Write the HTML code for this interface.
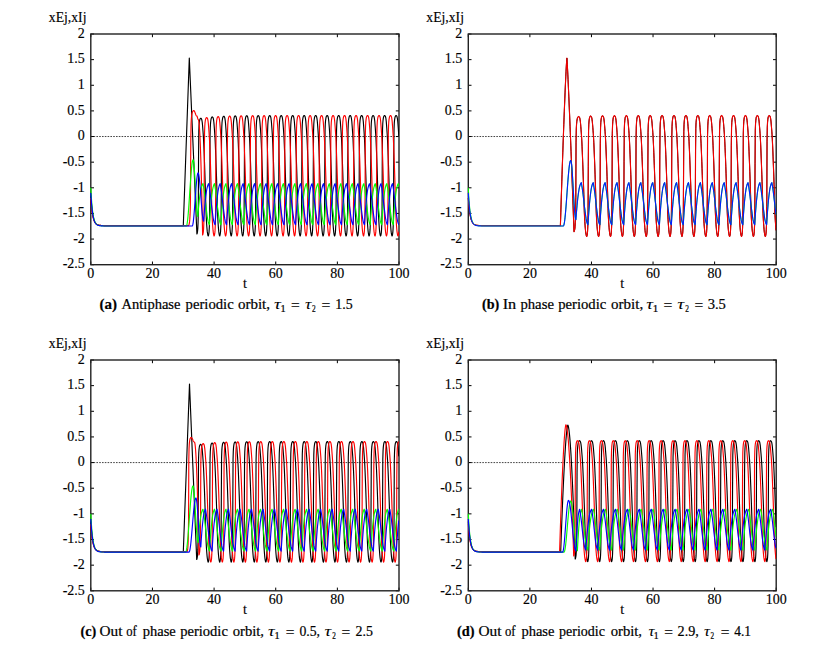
<!DOCTYPE html>
<html><head><meta charset="utf-8"><style>
html,body{margin:0;padding:0;background:#fff;width:819px;height:648px;overflow:hidden}
svg{display:block}
</style></head><body>
<svg width="819" height="648" viewBox="0 0 819 648" font-family='"Liberation Serif", serif' font-size="14" fill="#000">
<style>text{stroke:#000;stroke-width:0.15px} .cp text{stroke-width:0.22px}</style>
<line x1="90.8" y1="136.53" x2="399.0" y2="136.53" stroke="#444" stroke-width="1" stroke-dasharray="1.6,1.2"/>
<path d="M90.8,34.00h3.2M399.0,34.00h-3.2M90.8,59.63h3.2M399.0,59.63h-3.2M90.8,85.27h3.2M399.0,85.27h-3.2M90.8,110.90h3.2M399.0,110.90h-3.2M90.8,136.53h3.2M399.0,136.53h-3.2M90.8,162.17h3.2M399.0,162.17h-3.2M90.8,187.80h3.2M399.0,187.80h-3.2M90.8,213.43h3.2M399.0,213.43h-3.2M90.8,239.07h3.2M399.0,239.07h-3.2M90.8,264.70h3.2M399.0,264.70h-3.2M90.80,34.0v3.2M90.80,264.7v-3.2M152.44,34.0v3.2M152.44,264.7v-3.2M214.08,34.0v3.2M214.08,264.7v-3.2M275.72,34.0v3.2M275.72,264.7v-3.2M337.36,34.0v3.2M337.36,264.7v-3.2M399.00,34.0v3.2M399.00,264.7v-3.2" stroke="#000" stroke-width="1" fill="none"/>
<rect x="90.8" y="34.0" width="308.20" height="230.70" fill="none" stroke="#222" stroke-width="1.4"/>
<clipPath id="clipa"><rect x="89.8" y="33.5" width="309.2" height="231.7"/></clipPath>
<g clip-path="url(#clipa)" fill="none" stroke-width="1.15" stroke-linejoin="round">
<polyline stroke="#000000" points="90.80,195.49 91.05,199.20 91.30,202.45 91.55,205.30 91.80,207.80 92.05,210.00 92.30,211.92 92.55,213.60 92.80,215.08 93.05,216.38 93.30,217.51 93.55,218.51 93.80,219.38 94.05,220.14 94.30,220.81 94.55,221.40 94.80,221.92 95.05,222.37 95.30,222.77 95.55,223.11 95.80,223.42 96.05,223.68 96.30,223.92 96.55,224.12 96.80,224.30 97.05,224.46 97.30,224.60 97.55,224.72 97.80,224.83 98.05,224.92 98.30,225.00 98.55,225.07 98.80,225.14 99.05,225.19 99.30,225.24 99.55,225.28 99.80,225.32 100.05,225.35 100.30,225.38 100.55,225.41 100.80,225.43 101.05,225.45 101.30,225.46 101.55,225.48 101.80,225.49 102.05,225.50 102.30,225.51 102.55,225.52 102.80,225.53 103.05,225.54 103.30,225.54 103.55,225.55 103.80,225.55 104.05,225.56 104.30,225.56 104.55,225.56 104.80,225.56 105.05,225.57 105.30,225.57 105.55,225.57 105.80,225.57 106.05,225.57 106.30,225.57 106.55,225.58 106.80,225.58 107.05,225.58 107.30,225.58 107.55,225.58 107.80,225.58 108.05,225.58 108.30,225.58 108.55,225.58 108.80,225.58 109.05,225.58 109.30,225.58 109.55,225.58 109.80,225.58 110.05,225.58 110.30,225.58 110.55,225.58 110.80,225.58 111.05,225.58 111.30,225.58 111.55,225.58 111.80,225.58 112.05,225.58 112.30,225.58 112.55,225.58 112.80,225.58 113.05,225.58 113.30,225.58 113.55,225.58 113.80,225.58 114.05,225.58 114.30,225.58 114.55,225.58 114.80,225.58 115.05,225.58 115.30,225.58 115.55,225.58 115.80,225.58 116.05,225.58 116.30,225.58 116.55,225.58 116.80,225.58 117.05,225.58 117.30,225.58 117.55,225.58 117.80,225.58 118.05,225.58 118.30,225.58 118.55,225.58 118.80,225.58 119.05,225.58 119.30,225.58 119.55,225.58 119.80,225.58 120.05,225.58 120.30,225.58 120.55,225.58 120.80,225.58 121.05,225.58 121.30,225.58 121.55,225.58 121.80,225.58 122.05,225.58 122.30,225.58 122.55,225.58 122.80,225.58 123.05,225.58 123.30,225.58 123.55,225.58 123.80,225.58 124.05,225.58 124.30,225.58 124.55,225.58 124.80,225.58 125.05,225.58 125.30,225.58 125.55,225.58 125.80,225.58 126.05,225.58 126.30,225.58 126.55,225.58 126.80,225.58 127.05,225.58 127.30,225.58 127.55,225.58 127.80,225.58 128.05,225.58 128.30,225.58 128.55,225.58 128.80,225.58 129.05,225.58 129.30,225.58 129.55,225.58 129.80,225.58 130.05,225.58 130.30,225.58 130.55,225.58 130.80,225.58 131.05,225.58 131.30,225.58 131.55,225.58 131.80,225.58 132.05,225.58 132.30,225.58 132.55,225.58 132.80,225.58 133.05,225.58 133.30,225.58 133.55,225.58 133.80,225.58 134.05,225.58 134.30,225.58 134.55,225.58 134.80,225.58 135.05,225.58 135.30,225.58 135.55,225.58 135.80,225.58 136.05,225.58 136.30,225.58 136.55,225.58 136.80,225.58 137.05,225.58 137.30,225.58 137.55,225.58 137.80,225.58 138.05,225.58 138.30,225.58 138.55,225.58 138.80,225.58 139.05,225.58 139.30,225.58 139.55,225.58 139.80,225.58 140.05,225.58 140.30,225.58 140.55,225.58 140.80,225.58 141.05,225.58 141.30,225.58 141.55,225.58 141.80,225.58 142.05,225.58 142.30,225.58 142.55,225.58 142.80,225.58 143.05,225.58 143.30,225.58 143.55,225.58 143.80,225.58 144.05,225.58 144.30,225.58 144.55,225.58 144.80,225.58 145.05,225.58 145.30,225.58 145.55,225.58 145.80,225.58 146.05,225.58 146.30,225.58 146.55,225.58 146.80,225.58 147.05,225.58 147.30,225.58 147.55,225.58 147.80,225.58 148.05,225.58 148.30,225.58 148.55,225.58 148.80,225.58 149.05,225.58 149.30,225.58 149.55,225.58 149.80,225.58 150.05,225.58 150.30,225.58 150.55,225.58 150.80,225.58 151.05,225.58 151.30,225.58 151.55,225.58 151.80,225.58 152.05,225.58 152.30,225.58 152.55,225.58 152.80,225.58 153.05,225.58 153.30,225.58 153.55,225.58 153.80,225.58 154.05,225.58 154.30,225.58 154.55,225.58 154.80,225.58 155.05,225.58 155.30,225.58 155.55,225.58 155.80,225.58 156.05,225.58 156.30,225.58 156.55,225.58 156.80,225.58 157.05,225.58 157.30,225.58 157.55,225.58 157.80,225.58 158.05,225.58 158.30,225.58 158.55,225.58 158.80,225.58 159.05,225.58 159.30,225.58 159.55,225.58 159.80,225.58 160.05,225.58 160.30,225.58 160.55,225.58 160.80,225.58 161.05,225.58 161.30,225.58 161.55,225.58 161.80,225.58 162.05,225.58 162.30,225.58 162.55,225.58 162.80,225.58 163.05,225.58 163.30,225.58 163.55,225.58 163.80,225.58 164.05,225.58 164.30,225.58 164.55,225.58 164.80,225.58 165.05,225.58 165.30,225.58 165.55,225.58 165.80,225.58 166.05,225.58 166.30,225.58 166.55,225.58 166.80,225.58 167.05,225.58 167.30,225.58 167.55,225.58 167.80,225.58 168.05,225.58 168.30,225.58 168.55,225.58 168.80,225.58 169.05,225.58 169.30,225.58 169.55,225.58 169.80,225.58 170.05,225.58 170.30,225.58 170.55,225.58 170.80,225.58 171.05,225.58 171.30,225.58 171.55,225.58 171.80,225.58 172.05,225.58 172.30,225.58 172.55,225.58 172.80,225.58 173.05,225.58 173.30,225.58 173.55,225.58 173.80,225.58 174.05,225.58 174.30,225.58 174.55,225.58 174.80,225.58 175.05,225.58 175.30,225.58 175.55,225.58 175.80,225.58 176.05,225.58 176.30,225.58 176.55,225.58 176.80,225.58 177.05,225.58 177.30,225.58 177.55,225.58 177.80,225.58 178.05,225.58 178.30,225.58 178.55,225.58 178.80,225.58 179.05,225.58 179.30,225.58 179.55,225.58 179.80,225.58 180.05,225.58 180.30,225.58 180.55,225.58 180.80,225.58 181.05,225.58 181.30,225.58 181.55,225.58 181.80,225.58 182.05,225.58 182.30,225.58 182.55,225.58 182.80,225.58 183.05,225.58 183.30,225.58 183.30,225.58 183.55,218.60 183.80,211.63 184.05,204.65 184.30,197.67 184.55,190.69 184.80,183.71 185.05,176.73 185.30,169.75 185.55,162.78 185.80,155.80 186.05,148.82 186.30,141.84 186.55,134.86 186.80,127.88 187.05,120.90 187.30,113.92 187.55,106.95 187.80,99.97 188.05,92.99 188.30,86.01 188.55,79.03 188.80,72.05 189.05,65.07 189.30,58.10 189.30,58.10 189.55,63.88 189.80,69.66 190.05,75.45 190.30,81.23 190.55,87.02 190.80,92.80 191.05,98.59 191.30,104.37 191.55,110.15 191.80,115.94 192.05,121.72 192.30,127.51 192.55,133.29 192.80,139.08 193.05,144.86 193.30,150.65 193.55,156.43 193.80,162.21 194.05,168.00 194.30,173.78 194.55,179.57 194.80,185.35 195.05,191.14 195.30,196.92 195.55,202.70 195.80,208.49 196.05,214.27 196.30,220.06 196.55,225.84 196.80,231.63 196.90,233.94 197.05,233.76 197.30,232.81 197.55,231.28 197.80,228.47 198.05,222.93 198.30,210.78 198.55,156.23 198.80,131.07 199.05,125.30 199.30,122.58 199.55,120.83 199.80,119.64 200.05,118.99 200.30,118.60 200.55,118.33 200.80,118.23 200.80,118.23 201.05,118.34 201.30,118.65 201.55,119.08 201.80,119.80 202.05,121.15 202.30,122.91 202.55,125.52 202.80,128.82 203.05,132.04 203.30,135.52 203.55,139.65 203.80,144.85 204.05,150.88 204.30,157.30 204.55,164.08 204.80,171.36 205.05,178.97 205.30,186.70 205.55,195.15 205.80,204.15 206.05,212.27 206.30,218.18 206.55,222.60 206.80,226.18 207.05,229.34 207.30,231.89 207.55,233.51 207.80,234.85 208.05,235.76 208.21,235.99 208.30,235.93 208.55,235.20 208.80,233.85 209.05,231.82 209.30,227.50 209.55,219.90 209.80,193.85 210.05,135.81 210.30,127.28 210.55,122.99 210.80,120.78 211.05,119.21 211.30,118.17 211.55,117.62 211.80,117.25 212.05,117.00 212.29,116.91 212.30,116.91 212.55,117.03 212.80,117.34 213.05,117.78 213.30,118.54 213.55,119.93 213.80,121.72 214.05,124.41 214.30,127.74 214.55,131.01 214.80,134.55 215.05,138.76 215.30,144.05 215.55,150.18 215.80,156.68 216.05,163.55 216.30,170.94 216.55,178.64 216.80,186.46 217.05,195.05 217.30,204.15 217.55,212.29 217.80,218.18 218.05,222.61 218.30,226.20 218.55,229.38 218.80,231.92 219.05,233.54 219.30,234.89 219.55,235.78 219.70,235.99 219.80,235.92 220.05,235.16 220.30,233.77 220.55,231.67 220.80,227.22 221.05,219.33 221.30,190.66 221.55,134.78 221.80,126.42 222.05,122.23 222.30,120.05 222.55,118.50 222.80,117.46 223.05,116.93 223.30,116.56 223.55,116.31 223.78,116.23 223.80,116.23 224.05,116.36 224.30,116.68 224.55,117.13 224.80,117.92 225.05,119.33 225.30,121.14 225.55,123.90 225.80,127.26 226.05,130.54 226.30,134.12 226.55,138.39 226.80,143.76 227.05,149.95 227.30,156.49 227.55,163.43 227.80,170.87 228.05,178.62 228.30,186.50 228.55,195.19 228.80,204.32 229.05,212.44 229.30,218.28 229.55,222.69 229.80,226.28 230.05,229.46 230.30,231.98 230.55,233.59 230.80,234.93 231.05,235.80 231.19,235.99 231.30,235.90 231.55,235.11 231.80,233.70 232.05,231.53 232.30,226.96 232.55,218.78 232.80,187.45 233.05,134.05 233.30,125.87 233.55,121.79 233.80,119.64 234.05,118.10 234.30,117.09 234.55,116.56 234.80,116.20 235.05,115.96 235.27,115.88 235.30,115.88 235.55,116.03 235.80,116.35 236.05,116.80 236.30,117.62 236.55,119.06 236.80,120.89 237.05,123.71 237.30,127.07 237.55,130.37 237.80,133.98 238.05,138.30 238.30,143.73 238.55,149.96 238.80,156.53 239.05,163.51 239.30,170.99 239.55,178.77 239.80,186.67 240.05,195.44 240.30,204.59 240.55,212.65 240.80,218.43 241.05,222.81 241.30,226.38 241.55,229.56 241.80,232.04 242.05,233.64 242.30,234.97 242.55,235.82 242.68,235.99 242.80,235.88 243.05,235.06 243.30,233.63 243.55,231.39 243.80,226.71 244.05,218.23 244.30,184.24 244.55,133.46 244.80,125.48 245.05,121.51 245.30,119.40 245.55,117.88 245.80,116.88 246.05,116.37 246.30,116.01 246.55,115.77 246.76,115.70 246.80,115.71 247.05,115.86 247.30,116.19 247.55,116.64 247.80,117.49 248.05,118.95 248.30,120.81 248.55,123.67 248.80,127.04 249.05,130.35 249.30,133.99 249.55,138.35 249.80,143.83 250.05,150.09 250.30,156.68 250.55,163.69 250.80,171.20 251.05,179.00 251.30,186.93 251.55,195.74 251.80,204.89 252.05,212.90 252.30,218.60 252.55,222.95 252.80,226.50 253.05,229.67 253.30,232.12 253.55,233.70 253.80,235.01 254.05,235.84 254.17,235.99 254.30,235.87 254.55,235.01 254.80,233.56 255.05,231.25 255.30,226.46 255.55,217.67 255.80,181.03 256.05,132.96 256.30,125.17 256.55,121.32 256.80,119.24 257.05,117.74 257.30,116.76 257.55,116.26 257.80,115.91 258.05,115.67 258.25,115.61 258.30,115.62 258.55,115.77 258.80,116.11 259.05,116.57 259.30,117.45 259.55,118.93 259.80,120.81 260.05,123.72 260.30,127.09 260.55,130.40 260.80,134.07 261.05,138.48 261.30,144.00 261.55,150.28 261.80,156.89 262.05,163.93 262.30,171.46 262.55,179.27 262.80,187.22 263.05,196.08 263.30,205.22 263.55,213.16 263.80,218.78 264.05,223.09 264.30,226.63 264.55,229.78 264.80,232.19 265.05,233.75 265.30,235.06 265.55,235.86 265.66,235.99 265.80,235.85 266.05,234.96 266.30,233.50 266.55,231.11 266.80,226.21 267.05,217.09 267.30,177.87 267.55,132.50 267.80,124.91 268.05,121.17 268.30,119.12 268.55,117.64 268.80,116.69 269.05,116.20 269.30,115.85 269.55,115.62 269.74,115.56 269.80,115.57 270.05,115.74 270.30,116.08 270.55,116.55 270.80,117.45 271.05,118.95 271.30,120.86 271.55,123.81 271.80,127.18 272.05,130.50 272.30,134.19 272.55,138.64 272.80,144.20 273.05,150.51 273.30,157.13 273.55,164.19 273.80,171.74 274.05,179.57 274.30,187.53 274.55,196.44 274.80,205.56 275.05,213.42 275.30,218.96 275.55,223.24 275.80,226.76 276.05,229.89 276.30,232.26 276.55,233.81 276.80,235.10 277.05,235.88 277.15,235.99 277.30,235.83 277.55,234.91 277.80,233.43 278.05,230.96 278.30,225.96 278.55,216.48 278.80,174.81 279.05,132.08 279.30,124.68 279.55,121.04 279.80,119.03 280.05,117.57 280.30,116.63 280.55,116.16 280.80,115.81 281.05,115.59 281.23,115.54 281.30,115.55 281.55,115.72 281.80,116.08 282.05,116.54 282.30,117.48 282.55,119.00 282.80,120.93 283.05,123.92 283.30,127.29 283.55,130.62 283.80,134.32 284.05,138.82 284.30,144.43 284.55,150.76 284.80,157.38 285.05,164.47 285.30,172.04 285.55,179.87 285.80,187.85 286.05,196.80 286.30,205.90 286.55,213.68 286.80,219.15 287.05,223.39 287.30,226.89 287.55,230.00 287.80,232.33 288.05,233.87 288.30,235.14 288.55,235.90 288.64,235.99 288.80,235.80 289.05,234.86 289.30,233.36 289.55,230.81 289.80,225.70 290.05,215.86 290.30,171.87 290.55,131.67 290.80,124.47 291.05,120.93 291.30,118.95 291.55,117.51 291.80,116.60 292.05,116.13 292.30,115.79 292.55,115.57 292.72,115.53 292.80,115.54 293.05,115.72 293.30,116.08 293.55,116.56 293.80,117.52 294.05,119.06 294.30,121.01 294.55,124.05 294.80,127.40 295.05,130.75 295.30,134.48 295.55,139.02 295.80,144.66 296.05,151.01 296.30,157.65 296.55,164.76 296.80,172.34 297.05,180.18 297.30,188.18 297.55,197.17 297.80,206.25 298.05,213.94 298.30,219.34 298.55,223.54 298.80,227.02 299.05,230.11 299.30,232.39 299.55,233.93 299.80,235.19 300.05,235.91 300.13,235.99 300.30,235.78 300.55,234.81 300.80,233.29 301.05,230.66 301.30,225.44 301.55,215.20 301.80,169.12 302.05,131.28 302.30,124.26 302.55,120.83 302.80,118.87 303.05,117.46 303.30,116.56 303.55,116.11 303.80,115.77 304.05,115.56 304.21,115.52 304.30,115.54 304.55,115.73 304.80,116.09 305.05,116.57 305.30,117.56 305.55,119.12 305.80,121.11 306.05,124.18 306.30,127.53 306.55,130.88 306.80,134.63 307.05,139.22 307.30,144.90 307.55,151.27 307.80,157.91 308.05,165.05 308.30,172.65 308.55,180.50 308.80,188.52 309.05,197.54 309.30,206.59 309.55,214.20 309.80,219.52 310.05,223.69 310.30,227.15 310.55,230.23 310.80,232.46 311.05,233.98 311.30,235.23 311.55,235.93 311.62,235.99 311.80,235.75 312.05,234.76 312.30,233.22 312.55,230.50 312.80,225.18 313.05,214.52 313.30,166.60 313.55,130.90 313.80,124.07 314.05,120.74 314.30,118.80 314.55,117.41 314.80,116.54 315.05,116.09 315.30,115.75 315.55,115.55 315.70,115.52 315.80,115.54 316.05,115.74 316.30,116.10 316.55,116.60 316.80,117.61 317.05,119.19 317.30,121.21 317.55,124.31 317.80,127.66 318.05,131.02 318.30,134.79 318.55,139.42 318.80,145.14 319.05,151.53 319.30,158.19 319.55,165.35 319.80,172.95 320.05,180.81 320.30,188.86 320.55,197.91 320.80,206.93 321.05,214.45 321.30,219.71 321.55,223.84 321.80,227.28 322.05,230.33 322.30,232.52 322.55,234.04 322.80,235.27 323.05,235.94 323.11,235.99 323.30,235.73 323.55,234.71 323.80,233.15 324.05,230.34 324.30,224.91 324.55,213.81 324.80,164.27 325.05,130.53 325.30,123.88 325.55,120.64 325.80,118.74 326.05,117.36 326.30,116.51 326.55,116.07 326.80,115.74 327.05,115.55 327.19,115.52 327.30,115.54 327.55,115.75 327.80,116.12 328.05,116.62 328.30,117.67 328.55,119.26 328.80,121.31 329.05,124.45 329.30,127.79 329.55,131.15 329.80,134.96 330.05,139.63 330.30,145.38 330.55,151.79 330.80,158.46 331.05,165.64 331.30,173.26 331.55,181.13 331.80,189.20 332.05,198.28 332.30,207.27 332.55,214.70 332.80,219.89 333.05,223.99 333.30,227.41 333.55,230.44 333.80,232.59 334.05,234.10 334.30,235.31 334.55,235.95 334.60,235.99 334.80,235.70 335.05,234.65 335.30,233.08 335.55,230.17 335.80,224.64 336.05,213.07 336.30,161.85 336.55,130.17 336.80,123.70 337.05,120.55 337.30,118.67 337.55,117.32 337.80,116.49 338.05,116.06 338.30,115.73 338.55,115.54 338.68,115.51 338.80,115.54 339.05,115.76 339.30,116.14 339.55,116.65 339.80,117.72 340.05,119.33 340.30,121.41 340.55,124.58 340.80,127.92 341.05,131.30 341.30,135.12 341.55,139.84 341.80,145.63 342.05,152.05 342.30,158.74 342.55,165.94 342.80,173.58 343.05,181.45 343.30,189.55 343.55,198.65 343.80,207.61 344.05,214.94 344.30,220.07 344.55,224.13 344.80,227.54 345.05,230.55 345.30,232.65 345.55,234.15 345.80,235.34 346.05,235.96 346.09,235.99 346.30,235.67 346.55,234.60 346.80,233.01 347.05,230.00 347.30,224.36 347.55,212.29 347.80,159.35 348.05,129.82 348.30,123.53 348.55,120.46 348.80,118.61 349.05,117.27 349.30,116.46 349.55,116.04 349.80,115.72 350.05,115.54 350.17,115.51 350.30,115.55 350.55,115.77 350.80,116.15 351.05,116.68 351.30,117.78 351.55,119.40 351.80,121.52 352.05,124.72 352.30,128.05 352.55,131.44 352.80,135.29 353.05,140.06 353.30,145.88 353.55,152.31 353.80,159.01 354.05,166.24 354.30,173.89 354.55,181.76 354.80,189.90 355.05,199.02 355.30,207.94 355.55,215.18 355.80,220.25 356.05,224.28 356.30,227.67 356.55,230.65 356.80,232.71 357.05,234.21 357.30,235.38 357.55,235.97 357.58,235.99 357.80,235.64 358.05,234.54 358.30,232.94 358.55,229.83 358.80,224.08 359.05,211.49 359.30,156.81 359.55,129.48 359.80,123.35 360.05,120.38 360.30,118.54 360.55,117.23 360.80,116.44 361.05,116.03 361.30,115.71 361.55,115.53 361.66,115.51 361.80,115.55 362.05,115.78 362.30,116.17 362.55,116.71 362.80,117.83 363.05,119.47 363.30,121.63 363.55,124.86 363.80,128.18 364.05,131.58 364.30,135.46 364.55,140.27 364.80,146.13 365.05,152.58 365.30,159.29 365.55,166.54 365.80,174.20 366.05,182.08 366.30,190.25 366.55,199.39 366.80,208.27 367.05,215.42 367.30,220.43 367.55,224.43 367.80,227.80 368.05,230.76 368.30,232.77 368.55,234.26 368.80,235.42 369.05,235.98 369.07,235.99 369.30,235.61 369.55,234.49 369.80,232.87 370.05,229.65 370.30,223.79 370.55,210.65 370.80,154.25 371.05,129.15 371.30,123.19 371.55,120.29 371.80,118.48 372.05,117.19 372.30,116.42 372.55,116.01 372.80,115.70 373.05,115.53 373.15,115.51 373.30,115.56 373.55,115.80 373.80,116.19 374.05,116.74 374.30,117.89 374.55,119.55 374.80,121.75 375.05,124.99 375.30,128.31 375.55,131.72 375.80,135.63 376.05,140.49 376.30,146.38 376.55,152.84 376.80,159.57 377.05,166.84 377.30,174.51 377.55,182.40 377.80,190.60 378.05,199.76 378.30,208.60 378.55,215.65 378.80,220.61 379.05,224.57 379.30,227.93 379.55,230.86 379.80,232.84 380.05,234.32 380.30,235.45 380.55,235.99 380.56,235.99 380.80,235.58 381.05,234.43 381.30,232.79 381.55,229.46 381.80,223.49 382.05,209.78 382.30,151.71 382.55,128.82 382.80,123.03 383.05,120.21 383.30,118.42 383.55,117.15 383.80,116.40 384.05,116.00 384.30,115.69 384.55,115.53 384.64,115.51 384.80,115.56 385.05,115.81 385.30,116.21 385.55,116.77 385.80,117.95 386.05,119.62 386.30,121.86 386.55,125.13 386.80,128.44 387.05,131.87 387.30,135.80 387.55,140.71 387.80,146.63 388.05,153.11 388.30,159.85 388.55,167.14 388.80,174.82 389.05,182.71 389.30,190.95 389.55,200.13 389.80,208.93 390.05,215.87 390.30,220.78 390.55,224.71 390.80,228.06 391.05,230.96 391.30,232.90 391.55,234.37 391.80,235.49 392.05,235.99 392.05,235.99 392.30,235.55 392.55,234.37 392.80,232.71 393.05,229.28 393.30,223.19 393.55,208.87 393.80,149.22 394.05,128.51 394.30,122.87 394.55,120.13 394.80,118.36 395.05,117.11 395.30,116.38 395.55,115.98 395.80,115.68 396.05,115.52 396.13,115.51 396.30,115.57 396.55,115.82 396.80,116.23 397.05,116.81 397.30,118.01 397.55,119.69 397.80,121.98 398.05,125.27 398.30,128.57 398.55,132.01 398.80,135.98"/>
<polyline stroke="#ff0000" points="90.80,198.05 91.05,201.45 91.30,204.42 91.55,207.03 91.80,209.32 92.05,211.32 92.30,213.08 92.55,214.62 92.80,215.97 93.05,217.16 93.30,218.20 93.55,219.11 93.80,219.91 94.05,220.61 94.30,221.22 94.55,221.76 94.80,222.23 95.05,222.64 95.30,223.01 95.55,223.32 95.80,223.60 96.05,223.85 96.30,224.06 96.55,224.25 96.80,224.41 97.05,224.56 97.30,224.68 97.55,224.79 97.80,224.89 98.05,224.98 98.30,225.05 98.55,225.12 98.80,225.18 99.05,225.23 99.30,225.27 99.55,225.31 99.80,225.34 100.05,225.37 100.30,225.40 100.55,225.42 100.80,225.44 101.05,225.46 101.30,225.47 101.55,225.49 101.80,225.50 102.05,225.51 102.30,225.52 102.55,225.53 102.80,225.53 103.05,225.54 103.30,225.55 103.55,225.55 103.80,225.55 104.05,225.56 104.30,225.56 104.55,225.56 104.80,225.57 105.05,225.57 105.30,225.57 105.55,225.57 105.80,225.57 106.05,225.57 106.30,225.58 106.55,225.58 106.80,225.58 107.05,225.58 107.30,225.58 107.55,225.58 107.80,225.58 108.05,225.58 108.30,225.58 108.55,225.58 108.80,225.58 109.05,225.58 109.30,225.58 109.55,225.58 109.80,225.58 110.05,225.58 110.30,225.58 110.55,225.58 110.80,225.58 111.05,225.58 111.30,225.58 111.55,225.58 111.80,225.58 112.05,225.58 112.30,225.58 112.55,225.58 112.80,225.58 113.05,225.58 113.30,225.58 113.55,225.58 113.80,225.58 114.05,225.58 114.30,225.58 114.55,225.58 114.80,225.58 115.05,225.58 115.30,225.58 115.55,225.58 115.80,225.58 116.05,225.58 116.30,225.58 116.55,225.58 116.80,225.58 117.05,225.58 117.30,225.58 117.55,225.58 117.80,225.58 118.05,225.58 118.30,225.58 118.55,225.58 118.80,225.58 119.05,225.58 119.30,225.58 119.55,225.58 119.80,225.58 120.05,225.58 120.30,225.58 120.55,225.58 120.80,225.58 121.05,225.58 121.30,225.58 121.55,225.58 121.80,225.58 122.05,225.58 122.30,225.58 122.55,225.58 122.80,225.58 123.05,225.58 123.30,225.58 123.55,225.58 123.80,225.58 124.05,225.58 124.30,225.58 124.55,225.58 124.80,225.58 125.05,225.58 125.30,225.58 125.55,225.58 125.80,225.58 126.05,225.58 126.30,225.58 126.55,225.58 126.80,225.58 127.05,225.58 127.30,225.58 127.55,225.58 127.80,225.58 128.05,225.58 128.30,225.58 128.55,225.58 128.80,225.58 129.05,225.58 129.30,225.58 129.55,225.58 129.80,225.58 130.05,225.58 130.30,225.58 130.55,225.58 130.80,225.58 131.05,225.58 131.30,225.58 131.55,225.58 131.80,225.58 132.05,225.58 132.30,225.58 132.55,225.58 132.80,225.58 133.05,225.58 133.30,225.58 133.55,225.58 133.80,225.58 134.05,225.58 134.30,225.58 134.55,225.58 134.80,225.58 135.05,225.58 135.30,225.58 135.55,225.58 135.80,225.58 136.05,225.58 136.30,225.58 136.55,225.58 136.80,225.58 137.05,225.58 137.30,225.58 137.55,225.58 137.80,225.58 138.05,225.58 138.30,225.58 138.55,225.58 138.80,225.58 139.05,225.58 139.30,225.58 139.55,225.58 139.80,225.58 140.05,225.58 140.30,225.58 140.55,225.58 140.80,225.58 141.05,225.58 141.30,225.58 141.55,225.58 141.80,225.58 142.05,225.58 142.30,225.58 142.55,225.58 142.80,225.58 143.05,225.58 143.30,225.58 143.55,225.58 143.80,225.58 144.05,225.58 144.30,225.58 144.55,225.58 144.80,225.58 145.05,225.58 145.30,225.58 145.55,225.58 145.80,225.58 146.05,225.58 146.30,225.58 146.55,225.58 146.80,225.58 147.05,225.58 147.30,225.58 147.55,225.58 147.80,225.58 148.05,225.58 148.30,225.58 148.55,225.58 148.80,225.58 149.05,225.58 149.30,225.58 149.55,225.58 149.80,225.58 150.05,225.58 150.30,225.58 150.55,225.58 150.80,225.58 151.05,225.58 151.30,225.58 151.55,225.58 151.80,225.58 152.05,225.58 152.30,225.58 152.55,225.58 152.80,225.58 153.05,225.58 153.30,225.58 153.55,225.58 153.80,225.58 154.05,225.58 154.30,225.58 154.55,225.58 154.80,225.58 155.05,225.58 155.30,225.58 155.55,225.58 155.80,225.58 156.05,225.58 156.30,225.58 156.55,225.58 156.80,225.58 157.05,225.58 157.30,225.58 157.55,225.58 157.80,225.58 158.05,225.58 158.30,225.58 158.55,225.58 158.80,225.58 159.05,225.58 159.30,225.58 159.55,225.58 159.80,225.58 160.05,225.58 160.30,225.58 160.55,225.58 160.80,225.58 161.05,225.58 161.30,225.58 161.55,225.58 161.80,225.58 162.05,225.58 162.30,225.58 162.55,225.58 162.80,225.58 163.05,225.58 163.30,225.58 163.55,225.58 163.80,225.58 164.05,225.58 164.30,225.58 164.55,225.58 164.80,225.58 165.05,225.58 165.30,225.58 165.55,225.58 165.80,225.58 166.05,225.58 166.30,225.58 166.55,225.58 166.80,225.58 167.05,225.58 167.30,225.58 167.55,225.58 167.80,225.58 168.05,225.58 168.30,225.58 168.55,225.58 168.80,225.58 169.05,225.58 169.30,225.58 169.55,225.58 169.80,225.58 170.05,225.58 170.30,225.58 170.55,225.58 170.80,225.58 171.05,225.58 171.30,225.58 171.55,225.58 171.80,225.58 172.05,225.58 172.30,225.58 172.55,225.58 172.80,225.58 173.05,225.58 173.30,225.58 173.55,225.58 173.80,225.58 174.05,225.58 174.30,225.58 174.55,225.58 174.80,225.58 175.05,225.58 175.30,225.58 175.55,225.58 175.80,225.58 176.05,225.58 176.30,225.58 176.55,225.58 176.80,225.58 177.05,225.58 177.30,225.58 177.55,225.58 177.80,225.58 178.05,225.58 178.30,225.58 178.55,225.58 178.80,225.58 179.05,225.58 179.30,225.58 179.55,225.58 179.80,225.58 180.05,225.58 180.30,225.58 180.55,225.58 180.80,225.58 181.05,225.58 181.30,225.58 181.55,225.58 181.80,225.58 182.05,225.58 182.30,225.58 182.55,225.58 182.80,225.58 183.05,225.58 183.30,225.58 183.55,225.58 183.80,225.58 184.05,225.58 184.30,225.58 184.55,225.58 184.80,225.58 185.05,225.58 185.30,225.58 185.55,225.58 185.80,225.58 186.05,225.58 186.30,225.58 186.55,225.58 186.80,225.58 187.05,225.58 187.30,225.58 187.55,225.58 187.80,225.58 188.05,225.58 188.30,225.58 188.50,225.58 188.55,225.57 188.80,225.22 189.05,224.44 189.30,223.35 189.55,221.90 189.80,219.15 190.05,214.90 190.30,207.74 190.55,187.88 190.80,138.04 191.05,124.13 191.30,119.20 191.55,116.37 191.80,114.69 192.05,113.40 192.30,112.42 192.55,111.72 192.80,111.32 193.05,111.03 193.30,110.80 193.55,110.65 193.80,110.59 193.80,110.59 194.05,110.68 194.30,110.96 194.55,111.39 194.80,111.95 195.05,112.61 195.30,113.31 195.55,114.01 195.80,114.67 196.05,115.23 196.30,115.66 196.55,115.93 196.80,116.03 196.80,116.03 197.05,116.27 197.30,116.92 197.55,117.82 197.80,118.72 198.05,119.37 198.30,119.62 198.30,119.62 198.55,120.01 198.80,121.17 199.05,123.12 199.30,125.85 199.55,129.36 199.80,133.65 200.05,138.72 200.30,144.57 200.55,151.20 200.80,158.61 201.05,166.79 201.30,175.76 201.55,185.51 201.80,196.04 202.05,207.34 202.30,219.43 202.55,232.30 202.60,234.97 202.80,234.68 203.05,233.67 203.30,232.15 203.55,229.36 203.80,224.04 204.05,213.09 204.30,164.54 204.55,132.16 204.80,125.72 205.05,122.57 205.30,120.72 205.55,119.38 205.80,118.55 206.05,118.12 206.30,117.79 206.55,117.60 206.70,117.56 206.80,117.58 207.05,117.78 207.30,118.14 207.55,118.63 207.80,119.63 208.05,121.17 208.30,123.16 208.55,126.21 208.80,129.50 209.05,132.80 209.30,136.51 209.55,141.07 209.80,146.68 210.05,152.96 210.30,159.51 210.55,166.55 210.80,174.03 211.05,181.75 211.30,189.66 211.55,198.55 211.80,207.42 212.05,214.82 212.30,219.98 212.55,224.05 212.80,227.43 213.05,230.43 213.30,232.58 213.55,234.07 213.80,235.28 214.05,235.94 214.11,235.99 214.30,235.73 214.55,234.72 214.80,233.18 215.05,230.39 215.30,225.01 215.55,214.00 215.80,164.89 216.05,131.45 216.30,124.86 216.55,121.65 216.80,119.76 217.05,118.40 217.30,117.55 217.55,117.12 217.80,116.79 218.05,116.60 218.19,116.57 218.30,116.59 218.55,116.80 218.80,117.17 219.05,117.66 219.30,118.70 219.55,120.28 219.80,122.31 220.05,125.42 220.30,128.73 220.55,132.07 220.80,135.84 221.05,140.47 221.30,146.17 221.55,152.52 221.80,159.14 222.05,166.26 222.30,173.81 222.55,181.61 222.80,189.61 223.05,198.61 223.30,207.52 223.55,214.89 223.80,220.03 224.05,224.09 224.30,227.49 224.55,230.49 224.80,232.62 225.05,234.11 225.30,235.31 225.55,235.95 225.60,235.99 225.80,235.70 226.05,234.66 226.30,233.10 226.55,230.20 226.80,224.69 227.05,213.17 227.30,162.18 227.55,130.65 227.80,124.20 228.05,121.07 228.30,119.20 228.55,117.85 228.80,117.02 229.05,116.59 229.30,116.27 229.55,116.08 229.68,116.05 229.80,116.08 230.05,116.30 230.30,116.67 230.55,117.18 230.80,118.25 231.05,119.85 231.30,121.93 231.55,125.08 231.80,128.40 232.05,131.76 232.30,135.58 232.55,140.27 232.80,146.03 233.05,152.43 233.30,159.08 233.55,166.25 233.80,173.85 234.05,181.69 234.30,189.76 234.55,198.82 234.80,207.73 235.05,215.04 235.30,220.14 235.55,224.19 235.80,227.58 236.05,230.57 236.30,232.66 236.55,234.16 236.80,235.35 237.05,235.96 237.09,235.99 237.30,235.67 237.55,234.60 237.80,233.02 238.05,230.02 238.30,224.39 238.55,212.35 238.80,159.53 239.05,130.07 239.30,123.78 239.55,120.73 239.80,118.88 240.05,117.54 240.30,116.74 240.55,116.32 240.80,116.00 241.05,115.81 241.17,115.79 241.30,115.82 241.55,116.05 241.80,116.43 242.05,116.95 242.30,118.05 242.55,119.67 242.80,121.79 243.05,124.98 243.30,128.30 243.55,131.68 243.80,135.52 244.05,140.28 244.30,146.08 244.55,152.51 244.80,159.19 245.05,166.40 245.30,174.03 245.55,181.89 245.80,190.00 246.05,199.10 246.30,208.01 246.55,215.23 246.80,220.29 247.05,224.31 247.30,227.69 247.55,230.67 247.80,232.72 248.05,234.21 248.30,235.38 248.55,235.97 248.58,235.99 248.80,235.64 249.05,234.55 249.30,232.95 249.55,229.83 249.80,224.09 250.05,211.52 250.30,156.90 250.55,129.61 250.80,123.49 251.05,120.51 251.30,118.68 251.55,117.37 251.80,116.58 252.05,116.17 252.30,115.85 252.55,115.68 252.66,115.66 252.80,115.69 253.05,115.92 253.30,116.31 253.55,116.85 253.80,117.97 254.05,119.61 254.30,121.77 254.55,124.99 254.80,128.31 255.05,131.70 255.30,135.58 255.55,140.38 255.80,146.23 256.05,152.68 256.30,159.38 256.55,166.62 256.80,174.27 257.05,182.14 257.30,190.30 257.55,199.43 257.80,208.31 258.05,215.44 258.30,220.45 258.55,224.44 258.80,227.81 259.05,230.76 259.30,232.78 259.55,234.27 259.80,235.42 260.05,235.98 260.07,235.99 260.30,235.61 260.55,234.49 260.80,232.87 261.05,229.65 261.30,223.80 261.55,210.67 261.80,154.30 262.05,129.21 262.30,123.26 262.55,120.36 262.80,118.55 263.05,117.26 263.30,116.49 263.55,116.08 263.80,115.77 264.05,115.60 264.15,115.59 264.30,115.63 264.55,115.87 264.80,116.26 265.05,116.81 265.30,117.96 265.55,119.62 265.80,121.82 266.05,125.06 266.30,128.38 266.55,131.79 266.80,135.69 267.05,140.55 267.30,146.43 267.55,152.89 267.80,159.62 268.05,166.88 268.30,174.55 268.55,182.43 268.80,190.63 269.05,199.78 269.30,208.62 269.55,215.66 269.80,220.62 270.05,224.58 270.30,227.94 270.55,230.86 270.80,232.84 271.05,234.32 271.30,235.45 271.55,235.99 271.56,235.99 271.80,235.58 272.05,234.43 272.30,232.79 272.55,229.47 272.80,223.50 273.05,209.79 273.30,151.73 273.55,128.86 273.80,123.06 274.05,120.25 274.30,118.45 274.55,117.18 274.80,116.44 275.05,116.03 275.30,115.73 275.55,115.56 275.64,115.55 275.80,115.60 276.05,115.85 276.30,116.25 276.55,116.81 276.80,117.98 277.05,119.66 277.30,121.90 277.55,125.17 277.80,128.48 278.05,131.90 278.30,135.84 278.55,140.74 278.80,146.65 279.05,153.13 279.30,159.88 279.55,167.16 279.80,174.84 280.05,182.73 280.30,190.97 280.55,200.14 280.80,208.94 281.05,215.88 281.30,220.79 281.55,224.71 281.80,228.06 282.05,230.96 282.30,232.90 282.55,234.37 282.80,235.49 283.05,235.99 283.05,235.99 283.30,235.55 283.55,234.37 283.80,232.71 284.05,229.28 284.30,223.19 284.55,208.88 284.80,149.23 285.05,128.52 285.30,122.89 285.55,120.15 285.80,118.38 286.05,117.13 286.30,116.40 286.55,116.00 286.80,115.70 287.05,115.54 287.13,115.53 287.30,115.59 287.55,115.84 287.80,116.25 288.05,116.83 288.30,118.02 288.55,119.71 288.80,122.00 289.05,125.28 289.30,128.59 289.55,132.03 289.80,135.99 290.05,140.94 290.30,146.89 290.55,153.38 290.80,160.15 291.05,167.45 291.30,175.15 291.55,183.04 291.80,191.32 292.05,200.50 292.30,209.26 292.55,216.09 292.80,220.96 293.05,224.85 293.30,228.19 293.55,231.06 293.80,232.96 294.05,234.43 294.30,235.52 294.54,235.99 294.55,235.99 294.80,235.51 295.05,234.32 295.30,232.62 295.55,229.09 295.80,222.86 296.05,207.94 296.30,146.82 296.55,128.21 296.80,122.73 297.05,120.06 297.30,118.31 297.55,117.08 297.80,116.37 298.05,115.98 298.30,115.68 298.55,115.53 298.62,115.52 298.80,115.59 299.05,115.85 299.30,116.25 299.55,116.85 299.80,118.08 300.05,119.78 300.30,122.11 300.55,125.41 300.80,128.72 301.05,132.17 301.30,136.16 301.55,141.16 301.80,147.14 302.05,153.64 302.30,160.42 302.55,167.75 302.80,175.45 303.05,183.35 303.30,191.67 303.55,200.87 303.80,209.57 304.05,216.31 304.30,221.13 304.55,224.99 304.80,228.32 305.05,231.16 305.30,233.02 305.55,234.48 305.80,235.55 306.03,235.99 306.05,235.99 306.30,235.48 306.55,234.26 306.80,232.53 307.05,228.89 307.30,222.53 307.55,206.96 307.80,144.53 308.05,127.90 308.30,122.58 308.55,119.97 308.80,118.24 309.05,117.03 309.30,116.35 309.55,115.96 309.80,115.67 310.05,115.53 310.11,115.52 310.30,115.59 310.55,115.85 310.80,116.27 311.05,116.89 311.30,118.13 311.55,119.85 311.80,122.22 312.05,125.54 312.30,128.84 312.55,132.31 312.80,136.33 313.05,141.38 313.30,147.39 313.55,153.90 313.80,160.70 314.05,168.05 314.30,175.77 314.55,183.67 314.80,192.03 315.05,201.24 315.30,209.89 315.55,216.52 315.80,221.30 316.05,225.13 316.30,228.44 316.55,231.25 316.80,233.09 317.05,234.53 317.30,235.59 317.52,235.99 317.55,235.98 317.80,235.44 318.05,234.20 318.30,232.43 318.55,228.69 318.80,222.18 319.05,205.94 319.30,142.39 319.55,127.61 319.80,122.44 320.05,119.89 320.30,118.18 320.55,116.99 320.80,116.33 321.05,115.94 321.30,115.65 321.55,115.52 321.60,115.52 321.80,115.59 322.05,115.87 322.30,116.29 322.55,116.92 322.80,118.19 323.05,119.92 323.30,122.34 323.55,125.68 323.80,128.97 324.05,132.45 324.30,136.51 324.55,141.60 324.80,147.64 325.05,154.17 325.30,160.98 325.55,168.35 325.80,176.08 326.05,183.98 326.30,192.39 326.55,201.60 326.80,210.20 327.05,216.74 327.30,221.47 327.55,225.27 327.80,228.57 328.05,231.35 328.30,233.15 328.55,234.58 328.80,235.62 329.01,235.99 329.05,235.98 329.30,235.40 329.55,234.14 329.80,232.33 330.05,228.49 330.30,221.81 330.55,204.71 330.80,140.45 331.05,127.32 331.30,122.30 331.55,119.81 331.80,118.12 332.05,116.96 332.30,116.31 332.55,115.93 332.80,115.64 333.05,115.52 333.09,115.52 333.30,115.60 333.55,115.88 333.80,116.30 334.05,116.96 334.30,118.25 334.55,119.99 334.80,122.46 335.05,125.81 335.30,129.11 335.55,132.60 335.80,136.69 336.05,141.82 336.30,147.89 336.55,154.43 336.80,161.27 337.05,168.65 337.30,176.39 337.55,184.30 337.80,192.75 338.05,201.97 338.30,210.51 338.55,216.95 338.80,221.64 339.05,225.41 339.30,228.69 339.55,231.44 339.80,233.21 340.05,234.63 340.30,235.65 340.50,235.99 340.55,235.97 340.80,235.36 341.05,234.07 341.30,232.23 341.55,228.28 341.80,221.43 342.05,203.07 342.30,138.72 342.55,127.05 342.80,122.16 343.05,119.73 343.30,118.06 343.55,116.92 343.80,116.30 344.05,115.91 344.30,115.64 344.55,115.52 344.58,115.51 344.80,115.61 345.05,115.89 345.30,116.32 345.55,117.00 345.80,118.31 346.05,120.07 346.30,122.59 346.55,125.95 346.80,129.24 347.05,132.75 347.30,136.87 347.55,142.05 347.80,148.15 348.05,154.70 348.30,161.55 348.55,168.95 348.80,176.71 349.05,184.61 349.30,193.11 349.55,202.33 349.80,210.82 350.05,217.16 350.30,221.80 350.55,225.55 350.80,228.82 351.05,231.53 351.30,233.27 351.55,234.68 351.80,235.67 351.99,235.99 352.05,235.96 352.30,235.32 352.55,234.01 352.80,232.12 353.05,228.06 353.30,221.03 353.55,201.06 353.80,137.24 354.05,126.78 354.30,122.03 354.55,119.66 354.80,118.01 355.05,116.89 355.30,116.28 355.55,115.90 355.80,115.63 356.05,115.52 356.07,115.51 356.30,115.61 356.55,115.91 356.80,116.34 357.05,117.04 357.30,118.38 357.55,120.15 357.80,122.72 358.05,126.08 358.30,129.37 358.55,132.90 358.80,137.05 359.05,142.28 359.30,148.40 359.55,154.96 359.80,161.84 360.05,169.26 360.30,177.02 360.55,184.93 360.80,193.48 361.05,202.70 361.30,211.12 361.55,217.36 361.80,221.97 362.05,225.68 362.30,228.94 362.55,231.62 362.80,233.33 363.05,234.73 363.30,235.70 363.48,235.99 363.55,235.95 363.80,235.28 364.05,233.95 364.30,232.01 364.55,227.85 364.80,220.61 365.05,198.74 365.30,136.05 365.55,126.51 365.80,121.91 366.05,119.58 366.30,117.95 366.55,116.85 366.80,116.26 367.05,115.89 367.30,115.62 367.55,115.51 367.56,115.51 367.80,115.62 368.05,115.92 368.30,116.36 368.55,117.08 368.80,118.44 369.05,120.22 369.30,122.84 369.55,126.21 369.80,129.51 370.05,133.05 370.30,137.24 370.55,142.51 370.80,148.66 371.05,155.22 371.30,162.13 371.55,169.56 371.80,177.34 372.05,185.25 372.30,193.84 372.55,203.06 372.80,211.42 373.05,217.57 373.30,222.13 373.55,225.82 373.80,229.06 374.05,231.71 374.30,233.39 374.55,234.78 374.80,235.73 374.97,235.99 375.05,235.94 375.30,235.24 375.55,233.89 375.80,231.89 376.05,227.63 376.30,220.17 376.55,196.16 376.80,135.17 377.05,126.26 377.30,121.79 377.55,119.51 377.80,117.90 378.05,116.82 378.30,116.25 378.55,115.87 378.80,115.61 379.05,115.51 379.05,115.51 379.30,115.63 379.55,115.94 379.80,116.38 380.05,117.12 380.30,118.50 380.55,120.30 380.80,122.97 381.05,126.34 381.30,129.64 381.55,133.21 381.80,137.43 382.05,142.74 382.30,148.92 382.55,155.49 382.80,162.42 383.05,169.87 383.30,177.65 383.55,185.56 383.80,194.21 384.05,203.42 384.30,211.72 384.55,217.77 384.80,222.29 385.05,225.95 385.30,229.18 385.55,231.79 385.80,233.45 386.05,234.83 386.30,235.75 386.46,235.99 386.55,235.93 386.80,235.19 387.05,233.82 387.30,231.77 387.55,227.40 387.80,219.71 388.05,193.36 388.30,134.63 388.55,126.01 388.80,121.67 389.05,119.43 389.30,117.85 389.55,116.79 389.80,116.23 390.05,115.86 390.30,115.60 390.54,115.51 390.55,115.51 390.80,115.64 391.05,115.95 391.30,116.40 391.55,117.17 391.80,118.57 392.05,120.38 392.30,123.10 392.55,126.48 392.80,129.78 393.05,133.36 393.30,137.62 393.55,142.98 393.80,149.18 394.05,155.75 394.30,162.71 394.55,170.18 394.80,177.97 395.05,185.88 395.30,194.57 395.55,203.78 395.80,212.01 396.05,217.97 396.30,222.45 396.55,226.09 396.80,229.30 397.05,231.87 397.30,233.51 397.55,234.88 397.80,235.78 397.95,235.99 398.05,235.92 398.30,235.15 398.55,233.76 398.80,231.65"/>
<polyline stroke="#00ff00" points="90.80,187.80 91.05,192.51 91.30,196.64 91.55,200.26 91.80,203.43 92.05,206.21 92.30,208.65 92.55,210.79 92.80,212.66 93.05,214.31 93.30,215.75 93.55,217.01 93.80,218.12 94.05,219.09 94.30,219.94 94.55,220.69 94.80,221.34 95.05,221.91 95.30,222.42 95.55,222.86 95.80,223.25 96.05,223.58 96.30,223.88 96.55,224.14 96.80,224.37 97.05,224.57 97.30,224.75 97.55,224.90 97.80,225.03 98.05,225.15 98.30,225.26 98.55,225.35 98.80,225.43 99.05,225.50 99.30,225.56 99.55,225.61 99.80,225.66 100.05,225.70 100.30,225.74 100.55,225.77 100.80,225.80 101.05,225.82 101.30,225.84 101.55,225.86 101.80,225.88 102.05,225.89 102.30,225.90 102.55,225.91 102.80,225.92 103.05,225.93 103.30,225.94 103.55,225.95 103.80,225.95 104.05,225.96 104.30,225.96 104.55,225.97 104.80,225.97 105.05,225.97 105.30,225.98 105.55,225.98 105.80,225.98 106.05,225.98 106.30,225.98 106.55,225.98 106.80,225.99 107.05,225.99 107.30,225.99 107.55,225.99 107.80,225.99 108.05,225.99 108.30,225.99 108.55,225.99 108.80,225.99 109.05,225.99 109.30,225.99 109.55,225.99 109.80,225.99 110.05,225.99 110.30,225.99 110.55,225.99 110.80,225.99 111.05,225.99 111.30,225.99 111.55,225.99 111.80,225.99 112.05,225.99 112.30,225.99 112.55,225.99 112.80,225.99 113.05,225.99 113.30,225.99 113.55,225.99 113.80,225.99 114.05,225.99 114.30,225.99 114.55,225.99 114.80,225.99 115.05,225.99 115.30,225.99 115.55,225.99 115.80,225.99 116.05,225.99 116.30,225.99 116.55,225.99 116.80,225.99 117.05,225.99 117.30,225.99 117.55,225.99 117.80,225.99 118.05,225.99 118.30,225.99 118.55,225.99 118.80,225.99 119.05,225.99 119.30,225.99 119.55,225.99 119.80,225.99 120.05,225.99 120.30,225.99 120.55,225.99 120.80,225.99 121.05,225.99 121.30,225.99 121.55,225.99 121.80,225.99 122.05,225.99 122.30,225.99 122.55,225.99 122.80,225.99 123.05,225.99 123.30,225.99 123.55,225.99 123.80,225.99 124.05,225.99 124.30,225.99 124.55,225.99 124.80,225.99 125.05,225.99 125.30,225.99 125.55,225.99 125.80,225.99 126.05,225.99 126.30,225.99 126.55,225.99 126.80,225.99 127.05,225.99 127.30,225.99 127.55,225.99 127.80,225.99 128.05,225.99 128.30,225.99 128.55,225.99 128.80,225.99 129.05,225.99 129.30,225.99 129.55,225.99 129.80,225.99 130.05,225.99 130.30,225.99 130.55,225.99 130.80,225.99 131.05,225.99 131.30,225.99 131.55,225.99 131.80,225.99 132.05,225.99 132.30,225.99 132.55,225.99 132.80,225.99 133.05,225.99 133.30,225.99 133.55,225.99 133.80,225.99 134.05,225.99 134.30,225.99 134.55,225.99 134.80,225.99 135.05,225.99 135.30,225.99 135.55,225.99 135.80,225.99 136.05,225.99 136.30,225.99 136.55,225.99 136.80,225.99 137.05,225.99 137.30,225.99 137.55,225.99 137.80,225.99 138.05,225.99 138.30,225.99 138.55,225.99 138.80,225.99 139.05,225.99 139.30,225.99 139.55,225.99 139.80,225.99 140.05,225.99 140.30,225.99 140.55,225.99 140.80,225.99 141.05,225.99 141.30,225.99 141.55,225.99 141.80,225.99 142.05,225.99 142.30,225.99 142.55,225.99 142.80,225.99 143.05,225.99 143.30,225.99 143.55,225.99 143.80,225.99 144.05,225.99 144.30,225.99 144.55,225.99 144.80,225.99 145.05,225.99 145.30,225.99 145.55,225.99 145.80,225.99 146.05,225.99 146.30,225.99 146.55,225.99 146.80,225.99 147.05,225.99 147.30,225.99 147.55,225.99 147.80,225.99 148.05,225.99 148.30,225.99 148.55,225.99 148.80,225.99 149.05,225.99 149.30,225.99 149.55,225.99 149.80,225.99 150.05,225.99 150.30,225.99 150.55,225.99 150.80,225.99 151.05,225.99 151.30,225.99 151.55,225.99 151.80,225.99 152.05,225.99 152.30,225.99 152.55,225.99 152.80,225.99 153.05,225.99 153.30,225.99 153.55,225.99 153.80,225.99 154.05,225.99 154.30,225.99 154.55,225.99 154.80,225.99 155.05,225.99 155.30,225.99 155.55,225.99 155.80,225.99 156.05,225.99 156.30,225.99 156.55,225.99 156.80,225.99 157.05,225.99 157.30,225.99 157.55,225.99 157.80,225.99 158.05,225.99 158.30,225.99 158.55,225.99 158.80,225.99 159.05,225.99 159.30,225.99 159.55,225.99 159.80,225.99 160.05,225.99 160.30,225.99 160.55,225.99 160.80,225.99 161.05,225.99 161.30,225.99 161.55,225.99 161.80,225.99 162.05,225.99 162.30,225.99 162.55,225.99 162.80,225.99 163.05,225.99 163.30,225.99 163.55,225.99 163.80,225.99 164.05,225.99 164.30,225.99 164.55,225.99 164.80,225.99 165.05,225.99 165.30,225.99 165.55,225.99 165.80,225.99 166.05,225.99 166.30,225.99 166.55,225.99 166.80,225.99 167.05,225.99 167.30,225.99 167.55,225.99 167.80,225.99 168.05,225.99 168.30,225.99 168.55,225.99 168.80,225.99 169.05,225.99 169.30,225.99 169.55,225.99 169.80,225.99 170.05,225.99 170.30,225.99 170.55,225.99 170.80,225.99 171.05,225.99 171.30,225.99 171.55,225.99 171.80,225.99 172.05,225.99 172.30,225.99 172.55,225.99 172.80,225.99 173.05,225.99 173.30,225.99 173.55,225.99 173.80,225.99 174.05,225.99 174.30,225.99 174.55,225.99 174.80,225.99 175.05,225.99 175.30,225.99 175.55,225.99 175.80,225.99 176.05,225.99 176.30,225.99 176.55,225.99 176.80,225.99 177.05,225.99 177.30,225.99 177.55,225.99 177.80,225.99 178.05,225.99 178.30,225.99 178.55,225.99 178.80,225.99 179.05,225.99 179.30,225.99 179.55,225.99 179.80,225.99 180.05,225.99 180.30,225.99 180.55,225.99 180.80,225.99 181.05,225.99 181.30,225.99 181.55,225.99 181.80,225.99 182.05,225.99 182.30,225.99 182.55,225.99 182.80,225.99 183.05,225.99 183.30,225.99 183.55,225.99 183.80,225.99 184.05,225.99 184.30,225.99 184.55,225.99 184.80,225.99 185.05,225.99 185.30,225.99 185.55,225.99 185.80,225.99 186.05,225.99 186.30,225.99 186.30,225.99 186.55,225.77 186.80,225.12 187.05,224.03 187.30,222.53 187.55,220.63 187.80,218.37 188.05,215.76 188.30,212.85 188.55,209.68 188.80,206.28 189.05,202.71 189.30,199.00 189.55,195.22 189.80,191.40 190.05,187.60 190.30,183.88 190.55,180.27 190.80,176.84 191.05,173.61 191.30,170.65 191.55,167.98 191.80,165.65 192.05,163.67 192.30,162.09 192.55,160.92 192.80,160.18 193.05,159.87 193.10,159.86 193.30,160.11 193.55,161.13 193.80,162.90 194.05,165.38 194.30,168.49 194.55,172.15 194.80,176.26 195.05,180.70 195.30,185.35 195.55,190.08 195.80,194.75 196.05,199.24 196.30,203.43 196.55,207.18 196.80,210.41 197.05,213.02 197.30,214.94 197.55,216.11 197.80,216.51 197.80,216.51 198.05,213.37 198.30,210.39 198.55,207.64 198.80,205.06 199.05,202.57 199.30,200.20 199.55,198.02 199.80,196.08 200.05,194.35 200.30,192.70 200.55,191.14 200.80,189.72 201.05,188.48 201.30,187.45 201.55,186.65 201.80,185.92 202.05,185.24 202.30,184.65 202.55,184.18 202.80,183.84 203.00,183.70 203.05,183.98 203.30,185.43 203.55,186.96 203.80,188.57 204.05,190.27 204.30,192.05 204.55,193.98 204.80,196.09 205.05,198.30 205.30,200.57 205.55,202.84 205.80,205.04 206.05,207.13 206.30,209.07 206.55,211.04 206.80,213.04 207.05,214.99 207.30,216.84 207.55,218.53 207.80,219.99 208.05,221.16 208.30,222.07 208.55,222.90 208.80,223.62 209.05,224.20 209.30,224.61 209.40,224.71 209.55,222.29 209.80,218.40 210.05,214.77 210.30,211.43 210.55,208.21 210.80,205.13 211.05,202.28 211.30,199.71 211.55,197.47 211.80,195.34 212.05,193.32 212.30,191.48 212.55,189.85 212.80,188.51 213.05,187.46 213.30,186.53 213.55,185.66 213.80,184.90 214.05,184.29 214.30,183.87 214.49,183.70 214.55,184.03 214.80,185.49 215.05,187.02 215.30,188.64 215.55,190.34 215.80,192.12 216.05,194.06 216.30,196.17 216.55,198.39 216.80,200.66 217.05,202.93 217.30,205.13 217.55,207.21 217.80,209.15 218.05,211.12 218.30,213.12 218.55,215.07 218.80,216.92 219.05,218.60 219.30,220.05 219.55,221.20 219.80,222.10 220.05,222.93 220.30,223.65 220.55,224.22 220.80,224.62 220.89,224.71 221.05,222.13 221.30,218.25 221.55,214.63 221.80,211.30 222.05,208.08 222.30,205.01 222.55,202.17 222.80,199.62 223.05,197.38 223.30,195.25 223.55,193.24 223.80,191.41 224.05,189.80 224.30,188.46 224.55,187.43 224.80,186.49 225.05,185.63 225.30,184.87 225.55,184.27 225.80,183.86 225.98,183.70 226.05,184.09 226.30,185.54 226.55,187.08 226.80,188.70 227.05,190.41 227.30,192.19 227.55,194.15 227.80,196.26 228.05,198.48 228.30,200.75 228.55,203.01 228.80,205.21 229.05,207.29 229.30,209.23 229.55,211.20 229.80,213.20 230.05,215.15 230.30,216.99 230.55,218.66 230.80,220.10 231.05,221.24 231.30,222.14 231.55,222.96 231.80,223.67 232.05,224.24 232.30,224.63 232.38,224.71 232.55,221.97 232.80,218.10 233.05,214.49 233.30,211.17 233.55,207.95 233.80,204.90 234.05,202.06 234.30,199.52 234.55,197.29 234.80,195.17 235.05,193.17 235.30,191.34 235.55,189.74 235.80,188.41 236.05,187.39 236.30,186.45 236.55,185.59 236.80,184.85 237.05,184.25 237.30,183.85 237.47,183.70 237.55,184.15 237.80,185.60 238.05,187.15 238.30,188.77 238.55,190.48 238.80,192.27 239.05,194.23 239.30,196.35 239.55,198.57 239.80,200.84 240.05,203.10 240.30,205.30 240.55,207.37 240.80,209.31 241.05,211.28 241.30,213.28 241.55,215.22 241.80,217.06 242.05,218.72 242.30,220.15 242.55,221.28 242.80,222.17 243.05,222.99 243.30,223.70 243.55,224.26 243.80,224.64 243.87,224.71 244.05,221.81 244.30,217.95 244.55,214.35 244.80,211.04 245.05,207.83 245.30,204.78 245.55,201.96 245.80,199.43 246.05,197.21 246.30,195.09 246.55,193.09 246.80,191.27 247.05,189.68 247.30,188.37 247.55,187.35 247.80,186.42 248.05,185.56 248.30,184.82 248.55,184.23 248.80,183.83 248.96,183.70 249.05,184.20 249.30,185.66 249.55,187.21 249.80,188.84 250.05,190.55 250.30,192.34 250.55,194.31 250.80,196.43 251.05,198.66 251.30,200.93 251.55,203.19 251.80,205.39 252.05,207.45 252.30,209.39 252.55,211.36 252.80,213.36 253.05,215.30 253.30,217.13 253.55,218.78 253.80,220.20 254.05,221.32 254.30,222.21 254.55,223.02 254.80,223.72 255.05,224.28 255.30,224.65 255.36,224.71 255.55,221.65 255.80,217.80 256.05,214.22 256.30,210.91 256.55,207.70 256.80,204.66 257.05,201.85 257.30,199.33 257.55,197.12 257.80,195.00 258.05,193.01 258.30,191.20 258.55,189.62 258.80,188.32 259.05,187.31 259.30,186.38 259.55,185.53 259.80,184.79 260.05,184.21 260.30,183.82 260.45,183.70 260.55,184.26 260.80,185.72 261.05,187.27 261.30,188.90 261.55,190.62 261.80,192.42 262.05,194.39 262.30,196.52 262.55,198.75 262.80,201.02 263.05,203.28 263.30,205.47 263.55,207.53 263.80,209.46 264.05,211.44 264.30,213.43 264.55,215.37 264.80,217.20 265.05,218.84 265.30,220.25 265.55,221.36 265.80,222.24 266.05,223.05 266.30,223.75 266.55,224.30 266.80,224.66 266.85,224.71 267.05,221.49 267.30,217.65 267.55,214.08 267.80,210.78 268.05,207.58 268.30,204.54 268.55,201.74 268.80,199.24 269.05,197.03 269.30,194.92 269.55,192.94 269.80,191.13 270.05,189.56 270.30,188.27 270.55,187.27 270.80,186.35 271.05,185.50 271.30,184.77 271.55,184.19 271.80,183.81 271.94,183.70 272.05,184.32 272.30,185.79 272.55,187.34 272.80,188.97 273.05,190.69 273.30,192.49 273.55,194.47 273.80,196.61 274.05,198.84 274.30,201.12 274.55,203.37 274.80,205.56 275.05,207.61 275.30,209.54 275.55,211.52 275.80,213.51 276.05,215.45 276.30,217.27 276.55,218.91 276.80,220.30 277.05,221.39 277.30,222.28 277.55,223.08 277.80,223.78 278.05,224.32 278.30,224.67 278.34,224.71 278.55,221.33 278.80,217.50 279.05,213.94 279.30,210.64 279.55,207.45 279.80,204.43 280.05,201.64 280.30,199.15 280.55,196.95 280.80,194.84 281.05,192.86 281.30,191.07 281.55,189.50 281.80,188.23 282.05,187.23 282.30,186.31 282.55,185.47 282.80,184.74 283.05,184.17 283.30,183.80 283.43,183.70 283.55,184.37 283.80,185.85 284.05,187.40 284.30,189.04 284.55,190.76 284.80,192.57 285.05,194.56 285.30,196.70 285.55,198.93 285.80,201.21 286.05,203.46 286.30,205.64 286.55,207.69 286.80,209.62 287.05,211.60 287.30,213.59 287.55,215.52 287.80,217.34 288.05,218.97 288.30,220.35 288.55,221.43 288.80,222.31 289.05,223.11 289.30,223.80 289.55,224.34 289.80,224.68 289.83,224.71 290.05,221.18 290.30,217.35 290.55,213.81 290.80,210.51 291.05,207.33 291.30,204.31 291.55,201.53 291.80,199.06 292.05,196.86 292.30,194.76 292.55,192.79 292.80,191.00 293.05,189.45 293.30,188.19 293.55,187.20 293.80,186.27 294.05,185.43 294.30,184.72 294.55,184.15 294.80,183.79 294.92,183.70 295.05,184.43 295.30,185.91 295.55,187.46 295.80,189.10 296.05,190.83 296.30,192.64 296.55,194.64 296.80,196.78 297.05,199.02 297.30,201.30 297.55,203.55 297.80,205.73 298.05,207.77 298.30,209.70 298.55,211.68 298.80,213.67 299.05,215.60 299.30,217.41 299.55,219.03 299.80,220.40 300.05,221.47 300.30,222.34 300.55,223.14 300.80,223.82 301.05,224.35 301.30,224.69 301.32,224.71 301.55,221.02 301.80,217.20 302.05,213.67 302.30,210.38 302.55,207.20 302.80,204.19 303.05,201.42 303.30,198.96 303.55,196.78 303.80,194.68 304.05,192.71 304.30,190.93 304.55,189.39 304.80,188.14 305.05,187.16 305.30,186.24 305.55,185.40 305.80,184.69 306.05,184.14 306.30,183.78 306.41,183.70 306.55,184.49 306.80,185.97 307.05,187.53 307.30,189.17 307.55,190.90 307.80,192.72 308.05,194.72 308.30,196.87 308.55,199.11 308.80,201.39 309.05,203.64 309.30,205.81 309.55,207.85 309.80,209.78 310.05,211.76 310.30,213.75 310.55,215.67 310.80,217.47 311.05,219.09 311.30,220.45 311.55,221.50 311.80,222.38 312.05,223.17 312.30,223.85 312.55,224.37 312.80,224.70 312.81,224.71 313.05,220.86 313.30,217.06 313.55,213.54 313.80,210.26 314.05,207.08 314.30,204.08 314.55,201.32 314.80,198.87 315.05,196.69 315.30,194.59 315.55,192.64 315.80,190.87 316.05,189.34 316.30,188.10 316.55,187.12 316.80,186.20 317.05,185.37 317.30,184.66 317.55,184.12 317.80,183.77 317.90,183.70 318.05,184.55 318.30,186.03 318.55,187.59 318.80,189.24 319.05,190.97 319.30,192.80 319.55,194.81 319.80,196.96 320.05,199.20 320.30,201.48 320.55,203.73 320.80,205.90 321.05,207.92 321.30,209.86 321.55,211.84 321.80,213.83 322.05,215.75 322.30,217.54 322.55,219.15 322.80,220.50 323.05,221.54 323.30,222.41 323.55,223.20 323.80,223.87 324.05,224.39 324.30,224.71 324.30,224.71 324.55,220.71 324.80,216.91 325.05,213.41 325.30,210.13 325.55,206.95 325.80,203.96 326.05,201.22 326.30,198.78 326.55,196.60 326.80,194.51 327.05,192.56 327.30,190.80 327.55,189.28 327.80,188.06 328.05,187.08 328.30,186.17 328.55,185.34 328.80,184.64 329.05,184.10 329.30,183.76 329.39,183.70 329.55,184.60 329.80,186.09 330.05,187.66 330.30,189.31 330.55,191.04 330.80,192.87 331.05,194.89 331.30,197.05 331.55,199.30 331.80,201.57 332.05,203.82 332.30,205.98 332.55,208.00 332.80,209.93 333.05,211.92 333.30,213.91 333.55,215.82 333.80,217.61 334.05,219.21 334.30,220.55 334.55,221.58 334.80,222.44 335.05,223.23 335.30,223.90 335.55,224.41 335.79,224.71 335.80,224.55 336.05,220.55 336.30,216.76 336.55,213.27 336.80,210.00 337.05,206.83 337.30,203.85 337.55,201.11 337.80,198.69 338.05,196.52 338.30,194.43 338.55,192.49 338.80,190.73 339.05,189.22 339.30,188.01 339.55,187.04 339.80,186.13 340.05,185.31 340.30,184.61 340.55,184.08 340.80,183.75 340.88,183.70 341.05,184.66 341.30,186.15 341.55,187.72 341.80,189.37 342.05,191.11 342.30,192.95 342.55,194.97 342.80,197.14 343.05,199.39 343.30,201.66 343.55,203.91 343.80,206.06 344.05,208.08 344.30,210.01 344.55,212.00 344.80,213.99 345.05,215.90 345.30,217.68 345.55,219.27 345.80,220.59 346.05,221.61 346.30,222.48 346.55,223.26 346.80,223.92 347.05,224.42 347.28,224.71 347.30,224.38 347.55,220.39 347.80,216.62 348.05,213.14 348.30,209.87 348.55,206.71 348.80,203.73 349.05,201.01 349.30,198.60 349.55,196.43 349.80,194.35 350.05,192.41 350.30,190.67 350.55,189.17 350.80,187.97 351.05,187.01 351.30,186.10 351.55,185.28 351.80,184.59 352.05,184.07 352.30,183.75 352.37,183.70 352.55,184.72 352.80,186.21 353.05,187.79 353.30,189.44 353.55,191.18 353.80,193.03 354.05,195.06 354.30,197.23 354.55,199.48 354.80,201.75 355.05,203.99 355.30,206.15 355.55,208.15 355.80,210.09 356.05,212.08 356.30,214.06 356.55,215.97 356.80,217.75 357.05,219.32 357.30,220.64 357.55,221.65 357.80,222.51 358.05,223.29 358.30,223.94 358.55,224.44 358.77,224.71 358.80,224.22 359.05,220.24 359.30,216.47 359.55,213.01 359.80,209.74 360.05,206.58 360.30,203.62 360.55,200.91 360.80,198.52 361.05,196.35 361.30,194.27 361.55,192.34 361.80,190.60 362.05,189.12 362.30,187.93 362.55,186.97 362.80,186.06 363.05,185.25 363.30,184.56 363.55,184.05 363.80,183.74 363.86,183.70 364.05,184.78 364.30,186.27 364.55,187.85 364.80,189.51 365.05,191.25 365.30,193.11 365.55,195.14 365.80,197.32 366.05,199.57 366.30,201.84 366.55,204.08 366.80,206.23 367.05,208.23 367.30,210.17 367.55,212.16 367.80,214.14 368.05,216.05 368.30,217.81 368.55,219.38 368.80,220.69 369.05,221.68 369.30,222.54 369.55,223.32 369.80,223.97 370.05,224.45 370.26,224.71 370.30,224.06 370.55,220.08 370.80,216.33 371.05,212.88 371.30,209.61 371.55,206.46 371.80,203.50 372.05,200.80 372.30,198.43 372.55,196.26 372.80,194.19 373.05,192.26 373.30,190.54 373.55,189.06 373.80,187.89 374.05,186.93 374.30,186.03 374.55,185.22 374.80,184.54 375.05,184.03 375.30,183.73 375.35,183.70 375.55,184.84 375.80,186.33 376.05,187.91 376.30,189.58 376.55,191.33 376.80,193.18 377.05,195.23 377.30,197.40 377.55,199.66 377.80,201.93 378.05,204.17 378.30,206.31 378.55,208.31 378.80,210.25 379.05,212.24 379.30,214.22 379.55,216.12 379.80,217.88 380.05,219.44 380.30,220.73 380.55,221.72 380.80,222.58 381.05,223.35 381.30,223.99 381.55,224.47 381.75,224.71 381.80,223.90 382.05,219.93 382.30,216.18 382.55,212.74 382.80,209.48 383.05,206.34 383.30,203.39 383.55,200.70 383.80,198.34 384.05,196.18 384.30,194.11 384.55,192.19 384.80,190.47 385.05,189.01 385.30,187.85 385.55,186.89 385.80,185.99 386.05,185.19 386.30,184.52 386.55,184.02 386.80,183.72 386.84,183.70 387.05,184.89 387.30,186.40 387.55,187.98 387.80,189.65 388.05,191.40 388.30,193.26 388.55,195.31 388.80,197.49 389.05,199.75 389.30,202.02 389.55,204.26 389.80,206.40 390.05,208.38 390.30,210.33 390.55,212.32 390.80,214.30 391.05,216.19 391.30,217.95 391.55,219.50 391.80,220.78 392.05,221.75 392.30,222.61 392.55,223.37 392.80,224.01 393.05,224.49 393.24,224.71 393.30,223.73 393.55,219.77 393.80,216.04 394.05,212.61 394.30,209.35 394.55,206.22 394.80,203.28 395.05,200.60 395.30,198.25 395.55,196.09 395.80,194.03 396.05,192.12 396.30,190.41 396.55,188.96 396.80,187.81 397.05,186.86 397.30,185.96 397.55,185.16 397.80,184.49 398.05,184.00 398.30,183.72 398.33,183.70 398.55,184.95 398.80,186.46"/>
<polyline stroke="#0000ff" points="90.80,192.93 91.05,197.00 91.30,200.58 91.55,203.71 91.80,206.46 92.05,208.87 92.30,210.98 92.55,212.83 92.80,214.45 93.05,215.88 93.30,217.12 93.55,218.22 93.80,219.18 94.05,220.02 94.30,220.75 94.55,221.40 94.80,221.97 95.05,222.46 95.30,222.90 95.55,223.28 95.80,223.61 96.05,223.91 96.30,224.16 96.55,224.39 96.80,224.59 97.05,224.76 97.30,224.91 97.55,225.05 97.80,225.16 98.05,225.27 98.30,225.36 98.55,225.43 98.80,225.50 99.05,225.56 99.30,225.62 99.55,225.66 99.80,225.70 100.05,225.74 100.30,225.77 100.55,225.80 100.80,225.82 101.05,225.84 101.30,225.86 101.55,225.88 101.80,225.89 102.05,225.90 102.30,225.92 102.55,225.93 102.80,225.93 103.05,225.94 103.30,225.95 103.55,225.95 103.80,225.96 104.05,225.96 104.30,225.97 104.55,225.97 104.80,225.97 105.05,225.98 105.30,225.98 105.55,225.98 105.80,225.98 106.05,225.98 106.30,225.98 106.55,225.99 106.80,225.99 107.05,225.99 107.30,225.99 107.55,225.99 107.80,225.99 108.05,225.99 108.30,225.99 108.55,225.99 108.80,225.99 109.05,225.99 109.30,225.99 109.55,225.99 109.80,225.99 110.05,225.99 110.30,225.99 110.55,225.99 110.80,225.99 111.05,225.99 111.30,225.99 111.55,225.99 111.80,225.99 112.05,225.99 112.30,225.99 112.55,225.99 112.80,225.99 113.05,225.99 113.30,225.99 113.55,225.99 113.80,225.99 114.05,225.99 114.30,225.99 114.55,225.99 114.80,225.99 115.05,225.99 115.30,225.99 115.55,225.99 115.80,225.99 116.05,225.99 116.30,225.99 116.55,225.99 116.80,225.99 117.05,225.99 117.30,225.99 117.55,225.99 117.80,225.99 118.05,225.99 118.30,225.99 118.55,225.99 118.80,225.99 119.05,225.99 119.30,225.99 119.55,225.99 119.80,225.99 120.05,225.99 120.30,225.99 120.55,225.99 120.80,225.99 121.05,225.99 121.30,225.99 121.55,225.99 121.80,225.99 122.05,225.99 122.30,225.99 122.55,225.99 122.80,225.99 123.05,225.99 123.30,225.99 123.55,225.99 123.80,225.99 124.05,225.99 124.30,225.99 124.55,225.99 124.80,225.99 125.05,225.99 125.30,225.99 125.55,225.99 125.80,225.99 126.05,225.99 126.30,225.99 126.55,225.99 126.80,225.99 127.05,225.99 127.30,225.99 127.55,225.99 127.80,225.99 128.05,225.99 128.30,225.99 128.55,225.99 128.80,225.99 129.05,225.99 129.30,225.99 129.55,225.99 129.80,225.99 130.05,225.99 130.30,225.99 130.55,225.99 130.80,225.99 131.05,225.99 131.30,225.99 131.55,225.99 131.80,225.99 132.05,225.99 132.30,225.99 132.55,225.99 132.80,225.99 133.05,225.99 133.30,225.99 133.55,225.99 133.80,225.99 134.05,225.99 134.30,225.99 134.55,225.99 134.80,225.99 135.05,225.99 135.30,225.99 135.55,225.99 135.80,225.99 136.05,225.99 136.30,225.99 136.55,225.99 136.80,225.99 137.05,225.99 137.30,225.99 137.55,225.99 137.80,225.99 138.05,225.99 138.30,225.99 138.55,225.99 138.80,225.99 139.05,225.99 139.30,225.99 139.55,225.99 139.80,225.99 140.05,225.99 140.30,225.99 140.55,225.99 140.80,225.99 141.05,225.99 141.30,225.99 141.55,225.99 141.80,225.99 142.05,225.99 142.30,225.99 142.55,225.99 142.80,225.99 143.05,225.99 143.30,225.99 143.55,225.99 143.80,225.99 144.05,225.99 144.30,225.99 144.55,225.99 144.80,225.99 145.05,225.99 145.30,225.99 145.55,225.99 145.80,225.99 146.05,225.99 146.30,225.99 146.55,225.99 146.80,225.99 147.05,225.99 147.30,225.99 147.55,225.99 147.80,225.99 148.05,225.99 148.30,225.99 148.55,225.99 148.80,225.99 149.05,225.99 149.30,225.99 149.55,225.99 149.80,225.99 150.05,225.99 150.30,225.99 150.55,225.99 150.80,225.99 151.05,225.99 151.30,225.99 151.55,225.99 151.80,225.99 152.05,225.99 152.30,225.99 152.55,225.99 152.80,225.99 153.05,225.99 153.30,225.99 153.55,225.99 153.80,225.99 154.05,225.99 154.30,225.99 154.55,225.99 154.80,225.99 155.05,225.99 155.30,225.99 155.55,225.99 155.80,225.99 156.05,225.99 156.30,225.99 156.55,225.99 156.80,225.99 157.05,225.99 157.30,225.99 157.55,225.99 157.80,225.99 158.05,225.99 158.30,225.99 158.55,225.99 158.80,225.99 159.05,225.99 159.30,225.99 159.55,225.99 159.80,225.99 160.05,225.99 160.30,225.99 160.55,225.99 160.80,225.99 161.05,225.99 161.30,225.99 161.55,225.99 161.80,225.99 162.05,225.99 162.30,225.99 162.55,225.99 162.80,225.99 163.05,225.99 163.30,225.99 163.55,225.99 163.80,225.99 164.05,225.99 164.30,225.99 164.55,225.99 164.80,225.99 165.05,225.99 165.30,225.99 165.55,225.99 165.80,225.99 166.05,225.99 166.30,225.99 166.55,225.99 166.80,225.99 167.05,225.99 167.30,225.99 167.55,225.99 167.80,225.99 168.05,225.99 168.30,225.99 168.55,225.99 168.80,225.99 169.05,225.99 169.30,225.99 169.55,225.99 169.80,225.99 170.05,225.99 170.30,225.99 170.55,225.99 170.80,225.99 171.05,225.99 171.30,225.99 171.55,225.99 171.80,225.99 172.05,225.99 172.30,225.99 172.55,225.99 172.80,225.99 173.05,225.99 173.30,225.99 173.55,225.99 173.80,225.99 174.05,225.99 174.30,225.99 174.55,225.99 174.80,225.99 175.05,225.99 175.30,225.99 175.55,225.99 175.80,225.99 176.05,225.99 176.30,225.99 176.55,225.99 176.80,225.99 177.05,225.99 177.30,225.99 177.55,225.99 177.80,225.99 178.05,225.99 178.30,225.99 178.55,225.99 178.80,225.99 179.05,225.99 179.30,225.99 179.55,225.99 179.80,225.99 180.05,225.99 180.30,225.99 180.55,225.99 180.80,225.99 181.05,225.99 181.30,225.99 181.55,225.99 181.80,225.99 182.05,225.99 182.30,225.99 182.55,225.99 182.80,225.99 183.05,225.99 183.30,225.99 183.55,225.99 183.80,225.99 184.05,225.99 184.30,225.99 184.55,225.99 184.80,225.99 185.05,225.99 185.30,225.99 185.55,225.99 185.80,225.99 186.05,225.99 186.30,225.99 186.55,225.99 186.80,225.99 187.05,225.99 187.30,225.99 187.55,225.99 187.80,225.99 188.05,225.99 188.30,225.99 188.55,225.99 188.80,225.99 189.05,225.99 189.30,225.99 189.55,225.99 189.80,225.99 190.05,225.99 190.30,225.99 190.55,225.99 190.80,225.99 191.05,225.99 191.30,225.99 191.55,225.99 191.80,225.99 192.05,225.99 192.20,225.99 192.30,225.96 192.55,225.53 192.80,224.65 193.05,223.32 193.30,221.57 193.55,219.43 193.80,216.93 194.05,214.13 194.30,211.07 194.55,207.80 194.80,204.38 195.05,200.88 195.30,197.35 195.55,193.86 195.80,190.46 196.05,187.23 196.30,184.21 196.55,181.47 196.80,179.04 197.05,176.97 197.30,175.30 197.55,174.06 197.80,173.27 198.05,172.94 198.10,172.93 198.30,173.08 198.55,173.70 198.80,174.77 199.05,176.27 199.30,178.19 199.55,180.47 199.80,183.08 200.05,185.97 200.30,189.07 200.55,192.33 200.80,195.68 201.05,199.05 201.30,202.39 201.55,205.62 201.80,208.68 202.05,211.52 202.30,214.07 202.55,216.28 202.80,218.12 203.05,219.54 203.30,220.52 203.55,221.04 203.70,221.12 203.80,219.62 204.05,215.97 204.30,212.55 204.55,209.42 204.80,206.41 205.05,203.54 205.30,200.87 205.55,198.46 205.80,196.36 206.05,194.38 206.30,192.50 206.55,190.79 206.80,189.28 207.05,188.04 207.30,187.08 207.55,186.21 207.80,185.42 208.05,184.73 208.30,184.18 208.55,183.82 208.70,183.70 208.80,184.26 209.05,185.72 209.30,187.27 209.55,188.90 209.80,190.62 210.05,192.42 210.30,194.39 210.55,196.52 210.80,198.75 211.05,201.02 211.30,203.28 211.55,205.47 211.80,207.53 212.05,209.46 212.30,211.44 212.55,213.43 212.80,215.37 213.05,217.20 213.30,218.84 213.55,220.25 213.80,221.36 214.05,222.24 214.30,223.05 214.55,223.75 214.80,224.30 215.05,224.66 215.10,224.71 215.30,221.49 215.55,217.65 215.80,214.08 216.05,210.78 216.30,207.58 216.55,204.54 216.80,201.74 217.05,199.24 217.30,197.03 217.55,194.92 217.80,192.94 218.05,191.13 218.30,189.56 218.55,188.27 218.80,187.27 219.05,186.35 219.30,185.50 219.55,184.77 219.80,184.19 220.05,183.81 220.19,183.70 220.30,184.32 220.55,185.79 220.80,187.34 221.05,188.97 221.30,190.69 221.55,192.49 221.80,194.47 222.05,196.61 222.30,198.84 222.55,201.12 222.80,203.37 223.05,205.56 223.30,207.61 223.55,209.54 223.80,211.52 224.05,213.51 224.30,215.45 224.55,217.27 224.80,218.91 225.05,220.30 225.30,221.39 225.55,222.28 225.80,223.08 226.05,223.78 226.30,224.32 226.55,224.67 226.59,224.71 226.80,221.33 227.05,217.50 227.30,213.94 227.55,210.64 227.80,207.45 228.05,204.43 228.30,201.64 228.55,199.15 228.80,196.95 229.05,194.84 229.30,192.86 229.55,191.07 229.80,189.50 230.05,188.23 230.30,187.23 230.55,186.31 230.80,185.47 231.05,184.74 231.30,184.17 231.55,183.80 231.68,183.70 231.80,184.37 232.05,185.85 232.30,187.40 232.55,189.04 232.80,190.76 233.05,192.57 233.30,194.56 233.55,196.70 233.80,198.93 234.05,201.21 234.30,203.46 234.55,205.64 234.80,207.69 235.05,209.62 235.30,211.60 235.55,213.59 235.80,215.52 236.05,217.34 236.30,218.97 236.55,220.35 236.80,221.43 237.05,222.31 237.30,223.11 237.55,223.80 237.80,224.34 238.05,224.68 238.08,224.71 238.30,221.18 238.55,217.35 238.80,213.81 239.05,210.51 239.30,207.33 239.55,204.31 239.80,201.53 240.05,199.06 240.30,196.86 240.55,194.76 240.80,192.79 241.05,191.00 241.30,189.45 241.55,188.19 241.80,187.20 242.05,186.27 242.30,185.43 242.55,184.72 242.80,184.15 243.05,183.79 243.17,183.70 243.30,184.43 243.55,185.91 243.80,187.46 244.05,189.10 244.30,190.83 244.55,192.64 244.80,194.64 245.05,196.78 245.30,199.02 245.55,201.30 245.80,203.55 246.05,205.73 246.30,207.77 246.55,209.70 246.80,211.68 247.05,213.67 247.30,215.60 247.55,217.41 247.80,219.03 248.05,220.40 248.30,221.47 248.55,222.34 248.80,223.14 249.05,223.82 249.30,224.35 249.55,224.69 249.57,224.71 249.80,221.02 250.05,217.20 250.30,213.67 250.55,210.38 250.80,207.20 251.05,204.19 251.30,201.42 251.55,198.96 251.80,196.78 252.05,194.68 252.30,192.71 252.55,190.93 252.80,189.39 253.05,188.14 253.30,187.16 253.55,186.24 253.80,185.40 254.05,184.69 254.30,184.14 254.55,183.78 254.66,183.70 254.80,184.49 255.05,185.97 255.30,187.53 255.55,189.17 255.80,190.90 256.05,192.72 256.30,194.72 256.55,196.87 256.80,199.11 257.05,201.39 257.30,203.64 257.55,205.81 257.80,207.85 258.05,209.78 258.30,211.76 258.55,213.75 258.80,215.67 259.05,217.47 259.30,219.09 259.55,220.45 259.80,221.50 260.05,222.38 260.30,223.17 260.55,223.85 260.80,224.37 261.05,224.70 261.06,224.71 261.30,220.86 261.55,217.06 261.80,213.54 262.05,210.26 262.30,207.08 262.55,204.08 262.80,201.32 263.05,198.87 263.30,196.69 263.55,194.59 263.80,192.64 264.05,190.87 264.30,189.34 264.55,188.10 264.80,187.12 265.05,186.20 265.30,185.37 265.55,184.66 265.80,184.12 266.05,183.77 266.15,183.70 266.30,184.55 266.55,186.03 266.80,187.59 267.05,189.24 267.30,190.97 267.55,192.80 267.80,194.81 268.05,196.96 268.30,199.20 268.55,201.48 268.80,203.73 269.05,205.90 269.30,207.92 269.55,209.86 269.80,211.84 270.05,213.83 270.30,215.75 270.55,217.54 270.80,219.15 271.05,220.50 271.30,221.54 271.55,222.41 271.80,223.20 272.05,223.87 272.30,224.39 272.55,224.71 272.55,224.71 272.80,220.71 273.05,216.91 273.30,213.41 273.55,210.13 273.80,206.95 274.05,203.96 274.30,201.22 274.55,198.78 274.80,196.60 275.05,194.51 275.30,192.56 275.55,190.80 275.80,189.28 276.05,188.06 276.30,187.08 276.55,186.17 276.80,185.34 277.05,184.64 277.30,184.10 277.55,183.76 277.64,183.70 277.80,184.60 278.05,186.09 278.30,187.66 278.55,189.31 278.80,191.04 279.05,192.87 279.30,194.89 279.55,197.05 279.80,199.30 280.05,201.57 280.30,203.82 280.55,205.98 280.80,208.00 281.05,209.93 281.30,211.92 281.55,213.91 281.80,215.82 282.05,217.61 282.30,219.21 282.55,220.55 282.80,221.58 283.05,222.44 283.30,223.23 283.55,223.90 283.80,224.41 284.04,224.71 284.05,224.55 284.30,220.55 284.55,216.76 284.80,213.27 285.05,210.00 285.30,206.83 285.55,203.85 285.80,201.11 286.05,198.69 286.30,196.52 286.55,194.43 286.80,192.49 287.05,190.73 287.30,189.22 287.55,188.01 287.80,187.04 288.05,186.13 288.30,185.31 288.55,184.61 288.80,184.08 289.05,183.75 289.13,183.70 289.30,184.66 289.55,186.15 289.80,187.72 290.05,189.37 290.30,191.11 290.55,192.95 290.80,194.97 291.05,197.14 291.30,199.39 291.55,201.66 291.80,203.91 292.05,206.06 292.30,208.08 292.55,210.01 292.80,212.00 293.05,213.99 293.30,215.90 293.55,217.68 293.80,219.27 294.05,220.59 294.30,221.61 294.55,222.48 294.80,223.26 295.05,223.92 295.30,224.42 295.53,224.71 295.55,224.38 295.80,220.39 296.05,216.62 296.30,213.14 296.55,209.87 296.80,206.71 297.05,203.73 297.30,201.01 297.55,198.60 297.80,196.43 298.05,194.35 298.30,192.41 298.55,190.67 298.80,189.17 299.05,187.97 299.30,187.01 299.55,186.10 299.80,185.28 300.05,184.59 300.30,184.07 300.55,183.75 300.62,183.70 300.80,184.72 301.05,186.21 301.30,187.79 301.55,189.44 301.80,191.18 302.05,193.03 302.30,195.06 302.55,197.23 302.80,199.48 303.05,201.75 303.30,203.99 303.55,206.15 303.80,208.15 304.05,210.09 304.30,212.08 304.55,214.06 304.80,215.97 305.05,217.75 305.30,219.32 305.55,220.64 305.80,221.65 306.05,222.51 306.30,223.29 306.55,223.94 306.80,224.44 307.02,224.71 307.05,224.22 307.30,220.24 307.55,216.47 307.80,213.01 308.05,209.74 308.30,206.58 308.55,203.62 308.80,200.91 309.05,198.52 309.30,196.35 309.55,194.27 309.80,192.34 310.05,190.60 310.30,189.12 310.55,187.93 310.80,186.97 311.05,186.06 311.30,185.25 311.55,184.56 311.80,184.05 312.05,183.74 312.11,183.70 312.30,184.78 312.55,186.27 312.80,187.85 313.05,189.51 313.30,191.25 313.55,193.11 313.80,195.14 314.05,197.32 314.30,199.57 314.55,201.84 314.80,204.08 315.05,206.23 315.30,208.23 315.55,210.17 315.80,212.16 316.05,214.14 316.30,216.05 316.55,217.81 316.80,219.38 317.05,220.69 317.30,221.68 317.55,222.54 317.80,223.32 318.05,223.97 318.30,224.45 318.51,224.71 318.55,224.06 318.80,220.08 319.05,216.33 319.30,212.88 319.55,209.61 319.80,206.46 320.05,203.50 320.30,200.80 320.55,198.43 320.80,196.26 321.05,194.19 321.30,192.26 321.55,190.54 321.80,189.06 322.05,187.89 322.30,186.93 322.55,186.03 322.80,185.22 323.05,184.54 323.30,184.03 323.55,183.73 323.60,183.70 323.80,184.84 324.05,186.33 324.30,187.91 324.55,189.58 324.80,191.33 325.05,193.18 325.30,195.23 325.55,197.40 325.80,199.66 326.05,201.93 326.30,204.17 326.55,206.31 326.80,208.31 327.05,210.25 327.30,212.24 327.55,214.22 327.80,216.12 328.05,217.88 328.30,219.44 328.55,220.73 328.80,221.72 329.05,222.58 329.30,223.35 329.55,223.99 329.80,224.47 330.00,224.71 330.05,223.90 330.30,219.93 330.55,216.18 330.80,212.74 331.05,209.48 331.30,206.34 331.55,203.39 331.80,200.70 332.05,198.34 332.30,196.18 332.55,194.11 332.80,192.19 333.05,190.47 333.30,189.01 333.55,187.85 333.80,186.89 334.05,185.99 334.30,185.19 334.55,184.52 334.80,184.02 335.05,183.72 335.09,183.70 335.30,184.89 335.55,186.40 335.80,187.98 336.05,189.65 336.30,191.40 336.55,193.26 336.80,195.31 337.05,197.49 337.30,199.75 337.55,202.02 337.80,204.26 338.05,206.40 338.30,208.38 338.55,210.33 338.80,212.32 339.05,214.30 339.30,216.19 339.55,217.95 339.80,219.50 340.05,220.78 340.30,221.75 340.55,222.61 340.80,223.37 341.05,224.01 341.30,224.49 341.49,224.71 341.55,223.73 341.80,219.77 342.05,216.04 342.30,212.61 342.55,209.35 342.80,206.22 343.05,203.28 343.30,200.60 343.55,198.25 343.80,196.09 344.05,194.03 344.30,192.12 344.55,190.41 344.80,188.96 345.05,187.81 345.30,186.86 345.55,185.96 345.80,185.16 346.05,184.49 346.30,184.00 346.55,183.72 346.58,183.70 346.80,184.95 347.05,186.46 347.30,188.04 347.55,189.72 347.80,191.47 348.05,193.34 348.30,195.40 348.55,197.58 348.80,199.84 349.05,202.11 349.30,204.35 349.55,206.48 349.80,208.46 350.05,210.41 350.30,212.40 350.55,214.38 350.80,216.27 351.05,218.01 351.30,219.55 351.55,220.82 351.80,221.79 352.05,222.64 352.30,223.40 352.55,224.04 352.80,224.50 352.98,224.71 353.05,223.57 353.30,219.62 353.55,215.90 353.80,212.48 354.05,209.22 354.30,206.10 354.55,203.17 354.80,200.50 355.05,198.16 355.30,196.01 355.55,193.95 355.80,192.05 356.05,190.35 356.30,188.90 356.55,187.77 356.80,186.82 357.05,185.93 357.30,185.13 357.55,184.47 357.80,183.98 358.05,183.71 358.07,183.70 358.30,185.01 358.55,186.52 358.80,188.11 359.05,189.78 359.30,191.54 359.55,193.42 359.80,195.48 360.05,197.67 360.30,199.93 360.55,202.20 360.80,204.43 361.05,206.56 361.30,208.54 361.55,210.49 361.80,212.48 362.05,214.45 362.30,216.34 362.55,218.08 362.80,219.61 363.05,220.87 363.30,221.82 363.55,222.67 363.80,223.43 364.05,224.06 364.30,224.52 364.47,224.71 364.55,223.41 364.80,219.46 365.05,215.75 365.30,212.35 365.55,209.10 365.80,205.97 366.05,203.05 366.30,200.40 366.55,198.08 366.80,195.92 367.05,193.87 367.30,191.97 367.55,190.28 367.80,188.85 368.05,187.73 368.30,186.78 368.55,185.89 368.80,185.10 369.05,184.45 369.30,183.97 369.55,183.70 369.56,183.70 369.80,185.07 370.05,186.58 370.30,188.18 370.55,189.85 370.80,191.61 371.05,193.50 371.30,195.57 371.55,197.76 371.80,200.02 372.05,202.29 372.30,204.52 372.55,206.64 372.80,208.61 373.05,210.57 373.30,212.56 373.55,214.53 373.80,216.41 374.05,218.15 374.30,219.67 374.55,220.91 374.80,221.86 375.05,222.71 375.30,223.46 375.55,224.08 375.80,224.53 375.96,224.71 376.05,223.25 376.30,219.31 376.55,215.61 376.80,212.22 377.05,208.97 377.30,205.85 377.55,202.94 377.80,200.30 378.05,197.99 378.30,195.84 378.55,193.79 378.80,191.90 379.05,190.22 379.30,188.80 379.55,187.70 379.80,186.75 380.05,185.86 380.30,185.07 380.55,184.42 380.80,183.95 381.05,183.70 381.05,183.70 381.30,185.13 381.55,186.64 381.80,188.24 382.05,189.92 382.30,191.68 382.55,193.58 382.80,195.65 383.05,197.85 383.30,200.11 383.55,202.38 383.80,204.61 384.05,206.73 384.30,208.69 384.55,210.65 384.80,212.64 385.05,214.61 385.30,216.49 385.55,218.21 385.80,219.72 386.05,220.96 386.30,221.90 386.55,222.74 386.80,223.49 387.05,224.10 387.30,224.54 387.45,224.71 387.55,223.09 387.80,219.16 388.05,215.47 388.30,212.09 388.55,208.84 388.80,205.73 389.05,202.83 389.30,200.20 389.55,197.90 389.80,195.75 390.05,193.71 390.30,191.83 390.55,190.16 390.80,188.75 391.05,187.66 391.30,186.71 391.55,185.83 391.80,185.04 392.05,184.40 392.30,183.94 392.54,183.70 392.55,183.75 392.80,185.19 393.05,186.71 393.30,188.31 393.55,189.99 393.80,191.76 394.05,193.66 394.30,195.74 394.55,197.94 394.80,200.20 395.05,202.48 395.30,204.70 395.55,206.81 395.80,208.77 396.05,210.73 396.30,212.72 396.55,214.68 396.80,216.56 397.05,218.28 397.30,219.78 397.55,221.00 397.80,221.93 398.05,222.77 398.30,223.51 398.55,224.12 398.80,224.56 398.94,224.71"/>
</g>
<text x="84.80" y="38" text-anchor="end">2</text>
<text x="84.80" y="63" text-anchor="end">1.5</text>
<text x="84.80" y="89" text-anchor="end">1</text>
<text x="84.80" y="115" text-anchor="end">0.5</text>
<text x="84.80" y="140" text-anchor="end">0</text>
<text x="84.80" y="166" text-anchor="end">-0.5</text>
<text x="84.80" y="192" text-anchor="end">-1</text>
<text x="84.80" y="217" text-anchor="end">-1.5</text>
<text x="84.80" y="243" text-anchor="end">-2</text>
<text x="84.80" y="268" text-anchor="end">-2.5</text>
<text x="90.80" y="278.00" text-anchor="middle">0</text>
<text x="152.44" y="278.00" text-anchor="middle">20</text>
<text x="214.08" y="278.00" text-anchor="middle">40</text>
<text x="275.72" y="278.00" text-anchor="middle">60</text>
<text x="337.36" y="278.00" text-anchor="middle">80</text>
<text x="399.00" y="278.00" text-anchor="middle">100</text>
<text x="244.90" y="288.00" text-anchor="middle">t</text>
<text x="48.80" y="22.00" font-size="13.7">xEj,xIj</text>
<line x1="468.3" y1="136.53" x2="776.2" y2="136.53" stroke="#444" stroke-width="1" stroke-dasharray="1.6,1.2"/>
<path d="M468.3,34.00h3.2M776.2,34.00h-3.2M468.3,59.63h3.2M776.2,59.63h-3.2M468.3,85.27h3.2M776.2,85.27h-3.2M468.3,110.90h3.2M776.2,110.90h-3.2M468.3,136.53h3.2M776.2,136.53h-3.2M468.3,162.17h3.2M776.2,162.17h-3.2M468.3,187.80h3.2M776.2,187.80h-3.2M468.3,213.43h3.2M776.2,213.43h-3.2M468.3,239.07h3.2M776.2,239.07h-3.2M468.3,264.70h3.2M776.2,264.70h-3.2M468.30,34.0v3.2M468.30,264.7v-3.2M529.88,34.0v3.2M529.88,264.7v-3.2M591.46,34.0v3.2M591.46,264.7v-3.2M653.04,34.0v3.2M653.04,264.7v-3.2M714.62,34.0v3.2M714.62,264.7v-3.2M776.20,34.0v3.2M776.20,264.7v-3.2" stroke="#000" stroke-width="1" fill="none"/>
<rect x="468.3" y="34.0" width="307.90" height="230.70" fill="none" stroke="#222" stroke-width="1.4"/>
<clipPath id="clipb"><rect x="467.3" y="33.5" width="308.90000000000003" height="231.7"/></clipPath>
<g clip-path="url(#clipb)" fill="none" stroke-width="1.15" stroke-linejoin="round">
<polyline stroke="#000000" stroke-width="1.0" points="468.30,198.05 468.55,201.45 468.80,204.42 469.05,207.03 469.30,209.32 469.55,211.32 469.80,213.08 470.05,214.62 470.30,215.97 470.55,217.16 470.80,218.20 471.05,219.11 471.30,219.91 471.55,220.61 471.80,221.22 472.05,221.76 472.30,222.23 472.55,222.64 472.80,223.01 473.05,223.32 473.30,223.60 473.55,223.85 473.80,224.06 474.05,224.25 474.30,224.41 474.55,224.56 474.80,224.68 475.05,224.79 475.30,224.89 475.55,224.98 475.80,225.05 476.05,225.12 476.30,225.18 476.55,225.23 476.80,225.27 477.05,225.31 477.30,225.34 477.55,225.37 477.80,225.40 478.05,225.42 478.30,225.44 478.55,225.46 478.80,225.47 479.05,225.49 479.30,225.50 479.55,225.51 479.80,225.52 480.05,225.53 480.30,225.53 480.55,225.54 480.80,225.55 481.05,225.55 481.30,225.55 481.55,225.56 481.80,225.56 482.05,225.56 482.30,225.57 482.55,225.57 482.80,225.57 483.05,225.57 483.30,225.57 483.55,225.57 483.80,225.58 484.05,225.58 484.30,225.58 484.55,225.58 484.80,225.58 485.05,225.58 485.30,225.58 485.55,225.58 485.80,225.58 486.05,225.58 486.30,225.58 486.55,225.58 486.80,225.58 487.05,225.58 487.30,225.58 487.55,225.58 487.80,225.58 488.05,225.58 488.30,225.58 488.55,225.58 488.80,225.58 489.05,225.58 489.30,225.58 489.55,225.58 489.80,225.58 490.05,225.58 490.30,225.58 490.55,225.58 490.80,225.58 491.05,225.58 491.30,225.58 491.55,225.58 491.80,225.58 492.05,225.58 492.30,225.58 492.55,225.58 492.80,225.58 493.05,225.58 493.30,225.58 493.55,225.58 493.80,225.58 494.05,225.58 494.30,225.58 494.55,225.58 494.80,225.58 495.05,225.58 495.30,225.58 495.55,225.58 495.80,225.58 496.05,225.58 496.30,225.58 496.55,225.58 496.80,225.58 497.05,225.58 497.30,225.58 497.55,225.58 497.80,225.58 498.05,225.58 498.30,225.58 498.55,225.58 498.80,225.58 499.05,225.58 499.30,225.58 499.55,225.58 499.80,225.58 500.05,225.58 500.30,225.58 500.55,225.58 500.80,225.58 501.05,225.58 501.30,225.58 501.55,225.58 501.80,225.58 502.05,225.58 502.30,225.58 502.55,225.58 502.80,225.58 503.05,225.58 503.30,225.58 503.55,225.58 503.80,225.58 504.05,225.58 504.30,225.58 504.55,225.58 504.80,225.58 505.05,225.58 505.30,225.58 505.55,225.58 505.80,225.58 506.05,225.58 506.30,225.58 506.55,225.58 506.80,225.58 507.05,225.58 507.30,225.58 507.55,225.58 507.80,225.58 508.05,225.58 508.30,225.58 508.55,225.58 508.80,225.58 509.05,225.58 509.30,225.58 509.55,225.58 509.80,225.58 510.05,225.58 510.30,225.58 510.55,225.58 510.80,225.58 511.05,225.58 511.30,225.58 511.55,225.58 511.80,225.58 512.05,225.58 512.30,225.58 512.55,225.58 512.80,225.58 513.05,225.58 513.30,225.58 513.55,225.58 513.80,225.58 514.05,225.58 514.30,225.58 514.55,225.58 514.80,225.58 515.05,225.58 515.30,225.58 515.55,225.58 515.80,225.58 516.05,225.58 516.30,225.58 516.55,225.58 516.80,225.58 517.05,225.58 517.30,225.58 517.55,225.58 517.80,225.58 518.05,225.58 518.30,225.58 518.55,225.58 518.80,225.58 519.05,225.58 519.30,225.58 519.55,225.58 519.80,225.58 520.05,225.58 520.30,225.58 520.55,225.58 520.80,225.58 521.05,225.58 521.30,225.58 521.55,225.58 521.80,225.58 522.05,225.58 522.30,225.58 522.55,225.58 522.80,225.58 523.05,225.58 523.30,225.58 523.55,225.58 523.80,225.58 524.05,225.58 524.30,225.58 524.55,225.58 524.80,225.58 525.05,225.58 525.30,225.58 525.55,225.58 525.80,225.58 526.05,225.58 526.30,225.58 526.55,225.58 526.80,225.58 527.05,225.58 527.30,225.58 527.55,225.58 527.80,225.58 528.05,225.58 528.30,225.58 528.55,225.58 528.80,225.58 529.05,225.58 529.30,225.58 529.55,225.58 529.80,225.58 530.05,225.58 530.30,225.58 530.55,225.58 530.80,225.58 531.05,225.58 531.30,225.58 531.55,225.58 531.80,225.58 532.05,225.58 532.30,225.58 532.55,225.58 532.80,225.58 533.05,225.58 533.30,225.58 533.55,225.58 533.80,225.58 534.05,225.58 534.30,225.58 534.55,225.58 534.80,225.58 535.05,225.58 535.30,225.58 535.55,225.58 535.80,225.58 536.05,225.58 536.30,225.58 536.55,225.58 536.80,225.58 537.05,225.58 537.30,225.58 537.55,225.58 537.80,225.58 538.05,225.58 538.30,225.58 538.55,225.58 538.80,225.58 539.05,225.58 539.30,225.58 539.55,225.58 539.80,225.58 540.05,225.58 540.30,225.58 540.55,225.58 540.80,225.58 541.05,225.58 541.30,225.58 541.55,225.58 541.80,225.58 542.05,225.58 542.30,225.58 542.55,225.58 542.80,225.58 543.05,225.58 543.30,225.58 543.55,225.58 543.80,225.58 544.05,225.58 544.30,225.58 544.55,225.58 544.80,225.58 545.05,225.58 545.30,225.58 545.55,225.58 545.80,225.58 546.05,225.58 546.30,225.58 546.55,225.58 546.80,225.58 547.05,225.58 547.30,225.58 547.55,225.58 547.80,225.58 548.05,225.58 548.30,225.58 548.55,225.58 548.80,225.58 549.05,225.58 549.30,225.58 549.55,225.58 549.80,225.58 550.05,225.58 550.30,225.58 550.55,225.58 550.80,225.58 551.05,225.58 551.30,225.58 551.55,225.58 551.80,225.58 552.05,225.58 552.30,225.58 552.55,225.58 552.80,225.58 553.05,225.58 553.30,225.58 553.55,225.58 553.80,225.58 554.05,225.58 554.30,225.58 554.55,225.58 554.80,225.58 555.05,225.58 555.30,225.58 555.55,225.58 555.80,225.58 556.05,225.58 556.30,225.58 556.55,225.58 556.80,225.58 557.05,225.58 557.30,225.58 557.55,225.58 557.80,225.58 558.05,225.58 558.30,225.58 558.55,225.58 558.80,225.58 559.05,225.58 559.30,225.58 559.55,225.58 559.80,225.58 560.05,225.58 560.30,225.58 560.40,225.58 560.55,220.77 560.80,212.80 561.05,204.92 561.30,197.12 561.55,189.40 561.80,181.78 562.05,174.25 562.30,166.81 562.55,159.48 562.80,152.25 563.05,145.13 563.30,138.12 563.55,131.23 563.80,124.48 564.05,117.85 564.30,111.37 564.55,105.05 564.80,98.89 565.05,92.91 565.30,87.14 565.55,81.58 565.80,76.27 566.05,71.27 566.30,66.62 566.55,62.44 566.80,59.00 566.90,58.10 567.05,60.15 567.30,64.45 567.55,69.19 567.80,74.23 568.05,79.49 568.30,84.92 568.55,90.50 568.80,96.20 569.05,102.02 569.30,107.95 569.55,113.97 569.80,120.07 570.05,126.25 570.30,132.51 570.55,138.83 570.80,145.23 571.05,151.68 571.30,158.19 571.55,164.76 571.80,171.38 572.05,178.05 572.30,184.77 572.55,191.54 572.80,198.35 573.05,205.21 573.30,212.11 573.55,219.05 573.80,226.02 574.00,231.63 574.05,231.62 574.30,231.17 574.55,230.21 574.80,228.89 575.05,226.65 575.30,222.54 575.55,215.80 575.80,197.58 576.05,142.18 576.30,129.04 576.55,124.12 576.80,121.51 577.05,119.89 577.30,118.64 577.55,117.78 577.80,117.29 578.05,116.96 578.30,116.71 578.55,116.57 578.70,116.54 578.80,116.56 579.05,116.73 579.30,117.05 579.55,117.48 579.80,118.24 580.05,119.54 580.30,121.20 580.55,123.56 580.80,126.66 581.05,129.71 581.30,132.89 581.55,136.52 581.80,140.96 582.05,146.31 582.30,152.23 582.55,158.36 582.80,164.92 583.05,171.89 583.30,179.11 583.55,186.43 583.80,194.41 584.05,202.94 584.30,210.85 584.55,216.97 584.80,221.45 585.05,225.09 585.30,228.22 585.55,231.00 585.80,233.01 586.05,234.43 586.30,235.61 586.55,236.36 586.68,236.50 586.80,236.39 587.05,235.50 587.30,233.98 587.55,231.41 587.80,226.12 588.05,215.50 588.30,166.50 588.55,130.98 588.80,124.20 589.05,120.98 589.30,119.06 589.55,117.71 589.80,116.93 590.05,116.51 590.30,116.20 590.55,116.05 590.61,116.04 590.80,116.10 591.05,116.33 591.30,116.70 591.55,117.18 591.80,118.17 592.05,119.62 592.30,121.42 592.55,124.18 592.80,127.31 593.05,130.38 593.30,133.70 593.55,137.59 593.80,142.41 594.05,148.03 594.30,154.08 594.55,160.35 594.80,167.10 595.05,174.21 595.30,181.51 595.55,188.97 595.80,197.32 596.05,205.80 596.30,213.23 596.55,218.62 596.80,222.79 597.05,226.21 597.30,229.25 597.55,231.82 597.80,233.52 598.05,234.88 598.30,235.94 598.55,236.48 598.59,236.50 598.80,236.16 599.05,235.01 599.30,233.31 599.55,229.82 599.80,223.44 600.05,207.75 600.30,143.54 600.55,127.74 600.80,122.51 601.05,119.98 601.30,118.26 601.55,117.11 601.80,116.51 602.05,116.13 602.30,115.87 602.52,115.78 602.55,115.79 602.80,115.91 603.05,116.20 603.30,116.60 603.55,117.22 603.80,118.39 604.05,119.98 604.30,122.07 604.55,125.08 604.80,128.18 605.05,131.31 605.30,134.80 605.55,139.00 605.80,144.16 606.05,149.99 606.30,156.12 606.55,162.57 606.80,169.48 607.05,176.70 607.30,184.05 607.55,191.79 607.80,200.34 608.05,208.59 608.30,215.37 608.55,220.19 608.80,224.06 609.05,227.31 609.30,230.24 609.55,232.53 609.80,234.03 610.05,235.31 610.30,236.20 610.50,236.50 610.55,236.48 610.80,235.82 611.05,234.44 611.30,232.37 611.55,227.86 611.80,219.66 612.05,187.67 612.30,133.52 612.55,125.28 612.80,121.29 613.05,119.17 613.30,117.65 613.55,116.71 613.80,116.23 614.05,115.88 614.30,115.68 614.43,115.65 614.55,115.68 614.80,115.87 615.05,116.20 615.30,116.64 615.55,117.45 615.80,118.80 616.05,120.49 616.30,122.96 616.55,126.10 616.80,129.17 617.05,132.40 617.30,136.10 617.55,140.65 617.80,146.11 618.05,152.09 618.30,158.30 618.55,164.94 618.80,171.98 619.05,179.27 619.30,186.65 619.55,194.78 619.80,203.37 620.05,211.24 620.30,217.22 620.55,221.66 620.80,225.28 621.05,228.40 621.30,231.16 621.55,233.10 621.80,234.52 622.05,235.68 622.30,236.39 622.41,236.50 622.55,236.34 622.80,235.39 623.05,233.82 623.30,231.07 623.55,225.53 623.80,213.95 624.05,161.25 624.30,129.85 624.55,123.42 624.80,120.37 625.05,118.49 625.30,117.18 625.55,116.44 625.80,116.03 626.05,115.72 626.30,115.59 626.34,115.59 626.55,115.66 626.80,115.90 627.05,116.28 627.30,116.79 627.55,117.82 627.80,119.31 628.05,121.17 628.30,124.01 628.55,127.15 628.80,130.24 629.05,133.60 629.30,137.56 629.55,142.48 629.80,148.17 630.05,154.26 630.30,160.59 630.55,167.40 630.80,174.55 631.05,181.90 631.30,189.42 631.55,197.86 631.80,206.33 632.05,213.65 632.30,218.92 632.55,223.04 632.80,226.42 633.05,229.45 633.30,231.97 633.55,233.63 633.80,234.98 634.05,236.00 634.30,236.49 634.32,236.50 634.55,236.09 634.80,234.88 635.05,233.13 635.30,229.41 635.55,222.71 635.80,205.47 636.05,139.37 636.30,126.96 636.55,122.02 636.80,119.59 637.05,117.92 637.30,116.81 637.55,116.25 637.80,115.87 638.05,115.62 638.25,115.55 638.30,115.55 638.55,115.69 638.80,115.99 639.05,116.40 639.30,117.06 639.55,118.28 639.80,119.89 640.05,122.06 640.30,125.12 640.55,128.21 640.80,131.37 641.05,134.91 641.30,139.19 641.55,144.43 641.80,150.31 642.05,156.46 642.30,162.97 642.55,169.92 642.80,177.17 643.05,184.54 643.30,192.37 643.55,200.96 643.80,209.15 644.05,215.77 644.30,220.50 644.55,224.32 644.80,227.54 645.05,230.44 645.30,232.66 645.55,234.14 645.80,235.39 646.05,236.25 646.23,236.50 646.30,236.46 646.55,235.73 646.80,234.31 647.05,232.11 647.30,227.37 647.55,218.57 647.80,181.04 648.05,132.54 648.30,124.72 648.55,120.97 648.80,118.91 649.05,117.44 649.30,116.54 649.55,116.08 649.80,115.74 650.05,115.55 650.16,115.53 650.30,115.57 650.55,115.77 650.80,116.11 651.05,116.56 651.30,117.43 651.55,118.81 651.80,120.52 652.05,123.09 652.30,126.24 652.55,129.31 652.80,132.57 653.05,136.33 653.30,140.97 653.55,146.48 653.80,152.50 654.05,158.73 654.30,165.42 654.55,172.50 654.80,179.81 655.05,187.21 655.30,195.42 655.55,204.01 655.80,211.78 656.05,217.60 656.30,221.96 656.55,225.53 656.80,228.63 657.05,231.34 657.30,233.22 657.55,234.62 657.80,235.76 658.05,236.42 658.14,236.50 658.30,236.30 658.55,235.28 658.80,233.68 659.05,230.73 659.30,224.96 659.55,212.33 659.80,155.92 660.05,129.10 660.30,123.02 660.55,120.14 660.80,118.31 661.05,117.04 661.30,116.34 661.55,115.94 661.80,115.65 662.05,115.52 662.07,115.52 662.30,115.61 662.55,115.87 662.80,116.25 663.05,116.79 663.30,117.86 663.55,119.39 663.80,121.31 664.05,124.20 664.30,127.34 664.55,130.44 664.80,133.84 665.05,137.87 665.30,142.86 665.55,148.60 665.80,154.71 666.05,161.08 666.30,167.92 666.55,175.10 666.80,182.46 667.05,190.05 667.30,198.53 667.55,206.96 667.80,214.14 668.05,219.28 668.30,223.32 668.55,226.67 668.80,229.67 669.05,232.14 669.30,233.74 669.55,235.07 669.80,236.06 670.05,236.50 670.05,236.50 670.30,236.02 670.55,234.76 670.80,232.93 671.05,228.98 671.30,221.93 671.55,201.84 671.80,136.40 672.05,126.38 672.30,121.74 672.55,119.41 672.80,117.78 673.05,116.72 673.30,116.18 673.55,115.81 673.80,115.57 673.98,115.52 674.05,115.53 674.30,115.68 674.55,115.99 674.80,116.41 675.05,117.11 675.30,118.37 675.55,120.00 675.80,122.25 676.05,125.35 676.30,128.43 676.55,131.61 676.80,135.20 677.05,139.55 677.30,144.86 677.55,150.78 677.80,156.94 678.05,163.49 678.30,170.48 678.55,177.74 678.80,185.12 679.05,193.03 679.30,201.63 679.55,209.75 679.80,216.19 680.05,220.83 680.30,224.59 680.55,227.78 680.80,230.65 681.05,232.80 681.30,234.25 681.55,235.48 681.80,236.30 681.96,236.50 682.05,236.44 682.30,235.64 682.55,234.17 682.80,231.84 683.05,226.86 683.30,217.39 683.55,174.60 683.80,131.69 684.05,124.29 684.30,120.76 684.55,118.75 684.80,117.33 685.05,116.47 685.30,116.03 685.55,115.71 685.80,115.53 685.89,115.52 686.05,115.56 686.30,115.77 686.55,116.13 686.80,116.59 687.05,117.50 687.30,118.92 687.55,120.67 687.80,123.32 688.05,126.47 688.30,129.54 688.55,132.83 688.80,136.65 689.05,141.37 689.30,146.94 689.55,152.98 689.80,159.24 690.05,165.96 690.30,173.07 690.55,180.39 690.80,187.82 691.05,196.11 691.30,204.67 691.55,212.32 691.80,217.98 692.05,222.27 692.30,225.78 692.55,228.86 692.80,231.53 693.05,233.34 693.30,234.72 693.55,235.83 693.80,236.45 693.87,236.50 694.05,236.25 694.30,235.17 694.55,233.53 694.80,230.37 695.05,224.37 695.30,210.58 695.55,150.63 695.80,128.43 696.05,122.70 696.30,119.96 696.55,118.18 696.80,116.95 697.05,116.30 697.30,115.90 697.55,115.62 697.80,115.52 697.80,115.52 698.05,115.62 698.30,115.89 698.55,116.28 698.80,116.85 699.05,117.96 699.30,119.51 699.55,121.50 699.80,124.45 700.05,127.57 700.30,130.69 700.55,134.13 700.80,138.22 701.05,143.29 701.30,149.08 701.55,155.20 701.80,161.61 702.05,168.48 702.30,175.68 702.55,183.05 702.80,190.70 703.05,199.22 703.30,207.59 703.55,214.62 703.80,219.63 704.05,223.61 704.30,226.91 704.55,229.89 704.80,232.29 705.05,233.85 705.30,235.17 705.55,236.12 705.78,236.50 705.80,236.50 706.05,235.94 706.30,234.63 706.55,232.72 706.80,228.54 707.05,221.08 707.30,196.81 707.55,134.79 707.80,125.87 708.05,121.50 708.30,119.25 708.55,117.67 708.80,116.65 709.05,116.14 709.30,115.78 709.55,115.56 709.71,115.51 709.80,115.53 710.05,115.70 710.30,116.02 710.55,116.44 710.80,117.19 711.05,118.48 711.30,120.14 711.55,122.48 711.80,125.60 712.05,128.67 712.30,131.87 712.55,135.51 712.80,139.94 713.05,145.31 713.30,151.26 713.55,157.44 713.80,164.03 714.05,171.05 714.30,178.32 714.55,185.71 714.80,193.71 715.05,202.32 715.30,210.34 715.55,216.60 715.80,221.16 716.05,224.86 716.30,228.02 716.55,230.85 716.80,232.92 717.05,234.35 717.30,235.56 717.55,236.34 717.69,236.50 717.80,236.40 718.05,235.54 718.30,234.03 718.55,231.54 718.80,226.34 719.05,216.10 719.30,168.75 719.55,130.90 719.80,123.89 720.05,120.57 720.30,118.62 720.55,117.24 720.80,116.43 721.05,116.00 721.30,115.68 721.55,115.52 721.62,115.51 721.80,115.57 722.05,115.80 722.30,116.16 722.55,116.64 722.80,117.60 723.05,119.05 723.30,120.83 723.55,123.57 723.80,126.72 724.05,129.79 724.30,133.11 724.55,136.98 724.80,141.79 725.05,147.41 725.30,153.47 725.55,159.76 725.80,166.52 726.05,173.64 726.30,180.98 726.55,188.44 726.80,196.80 727.05,205.33 727.30,212.86 727.55,218.36 727.80,222.58 728.05,226.04 728.30,229.10 728.55,231.71 728.80,233.45 729.05,234.83 729.30,235.90 729.55,236.47 729.60,236.50 729.80,236.19 730.05,235.06 730.30,233.38 730.55,230.00 730.80,223.75 731.05,208.69 731.30,145.63 731.55,127.80 731.80,122.40 732.05,119.80 732.30,118.06 732.55,116.88 732.80,116.26 733.05,115.87 733.30,115.60 733.53,115.51 733.55,115.51 733.80,115.63 734.05,115.91 734.30,116.31 734.55,116.91 734.80,118.07 735.05,119.65 735.30,121.70 735.55,124.70 735.80,127.82 736.05,130.94 736.30,134.43 736.55,138.59 736.80,143.73 737.05,149.56 737.30,155.70 737.55,162.14 737.80,169.05 738.05,176.27 738.30,183.64 738.55,191.36 738.80,199.91 739.05,208.22 739.30,215.09 739.55,219.98 739.80,223.90 740.05,227.16 740.30,230.11 740.55,232.45 740.80,233.97 741.05,235.26 741.30,236.18 741.51,236.50 741.55,236.49 741.80,235.86 742.05,234.51 742.30,232.49 742.55,228.09 742.80,220.15 743.05,190.83 743.30,133.85 743.55,125.38 743.80,121.27 744.05,119.11 744.30,117.57 744.55,116.60 744.80,116.11 745.05,115.76 745.30,115.55 745.44,115.51 745.55,115.53 745.80,115.72 746.05,116.05 746.30,116.48 746.55,117.27 746.80,118.60 747.05,120.28 747.30,122.71 747.55,125.85 747.80,128.92 748.05,132.14 748.30,135.82 748.55,140.34 748.80,145.77 749.05,151.75 749.30,157.95 749.55,164.58 749.80,171.62 750.05,178.91 750.30,186.30 750.55,194.39 750.80,202.99 751.05,210.92 751.30,217.00 751.55,221.48 751.80,225.13 752.05,228.27 752.30,231.05 752.55,233.04 752.80,234.46 753.05,235.64 753.30,236.37 753.42,236.50 753.55,236.37 753.80,235.44 754.05,233.89 754.30,231.23 754.55,225.80 754.80,214.69 755.05,163.76 755.30,130.15 755.55,123.53 755.80,120.39 756.05,118.49 756.30,117.15 756.55,116.39 756.80,115.97 757.05,115.66 757.30,115.52 757.35,115.51 757.55,115.58 757.80,115.82 758.05,116.19 758.30,116.69 758.55,117.70 758.80,119.18 759.05,121.01 759.30,123.82 759.55,126.96 759.80,130.05 760.05,133.40 760.30,137.33 760.55,142.21 760.80,147.88 761.05,153.97 761.30,160.28 761.55,167.08 761.80,174.23 762.05,181.57 762.30,189.08 762.55,197.49 762.80,205.99 763.05,213.38 763.30,218.73 763.55,222.88 763.80,226.29 764.05,229.33 764.30,231.88 764.55,233.57 764.80,234.93 765.05,235.97 765.30,236.49 765.33,236.50 765.55,236.12 765.80,234.94 766.05,233.22 766.30,229.61 766.55,223.07 766.80,206.64 767.05,141.23 767.30,127.21 767.55,122.12 767.80,119.64 768.05,117.94 768.30,116.81 768.55,116.23 768.80,115.84 769.05,115.59 769.26,115.51 769.30,115.52 769.55,115.65 769.80,115.94 770.05,116.35 770.30,116.99 770.55,118.19 770.80,119.79 771.05,121.92 771.30,124.96 771.55,128.06 771.80,131.21 772.05,134.73 772.30,138.97 772.55,144.18 772.80,150.04 773.05,156.19 773.30,162.68 773.55,169.62 773.80,176.85 774.05,184.23 774.30,192.02 774.55,200.60 774.80,208.84 775.05,215.55 775.30,220.33 775.55,224.18 775.80,227.41 776.05,230.33"/>
<polyline stroke="#f00000" stroke-width="1.15" points="468.30,198.05 468.55,201.45 468.80,204.42 469.05,207.03 469.30,209.32 469.55,211.32 469.80,213.08 470.05,214.62 470.30,215.97 470.55,217.16 470.80,218.20 471.05,219.11 471.30,219.91 471.55,220.61 471.80,221.22 472.05,221.76 472.30,222.23 472.55,222.64 472.80,223.01 473.05,223.32 473.30,223.60 473.55,223.85 473.80,224.06 474.05,224.25 474.30,224.41 474.55,224.56 474.80,224.68 475.05,224.79 475.30,224.89 475.55,224.98 475.80,225.05 476.05,225.12 476.30,225.18 476.55,225.23 476.80,225.27 477.05,225.31 477.30,225.34 477.55,225.37 477.80,225.40 478.05,225.42 478.30,225.44 478.55,225.46 478.80,225.47 479.05,225.49 479.30,225.50 479.55,225.51 479.80,225.52 480.05,225.53 480.30,225.53 480.55,225.54 480.80,225.55 481.05,225.55 481.30,225.55 481.55,225.56 481.80,225.56 482.05,225.56 482.30,225.57 482.55,225.57 482.80,225.57 483.05,225.57 483.30,225.57 483.55,225.57 483.80,225.58 484.05,225.58 484.30,225.58 484.55,225.58 484.80,225.58 485.05,225.58 485.30,225.58 485.55,225.58 485.80,225.58 486.05,225.58 486.30,225.58 486.55,225.58 486.80,225.58 487.05,225.58 487.30,225.58 487.55,225.58 487.80,225.58 488.05,225.58 488.30,225.58 488.55,225.58 488.80,225.58 489.05,225.58 489.30,225.58 489.55,225.58 489.80,225.58 490.05,225.58 490.30,225.58 490.55,225.58 490.80,225.58 491.05,225.58 491.30,225.58 491.55,225.58 491.80,225.58 492.05,225.58 492.30,225.58 492.55,225.58 492.80,225.58 493.05,225.58 493.30,225.58 493.55,225.58 493.80,225.58 494.05,225.58 494.30,225.58 494.55,225.58 494.80,225.58 495.05,225.58 495.30,225.58 495.55,225.58 495.80,225.58 496.05,225.58 496.30,225.58 496.55,225.58 496.80,225.58 497.05,225.58 497.30,225.58 497.55,225.58 497.80,225.58 498.05,225.58 498.30,225.58 498.55,225.58 498.80,225.58 499.05,225.58 499.30,225.58 499.55,225.58 499.80,225.58 500.05,225.58 500.30,225.58 500.55,225.58 500.80,225.58 501.05,225.58 501.30,225.58 501.55,225.58 501.80,225.58 502.05,225.58 502.30,225.58 502.55,225.58 502.80,225.58 503.05,225.58 503.30,225.58 503.55,225.58 503.80,225.58 504.05,225.58 504.30,225.58 504.55,225.58 504.80,225.58 505.05,225.58 505.30,225.58 505.55,225.58 505.80,225.58 506.05,225.58 506.30,225.58 506.55,225.58 506.80,225.58 507.05,225.58 507.30,225.58 507.55,225.58 507.80,225.58 508.05,225.58 508.30,225.58 508.55,225.58 508.80,225.58 509.05,225.58 509.30,225.58 509.55,225.58 509.80,225.58 510.05,225.58 510.30,225.58 510.55,225.58 510.80,225.58 511.05,225.58 511.30,225.58 511.55,225.58 511.80,225.58 512.05,225.58 512.30,225.58 512.55,225.58 512.80,225.58 513.05,225.58 513.30,225.58 513.55,225.58 513.80,225.58 514.05,225.58 514.30,225.58 514.55,225.58 514.80,225.58 515.05,225.58 515.30,225.58 515.55,225.58 515.80,225.58 516.05,225.58 516.30,225.58 516.55,225.58 516.80,225.58 517.05,225.58 517.30,225.58 517.55,225.58 517.80,225.58 518.05,225.58 518.30,225.58 518.55,225.58 518.80,225.58 519.05,225.58 519.30,225.58 519.55,225.58 519.80,225.58 520.05,225.58 520.30,225.58 520.55,225.58 520.80,225.58 521.05,225.58 521.30,225.58 521.55,225.58 521.80,225.58 522.05,225.58 522.30,225.58 522.55,225.58 522.80,225.58 523.05,225.58 523.30,225.58 523.55,225.58 523.80,225.58 524.05,225.58 524.30,225.58 524.55,225.58 524.80,225.58 525.05,225.58 525.30,225.58 525.55,225.58 525.80,225.58 526.05,225.58 526.30,225.58 526.55,225.58 526.80,225.58 527.05,225.58 527.30,225.58 527.55,225.58 527.80,225.58 528.05,225.58 528.30,225.58 528.55,225.58 528.80,225.58 529.05,225.58 529.30,225.58 529.55,225.58 529.80,225.58 530.05,225.58 530.30,225.58 530.55,225.58 530.80,225.58 531.05,225.58 531.30,225.58 531.55,225.58 531.80,225.58 532.05,225.58 532.30,225.58 532.55,225.58 532.80,225.58 533.05,225.58 533.30,225.58 533.55,225.58 533.80,225.58 534.05,225.58 534.30,225.58 534.55,225.58 534.80,225.58 535.05,225.58 535.30,225.58 535.55,225.58 535.80,225.58 536.05,225.58 536.30,225.58 536.55,225.58 536.80,225.58 537.05,225.58 537.30,225.58 537.55,225.58 537.80,225.58 538.05,225.58 538.30,225.58 538.55,225.58 538.80,225.58 539.05,225.58 539.30,225.58 539.55,225.58 539.80,225.58 540.05,225.58 540.30,225.58 540.55,225.58 540.80,225.58 541.05,225.58 541.30,225.58 541.55,225.58 541.80,225.58 542.05,225.58 542.30,225.58 542.55,225.58 542.80,225.58 543.05,225.58 543.30,225.58 543.55,225.58 543.80,225.58 544.05,225.58 544.30,225.58 544.55,225.58 544.80,225.58 545.05,225.58 545.30,225.58 545.55,225.58 545.80,225.58 546.05,225.58 546.30,225.58 546.55,225.58 546.80,225.58 547.05,225.58 547.30,225.58 547.55,225.58 547.80,225.58 548.05,225.58 548.30,225.58 548.55,225.58 548.80,225.58 549.05,225.58 549.30,225.58 549.55,225.58 549.80,225.58 550.05,225.58 550.30,225.58 550.55,225.58 550.80,225.58 551.05,225.58 551.30,225.58 551.55,225.58 551.80,225.58 552.05,225.58 552.30,225.58 552.55,225.58 552.80,225.58 553.05,225.58 553.30,225.58 553.55,225.58 553.80,225.58 554.05,225.58 554.30,225.58 554.55,225.58 554.80,225.58 555.05,225.58 555.30,225.58 555.55,225.58 555.80,225.58 556.05,225.58 556.30,225.58 556.55,225.58 556.80,225.58 557.05,225.58 557.30,225.58 557.55,225.58 557.80,225.58 558.05,225.58 558.30,225.58 558.55,225.58 558.80,225.58 559.05,225.58 559.30,225.58 559.55,225.58 559.80,225.58 560.05,225.58 560.30,225.58 560.40,225.58 560.55,220.77 560.80,212.80 561.05,204.92 561.30,197.12 561.55,189.40 561.80,181.78 562.05,174.25 562.30,166.81 562.55,159.48 562.80,152.25 563.05,145.13 563.30,138.12 563.55,131.23 563.80,124.48 564.05,117.85 564.30,111.37 564.55,105.05 564.80,98.89 565.05,92.91 565.30,87.14 565.55,81.58 565.80,76.27 566.05,71.27 566.30,66.62 566.55,62.44 566.80,59.00 566.90,58.10 567.05,60.15 567.30,64.45 567.55,69.19 567.80,74.23 568.05,79.49 568.30,84.92 568.55,90.50 568.80,96.20 569.05,102.02 569.30,107.95 569.55,113.97 569.80,120.07 570.05,126.25 570.30,132.51 570.55,138.83 570.80,145.23 571.05,151.68 571.30,158.19 571.55,164.76 571.80,171.38 572.05,178.05 572.30,184.77 572.55,191.54 572.80,198.35 573.05,205.21 573.30,212.11 573.55,219.05 573.80,226.02 574.00,231.63 574.05,231.62 574.30,231.17 574.55,230.21 574.80,228.89 575.05,226.65 575.30,222.54 575.55,215.80 575.80,197.58 576.05,142.18 576.30,129.04 576.55,124.12 576.80,121.51 577.05,119.89 577.30,118.64 577.55,117.78 577.80,117.29 578.05,116.96 578.30,116.71 578.55,116.57 578.70,116.54 578.80,116.56 579.05,116.73 579.30,117.05 579.55,117.48 579.80,118.24 580.05,119.54 580.30,121.20 580.55,123.56 580.80,126.66 581.05,129.71 581.30,132.89 581.55,136.52 581.80,140.96 582.05,146.31 582.30,152.23 582.55,158.36 582.80,164.92 583.05,171.89 583.30,179.11 583.55,186.43 583.80,194.41 584.05,202.94 584.30,210.85 584.55,216.97 584.80,221.45 585.05,225.09 585.30,228.22 585.55,231.00 585.80,233.01 586.05,234.43 586.30,235.61 586.55,236.36 586.68,236.50 586.80,236.39 587.05,235.50 587.30,233.98 587.55,231.41 587.80,226.12 588.05,215.50 588.30,166.50 588.55,130.98 588.80,124.20 589.05,120.98 589.30,119.06 589.55,117.71 589.80,116.93 590.05,116.51 590.30,116.20 590.55,116.05 590.61,116.04 590.80,116.10 591.05,116.33 591.30,116.70 591.55,117.18 591.80,118.17 592.05,119.62 592.30,121.42 592.55,124.18 592.80,127.31 593.05,130.38 593.30,133.70 593.55,137.59 593.80,142.41 594.05,148.03 594.30,154.08 594.55,160.35 594.80,167.10 595.05,174.21 595.30,181.51 595.55,188.97 595.80,197.32 596.05,205.80 596.30,213.23 596.55,218.62 596.80,222.79 597.05,226.21 597.30,229.25 597.55,231.82 597.80,233.52 598.05,234.88 598.30,235.94 598.55,236.48 598.59,236.50 598.80,236.16 599.05,235.01 599.30,233.31 599.55,229.82 599.80,223.44 600.05,207.75 600.30,143.54 600.55,127.74 600.80,122.51 601.05,119.98 601.30,118.26 601.55,117.11 601.80,116.51 602.05,116.13 602.30,115.87 602.52,115.78 602.55,115.79 602.80,115.91 603.05,116.20 603.30,116.60 603.55,117.22 603.80,118.39 604.05,119.98 604.30,122.07 604.55,125.08 604.80,128.18 605.05,131.31 605.30,134.80 605.55,139.00 605.80,144.16 606.05,149.99 606.30,156.12 606.55,162.57 606.80,169.48 607.05,176.70 607.30,184.05 607.55,191.79 607.80,200.34 608.05,208.59 608.30,215.37 608.55,220.19 608.80,224.06 609.05,227.31 609.30,230.24 609.55,232.53 609.80,234.03 610.05,235.31 610.30,236.20 610.50,236.50 610.55,236.48 610.80,235.82 611.05,234.44 611.30,232.37 611.55,227.86 611.80,219.66 612.05,187.67 612.30,133.52 612.55,125.28 612.80,121.29 613.05,119.17 613.30,117.65 613.55,116.71 613.80,116.23 614.05,115.88 614.30,115.68 614.43,115.65 614.55,115.68 614.80,115.87 615.05,116.20 615.30,116.64 615.55,117.45 615.80,118.80 616.05,120.49 616.30,122.96 616.55,126.10 616.80,129.17 617.05,132.40 617.30,136.10 617.55,140.65 617.80,146.11 618.05,152.09 618.30,158.30 618.55,164.94 618.80,171.98 619.05,179.27 619.30,186.65 619.55,194.78 619.80,203.37 620.05,211.24 620.30,217.22 620.55,221.66 620.80,225.28 621.05,228.40 621.30,231.16 621.55,233.10 621.80,234.52 622.05,235.68 622.30,236.39 622.41,236.50 622.55,236.34 622.80,235.39 623.05,233.82 623.30,231.07 623.55,225.53 623.80,213.95 624.05,161.25 624.30,129.85 624.55,123.42 624.80,120.37 625.05,118.49 625.30,117.18 625.55,116.44 625.80,116.03 626.05,115.72 626.30,115.59 626.34,115.59 626.55,115.66 626.80,115.90 627.05,116.28 627.30,116.79 627.55,117.82 627.80,119.31 628.05,121.17 628.30,124.01 628.55,127.15 628.80,130.24 629.05,133.60 629.30,137.56 629.55,142.48 629.80,148.17 630.05,154.26 630.30,160.59 630.55,167.40 630.80,174.55 631.05,181.90 631.30,189.42 631.55,197.86 631.80,206.33 632.05,213.65 632.30,218.92 632.55,223.04 632.80,226.42 633.05,229.45 633.30,231.97 633.55,233.63 633.80,234.98 634.05,236.00 634.30,236.49 634.32,236.50 634.55,236.09 634.80,234.88 635.05,233.13 635.30,229.41 635.55,222.71 635.80,205.47 636.05,139.37 636.30,126.96 636.55,122.02 636.80,119.59 637.05,117.92 637.30,116.81 637.55,116.25 637.80,115.87 638.05,115.62 638.25,115.55 638.30,115.55 638.55,115.69 638.80,115.99 639.05,116.40 639.30,117.06 639.55,118.28 639.80,119.89 640.05,122.06 640.30,125.12 640.55,128.21 640.80,131.37 641.05,134.91 641.30,139.19 641.55,144.43 641.80,150.31 642.05,156.46 642.30,162.97 642.55,169.92 642.80,177.17 643.05,184.54 643.30,192.37 643.55,200.96 643.80,209.15 644.05,215.77 644.30,220.50 644.55,224.32 644.80,227.54 645.05,230.44 645.30,232.66 645.55,234.14 645.80,235.39 646.05,236.25 646.23,236.50 646.30,236.46 646.55,235.73 646.80,234.31 647.05,232.11 647.30,227.37 647.55,218.57 647.80,181.04 648.05,132.54 648.30,124.72 648.55,120.97 648.80,118.91 649.05,117.44 649.30,116.54 649.55,116.08 649.80,115.74 650.05,115.55 650.16,115.53 650.30,115.57 650.55,115.77 650.80,116.11 651.05,116.56 651.30,117.43 651.55,118.81 651.80,120.52 652.05,123.09 652.30,126.24 652.55,129.31 652.80,132.57 653.05,136.33 653.30,140.97 653.55,146.48 653.80,152.50 654.05,158.73 654.30,165.42 654.55,172.50 654.80,179.81 655.05,187.21 655.30,195.42 655.55,204.01 655.80,211.78 656.05,217.60 656.30,221.96 656.55,225.53 656.80,228.63 657.05,231.34 657.30,233.22 657.55,234.62 657.80,235.76 658.05,236.42 658.14,236.50 658.30,236.30 658.55,235.28 658.80,233.68 659.05,230.73 659.30,224.96 659.55,212.33 659.80,155.92 660.05,129.10 660.30,123.02 660.55,120.14 660.80,118.31 661.05,117.04 661.30,116.34 661.55,115.94 661.80,115.65 662.05,115.52 662.07,115.52 662.30,115.61 662.55,115.87 662.80,116.25 663.05,116.79 663.30,117.86 663.55,119.39 663.80,121.31 664.05,124.20 664.30,127.34 664.55,130.44 664.80,133.84 665.05,137.87 665.30,142.86 665.55,148.60 665.80,154.71 666.05,161.08 666.30,167.92 666.55,175.10 666.80,182.46 667.05,190.05 667.30,198.53 667.55,206.96 667.80,214.14 668.05,219.28 668.30,223.32 668.55,226.67 668.80,229.67 669.05,232.14 669.30,233.74 669.55,235.07 669.80,236.06 670.05,236.50 670.05,236.50 670.30,236.02 670.55,234.76 670.80,232.93 671.05,228.98 671.30,221.93 671.55,201.84 671.80,136.40 672.05,126.38 672.30,121.74 672.55,119.41 672.80,117.78 673.05,116.72 673.30,116.18 673.55,115.81 673.80,115.57 673.98,115.52 674.05,115.53 674.30,115.68 674.55,115.99 674.80,116.41 675.05,117.11 675.30,118.37 675.55,120.00 675.80,122.25 676.05,125.35 676.30,128.43 676.55,131.61 676.80,135.20 677.05,139.55 677.30,144.86 677.55,150.78 677.80,156.94 678.05,163.49 678.30,170.48 678.55,177.74 678.80,185.12 679.05,193.03 679.30,201.63 679.55,209.75 679.80,216.19 680.05,220.83 680.30,224.59 680.55,227.78 680.80,230.65 681.05,232.80 681.30,234.25 681.55,235.48 681.80,236.30 681.96,236.50 682.05,236.44 682.30,235.64 682.55,234.17 682.80,231.84 683.05,226.86 683.30,217.39 683.55,174.60 683.80,131.69 684.05,124.29 684.30,120.76 684.55,118.75 684.80,117.33 685.05,116.47 685.30,116.03 685.55,115.71 685.80,115.53 685.89,115.52 686.05,115.56 686.30,115.77 686.55,116.13 686.80,116.59 687.05,117.50 687.30,118.92 687.55,120.67 687.80,123.32 688.05,126.47 688.30,129.54 688.55,132.83 688.80,136.65 689.05,141.37 689.30,146.94 689.55,152.98 689.80,159.24 690.05,165.96 690.30,173.07 690.55,180.39 690.80,187.82 691.05,196.11 691.30,204.67 691.55,212.32 691.80,217.98 692.05,222.27 692.30,225.78 692.55,228.86 692.80,231.53 693.05,233.34 693.30,234.72 693.55,235.83 693.80,236.45 693.87,236.50 694.05,236.25 694.30,235.17 694.55,233.53 694.80,230.37 695.05,224.37 695.30,210.58 695.55,150.63 695.80,128.43 696.05,122.70 696.30,119.96 696.55,118.18 696.80,116.95 697.05,116.30 697.30,115.90 697.55,115.62 697.80,115.52 697.80,115.52 698.05,115.62 698.30,115.89 698.55,116.28 698.80,116.85 699.05,117.96 699.30,119.51 699.55,121.50 699.80,124.45 700.05,127.57 700.30,130.69 700.55,134.13 700.80,138.22 701.05,143.29 701.30,149.08 701.55,155.20 701.80,161.61 702.05,168.48 702.30,175.68 702.55,183.05 702.80,190.70 703.05,199.22 703.30,207.59 703.55,214.62 703.80,219.63 704.05,223.61 704.30,226.91 704.55,229.89 704.80,232.29 705.05,233.85 705.30,235.17 705.55,236.12 705.78,236.50 705.80,236.50 706.05,235.94 706.30,234.63 706.55,232.72 706.80,228.54 707.05,221.08 707.30,196.81 707.55,134.79 707.80,125.87 708.05,121.50 708.30,119.25 708.55,117.67 708.80,116.65 709.05,116.14 709.30,115.78 709.55,115.56 709.71,115.51 709.80,115.53 710.05,115.70 710.30,116.02 710.55,116.44 710.80,117.19 711.05,118.48 711.30,120.14 711.55,122.48 711.80,125.60 712.05,128.67 712.30,131.87 712.55,135.51 712.80,139.94 713.05,145.31 713.30,151.26 713.55,157.44 713.80,164.03 714.05,171.05 714.30,178.32 714.55,185.71 714.80,193.71 715.05,202.32 715.30,210.34 715.55,216.60 715.80,221.16 716.05,224.86 716.30,228.02 716.55,230.85 716.80,232.92 717.05,234.35 717.30,235.56 717.55,236.34 717.69,236.50 717.80,236.40 718.05,235.54 718.30,234.03 718.55,231.54 718.80,226.34 719.05,216.10 719.30,168.75 719.55,130.90 719.80,123.89 720.05,120.57 720.30,118.62 720.55,117.24 720.80,116.43 721.05,116.00 721.30,115.68 721.55,115.52 721.62,115.51 721.80,115.57 722.05,115.80 722.30,116.16 722.55,116.64 722.80,117.60 723.05,119.05 723.30,120.83 723.55,123.57 723.80,126.72 724.05,129.79 724.30,133.11 724.55,136.98 724.80,141.79 725.05,147.41 725.30,153.47 725.55,159.76 725.80,166.52 726.05,173.64 726.30,180.98 726.55,188.44 726.80,196.80 727.05,205.33 727.30,212.86 727.55,218.36 727.80,222.58 728.05,226.04 728.30,229.10 728.55,231.71 728.80,233.45 729.05,234.83 729.30,235.90 729.55,236.47 729.60,236.50 729.80,236.19 730.05,235.06 730.30,233.38 730.55,230.00 730.80,223.75 731.05,208.69 731.30,145.63 731.55,127.80 731.80,122.40 732.05,119.80 732.30,118.06 732.55,116.88 732.80,116.26 733.05,115.87 733.30,115.60 733.53,115.51 733.55,115.51 733.80,115.63 734.05,115.91 734.30,116.31 734.55,116.91 734.80,118.07 735.05,119.65 735.30,121.70 735.55,124.70 735.80,127.82 736.05,130.94 736.30,134.43 736.55,138.59 736.80,143.73 737.05,149.56 737.30,155.70 737.55,162.14 737.80,169.05 738.05,176.27 738.30,183.64 738.55,191.36 738.80,199.91 739.05,208.22 739.30,215.09 739.55,219.98 739.80,223.90 740.05,227.16 740.30,230.11 740.55,232.45 740.80,233.97 741.05,235.26 741.30,236.18 741.51,236.50 741.55,236.49 741.80,235.86 742.05,234.51 742.30,232.49 742.55,228.09 742.80,220.15 743.05,190.83 743.30,133.85 743.55,125.38 743.80,121.27 744.05,119.11 744.30,117.57 744.55,116.60 744.80,116.11 745.05,115.76 745.30,115.55 745.44,115.51 745.55,115.53 745.80,115.72 746.05,116.05 746.30,116.48 746.55,117.27 746.80,118.60 747.05,120.28 747.30,122.71 747.55,125.85 747.80,128.92 748.05,132.14 748.30,135.82 748.55,140.34 748.80,145.77 749.05,151.75 749.30,157.95 749.55,164.58 749.80,171.62 750.05,178.91 750.30,186.30 750.55,194.39 750.80,202.99 751.05,210.92 751.30,217.00 751.55,221.48 751.80,225.13 752.05,228.27 752.30,231.05 752.55,233.04 752.80,234.46 753.05,235.64 753.30,236.37 753.42,236.50 753.55,236.37 753.80,235.44 754.05,233.89 754.30,231.23 754.55,225.80 754.80,214.69 755.05,163.76 755.30,130.15 755.55,123.53 755.80,120.39 756.05,118.49 756.30,117.15 756.55,116.39 756.80,115.97 757.05,115.66 757.30,115.52 757.35,115.51 757.55,115.58 757.80,115.82 758.05,116.19 758.30,116.69 758.55,117.70 758.80,119.18 759.05,121.01 759.30,123.82 759.55,126.96 759.80,130.05 760.05,133.40 760.30,137.33 760.55,142.21 760.80,147.88 761.05,153.97 761.30,160.28 761.55,167.08 761.80,174.23 762.05,181.57 762.30,189.08 762.55,197.49 762.80,205.99 763.05,213.38 763.30,218.73 763.55,222.88 763.80,226.29 764.05,229.33 764.30,231.88 764.55,233.57 764.80,234.93 765.05,235.97 765.30,236.49 765.33,236.50 765.55,236.12 765.80,234.94 766.05,233.22 766.30,229.61 766.55,223.07 766.80,206.64 767.05,141.23 767.30,127.21 767.55,122.12 767.80,119.64 768.05,117.94 768.30,116.81 768.55,116.23 768.80,115.84 769.05,115.59 769.26,115.51 769.30,115.52 769.55,115.65 769.80,115.94 770.05,116.35 770.30,116.99 770.55,118.19 770.80,119.79 771.05,121.92 771.30,124.96 771.55,128.06 771.80,131.21 772.05,134.73 772.30,138.97 772.55,144.18 772.80,150.04 773.05,156.19 773.30,162.68 773.55,169.62 773.80,176.85 774.05,184.23 774.30,192.02 774.55,200.60 774.80,208.84 775.05,215.55 775.30,220.33 775.55,224.18 775.80,227.41 776.05,230.33"/>
<polyline stroke="#00ff00" stroke-width="1.0" points="468.30,187.80 468.55,192.51 468.80,196.64 469.05,200.26 469.30,203.43 469.55,206.21 469.80,208.65 470.05,210.79 470.30,212.66 470.55,214.31 470.80,215.75 471.05,217.01 471.30,218.12 471.55,219.09 471.80,219.94 472.05,220.69 472.30,221.34 472.55,221.91 472.80,222.42 473.05,222.86 473.30,223.25 473.55,223.58 473.80,223.88 474.05,224.14 474.30,224.37 474.55,224.57 474.80,224.75 475.05,224.90 475.30,225.03 475.55,225.15 475.80,225.26 476.05,225.35 476.30,225.43 476.55,225.50 476.80,225.56 477.05,225.61 477.30,225.66 477.55,225.70 477.80,225.74 478.05,225.77 478.30,225.80 478.55,225.82 478.80,225.84 479.05,225.86 479.30,225.88 479.55,225.89 479.80,225.90 480.05,225.91 480.30,225.92 480.55,225.93 480.80,225.94 481.05,225.95 481.30,225.95 481.55,225.96 481.80,225.96 482.05,225.97 482.30,225.97 482.55,225.97 482.80,225.98 483.05,225.98 483.30,225.98 483.55,225.98 483.80,225.98 484.05,225.98 484.30,225.99 484.55,225.99 484.80,225.99 485.05,225.99 485.30,225.99 485.55,225.99 485.80,225.99 486.05,225.99 486.30,225.99 486.55,225.99 486.80,225.99 487.05,225.99 487.30,225.99 487.55,225.99 487.80,225.99 488.05,225.99 488.30,225.99 488.55,225.99 488.80,225.99 489.05,225.99 489.30,225.99 489.55,225.99 489.80,225.99 490.05,225.99 490.30,225.99 490.55,225.99 490.80,225.99 491.05,225.99 491.30,225.99 491.55,225.99 491.80,225.99 492.05,225.99 492.30,225.99 492.55,225.99 492.80,225.99 493.05,225.99 493.30,225.99 493.55,225.99 493.80,225.99 494.05,225.99 494.30,225.99 494.55,225.99 494.80,225.99 495.05,225.99 495.30,225.99 495.55,225.99 495.80,225.99 496.05,225.99 496.30,225.99 496.55,225.99 496.80,225.99 497.05,225.99 497.30,225.99 497.55,225.99 497.80,225.99 498.05,225.99 498.30,225.99 498.55,225.99 498.80,225.99 499.05,225.99 499.30,225.99 499.55,225.99 499.80,225.99 500.05,225.99 500.30,225.99 500.55,225.99 500.80,225.99 501.05,225.99 501.30,225.99 501.55,225.99 501.80,225.99 502.05,225.99 502.30,225.99 502.55,225.99 502.80,225.99 503.05,225.99 503.30,225.99 503.55,225.99 503.80,225.99 504.05,225.99 504.30,225.99 504.55,225.99 504.80,225.99 505.05,225.99 505.30,225.99 505.55,225.99 505.80,225.99 506.05,225.99 506.30,225.99 506.55,225.99 506.80,225.99 507.05,225.99 507.30,225.99 507.55,225.99 507.80,225.99 508.05,225.99 508.30,225.99 508.55,225.99 508.80,225.99 509.05,225.99 509.30,225.99 509.55,225.99 509.80,225.99 510.05,225.99 510.30,225.99 510.55,225.99 510.80,225.99 511.05,225.99 511.30,225.99 511.55,225.99 511.80,225.99 512.05,225.99 512.30,225.99 512.55,225.99 512.80,225.99 513.05,225.99 513.30,225.99 513.55,225.99 513.80,225.99 514.05,225.99 514.30,225.99 514.55,225.99 514.80,225.99 515.05,225.99 515.30,225.99 515.55,225.99 515.80,225.99 516.05,225.99 516.30,225.99 516.55,225.99 516.80,225.99 517.05,225.99 517.30,225.99 517.55,225.99 517.80,225.99 518.05,225.99 518.30,225.99 518.55,225.99 518.80,225.99 519.05,225.99 519.30,225.99 519.55,225.99 519.80,225.99 520.05,225.99 520.30,225.99 520.55,225.99 520.80,225.99 521.05,225.99 521.30,225.99 521.55,225.99 521.80,225.99 522.05,225.99 522.30,225.99 522.55,225.99 522.80,225.99 523.05,225.99 523.30,225.99 523.55,225.99 523.80,225.99 524.05,225.99 524.30,225.99 524.55,225.99 524.80,225.99 525.05,225.99 525.30,225.99 525.55,225.99 525.80,225.99 526.05,225.99 526.30,225.99 526.55,225.99 526.80,225.99 527.05,225.99 527.30,225.99 527.55,225.99 527.80,225.99 528.05,225.99 528.30,225.99 528.55,225.99 528.80,225.99 529.05,225.99 529.30,225.99 529.55,225.99 529.80,225.99 530.05,225.99 530.30,225.99 530.55,225.99 530.80,225.99 531.05,225.99 531.30,225.99 531.55,225.99 531.80,225.99 532.05,225.99 532.30,225.99 532.55,225.99 532.80,225.99 533.05,225.99 533.30,225.99 533.55,225.99 533.80,225.99 534.05,225.99 534.30,225.99 534.55,225.99 534.80,225.99 535.05,225.99 535.30,225.99 535.55,225.99 535.80,225.99 536.05,225.99 536.30,225.99 536.55,225.99 536.80,225.99 537.05,225.99 537.30,225.99 537.55,225.99 537.80,225.99 538.05,225.99 538.30,225.99 538.55,225.99 538.80,225.99 539.05,225.99 539.30,225.99 539.55,225.99 539.80,225.99 540.05,225.99 540.30,225.99 540.55,225.99 540.80,225.99 541.05,225.99 541.30,225.99 541.55,225.99 541.80,225.99 542.05,225.99 542.30,225.99 542.55,225.99 542.80,225.99 543.05,225.99 543.30,225.99 543.55,225.99 543.80,225.99 544.05,225.99 544.30,225.99 544.55,225.99 544.80,225.99 545.05,225.99 545.30,225.99 545.55,225.99 545.80,225.99 546.05,225.99 546.30,225.99 546.55,225.99 546.80,225.99 547.05,225.99 547.30,225.99 547.55,225.99 547.80,225.99 548.05,225.99 548.30,225.99 548.55,225.99 548.80,225.99 549.05,225.99 549.30,225.99 549.55,225.99 549.80,225.99 550.05,225.99 550.30,225.99 550.55,225.99 550.80,225.99 551.05,225.99 551.30,225.99 551.55,225.99 551.80,225.99 552.05,225.99 552.30,225.99 552.55,225.99 552.80,225.99 553.05,225.99 553.30,225.99 553.55,225.99 553.80,225.99 554.05,225.99 554.30,225.99 554.55,225.99 554.80,225.99 555.05,225.99 555.30,225.99 555.55,225.99 555.80,225.99 556.05,225.99 556.30,225.99 556.55,225.99 556.80,225.99 557.05,225.99 557.30,225.99 557.55,225.99 557.80,225.99 558.05,225.99 558.30,225.99 558.55,225.99 558.80,225.99 559.05,225.99 559.30,225.99 559.55,225.99 559.80,225.99 560.05,225.99 560.30,225.99 560.55,225.99 560.80,225.99 561.05,225.99 561.30,225.99 561.55,225.99 561.80,225.99 562.05,225.99 562.30,225.99 562.55,225.99 562.80,225.99 563.05,225.99 563.30,225.99 563.30,225.99 563.55,225.81 563.80,225.26 564.05,224.35 564.30,223.09 564.55,221.49 564.80,219.57 565.05,217.36 565.30,214.88 565.55,212.15 565.80,209.21 566.05,206.09 566.30,202.83 566.55,199.45 566.80,196.01 567.05,192.54 567.30,189.07 567.55,185.65 567.80,182.32 568.05,179.11 568.30,176.06 568.55,173.20 568.80,170.57 569.05,168.19 569.30,166.09 569.55,164.30 569.80,162.84 570.05,161.71 570.30,160.95 570.55,160.54 570.70,160.47 570.80,160.53 571.05,161.13 571.30,162.40 571.55,164.29 571.80,166.76 572.05,169.77 572.30,173.24 572.55,177.09 572.80,181.24 573.05,185.58 573.30,190.03 573.55,194.48 573.80,198.82 574.05,202.97 574.30,206.82 574.55,210.29 574.80,213.30 575.05,215.77 575.30,217.66 575.55,218.93 575.80,219.53 575.90,219.59 576.05,217.53 576.30,214.22 576.55,211.11 576.80,208.24 577.05,205.49 577.30,202.84 577.55,200.34 577.80,198.06 578.05,196.04 578.30,194.19 578.55,192.42 578.80,190.76 579.05,189.25 579.30,187.93 579.55,186.83 579.80,185.97 580.05,185.18 580.30,184.45 580.55,183.80 580.80,183.27 581.05,182.88 581.30,182.67 581.30,182.67 581.55,184.08 581.80,185.56 582.05,187.13 582.30,188.77 582.55,190.49 582.80,192.31 583.05,194.31 583.30,196.44 583.55,198.65 583.80,200.89 584.05,203.10 584.30,205.24 584.55,207.25 584.80,209.15 585.05,211.10 585.30,213.06 585.55,214.97 585.80,216.78 586.05,218.43 586.30,219.86 586.55,221.02 586.80,221.92 587.05,222.75 587.30,223.48 587.55,224.08 587.80,224.52 587.97,224.71 588.05,223.41 588.30,219.48 588.55,215.77 588.80,212.36 589.05,209.11 589.30,205.98 589.55,203.03 589.80,200.33 590.05,197.95 590.30,195.78 590.55,193.71 590.80,191.76 591.05,190.01 591.30,188.48 591.55,187.24 591.80,186.26 592.05,185.34 592.30,184.50 592.55,183.77 592.80,183.20 593.05,182.81 593.21,182.67 593.30,183.17 593.55,184.60 593.80,186.12 594.05,187.71 594.30,189.38 594.55,191.12 594.80,193.01 595.05,195.07 595.30,197.23 595.55,199.46 595.80,201.69 596.05,203.88 596.30,205.98 596.55,207.94 596.80,209.85 597.05,211.81 597.30,213.75 597.55,215.64 597.80,217.39 598.05,218.97 598.30,220.32 598.55,221.36 598.80,222.23 599.05,223.02 599.30,223.71 599.55,224.26 599.80,224.63 599.88,224.71 600.05,221.97 600.30,218.11 600.55,214.50 600.80,211.18 601.05,207.96 601.30,204.89 601.55,202.03 601.80,199.43 602.05,197.16 602.30,195.02 602.55,192.99 602.80,191.11 603.05,189.43 603.30,188.00 603.55,186.87 603.80,185.92 604.05,185.02 604.30,184.22 604.55,183.55 604.80,183.03 605.05,182.72 605.12,182.67 605.30,183.68 605.55,185.14 605.80,186.68 606.05,188.30 606.30,190.00 606.55,191.78 606.80,193.74 607.05,195.83 607.30,198.03 607.55,200.26 607.80,202.49 608.05,204.65 608.30,206.70 608.55,208.61 608.80,210.55 609.05,212.51 609.30,214.44 609.55,216.29 609.80,217.99 610.05,219.49 610.30,220.73 610.55,221.68 610.80,222.52 611.05,223.28 611.30,223.93 611.55,224.42 611.79,224.71 611.80,224.54 612.05,220.56 612.30,216.78 612.55,213.28 612.80,210.01 613.05,206.84 613.30,203.84 613.55,201.06 613.80,198.58 614.05,196.38 614.30,194.28 614.55,192.29 614.80,190.48 615.05,188.88 615.30,187.55 615.55,186.52 615.80,185.59 616.05,184.72 616.30,183.96 616.55,183.34 616.80,182.90 617.03,182.67 617.05,182.78 617.30,184.19 617.55,185.69 617.80,187.25 618.05,188.90 618.30,190.63 618.55,192.47 618.80,194.48 619.05,196.62 619.30,198.83 619.55,201.07 619.80,203.28 620.05,205.41 620.30,207.41 620.55,209.30 620.80,211.26 621.05,213.21 621.30,215.12 621.55,216.92 621.80,218.55 622.05,219.97 622.30,221.10 622.55,221.99 622.80,222.81 623.05,223.53 623.30,224.12 623.55,224.55 623.70,224.71 623.80,223.09 624.05,219.17 624.30,215.48 624.55,212.09 624.80,208.85 625.05,205.74 625.30,202.81 625.55,200.13 625.80,197.77 626.05,195.61 626.30,193.54 626.55,191.62 626.80,189.87 627.05,188.37 627.30,187.15 627.55,186.18 627.80,185.27 628.05,184.43 628.30,183.72 628.55,183.16 628.80,182.79 628.94,182.67 629.05,183.28 629.30,184.72 629.55,186.24 629.80,187.84 630.05,189.51 630.30,191.27 630.55,193.17 630.80,195.23 631.05,197.41 631.30,199.63 631.55,201.87 631.80,204.06 632.05,206.14 632.30,208.09 632.55,210.00 632.80,211.96 633.05,213.91 633.30,215.78 633.55,217.53 633.80,219.09 634.05,220.41 634.30,221.44 634.55,222.30 634.80,223.08 635.05,223.76 635.30,224.30 635.55,224.66 635.61,224.71 635.80,221.66 636.05,217.81 636.30,214.23 636.55,210.92 636.80,207.71 637.05,204.66 637.30,201.81 637.55,199.24 637.80,196.99 638.05,194.86 638.30,192.83 638.55,190.96 638.80,189.30 639.05,187.90 639.30,186.79 639.55,185.85 639.80,184.96 640.05,184.16 640.30,183.50 640.55,183.00 640.80,182.70 640.85,182.67 641.05,183.79 641.30,185.26 641.55,186.81 641.80,188.43 642.05,190.14 642.30,191.93 642.55,193.90 642.80,196.01 643.05,198.20 643.30,200.44 643.55,202.66 643.80,204.82 644.05,206.86 644.30,208.77 644.55,210.71 644.80,212.67 645.05,214.59 645.30,216.43 645.55,218.11 645.80,219.60 646.05,220.82 646.30,221.75 646.55,222.59 646.80,223.34 647.05,223.97 647.30,224.45 647.52,224.71 647.55,224.22 647.80,220.25 648.05,216.49 648.30,213.02 648.55,209.75 648.80,206.59 649.05,203.60 649.30,200.85 649.55,198.40 649.80,196.21 650.05,194.11 650.30,192.14 650.55,190.34 650.80,188.76 651.05,187.46 651.30,186.45 651.55,185.52 651.80,184.66 652.05,183.91 652.30,183.30 652.55,182.87 652.76,182.67 652.80,182.89 653.05,184.31 653.30,185.81 653.55,187.38 653.80,189.04 654.05,190.77 654.30,192.62 654.55,194.64 654.80,196.79 655.05,199.01 655.30,201.25 655.55,203.45 655.80,205.57 656.05,207.56 656.30,209.46 656.55,211.41 656.80,213.37 657.05,215.27 657.30,217.06 657.55,218.67 657.80,220.07 658.05,221.18 658.30,222.06 658.55,222.87 658.80,223.58 659.05,224.16 659.30,224.57 659.43,224.71 659.55,222.77 659.80,218.87 660.05,215.20 660.30,211.83 660.55,208.60 660.80,205.49 661.05,202.58 661.30,199.93 661.55,197.60 661.80,195.44 662.05,193.38 662.30,191.47 662.55,189.74 662.80,188.26 663.05,187.07 663.30,186.11 663.55,185.20 663.80,184.37 664.05,183.67 664.30,183.12 664.55,182.77 664.67,182.67 664.80,183.39 665.05,184.84 665.30,186.37 665.55,187.97 665.80,189.65 666.05,191.41 666.30,193.33 666.55,195.41 666.80,197.58 667.05,199.81 667.30,202.05 667.55,204.23 667.80,206.31 668.05,208.24 668.30,210.16 668.55,212.12 668.80,214.06 669.05,215.93 669.30,217.66 669.55,219.20 669.80,220.50 670.05,221.51 670.30,222.36 670.55,223.14 670.80,223.81 671.05,224.33 671.30,224.68 671.34,224.71 671.55,221.34 671.80,217.52 672.05,213.96 672.30,210.66 672.55,207.46 672.80,204.42 673.05,201.59 673.30,199.05 673.55,196.81 673.80,194.69 674.05,192.68 674.30,190.82 674.55,189.18 674.80,187.80 675.05,186.71 675.30,185.77 675.55,184.89 675.80,184.10 676.05,183.45 676.30,182.97 676.55,182.69 676.58,182.67 676.80,183.91 677.05,185.38 677.30,186.93 677.55,188.57 677.80,190.28 678.05,192.08 678.30,194.06 678.55,196.18 678.80,198.38 679.05,200.62 679.30,202.84 679.55,204.99 679.80,207.02 680.05,208.92 680.30,210.86 680.55,212.82 680.80,214.74 681.05,216.57 681.30,218.24 681.55,219.70 681.80,220.90 682.05,221.82 682.30,222.65 682.55,223.40 682.80,224.01 683.05,224.48 683.25,224.71 683.30,223.90 683.55,219.94 683.80,216.20 684.05,212.75 684.30,209.49 684.55,206.35 684.80,203.37 685.05,200.64 685.30,198.21 685.55,196.04 685.80,193.95 686.05,191.99 686.30,190.21 686.55,188.65 686.80,187.37 687.05,186.37 687.30,185.44 687.55,184.59 687.80,183.85 688.05,183.26 688.30,182.84 688.49,182.67 688.55,183.00 688.80,184.43 689.05,185.93 689.30,187.51 689.55,189.17 689.80,190.91 690.05,192.78 690.30,194.81 690.55,196.97 690.80,199.19 691.05,201.42 691.30,203.62 691.55,205.74 691.80,207.71 692.05,209.61 692.30,211.57 692.55,213.52 692.80,215.42 693.05,217.19 693.30,218.79 693.55,220.17 693.80,221.26 694.05,222.13 694.30,222.93 694.55,223.63 694.80,224.20 695.05,224.60 695.16,224.71 695.30,222.45 695.55,218.56 695.80,214.92 696.05,211.57 696.30,208.34 696.55,205.25 696.80,202.36 697.05,199.73 697.30,197.42 697.55,195.27 697.80,193.23 698.05,191.32 698.30,189.62 698.55,188.15 698.80,186.99 699.05,186.03 699.30,185.13 699.55,184.31 699.80,183.62 700.05,183.08 700.30,182.75 700.40,182.67 700.55,183.51 700.80,184.96 701.05,186.49 701.30,188.10 701.55,189.79 701.80,191.56 702.05,193.49 702.30,195.58 702.55,197.76 702.80,199.99 703.05,202.22 703.30,204.40 703.55,206.47 703.80,208.39 704.05,210.32 704.30,212.28 704.55,214.21 704.80,216.07 705.05,217.79 705.30,219.32 705.55,220.60 705.80,221.58 706.05,222.43 706.30,223.20 706.55,223.86 706.80,224.37 707.05,224.69 707.07,224.71 707.30,221.03 707.55,217.22 707.80,213.68 708.05,210.40 708.30,207.21 708.55,204.18 708.80,201.38 709.05,198.86 709.30,196.64 709.55,194.52 709.80,192.52 710.05,190.68 710.30,189.06 710.55,187.70 710.80,186.64 711.05,185.70 711.30,184.82 711.55,184.05 711.80,183.41 712.05,182.94 712.30,182.68 712.31,182.67 712.55,184.02 712.80,185.50 713.05,187.06 713.30,188.70 713.55,190.42 713.80,192.23 714.05,194.23 714.30,196.35 714.55,198.56 714.80,200.80 715.05,203.01 715.30,205.16 715.55,207.17 715.80,209.07 716.05,211.02 716.30,212.98 716.55,214.89 716.80,216.71 717.05,218.37 717.30,219.81 717.55,220.98 717.80,221.89 718.05,222.72 718.30,223.45 718.55,224.06 718.80,224.51 718.98,224.71 719.05,223.57 719.30,219.63 719.55,215.91 719.80,212.49 720.05,209.24 720.30,206.10 720.55,203.15 720.80,200.44 721.05,198.03 721.30,195.87 721.55,193.79 721.80,191.84 722.05,190.07 722.30,188.54 722.55,187.28 722.80,186.29 723.05,185.37 723.30,184.53 723.55,183.80 723.80,183.22 724.05,182.82 724.22,182.67 724.30,183.11 724.55,184.55 724.80,186.05 725.05,187.64 725.30,189.31 725.55,191.05 725.80,192.93 726.05,194.98 726.30,197.14 726.55,199.37 726.80,201.60 727.05,203.80 727.30,205.90 727.55,207.86 727.80,209.77 728.05,211.73 728.30,213.68 728.55,215.56 728.80,217.33 729.05,218.91 729.30,220.27 729.55,221.33 729.80,222.20 730.05,222.99 730.30,223.69 730.55,224.24 730.80,224.62 730.89,224.71 731.05,222.13 731.30,218.26 731.55,214.64 731.80,211.31 732.05,208.09 732.30,205.01 732.55,202.14 732.80,199.53 733.05,197.25 733.30,195.11 733.55,193.07 733.80,191.18 734.05,189.49 734.30,188.05 734.55,186.91 734.80,185.96 735.05,185.06 735.30,184.25 735.55,183.57 735.80,183.05 736.05,182.73 736.13,182.67 736.30,183.62 736.55,185.08 736.80,186.62 737.05,188.23 737.30,189.93 737.55,191.71 737.80,193.65 738.05,195.75 738.30,197.94 738.55,200.17 738.80,202.40 739.05,204.57 739.30,206.63 739.55,208.54 739.80,210.47 740.05,212.43 740.30,214.37 740.55,216.21 740.80,217.92 741.05,219.43 741.30,220.69 741.55,221.65 741.80,222.49 742.05,223.26 742.30,223.90 742.55,224.40 742.80,224.71 742.80,224.71 743.05,220.72 743.30,216.93 743.55,213.41 743.80,210.14 744.05,206.96 744.30,203.95 744.55,201.17 744.80,198.67 745.05,196.47 745.30,194.36 745.55,192.37 745.80,190.55 746.05,188.94 746.30,187.60 746.55,186.56 746.80,185.63 747.05,184.76 747.30,183.99 747.55,183.36 747.80,182.91 748.04,182.67 748.05,182.73 748.30,184.14 748.55,185.62 748.80,187.19 749.05,188.83 749.30,190.56 749.55,192.39 749.80,194.39 750.05,196.53 750.30,198.74 750.55,200.98 750.80,203.19 751.05,205.32 751.30,207.33 751.55,209.23 751.80,211.18 752.05,213.14 752.30,215.04 752.55,216.85 752.80,218.49 753.05,219.91 753.30,221.06 753.55,221.96 753.80,222.78 754.05,223.50 754.30,224.10 754.55,224.53 754.71,224.71 754.80,223.25 755.05,219.32 755.30,215.63 755.55,212.23 755.80,208.98 756.05,205.86 756.30,202.92 756.55,200.23 756.80,197.86 757.05,195.70 757.30,193.63 757.55,191.69 757.80,189.94 758.05,188.43 758.30,187.19 758.55,186.22 758.80,185.30 759.05,184.47 759.30,183.75 759.55,183.18 759.80,182.80 759.95,182.67 760.05,183.23 760.30,184.66 760.55,186.18 760.80,187.77 761.05,189.45 761.30,191.20 761.55,193.09 761.80,195.15 762.05,197.32 762.30,199.55 762.55,201.78 762.80,203.97 763.05,206.06 763.30,208.01 763.55,209.93 763.80,211.88 764.05,213.83 764.30,215.71 764.55,217.46 764.80,219.03 765.05,220.36 765.30,221.40 765.55,222.26 765.80,223.05 766.05,223.73 766.30,224.28 766.55,224.65 766.62,224.71 766.80,221.82 767.05,217.96 767.30,214.37 767.55,211.05 767.80,207.84 768.05,204.77 768.30,201.92 768.55,199.34 768.80,197.07 769.05,194.94 769.30,192.91 769.55,191.04 769.80,189.36 770.05,187.95 770.30,186.83 770.55,185.88 770.80,184.99 771.05,184.19 771.30,183.52 771.55,183.02 771.80,182.71 771.86,182.67 772.05,183.73 772.30,185.20 772.55,186.74 772.80,188.37 773.05,190.07 773.30,191.86 773.55,193.82 773.80,195.92 774.05,198.12 774.30,200.35 774.55,202.58 774.80,204.74 775.05,206.78 775.30,208.69 775.55,210.63 775.80,212.59 776.05,214.52"/>
<polyline stroke="#0020ff" stroke-width="1.15" points="468.30,192.93 468.55,197.00 468.80,200.58 469.05,203.71 469.30,206.46 469.55,208.87 469.80,210.98 470.05,212.83 470.30,214.45 470.55,215.88 470.80,217.12 471.05,218.22 471.30,219.18 471.55,220.02 471.80,220.75 472.05,221.40 472.30,221.97 472.55,222.46 472.80,222.90 473.05,223.28 473.30,223.61 473.55,223.91 473.80,224.16 474.05,224.39 474.30,224.59 474.55,224.76 474.80,224.91 475.05,225.05 475.30,225.16 475.55,225.27 475.80,225.36 476.05,225.43 476.30,225.50 476.55,225.56 476.80,225.62 477.05,225.66 477.30,225.70 477.55,225.74 477.80,225.77 478.05,225.80 478.30,225.82 478.55,225.84 478.80,225.86 479.05,225.88 479.30,225.89 479.55,225.90 479.80,225.92 480.05,225.93 480.30,225.93 480.55,225.94 480.80,225.95 481.05,225.95 481.30,225.96 481.55,225.96 481.80,225.97 482.05,225.97 482.30,225.97 482.55,225.98 482.80,225.98 483.05,225.98 483.30,225.98 483.55,225.98 483.80,225.98 484.05,225.99 484.30,225.99 484.55,225.99 484.80,225.99 485.05,225.99 485.30,225.99 485.55,225.99 485.80,225.99 486.05,225.99 486.30,225.99 486.55,225.99 486.80,225.99 487.05,225.99 487.30,225.99 487.55,225.99 487.80,225.99 488.05,225.99 488.30,225.99 488.55,225.99 488.80,225.99 489.05,225.99 489.30,225.99 489.55,225.99 489.80,225.99 490.05,225.99 490.30,225.99 490.55,225.99 490.80,225.99 491.05,225.99 491.30,225.99 491.55,225.99 491.80,225.99 492.05,225.99 492.30,225.99 492.55,225.99 492.80,225.99 493.05,225.99 493.30,225.99 493.55,225.99 493.80,225.99 494.05,225.99 494.30,225.99 494.55,225.99 494.80,225.99 495.05,225.99 495.30,225.99 495.55,225.99 495.80,225.99 496.05,225.99 496.30,225.99 496.55,225.99 496.80,225.99 497.05,225.99 497.30,225.99 497.55,225.99 497.80,225.99 498.05,225.99 498.30,225.99 498.55,225.99 498.80,225.99 499.05,225.99 499.30,225.99 499.55,225.99 499.80,225.99 500.05,225.99 500.30,225.99 500.55,225.99 500.80,225.99 501.05,225.99 501.30,225.99 501.55,225.99 501.80,225.99 502.05,225.99 502.30,225.99 502.55,225.99 502.80,225.99 503.05,225.99 503.30,225.99 503.55,225.99 503.80,225.99 504.05,225.99 504.30,225.99 504.55,225.99 504.80,225.99 505.05,225.99 505.30,225.99 505.55,225.99 505.80,225.99 506.05,225.99 506.30,225.99 506.55,225.99 506.80,225.99 507.05,225.99 507.30,225.99 507.55,225.99 507.80,225.99 508.05,225.99 508.30,225.99 508.55,225.99 508.80,225.99 509.05,225.99 509.30,225.99 509.55,225.99 509.80,225.99 510.05,225.99 510.30,225.99 510.55,225.99 510.80,225.99 511.05,225.99 511.30,225.99 511.55,225.99 511.80,225.99 512.05,225.99 512.30,225.99 512.55,225.99 512.80,225.99 513.05,225.99 513.30,225.99 513.55,225.99 513.80,225.99 514.05,225.99 514.30,225.99 514.55,225.99 514.80,225.99 515.05,225.99 515.30,225.99 515.55,225.99 515.80,225.99 516.05,225.99 516.30,225.99 516.55,225.99 516.80,225.99 517.05,225.99 517.30,225.99 517.55,225.99 517.80,225.99 518.05,225.99 518.30,225.99 518.55,225.99 518.80,225.99 519.05,225.99 519.30,225.99 519.55,225.99 519.80,225.99 520.05,225.99 520.30,225.99 520.55,225.99 520.80,225.99 521.05,225.99 521.30,225.99 521.55,225.99 521.80,225.99 522.05,225.99 522.30,225.99 522.55,225.99 522.80,225.99 523.05,225.99 523.30,225.99 523.55,225.99 523.80,225.99 524.05,225.99 524.30,225.99 524.55,225.99 524.80,225.99 525.05,225.99 525.30,225.99 525.55,225.99 525.80,225.99 526.05,225.99 526.30,225.99 526.55,225.99 526.80,225.99 527.05,225.99 527.30,225.99 527.55,225.99 527.80,225.99 528.05,225.99 528.30,225.99 528.55,225.99 528.80,225.99 529.05,225.99 529.30,225.99 529.55,225.99 529.80,225.99 530.05,225.99 530.30,225.99 530.55,225.99 530.80,225.99 531.05,225.99 531.30,225.99 531.55,225.99 531.80,225.99 532.05,225.99 532.30,225.99 532.55,225.99 532.80,225.99 533.05,225.99 533.30,225.99 533.55,225.99 533.80,225.99 534.05,225.99 534.30,225.99 534.55,225.99 534.80,225.99 535.05,225.99 535.30,225.99 535.55,225.99 535.80,225.99 536.05,225.99 536.30,225.99 536.55,225.99 536.80,225.99 537.05,225.99 537.30,225.99 537.55,225.99 537.80,225.99 538.05,225.99 538.30,225.99 538.55,225.99 538.80,225.99 539.05,225.99 539.30,225.99 539.55,225.99 539.80,225.99 540.05,225.99 540.30,225.99 540.55,225.99 540.80,225.99 541.05,225.99 541.30,225.99 541.55,225.99 541.80,225.99 542.05,225.99 542.30,225.99 542.55,225.99 542.80,225.99 543.05,225.99 543.30,225.99 543.55,225.99 543.80,225.99 544.05,225.99 544.30,225.99 544.55,225.99 544.80,225.99 545.05,225.99 545.30,225.99 545.55,225.99 545.80,225.99 546.05,225.99 546.30,225.99 546.55,225.99 546.80,225.99 547.05,225.99 547.30,225.99 547.55,225.99 547.80,225.99 548.05,225.99 548.30,225.99 548.55,225.99 548.80,225.99 549.05,225.99 549.30,225.99 549.55,225.99 549.80,225.99 550.05,225.99 550.30,225.99 550.55,225.99 550.80,225.99 551.05,225.99 551.30,225.99 551.55,225.99 551.80,225.99 552.05,225.99 552.30,225.99 552.55,225.99 552.80,225.99 553.05,225.99 553.30,225.99 553.55,225.99 553.80,225.99 554.05,225.99 554.30,225.99 554.55,225.99 554.80,225.99 555.05,225.99 555.30,225.99 555.55,225.99 555.80,225.99 556.05,225.99 556.30,225.99 556.55,225.99 556.80,225.99 557.05,225.99 557.30,225.99 557.55,225.99 557.80,225.99 558.05,225.99 558.30,225.99 558.55,225.99 558.80,225.99 559.05,225.99 559.30,225.99 559.55,225.99 559.80,225.99 560.05,225.99 560.30,225.99 560.55,225.99 560.80,225.99 561.05,225.99 561.30,225.99 561.55,225.99 561.80,225.99 562.05,225.99 562.30,225.99 562.55,225.99 562.80,225.99 563.05,225.99 563.30,225.99 563.30,225.99 563.55,225.81 563.80,225.26 564.05,224.35 564.30,223.09 564.55,221.49 564.80,219.57 565.05,217.36 565.30,214.88 565.55,212.15 565.80,209.21 566.05,206.09 566.30,202.83 566.55,199.45 566.80,196.01 567.05,192.54 567.30,189.07 567.55,185.65 567.80,182.32 568.05,179.11 568.30,176.06 568.55,173.20 568.80,170.57 569.05,168.19 569.30,166.09 569.55,164.30 569.80,162.84 570.05,161.71 570.30,160.95 570.55,160.54 570.70,160.47 570.80,160.53 571.05,161.13 571.30,162.40 571.55,164.29 571.80,166.76 572.05,169.77 572.30,173.24 572.55,177.09 572.80,181.24 573.05,185.58 573.30,190.03 573.55,194.48 573.80,198.82 574.05,202.97 574.30,206.82 574.55,210.29 574.80,213.30 575.05,215.77 575.30,217.66 575.55,218.93 575.80,219.53 575.90,219.59 576.05,217.53 576.30,214.22 576.55,211.11 576.80,208.24 577.05,205.49 577.30,202.84 577.55,200.34 577.80,198.06 578.05,196.04 578.30,194.19 578.55,192.42 578.80,190.76 579.05,189.25 579.30,187.93 579.55,186.83 579.80,185.97 580.05,185.18 580.30,184.45 580.55,183.80 580.80,183.27 581.05,182.88 581.30,182.67 581.30,182.67 581.55,184.08 581.80,185.56 582.05,187.13 582.30,188.77 582.55,190.49 582.80,192.31 583.05,194.31 583.30,196.44 583.55,198.65 583.80,200.89 584.05,203.10 584.30,205.24 584.55,207.25 584.80,209.15 585.05,211.10 585.30,213.06 585.55,214.97 585.80,216.78 586.05,218.43 586.30,219.86 586.55,221.02 586.80,221.92 587.05,222.75 587.30,223.48 587.55,224.08 587.80,224.52 587.97,224.71 588.05,223.41 588.30,219.48 588.55,215.77 588.80,212.36 589.05,209.11 589.30,205.98 589.55,203.03 589.80,200.33 590.05,197.95 590.30,195.78 590.55,193.71 590.80,191.76 591.05,190.01 591.30,188.48 591.55,187.24 591.80,186.26 592.05,185.34 592.30,184.50 592.55,183.77 592.80,183.20 593.05,182.81 593.21,182.67 593.30,183.17 593.55,184.60 593.80,186.12 594.05,187.71 594.30,189.38 594.55,191.12 594.80,193.01 595.05,195.07 595.30,197.23 595.55,199.46 595.80,201.69 596.05,203.88 596.30,205.98 596.55,207.94 596.80,209.85 597.05,211.81 597.30,213.75 597.55,215.64 597.80,217.39 598.05,218.97 598.30,220.32 598.55,221.36 598.80,222.23 599.05,223.02 599.30,223.71 599.55,224.26 599.80,224.63 599.88,224.71 600.05,221.97 600.30,218.11 600.55,214.50 600.80,211.18 601.05,207.96 601.30,204.89 601.55,202.03 601.80,199.43 602.05,197.16 602.30,195.02 602.55,192.99 602.80,191.11 603.05,189.43 603.30,188.00 603.55,186.87 603.80,185.92 604.05,185.02 604.30,184.22 604.55,183.55 604.80,183.03 605.05,182.72 605.12,182.67 605.30,183.68 605.55,185.14 605.80,186.68 606.05,188.30 606.30,190.00 606.55,191.78 606.80,193.74 607.05,195.83 607.30,198.03 607.55,200.26 607.80,202.49 608.05,204.65 608.30,206.70 608.55,208.61 608.80,210.55 609.05,212.51 609.30,214.44 609.55,216.29 609.80,217.99 610.05,219.49 610.30,220.73 610.55,221.68 610.80,222.52 611.05,223.28 611.30,223.93 611.55,224.42 611.79,224.71 611.80,224.54 612.05,220.56 612.30,216.78 612.55,213.28 612.80,210.01 613.05,206.84 613.30,203.84 613.55,201.06 613.80,198.58 614.05,196.38 614.30,194.28 614.55,192.29 614.80,190.48 615.05,188.88 615.30,187.55 615.55,186.52 615.80,185.59 616.05,184.72 616.30,183.96 616.55,183.34 616.80,182.90 617.03,182.67 617.05,182.78 617.30,184.19 617.55,185.69 617.80,187.25 618.05,188.90 618.30,190.63 618.55,192.47 618.80,194.48 619.05,196.62 619.30,198.83 619.55,201.07 619.80,203.28 620.05,205.41 620.30,207.41 620.55,209.30 620.80,211.26 621.05,213.21 621.30,215.12 621.55,216.92 621.80,218.55 622.05,219.97 622.30,221.10 622.55,221.99 622.80,222.81 623.05,223.53 623.30,224.12 623.55,224.55 623.70,224.71 623.80,223.09 624.05,219.17 624.30,215.48 624.55,212.09 624.80,208.85 625.05,205.74 625.30,202.81 625.55,200.13 625.80,197.77 626.05,195.61 626.30,193.54 626.55,191.62 626.80,189.87 627.05,188.37 627.30,187.15 627.55,186.18 627.80,185.27 628.05,184.43 628.30,183.72 628.55,183.16 628.80,182.79 628.94,182.67 629.05,183.28 629.30,184.72 629.55,186.24 629.80,187.84 630.05,189.51 630.30,191.27 630.55,193.17 630.80,195.23 631.05,197.41 631.30,199.63 631.55,201.87 631.80,204.06 632.05,206.14 632.30,208.09 632.55,210.00 632.80,211.96 633.05,213.91 633.30,215.78 633.55,217.53 633.80,219.09 634.05,220.41 634.30,221.44 634.55,222.30 634.80,223.08 635.05,223.76 635.30,224.30 635.55,224.66 635.61,224.71 635.80,221.66 636.05,217.81 636.30,214.23 636.55,210.92 636.80,207.71 637.05,204.66 637.30,201.81 637.55,199.24 637.80,196.99 638.05,194.86 638.30,192.83 638.55,190.96 638.80,189.30 639.05,187.90 639.30,186.79 639.55,185.85 639.80,184.96 640.05,184.16 640.30,183.50 640.55,183.00 640.80,182.70 640.85,182.67 641.05,183.79 641.30,185.26 641.55,186.81 641.80,188.43 642.05,190.14 642.30,191.93 642.55,193.90 642.80,196.01 643.05,198.20 643.30,200.44 643.55,202.66 643.80,204.82 644.05,206.86 644.30,208.77 644.55,210.71 644.80,212.67 645.05,214.59 645.30,216.43 645.55,218.11 645.80,219.60 646.05,220.82 646.30,221.75 646.55,222.59 646.80,223.34 647.05,223.97 647.30,224.45 647.52,224.71 647.55,224.22 647.80,220.25 648.05,216.49 648.30,213.02 648.55,209.75 648.80,206.59 649.05,203.60 649.30,200.85 649.55,198.40 649.80,196.21 650.05,194.11 650.30,192.14 650.55,190.34 650.80,188.76 651.05,187.46 651.30,186.45 651.55,185.52 651.80,184.66 652.05,183.91 652.30,183.30 652.55,182.87 652.76,182.67 652.80,182.89 653.05,184.31 653.30,185.81 653.55,187.38 653.80,189.04 654.05,190.77 654.30,192.62 654.55,194.64 654.80,196.79 655.05,199.01 655.30,201.25 655.55,203.45 655.80,205.57 656.05,207.56 656.30,209.46 656.55,211.41 656.80,213.37 657.05,215.27 657.30,217.06 657.55,218.67 657.80,220.07 658.05,221.18 658.30,222.06 658.55,222.87 658.80,223.58 659.05,224.16 659.30,224.57 659.43,224.71 659.55,222.77 659.80,218.87 660.05,215.20 660.30,211.83 660.55,208.60 660.80,205.49 661.05,202.58 661.30,199.93 661.55,197.60 661.80,195.44 662.05,193.38 662.30,191.47 662.55,189.74 662.80,188.26 663.05,187.07 663.30,186.11 663.55,185.20 663.80,184.37 664.05,183.67 664.30,183.12 664.55,182.77 664.67,182.67 664.80,183.39 665.05,184.84 665.30,186.37 665.55,187.97 665.80,189.65 666.05,191.41 666.30,193.33 666.55,195.41 666.80,197.58 667.05,199.81 667.30,202.05 667.55,204.23 667.80,206.31 668.05,208.24 668.30,210.16 668.55,212.12 668.80,214.06 669.05,215.93 669.30,217.66 669.55,219.20 669.80,220.50 670.05,221.51 670.30,222.36 670.55,223.14 670.80,223.81 671.05,224.33 671.30,224.68 671.34,224.71 671.55,221.34 671.80,217.52 672.05,213.96 672.30,210.66 672.55,207.46 672.80,204.42 673.05,201.59 673.30,199.05 673.55,196.81 673.80,194.69 674.05,192.68 674.30,190.82 674.55,189.18 674.80,187.80 675.05,186.71 675.30,185.77 675.55,184.89 675.80,184.10 676.05,183.45 676.30,182.97 676.55,182.69 676.58,182.67 676.80,183.91 677.05,185.38 677.30,186.93 677.55,188.57 677.80,190.28 678.05,192.08 678.30,194.06 678.55,196.18 678.80,198.38 679.05,200.62 679.30,202.84 679.55,204.99 679.80,207.02 680.05,208.92 680.30,210.86 680.55,212.82 680.80,214.74 681.05,216.57 681.30,218.24 681.55,219.70 681.80,220.90 682.05,221.82 682.30,222.65 682.55,223.40 682.80,224.01 683.05,224.48 683.25,224.71 683.30,223.90 683.55,219.94 683.80,216.20 684.05,212.75 684.30,209.49 684.55,206.35 684.80,203.37 685.05,200.64 685.30,198.21 685.55,196.04 685.80,193.95 686.05,191.99 686.30,190.21 686.55,188.65 686.80,187.37 687.05,186.37 687.30,185.44 687.55,184.59 687.80,183.85 688.05,183.26 688.30,182.84 688.49,182.67 688.55,183.00 688.80,184.43 689.05,185.93 689.30,187.51 689.55,189.17 689.80,190.91 690.05,192.78 690.30,194.81 690.55,196.97 690.80,199.19 691.05,201.42 691.30,203.62 691.55,205.74 691.80,207.71 692.05,209.61 692.30,211.57 692.55,213.52 692.80,215.42 693.05,217.19 693.30,218.79 693.55,220.17 693.80,221.26 694.05,222.13 694.30,222.93 694.55,223.63 694.80,224.20 695.05,224.60 695.16,224.71 695.30,222.45 695.55,218.56 695.80,214.92 696.05,211.57 696.30,208.34 696.55,205.25 696.80,202.36 697.05,199.73 697.30,197.42 697.55,195.27 697.80,193.23 698.05,191.32 698.30,189.62 698.55,188.15 698.80,186.99 699.05,186.03 699.30,185.13 699.55,184.31 699.80,183.62 700.05,183.08 700.30,182.75 700.40,182.67 700.55,183.51 700.80,184.96 701.05,186.49 701.30,188.10 701.55,189.79 701.80,191.56 702.05,193.49 702.30,195.58 702.55,197.76 702.80,199.99 703.05,202.22 703.30,204.40 703.55,206.47 703.80,208.39 704.05,210.32 704.30,212.28 704.55,214.21 704.80,216.07 705.05,217.79 705.30,219.32 705.55,220.60 705.80,221.58 706.05,222.43 706.30,223.20 706.55,223.86 706.80,224.37 707.05,224.69 707.07,224.71 707.30,221.03 707.55,217.22 707.80,213.68 708.05,210.40 708.30,207.21 708.55,204.18 708.80,201.38 709.05,198.86 709.30,196.64 709.55,194.52 709.80,192.52 710.05,190.68 710.30,189.06 710.55,187.70 710.80,186.64 711.05,185.70 711.30,184.82 711.55,184.05 711.80,183.41 712.05,182.94 712.30,182.68 712.31,182.67 712.55,184.02 712.80,185.50 713.05,187.06 713.30,188.70 713.55,190.42 713.80,192.23 714.05,194.23 714.30,196.35 714.55,198.56 714.80,200.80 715.05,203.01 715.30,205.16 715.55,207.17 715.80,209.07 716.05,211.02 716.30,212.98 716.55,214.89 716.80,216.71 717.05,218.37 717.30,219.81 717.55,220.98 717.80,221.89 718.05,222.72 718.30,223.45 718.55,224.06 718.80,224.51 718.98,224.71 719.05,223.57 719.30,219.63 719.55,215.91 719.80,212.49 720.05,209.24 720.30,206.10 720.55,203.15 720.80,200.44 721.05,198.03 721.30,195.87 721.55,193.79 721.80,191.84 722.05,190.07 722.30,188.54 722.55,187.28 722.80,186.29 723.05,185.37 723.30,184.53 723.55,183.80 723.80,183.22 724.05,182.82 724.22,182.67 724.30,183.11 724.55,184.55 724.80,186.05 725.05,187.64 725.30,189.31 725.55,191.05 725.80,192.93 726.05,194.98 726.30,197.14 726.55,199.37 726.80,201.60 727.05,203.80 727.30,205.90 727.55,207.86 727.80,209.77 728.05,211.73 728.30,213.68 728.55,215.56 728.80,217.33 729.05,218.91 729.30,220.27 729.55,221.33 729.80,222.20 730.05,222.99 730.30,223.69 730.55,224.24 730.80,224.62 730.89,224.71 731.05,222.13 731.30,218.26 731.55,214.64 731.80,211.31 732.05,208.09 732.30,205.01 732.55,202.14 732.80,199.53 733.05,197.25 733.30,195.11 733.55,193.07 733.80,191.18 734.05,189.49 734.30,188.05 734.55,186.91 734.80,185.96 735.05,185.06 735.30,184.25 735.55,183.57 735.80,183.05 736.05,182.73 736.13,182.67 736.30,183.62 736.55,185.08 736.80,186.62 737.05,188.23 737.30,189.93 737.55,191.71 737.80,193.65 738.05,195.75 738.30,197.94 738.55,200.17 738.80,202.40 739.05,204.57 739.30,206.63 739.55,208.54 739.80,210.47 740.05,212.43 740.30,214.37 740.55,216.21 740.80,217.92 741.05,219.43 741.30,220.69 741.55,221.65 741.80,222.49 742.05,223.26 742.30,223.90 742.55,224.40 742.80,224.71 742.80,224.71 743.05,220.72 743.30,216.93 743.55,213.41 743.80,210.14 744.05,206.96 744.30,203.95 744.55,201.17 744.80,198.67 745.05,196.47 745.30,194.36 745.55,192.37 745.80,190.55 746.05,188.94 746.30,187.60 746.55,186.56 746.80,185.63 747.05,184.76 747.30,183.99 747.55,183.36 747.80,182.91 748.04,182.67 748.05,182.73 748.30,184.14 748.55,185.62 748.80,187.19 749.05,188.83 749.30,190.56 749.55,192.39 749.80,194.39 750.05,196.53 750.30,198.74 750.55,200.98 750.80,203.19 751.05,205.32 751.30,207.33 751.55,209.23 751.80,211.18 752.05,213.14 752.30,215.04 752.55,216.85 752.80,218.49 753.05,219.91 753.30,221.06 753.55,221.96 753.80,222.78 754.05,223.50 754.30,224.10 754.55,224.53 754.71,224.71 754.80,223.25 755.05,219.32 755.30,215.63 755.55,212.23 755.80,208.98 756.05,205.86 756.30,202.92 756.55,200.23 756.80,197.86 757.05,195.70 757.30,193.63 757.55,191.69 757.80,189.94 758.05,188.43 758.30,187.19 758.55,186.22 758.80,185.30 759.05,184.47 759.30,183.75 759.55,183.18 759.80,182.80 759.95,182.67 760.05,183.23 760.30,184.66 760.55,186.18 760.80,187.77 761.05,189.45 761.30,191.20 761.55,193.09 761.80,195.15 762.05,197.32 762.30,199.55 762.55,201.78 762.80,203.97 763.05,206.06 763.30,208.01 763.55,209.93 763.80,211.88 764.05,213.83 764.30,215.71 764.55,217.46 764.80,219.03 765.05,220.36 765.30,221.40 765.55,222.26 765.80,223.05 766.05,223.73 766.30,224.28 766.55,224.65 766.62,224.71 766.80,221.82 767.05,217.96 767.30,214.37 767.55,211.05 767.80,207.84 768.05,204.77 768.30,201.92 768.55,199.34 768.80,197.07 769.05,194.94 769.30,192.91 769.55,191.04 769.80,189.36 770.05,187.95 770.30,186.83 770.55,185.88 770.80,184.99 771.05,184.19 771.30,183.52 771.55,183.02 771.80,182.71 771.86,182.67 772.05,183.73 772.30,185.20 772.55,186.74 772.80,188.37 773.05,190.07 773.30,191.86 773.55,193.82 773.80,195.92 774.05,198.12 774.30,200.35 774.55,202.58 774.80,204.74 775.05,206.78 775.30,208.69 775.55,210.63 775.80,212.59 776.05,214.52"/>
</g>
<text x="462.30" y="38" text-anchor="end">2</text>
<text x="462.30" y="63" text-anchor="end">1.5</text>
<text x="462.30" y="89" text-anchor="end">1</text>
<text x="462.30" y="115" text-anchor="end">0.5</text>
<text x="462.30" y="140" text-anchor="end">0</text>
<text x="462.30" y="166" text-anchor="end">-0.5</text>
<text x="462.30" y="192" text-anchor="end">-1</text>
<text x="462.30" y="217" text-anchor="end">-1.5</text>
<text x="462.30" y="243" text-anchor="end">-2</text>
<text x="462.30" y="268" text-anchor="end">-2.5</text>
<text x="468.30" y="278.00" text-anchor="middle">0</text>
<text x="529.88" y="278.00" text-anchor="middle">20</text>
<text x="591.46" y="278.00" text-anchor="middle">40</text>
<text x="653.04" y="278.00" text-anchor="middle">60</text>
<text x="714.62" y="278.00" text-anchor="middle">80</text>
<text x="776.20" y="278.00" text-anchor="middle">100</text>
<text x="622.25" y="288.00" text-anchor="middle">t</text>
<text x="426.30" y="22.00" font-size="13.7">xEj,xIj</text>
<line x1="90.8" y1="462.58" x2="399.0" y2="462.58" stroke="#444" stroke-width="1" stroke-dasharray="1.6,1.2"/>
<path d="M90.8,360.00h3.2M399.0,360.00h-3.2M90.8,385.64h3.2M399.0,385.64h-3.2M90.8,411.29h3.2M399.0,411.29h-3.2M90.8,436.93h3.2M399.0,436.93h-3.2M90.8,462.58h3.2M399.0,462.58h-3.2M90.8,488.22h3.2M399.0,488.22h-3.2M90.8,513.87h3.2M399.0,513.87h-3.2M90.8,539.51h3.2M399.0,539.51h-3.2M90.8,565.16h3.2M399.0,565.16h-3.2M90.8,590.80h3.2M399.0,590.80h-3.2M90.80,360.0v3.2M90.80,590.8v-3.2M152.44,360.0v3.2M152.44,590.8v-3.2M214.08,360.0v3.2M214.08,590.8v-3.2M275.72,360.0v3.2M275.72,590.8v-3.2M337.36,360.0v3.2M337.36,590.8v-3.2M399.00,360.0v3.2M399.00,590.8v-3.2" stroke="#000" stroke-width="1" fill="none"/>
<rect x="90.8" y="360.0" width="308.20" height="230.80" fill="none" stroke="#222" stroke-width="1.4"/>
<clipPath id="clipc"><rect x="89.8" y="359.5" width="309.2" height="231.79999999999995"/></clipPath>
<g clip-path="url(#clipc)" fill="none" stroke-width="1.15" stroke-linejoin="round">
<polyline stroke="#000000" points="90.80,521.56 91.05,525.27 91.30,528.53 91.55,531.38 91.80,533.88 92.05,536.07 92.30,538.00 92.55,539.68 92.80,541.16 93.05,542.45 93.30,543.59 93.55,544.59 93.80,545.46 94.05,546.22 94.30,546.90 94.55,547.48 94.80,548.00 95.05,548.45 95.30,548.85 95.55,549.20 95.80,549.50 96.05,549.77 96.30,550.00 96.55,550.21 96.80,550.39 97.05,550.54 97.30,550.68 97.55,550.80 97.80,550.91 98.05,551.00 98.30,551.09 98.55,551.16 98.80,551.22 99.05,551.27 99.30,551.32 99.55,551.37 99.80,551.40 100.05,551.44 100.30,551.46 100.55,551.49 100.80,551.51 101.05,551.53 101.30,551.55 101.55,551.56 101.80,551.57 102.05,551.59 102.30,551.60 102.55,551.60 102.80,551.61 103.05,551.62 103.30,551.62 103.55,551.63 103.80,551.63 104.05,551.64 104.30,551.64 104.55,551.64 104.80,551.65 105.05,551.65 105.30,551.65 105.55,551.65 105.80,551.66 106.05,551.66 106.30,551.66 106.55,551.66 106.80,551.66 107.05,551.66 107.30,551.66 107.55,551.66 107.80,551.66 108.05,551.66 108.30,551.66 108.55,551.66 108.80,551.66 109.05,551.66 109.30,551.66 109.55,551.67 109.80,551.67 110.05,551.67 110.30,551.67 110.55,551.67 110.80,551.67 111.05,551.67 111.30,551.67 111.55,551.67 111.80,551.67 112.05,551.67 112.30,551.67 112.55,551.67 112.80,551.67 113.05,551.67 113.30,551.67 113.55,551.67 113.80,551.67 114.05,551.67 114.30,551.67 114.55,551.67 114.80,551.67 115.05,551.67 115.30,551.67 115.55,551.67 115.80,551.67 116.05,551.67 116.30,551.67 116.55,551.67 116.80,551.67 117.05,551.67 117.30,551.67 117.55,551.67 117.80,551.67 118.05,551.67 118.30,551.67 118.55,551.67 118.80,551.67 119.05,551.67 119.30,551.67 119.55,551.67 119.80,551.67 120.05,551.67 120.30,551.67 120.55,551.67 120.80,551.67 121.05,551.67 121.30,551.67 121.55,551.67 121.80,551.67 122.05,551.67 122.30,551.67 122.55,551.67 122.80,551.67 123.05,551.67 123.30,551.67 123.55,551.67 123.80,551.67 124.05,551.67 124.30,551.67 124.55,551.67 124.80,551.67 125.05,551.67 125.30,551.67 125.55,551.67 125.80,551.67 126.05,551.67 126.30,551.67 126.55,551.67 126.80,551.67 127.05,551.67 127.30,551.67 127.55,551.67 127.80,551.67 128.05,551.67 128.30,551.67 128.55,551.67 128.80,551.67 129.05,551.67 129.30,551.67 129.55,551.67 129.80,551.67 130.05,551.67 130.30,551.67 130.55,551.67 130.80,551.67 131.05,551.67 131.30,551.67 131.55,551.67 131.80,551.67 132.05,551.67 132.30,551.67 132.55,551.67 132.80,551.67 133.05,551.67 133.30,551.67 133.55,551.67 133.80,551.67 134.05,551.67 134.30,551.67 134.55,551.67 134.80,551.67 135.05,551.67 135.30,551.67 135.55,551.67 135.80,551.67 136.05,551.67 136.30,551.67 136.55,551.67 136.80,551.67 137.05,551.67 137.30,551.67 137.55,551.67 137.80,551.67 138.05,551.67 138.30,551.67 138.55,551.67 138.80,551.67 139.05,551.67 139.30,551.67 139.55,551.67 139.80,551.67 140.05,551.67 140.30,551.67 140.55,551.67 140.80,551.67 141.05,551.67 141.30,551.67 141.55,551.67 141.80,551.67 142.05,551.67 142.30,551.67 142.55,551.67 142.80,551.67 143.05,551.67 143.30,551.67 143.55,551.67 143.80,551.67 144.05,551.67 144.30,551.67 144.55,551.67 144.80,551.67 145.05,551.67 145.30,551.67 145.55,551.67 145.80,551.67 146.05,551.67 146.30,551.67 146.55,551.67 146.80,551.67 147.05,551.67 147.30,551.67 147.55,551.67 147.80,551.67 148.05,551.67 148.30,551.67 148.55,551.67 148.80,551.67 149.05,551.67 149.30,551.67 149.55,551.67 149.80,551.67 150.05,551.67 150.30,551.67 150.55,551.67 150.80,551.67 151.05,551.67 151.30,551.67 151.55,551.67 151.80,551.67 152.05,551.67 152.30,551.67 152.55,551.67 152.80,551.67 153.05,551.67 153.30,551.67 153.55,551.67 153.80,551.67 154.05,551.67 154.30,551.67 154.55,551.67 154.80,551.67 155.05,551.67 155.30,551.67 155.55,551.67 155.80,551.67 156.05,551.67 156.30,551.67 156.55,551.67 156.80,551.67 157.05,551.67 157.30,551.67 157.55,551.67 157.80,551.67 158.05,551.67 158.30,551.67 158.55,551.67 158.80,551.67 159.05,551.67 159.30,551.67 159.55,551.67 159.80,551.67 160.05,551.67 160.30,551.67 160.55,551.67 160.80,551.67 161.05,551.67 161.30,551.67 161.55,551.67 161.80,551.67 162.05,551.67 162.30,551.67 162.55,551.67 162.80,551.67 163.05,551.67 163.30,551.67 163.55,551.67 163.80,551.67 164.05,551.67 164.30,551.67 164.55,551.67 164.80,551.67 165.05,551.67 165.30,551.67 165.55,551.67 165.80,551.67 166.05,551.67 166.30,551.67 166.55,551.67 166.80,551.67 167.05,551.67 167.30,551.67 167.55,551.67 167.80,551.67 168.05,551.67 168.30,551.67 168.55,551.67 168.80,551.67 169.05,551.67 169.30,551.67 169.55,551.67 169.80,551.67 170.05,551.67 170.30,551.67 170.55,551.67 170.80,551.67 171.05,551.67 171.30,551.67 171.55,551.67 171.80,551.67 172.05,551.67 172.30,551.67 172.55,551.67 172.80,551.67 173.05,551.67 173.30,551.67 173.55,551.67 173.80,551.67 174.05,551.67 174.30,551.67 174.55,551.67 174.80,551.67 175.05,551.67 175.30,551.67 175.55,551.67 175.80,551.67 176.05,551.67 176.30,551.67 176.55,551.67 176.80,551.67 177.05,551.67 177.30,551.67 177.55,551.67 177.80,551.67 178.05,551.67 178.30,551.67 178.55,551.67 178.80,551.67 179.05,551.67 179.30,551.67 179.55,551.67 179.80,551.67 180.05,551.67 180.30,551.67 180.55,551.67 180.80,551.67 181.05,551.67 181.30,551.67 181.55,551.67 181.80,551.67 182.05,551.67 182.30,551.67 182.55,551.67 182.80,551.67 183.05,551.67 183.30,551.67 183.30,551.67 183.55,544.91 183.80,538.15 184.05,531.40 184.30,524.64 184.55,517.88 184.80,511.13 185.05,504.37 185.30,497.61 185.55,490.86 185.80,484.10 186.05,477.35 186.30,470.59 186.55,463.83 186.80,457.08 187.05,450.32 187.30,443.56 187.55,436.81 187.80,430.05 188.05,423.29 188.30,416.54 188.55,409.78 188.80,403.02 189.05,396.27 189.30,389.51 189.50,384.11 189.55,385.32 189.80,391.41 190.05,397.51 190.30,403.60 190.55,409.69 190.80,415.78 191.05,421.87 191.30,427.96 191.55,434.05 191.80,440.14 192.05,446.23 192.30,452.32 192.55,458.41 192.80,464.50 193.05,470.59 193.30,476.68 193.55,482.77 193.80,488.86 194.05,494.95 194.30,501.04 194.55,507.14 194.80,513.23 195.05,519.32 195.30,525.41 195.55,531.50 195.80,537.59 196.05,543.68 196.30,549.77 196.55,555.86 196.70,559.51 196.80,559.43 197.05,558.64 197.30,557.20 197.55,554.85 197.80,549.89 198.05,540.08 198.30,494.50 198.55,458.86 198.80,452.24 199.05,449.11 199.30,447.26 199.55,445.96 199.80,445.21 200.05,444.81 200.30,444.51 200.55,444.37 200.60,444.37 200.80,444.44 201.05,444.70 201.30,445.09 201.55,445.66 201.80,446.80 202.05,448.41 202.30,450.54 202.55,453.64 202.80,456.80 203.05,460.04 203.30,463.72 203.55,468.25 203.80,473.77 204.05,479.88 204.30,486.23 204.55,493.06 204.80,500.30 205.05,507.78 205.30,515.41 205.55,523.96 205.80,532.63 206.05,540.08 206.30,545.36 206.55,549.46 206.80,552.83 207.05,555.86 207.30,558.22 207.55,559.74 207.80,561.03 208.05,561.87 208.20,562.08 208.30,562.00 208.55,561.19 208.80,559.73 209.05,557.35 209.30,552.33 209.55,542.57 209.80,497.60 210.05,458.41 210.30,451.36 210.55,448.02 210.80,446.08 211.05,444.71 211.30,443.90 211.55,443.48 211.80,443.16 212.05,443.01 212.12,443.00 212.30,443.06 212.55,443.30 212.80,443.69 213.05,444.23 213.30,445.35 213.55,446.94 213.80,449.02 214.05,452.11 214.30,455.32 214.55,458.58 214.80,462.25 215.05,466.75 215.30,472.27 215.55,478.42 215.80,484.82 216.05,491.69 216.30,498.99 216.55,506.54 216.80,514.21 217.05,522.80 217.30,531.61 217.55,539.29 217.80,544.79 218.05,549.01 218.30,552.47 218.55,555.56 218.80,558.02 219.05,559.60 219.30,560.92 219.55,561.82 219.72,562.08 219.80,562.03 220.05,561.28 220.30,559.85 220.55,557.60 220.80,552.78 221.05,543.69 221.30,503.31 221.55,458.60 221.80,451.11 222.05,447.53 222.30,445.53 222.55,444.11 222.80,443.25 223.05,442.81 223.30,442.48 223.55,442.31 223.64,442.29 223.80,442.34 224.05,442.57 224.30,442.95 224.55,443.47 224.80,444.54 225.05,446.12 225.30,448.14 225.55,451.20 225.80,454.43 226.05,457.69 226.30,461.34 226.55,465.78 226.80,471.26 227.05,477.41 227.30,483.84 227.55,490.70 227.80,498.01 228.05,505.60 228.30,513.29 228.55,521.85 228.80,530.75 229.05,538.61 229.30,544.30 229.55,548.63 229.80,552.15 230.05,555.29 230.30,557.83 230.55,559.47 230.80,560.82 231.05,561.77 231.24,562.08 231.30,562.05 231.55,561.37 231.80,559.97 232.05,557.86 232.30,553.24 232.55,544.76 232.80,509.66 233.05,459.13 233.30,451.20 233.55,447.39 233.80,445.32 234.05,443.84 234.30,442.94 234.55,442.48 234.80,442.14 235.05,441.95 235.16,441.93 235.30,441.97 235.55,442.19 235.80,442.56 236.05,443.06 236.30,444.08 236.55,445.63 236.80,447.59 237.05,450.60 237.30,453.85 237.55,457.10 237.80,460.72 238.05,465.09 238.30,470.52 238.55,476.65 238.80,483.07 239.05,489.91 239.30,497.22 239.55,504.81 239.80,512.51 240.05,521.01 240.30,529.96 240.55,537.98 240.80,543.86 241.05,548.27 241.30,551.86 241.55,555.03 241.80,557.65 242.05,559.34 242.30,560.72 242.55,561.72 242.76,562.08 242.80,562.07 243.05,561.45 243.30,560.10 243.55,558.10 243.80,553.71 244.05,545.76 244.30,516.08 244.55,459.86 244.80,451.48 245.05,447.42 245.30,445.28 245.55,443.76 245.80,442.80 246.05,442.33 246.30,441.98 246.55,441.78 246.68,441.75 246.80,441.77 247.05,441.98 247.30,442.34 247.55,442.82 247.80,443.80 248.05,445.31 248.30,447.22 248.55,450.16 248.80,453.43 249.05,456.67 249.30,460.25 249.55,464.55 249.80,469.91 250.05,476.01 250.30,482.43 250.55,489.23 250.80,496.52 251.05,504.11 251.30,511.81 251.55,520.23 251.80,529.21 252.05,537.37 252.30,543.43 252.55,547.93 252.80,551.58 253.05,554.78 253.30,557.47 253.55,559.22 253.80,560.62 254.05,561.65 254.28,562.08 254.30,562.08 254.55,561.53 254.80,560.23 255.05,558.32 255.30,554.16 255.55,546.69 255.80,522.09 256.05,460.72 256.30,451.87 256.55,447.55 256.80,445.33 257.05,443.76 257.30,442.76 257.55,442.26 257.80,441.91 258.05,441.69 258.20,441.65 258.30,441.67 258.55,441.86 258.80,442.21 259.05,442.67 259.30,443.60 259.55,445.08 259.80,446.94 260.05,449.81 260.30,453.09 260.55,456.32 260.80,459.86 261.05,464.09 261.30,469.38 261.55,475.44 261.80,481.85 262.05,488.61 262.30,495.87 262.55,503.45 262.80,511.16 263.05,519.49 263.30,528.47 263.55,536.76 263.80,543.01 264.05,547.60 264.30,551.31 264.55,554.53 264.80,557.28 265.05,559.09 265.30,560.52 265.55,561.59 265.80,562.08 265.80,562.08 266.05,561.61 266.30,560.35 266.55,558.53 266.80,554.59 267.05,547.53 267.30,527.19 267.55,462.12 267.80,452.33 268.05,447.74 268.30,445.44 268.55,443.82 268.80,442.77 269.05,442.25 269.30,441.88 269.55,441.65 269.72,441.60 269.80,441.61 270.05,441.79 270.30,442.13 270.55,442.58 270.80,443.46 271.05,444.90 271.30,446.71 271.55,449.50 271.80,452.79 272.05,456.01 272.30,459.52 272.55,463.68 272.80,468.88 273.05,474.90 273.30,481.30 273.55,488.02 273.80,495.25 274.05,502.81 274.30,510.52 274.55,518.76 274.80,527.75 275.05,536.14 275.30,542.59 275.55,547.26 275.80,551.03 276.05,554.28 276.30,557.09 276.55,558.97 276.80,560.41 277.05,561.52 277.30,562.07 277.32,562.08 277.55,561.68 277.80,560.48 278.05,558.72 278.30,555.01 278.55,548.31 278.80,530.93 279.05,464.89 279.30,452.85 279.55,447.97 279.80,445.57 280.05,443.90 280.30,442.81 280.55,442.26 280.80,441.88 281.05,441.64 281.24,441.58 281.30,441.58 281.55,441.74 281.80,442.07 282.05,442.52 282.30,443.34 282.55,444.74 282.80,446.52 283.05,449.22 283.30,452.51 283.55,455.73 283.80,459.20 284.05,463.29 284.30,468.41 284.55,474.38 284.80,480.77 285.05,487.45 285.30,494.64 285.55,502.19 285.80,509.89 286.05,518.05 286.30,527.03 286.55,535.52 286.80,542.16 287.05,546.92 287.30,550.75 287.55,554.02 287.80,556.89 288.05,558.85 288.30,560.30 288.55,561.45 288.80,562.05 288.84,562.08 289.05,561.74 289.30,560.59 289.55,558.90 289.80,555.41 290.05,549.02 290.30,533.22 290.55,468.76 290.80,453.41 291.05,448.23 291.30,445.71 291.55,444.00 291.80,442.87 292.05,442.28 292.30,441.89 292.55,441.64 292.76,441.56 292.80,441.57 293.05,441.71 293.30,442.03 293.55,442.47 293.80,443.23 294.05,444.60 294.30,446.36 294.55,448.96 294.80,452.24 295.05,455.45 295.30,458.89 295.55,462.92 295.80,467.95 296.05,473.87 296.30,480.24 296.55,486.88 296.80,494.04 297.05,501.57 297.30,509.27 297.55,517.34 297.80,526.30 298.05,534.89 298.30,541.73 298.55,546.58 298.80,550.47 299.05,553.77 299.30,556.69 299.55,558.73 299.80,560.20 300.05,561.38 300.30,562.03 300.36,562.08 300.55,561.80 300.80,560.71 301.05,559.06 301.30,555.79 301.55,549.67 301.80,535.20 302.05,473.41 302.30,454.00 302.55,448.50 302.80,445.87 303.05,444.11 303.30,442.93 303.55,442.31 303.80,441.91 304.05,441.65 304.28,441.56 304.30,441.56 304.55,441.68 304.80,441.99 305.05,442.42 305.30,443.14 305.55,444.47 305.80,446.20 306.05,448.70 306.30,451.98 306.55,455.19 306.80,458.59 307.05,462.56 307.30,467.51 307.55,473.37 307.80,479.72 308.05,486.33 308.30,493.45 308.55,500.95 308.80,508.65 309.05,516.65 309.30,525.58 309.55,534.24 309.80,541.28 310.05,546.23 310.30,550.19 310.55,553.52 310.80,556.48 311.05,558.60 311.30,560.09 311.55,561.30 311.80,562.00 311.88,562.08 312.05,561.86 312.30,560.82 312.55,559.20 312.80,556.16 313.05,550.27 313.30,537.03 313.55,478.55 313.80,454.64 314.05,448.80 314.30,446.03 314.55,444.23 314.80,443.00 315.05,442.34 315.30,441.94 315.55,441.66 315.80,441.55 315.80,441.55 316.05,441.66 316.30,441.96 316.55,442.38 316.80,443.06 317.05,444.34 317.30,446.05 317.55,448.45 317.80,451.71 318.05,454.93 318.30,458.30 318.55,462.21 318.80,467.07 319.05,472.87 319.30,479.20 319.55,485.77 319.80,492.86 320.05,500.34 320.30,508.03 320.55,515.96 320.80,524.86 321.05,533.59 321.30,540.80 321.55,545.87 321.80,549.90 322.05,553.26 322.30,556.26 322.55,558.48 322.80,559.97 323.05,561.22 323.30,561.97 323.40,562.08 323.55,561.90 323.80,560.93 324.05,559.35 324.30,556.51 324.55,550.85 324.80,538.71 325.05,483.88 325.30,455.31 325.55,449.12 325.80,446.19 326.05,444.35 326.30,443.08 326.55,442.37 326.80,441.96 327.05,441.67 327.30,441.55 327.32,441.55 327.55,441.65 327.80,441.93 328.05,442.34 328.30,442.98 328.55,444.22 328.80,445.90 329.05,448.21 329.30,451.44 329.55,454.67 329.80,458.02 330.05,461.87 330.30,466.64 330.55,472.38 330.80,478.69 331.05,485.23 331.30,492.28 331.55,499.73 331.80,507.41 332.05,515.29 332.30,524.13 332.55,532.93 332.80,540.32 333.05,545.51 333.30,549.61 333.55,553.00 333.80,556.04 334.05,558.34 334.30,559.86 334.55,561.13 334.80,561.93 334.92,562.08 335.05,561.95 335.30,561.03 335.55,559.49 335.80,556.83 336.05,551.41 336.30,540.26 336.55,489.08 336.80,456.02 337.05,449.46 337.30,446.36 337.55,444.48 337.80,443.16 338.05,442.41 338.30,441.99 338.55,441.69 338.80,441.55 338.84,441.55 339.05,441.63 339.30,441.90 339.55,442.30 339.80,442.90 340.05,444.10 340.30,445.75 340.55,447.98 340.80,451.18 341.05,454.41 341.30,457.73 341.55,461.53 341.80,466.21 342.05,471.90 342.30,478.17 342.55,484.69 342.80,491.70 343.05,499.13 343.30,506.79 343.55,514.62 343.80,523.41 344.05,532.26 344.30,539.81 344.55,545.14 344.80,549.31 345.05,552.74 345.30,555.82 345.55,558.20 345.80,559.75 346.05,561.05 346.30,561.89 346.44,562.08 346.55,561.98 346.80,561.13 347.05,559.63 347.30,557.15 347.55,551.95 347.80,541.67 348.05,494.04 348.30,456.77 348.55,449.83 348.80,446.54 349.05,444.61 349.30,443.24 349.55,442.44 349.80,442.02 350.05,441.71 350.30,441.56 350.36,441.55 350.55,441.61 350.80,441.87 351.05,442.27 351.30,442.83 351.55,443.98 351.80,445.61 352.05,447.75 352.30,450.91 352.55,454.15 352.80,457.46 353.05,461.20 353.30,465.80 353.55,471.42 353.80,477.66 354.05,484.15 354.30,491.12 354.55,498.52 354.80,506.17 355.05,513.96 355.30,522.68 355.55,531.58 355.80,539.29 356.05,544.77 356.30,549.01 356.55,552.48 356.80,555.59 357.05,558.05 357.30,559.63 357.55,560.95 357.80,561.85 357.96,562.08 358.05,562.02 358.30,561.23 358.55,559.77 358.80,557.44 359.05,552.47 359.30,542.97 359.55,499.80 359.80,457.55 360.05,450.22 360.30,446.73 360.55,444.74 360.80,443.33 361.05,442.49 361.30,442.05 361.55,441.73 361.80,441.56 361.88,441.55 362.05,441.60 362.30,441.84 362.55,442.23 362.80,442.77 363.05,443.87 363.30,445.47 363.55,447.54 363.80,450.64 364.05,453.89 364.30,457.18 364.55,460.88 364.80,465.39 365.05,470.94 365.30,477.14 365.55,483.62 365.80,490.54 366.05,497.92 366.30,505.55 366.55,513.31 366.80,521.96 367.05,530.90 367.30,538.75 367.55,544.39 367.80,548.70 368.05,552.22 368.30,555.36 368.55,557.89 368.80,559.51 369.05,560.86 369.30,561.80 369.48,562.08 369.55,562.04 369.80,561.32 370.05,559.90 370.30,557.71 370.55,552.97 370.80,544.15 371.05,506.19 371.30,458.38 371.55,450.63 371.80,446.92 372.05,444.88 372.30,443.42 372.55,442.53 372.80,442.08 373.05,441.75 373.30,441.57 373.40,441.55 373.55,441.59 373.80,441.82 374.05,442.20 374.30,442.71 374.55,443.76 374.80,445.33 375.05,447.33 375.30,450.38 375.55,453.64 375.80,456.91 376.05,460.56 376.30,464.99 376.55,470.46 376.80,476.63 377.05,483.09 377.30,489.97 377.55,497.31 377.80,504.94 378.05,512.67 378.30,521.24 378.55,530.20 378.80,538.19 379.05,544.00 379.30,548.39 379.55,551.96 379.80,555.12 380.05,557.72 380.30,559.39 380.55,560.77 380.80,561.74 381.00,562.08 381.05,562.06 381.30,561.41 381.55,560.03 381.80,557.97 382.05,553.46 382.30,545.23 382.55,512.78 382.80,459.25 383.05,451.07 383.30,447.13 383.55,445.02 383.80,443.52 384.05,442.58 384.30,442.11 384.55,441.77 384.80,441.57 384.92,441.55 385.05,441.58 385.30,441.79 385.55,442.16 385.80,442.65 386.05,443.66 386.30,445.19 386.55,447.13 386.80,450.11 387.05,453.38 387.30,456.64 387.55,460.24 387.80,464.59 388.05,469.99 388.30,476.12 388.55,482.56 388.80,489.40 389.05,496.71 389.30,504.32 389.55,512.04 389.80,520.52 390.05,529.50 390.30,537.62 390.55,543.60 390.80,548.07 391.05,551.70 391.30,554.88 391.55,557.55 391.80,559.27 392.05,560.67 392.30,561.68 392.52,562.08 392.55,562.07 392.80,561.49 393.05,560.16 393.30,558.21 393.55,553.92 393.80,546.22 394.05,519.12 394.30,460.16 394.55,451.53 394.80,447.35 395.05,445.16 395.30,443.61 395.55,442.64 395.80,442.15 396.05,441.79 396.30,441.58 396.44,441.55 396.55,441.57 396.80,441.77 397.05,442.13 397.30,442.60 397.55,443.55 397.80,445.05 398.05,446.93 398.30,449.85 398.55,453.13 398.80,456.37"/>
<polyline stroke="#ff0000" points="90.80,524.12 91.05,527.52 91.30,530.50 91.55,533.11 91.80,535.40 92.05,537.40 92.30,539.16 92.55,540.70 92.80,542.05 93.05,543.24 93.30,544.28 93.55,545.19 93.80,545.99 94.05,546.69 94.30,547.30 94.55,547.84 94.80,548.31 95.05,548.73 95.30,549.09 95.55,549.41 95.80,549.68 96.05,549.93 96.30,550.14 96.55,550.33 96.80,550.50 97.05,550.64 97.30,550.77 97.55,550.88 97.80,550.97 98.05,551.06 98.30,551.13 98.55,551.20 98.80,551.26 99.05,551.31 99.30,551.35 99.55,551.39 99.80,551.43 100.05,551.45 100.30,551.48 100.55,551.50 100.80,551.52 101.05,551.54 101.30,551.56 101.55,551.57 101.80,551.58 102.05,551.59 102.30,551.60 102.55,551.61 102.80,551.62 103.05,551.62 103.30,551.63 103.55,551.63 103.80,551.64 104.05,551.64 104.30,551.64 104.55,551.65 104.80,551.65 105.05,551.65 105.30,551.65 105.55,551.65 105.80,551.66 106.05,551.66 106.30,551.66 106.55,551.66 106.80,551.66 107.05,551.66 107.30,551.66 107.55,551.66 107.80,551.66 108.05,551.66 108.30,551.66 108.55,551.66 108.80,551.66 109.05,551.66 109.30,551.66 109.55,551.67 109.80,551.67 110.05,551.67 110.30,551.67 110.55,551.67 110.80,551.67 111.05,551.67 111.30,551.67 111.55,551.67 111.80,551.67 112.05,551.67 112.30,551.67 112.55,551.67 112.80,551.67 113.05,551.67 113.30,551.67 113.55,551.67 113.80,551.67 114.05,551.67 114.30,551.67 114.55,551.67 114.80,551.67 115.05,551.67 115.30,551.67 115.55,551.67 115.80,551.67 116.05,551.67 116.30,551.67 116.55,551.67 116.80,551.67 117.05,551.67 117.30,551.67 117.55,551.67 117.80,551.67 118.05,551.67 118.30,551.67 118.55,551.67 118.80,551.67 119.05,551.67 119.30,551.67 119.55,551.67 119.80,551.67 120.05,551.67 120.30,551.67 120.55,551.67 120.80,551.67 121.05,551.67 121.30,551.67 121.55,551.67 121.80,551.67 122.05,551.67 122.30,551.67 122.55,551.67 122.80,551.67 123.05,551.67 123.30,551.67 123.55,551.67 123.80,551.67 124.05,551.67 124.30,551.67 124.55,551.67 124.80,551.67 125.05,551.67 125.30,551.67 125.55,551.67 125.80,551.67 126.05,551.67 126.30,551.67 126.55,551.67 126.80,551.67 127.05,551.67 127.30,551.67 127.55,551.67 127.80,551.67 128.05,551.67 128.30,551.67 128.55,551.67 128.80,551.67 129.05,551.67 129.30,551.67 129.55,551.67 129.80,551.67 130.05,551.67 130.30,551.67 130.55,551.67 130.80,551.67 131.05,551.67 131.30,551.67 131.55,551.67 131.80,551.67 132.05,551.67 132.30,551.67 132.55,551.67 132.80,551.67 133.05,551.67 133.30,551.67 133.55,551.67 133.80,551.67 134.05,551.67 134.30,551.67 134.55,551.67 134.80,551.67 135.05,551.67 135.30,551.67 135.55,551.67 135.80,551.67 136.05,551.67 136.30,551.67 136.55,551.67 136.80,551.67 137.05,551.67 137.30,551.67 137.55,551.67 137.80,551.67 138.05,551.67 138.30,551.67 138.55,551.67 138.80,551.67 139.05,551.67 139.30,551.67 139.55,551.67 139.80,551.67 140.05,551.67 140.30,551.67 140.55,551.67 140.80,551.67 141.05,551.67 141.30,551.67 141.55,551.67 141.80,551.67 142.05,551.67 142.30,551.67 142.55,551.67 142.80,551.67 143.05,551.67 143.30,551.67 143.55,551.67 143.80,551.67 144.05,551.67 144.30,551.67 144.55,551.67 144.80,551.67 145.05,551.67 145.30,551.67 145.55,551.67 145.80,551.67 146.05,551.67 146.30,551.67 146.55,551.67 146.80,551.67 147.05,551.67 147.30,551.67 147.55,551.67 147.80,551.67 148.05,551.67 148.30,551.67 148.55,551.67 148.80,551.67 149.05,551.67 149.30,551.67 149.55,551.67 149.80,551.67 150.05,551.67 150.30,551.67 150.55,551.67 150.80,551.67 151.05,551.67 151.30,551.67 151.55,551.67 151.80,551.67 152.05,551.67 152.30,551.67 152.55,551.67 152.80,551.67 153.05,551.67 153.30,551.67 153.55,551.67 153.80,551.67 154.05,551.67 154.30,551.67 154.55,551.67 154.80,551.67 155.05,551.67 155.30,551.67 155.55,551.67 155.80,551.67 156.05,551.67 156.30,551.67 156.55,551.67 156.80,551.67 157.05,551.67 157.30,551.67 157.55,551.67 157.80,551.67 158.05,551.67 158.30,551.67 158.55,551.67 158.80,551.67 159.05,551.67 159.30,551.67 159.55,551.67 159.80,551.67 160.05,551.67 160.30,551.67 160.55,551.67 160.80,551.67 161.05,551.67 161.30,551.67 161.55,551.67 161.80,551.67 162.05,551.67 162.30,551.67 162.55,551.67 162.80,551.67 163.05,551.67 163.30,551.67 163.55,551.67 163.80,551.67 164.05,551.67 164.30,551.67 164.55,551.67 164.80,551.67 165.05,551.67 165.30,551.67 165.55,551.67 165.80,551.67 166.05,551.67 166.30,551.67 166.55,551.67 166.80,551.67 167.05,551.67 167.30,551.67 167.55,551.67 167.80,551.67 168.05,551.67 168.30,551.67 168.55,551.67 168.80,551.67 169.05,551.67 169.30,551.67 169.55,551.67 169.80,551.67 170.05,551.67 170.30,551.67 170.55,551.67 170.80,551.67 171.05,551.67 171.30,551.67 171.55,551.67 171.80,551.67 172.05,551.67 172.30,551.67 172.55,551.67 172.80,551.67 173.05,551.67 173.30,551.67 173.55,551.67 173.80,551.67 174.05,551.67 174.30,551.67 174.55,551.67 174.80,551.67 175.05,551.67 175.30,551.67 175.55,551.67 175.80,551.67 176.05,551.67 176.30,551.67 176.55,551.67 176.80,551.67 177.05,551.67 177.30,551.67 177.55,551.67 177.80,551.67 178.05,551.67 178.30,551.67 178.55,551.67 178.80,551.67 179.05,551.67 179.30,551.67 179.55,551.67 179.80,551.67 180.05,551.67 180.30,551.67 180.55,551.67 180.80,551.67 181.05,551.67 181.30,551.67 181.55,551.67 181.80,551.67 182.05,551.67 182.30,551.67 182.55,551.67 182.80,551.67 183.05,551.67 183.30,551.67 183.55,551.67 183.80,551.67 184.05,551.67 184.30,551.67 184.55,551.67 184.80,551.67 185.05,551.67 185.30,551.67 185.55,551.67 185.80,551.67 186.05,551.67 186.30,551.67 186.55,551.67 186.80,551.67 187.00,551.67 187.05,551.65 187.30,551.07 187.55,549.86 187.80,548.13 188.05,544.44 188.30,538.06 188.55,521.57 188.80,460.77 189.05,448.63 189.30,443.89 189.55,441.54 189.80,439.94 190.05,438.83 190.30,438.21 190.55,437.85 190.80,437.58 191.05,437.45 191.10,437.45 191.30,437.49 191.55,437.65 191.80,437.94 192.05,438.33 192.30,438.80 192.55,439.32 192.80,439.86 193.05,440.40 193.30,440.91 193.55,441.35 193.80,441.70 194.05,441.94 194.30,442.05 194.40,442.06 194.55,442.19 194.80,442.95 195.05,444.42 195.30,446.58 195.55,449.43 195.80,452.98 196.05,457.23 196.30,462.18 196.55,467.82 196.80,474.16 197.05,481.19 197.30,488.92 197.55,497.35 197.80,506.48 198.05,516.30 198.30,526.81 198.55,538.03 198.80,549.94 198.90,554.90 199.05,554.76 199.30,553.99 199.55,552.73 199.80,550.83 200.05,546.92 200.30,540.32 200.55,521.33 200.80,464.55 201.05,454.50 201.30,450.02 201.55,447.75 201.80,446.22 202.05,445.11 202.30,444.45 202.55,444.08 202.80,443.80 203.05,443.63 203.20,443.60 203.30,443.62 203.55,443.81 203.80,444.15 204.05,444.61 204.30,445.52 204.55,446.98 204.80,448.80 205.05,451.63 205.30,454.86 205.55,458.03 205.80,461.52 206.05,465.68 206.30,470.88 206.55,476.84 206.80,483.15 207.05,489.80 207.30,496.94 207.55,504.40 207.80,511.98 208.05,520.18 208.30,529.02 208.55,537.17 208.80,543.32 209.05,547.83 209.30,551.48 209.55,554.65 209.80,557.36 210.05,559.14 210.30,560.54 210.55,561.60 210.80,562.08 210.80,562.08 211.05,561.61 211.30,560.37 211.55,558.56 211.80,554.65 212.05,547.66 212.30,527.48 212.55,462.95 212.80,453.24 213.05,448.69 213.30,446.41 213.55,444.80 213.80,443.77 214.05,443.24 214.30,442.88 214.55,442.65 214.72,442.60 214.80,442.61 215.05,442.79 215.30,443.13 215.55,443.58 215.80,444.44 216.05,445.87 216.30,447.67 216.55,450.44 216.80,453.70 217.05,456.89 217.30,460.37 217.55,464.49 217.80,469.66 218.05,475.62 218.30,481.97 218.55,488.64 218.80,495.81 219.05,503.30 219.30,510.95 219.55,519.12 219.80,528.03 220.05,536.36 220.30,542.75 220.55,547.38 220.80,551.12 221.05,554.34 221.30,557.13 221.55,559.00 221.80,560.42 222.05,561.53 222.30,562.07 222.32,562.08 222.55,561.68 222.80,560.48 223.05,558.74 223.30,555.04 223.55,548.37 223.80,531.07 224.05,465.30 224.30,453.31 224.55,448.46 224.80,446.06 225.05,444.41 225.30,443.32 225.55,442.77 225.80,442.39 226.05,442.15 226.24,442.09 226.30,442.10 226.55,442.26 226.80,442.58 227.05,443.03 227.30,443.84 227.55,445.24 227.80,447.02 228.05,449.70 228.30,452.98 228.55,456.18 228.80,459.64 229.05,463.71 229.30,468.81 229.55,474.75 229.80,481.11 230.05,487.76 230.30,494.93 230.55,502.44 230.80,510.11 231.05,518.24 231.30,527.17 231.55,535.63 231.80,542.25 232.05,546.99 232.30,550.80 232.55,554.06 232.80,556.91 233.05,558.86 233.30,560.31 233.55,561.45 233.80,562.05 233.84,562.08 234.05,561.74 234.30,560.60 234.55,558.91 234.80,555.43 235.05,549.05 235.30,533.28 235.55,468.96 235.80,453.64 236.05,448.47 236.30,445.97 236.55,444.26 236.80,443.13 237.05,442.54 237.30,442.16 237.55,441.90 237.76,441.83 237.80,441.83 238.05,441.97 238.30,442.29 238.55,442.73 238.80,443.49 239.05,444.86 239.30,446.61 239.55,449.20 239.80,452.48 240.05,455.69 240.30,459.12 240.55,463.13 240.80,468.16 241.05,474.06 241.30,480.42 241.55,487.05 241.80,494.19 242.05,501.70 242.30,509.38 242.55,517.44 242.80,526.38 243.05,534.95 243.30,541.77 243.55,546.61 243.80,550.50 244.05,553.79 244.30,556.70 244.55,558.73 244.80,560.20 245.05,561.38 245.30,562.03 245.36,562.08 245.55,561.80 245.80,560.71 246.05,559.06 246.30,555.80 246.55,549.68 246.80,535.23 247.05,473.51 247.30,454.13 247.55,448.63 247.80,446.00 248.05,444.25 248.30,443.06 248.55,442.44 248.80,442.05 249.05,441.78 249.28,441.69 249.30,441.69 249.55,441.82 249.80,442.13 250.05,442.56 250.30,443.28 250.55,444.60 250.80,446.33 251.05,448.83 251.30,452.10 251.55,455.31 251.80,458.71 252.05,462.67 252.30,467.61 252.55,473.47 252.80,479.81 253.05,486.41 253.30,493.53 253.55,501.02 253.80,508.71 254.05,516.70 254.30,525.62 254.55,534.28 254.80,541.30 255.05,546.25 255.30,550.20 255.55,553.53 255.80,556.48 256.05,558.61 256.30,560.09 256.55,561.30 256.80,562.00 256.88,562.08 257.05,561.86 257.30,560.82 257.55,559.20 257.80,556.16 258.05,550.28 258.30,537.04 258.55,478.60 258.80,454.70 259.05,448.87 259.30,446.09 259.55,444.30 259.80,443.07 260.05,442.41 260.30,442.01 260.55,441.73 260.80,441.62 260.80,441.62 261.05,441.73 261.30,442.03 261.55,442.45 261.80,443.13 262.05,444.41 262.30,446.12 262.55,448.52 262.80,451.77 263.05,454.99 263.30,458.36 263.55,462.27 263.80,467.12 264.05,472.93 264.30,479.25 264.55,485.82 264.80,492.90 265.05,500.38 265.30,508.06 265.55,515.99 265.80,524.88 266.05,533.61 266.30,540.82 266.55,545.88 266.80,549.90 267.05,553.26 267.30,556.27 267.55,558.48 267.80,559.97 268.05,561.22 268.30,561.97 268.40,562.08 268.55,561.90 268.80,560.93 269.05,559.35 269.30,556.51 269.55,550.85 269.80,538.72 270.05,483.90 270.30,455.34 270.55,449.16 270.80,446.23 271.05,444.38 271.30,443.11 271.55,442.41 271.80,442.00 272.05,441.71 272.30,441.59 272.32,441.59 272.55,441.68 272.80,441.96 273.05,442.38 273.30,443.01 273.55,444.25 273.80,445.94 274.05,448.25 274.30,451.48 274.55,454.70 274.80,458.05 275.05,461.90 275.30,466.67 275.55,472.41 275.80,478.71 276.05,485.25 276.30,492.30 276.55,499.75 276.80,507.42 277.05,515.30 277.30,524.14 277.55,532.94 277.80,540.32 278.05,545.52 278.30,549.61 278.55,553.00 278.80,556.05 279.05,558.34 279.30,559.86 279.55,561.13 279.80,561.93 279.92,562.08 280.05,561.95 280.30,561.03 280.55,559.49 280.80,556.84 281.05,551.41 281.30,540.26 281.55,489.09 281.80,456.03 282.05,449.48 282.30,446.38 282.55,444.49 282.80,443.17 283.05,442.42 283.30,442.01 283.55,441.71 283.80,441.57 283.84,441.57 284.05,441.65 284.30,441.92 284.55,442.32 284.80,442.92 285.05,444.12 285.30,445.77 285.55,448.00 285.80,451.19 286.05,454.42 286.30,457.75 286.55,461.55 286.80,466.23 287.05,471.91 287.30,478.18 287.55,484.70 287.80,491.71 288.05,499.14 288.30,506.80 288.55,514.63 288.80,523.41 289.05,532.27 289.30,539.81 289.55,545.15 289.80,549.31 290.05,552.74 290.30,555.82 290.55,558.20 290.80,559.75 291.05,561.05 291.30,561.89 291.44,562.08 291.55,561.98 291.80,561.13 292.05,559.63 292.30,557.15 292.55,551.95 292.80,541.68 293.05,494.05 293.30,456.77 293.55,449.84 293.80,446.55 294.05,444.61 294.30,443.25 294.55,442.45 294.80,442.03 295.05,441.72 295.30,441.57 295.36,441.56 295.55,441.62 295.80,441.88 296.05,442.28 296.30,442.84 296.55,443.99 296.80,445.62 297.05,447.76 297.30,450.92 297.55,454.16 297.80,457.46 298.05,461.21 298.30,465.81 298.55,471.42 298.80,477.66 299.05,484.16 299.30,491.12 299.55,498.53 299.80,506.18 300.05,513.96 300.30,522.69 300.55,531.58 300.80,539.29 301.05,544.77 301.30,549.01 301.55,552.48 301.80,555.59 302.05,558.05 302.30,559.63 302.55,560.95 302.80,561.85 302.96,562.08 303.05,562.02 303.30,561.23 303.55,559.77 303.80,557.44 304.05,552.47 304.30,542.97 304.55,499.80 304.80,457.56 305.05,450.22 305.30,446.73 305.55,444.74 305.80,443.33 306.05,442.49 306.30,442.06 306.55,441.73 306.80,441.57 306.88,441.55 307.05,441.61 307.30,441.85 307.55,442.24 307.80,442.77 308.05,443.88 308.30,445.47 308.55,447.54 308.80,450.65 309.05,453.90 309.30,457.18 309.55,460.88 309.80,465.39 310.05,470.94 310.30,477.15 310.55,483.62 310.80,490.55 311.05,497.92 311.30,505.56 311.55,513.31 311.80,521.96 312.05,530.90 312.30,538.75 312.55,544.39 312.80,548.70 313.05,552.22 313.30,555.36 313.55,557.89 313.80,559.51 314.05,560.86 314.30,561.80 314.48,562.08 314.55,562.04 314.80,561.32 315.05,559.90 315.30,557.71 315.55,552.97 315.80,544.15 316.05,506.20 316.30,458.38 316.55,450.63 316.80,446.93 317.05,444.88 317.30,443.42 317.55,442.54 317.80,442.09 318.05,441.75 318.30,441.57 318.40,441.55 318.55,441.59 318.80,441.82 319.05,442.20 319.30,442.71 319.55,443.76 319.80,445.33 320.05,447.33 320.30,450.38 320.55,453.64 320.80,456.91 321.05,460.56 321.30,464.99 321.55,470.47 321.80,476.64 322.05,483.09 322.30,489.97 322.55,497.32 322.80,504.94 323.05,512.67 323.30,521.24 323.55,530.20 323.80,538.19 324.05,544.00 324.30,548.39 324.55,551.96 324.80,555.12 325.05,557.72 325.30,559.39 325.55,560.77 325.80,561.74 326.00,562.08 326.05,562.06 326.30,561.41 326.55,560.03 326.80,557.97 327.05,553.46 327.30,545.23 327.55,512.78 327.80,459.25 328.05,451.07 328.30,447.13 328.55,445.02 328.80,443.52 329.05,442.58 329.30,442.12 329.55,441.77 329.80,441.58 329.92,441.55 330.05,441.58 330.30,441.79 330.55,442.16 330.80,442.65 331.05,443.66 331.30,445.19 331.55,447.13 331.80,450.11 332.05,453.38 332.30,456.64 332.55,460.24 332.80,464.59 333.05,469.99 333.30,476.13 333.55,482.56 333.80,489.40 334.05,496.71 334.30,504.32 334.55,512.04 334.80,520.52 335.05,529.50 335.30,537.62 335.55,543.60 335.80,548.07 336.05,551.70 336.30,554.88 336.55,557.55 336.80,559.27 337.05,560.67 337.30,561.68 337.52,562.08 337.55,562.07 337.80,561.49 338.05,560.16 338.30,558.21 338.55,553.92 338.80,546.22 339.05,519.12 339.30,460.16 339.55,451.53 339.80,447.35 340.05,445.16 340.30,443.61 340.55,442.64 340.80,442.15 341.05,441.79 341.30,441.58 341.44,441.55 341.55,441.57 341.80,441.77 342.05,442.13 342.30,442.60 342.55,443.55 342.80,445.05 343.05,446.93 343.30,449.85 343.55,453.13 343.80,456.37 344.05,459.93 344.30,464.20 344.55,469.53 344.80,475.62 345.05,482.04 345.30,488.83 345.55,496.12 345.80,503.71 346.05,511.42 346.30,519.81 346.55,528.80 346.80,537.03 347.05,543.20 347.30,547.75 347.55,551.43 347.80,554.64 348.05,557.37 348.30,559.15 348.55,560.57 348.80,561.62 349.04,562.08 349.05,562.08 349.30,561.57 349.55,560.29 349.80,558.43 350.05,554.37 350.30,547.11 350.55,524.76 350.80,461.18 351.05,452.03 351.30,447.58 351.55,445.31 351.80,443.72 352.05,442.69 352.30,442.18 352.55,441.82 352.80,441.59 352.96,441.55 353.05,441.56 353.30,441.75 353.55,442.09 353.80,442.55 354.05,443.45 354.30,444.92 354.55,446.75 354.80,449.58 355.05,452.87 355.30,456.10 355.55,459.63 355.80,463.82 356.05,469.07 356.30,475.11 356.55,481.52 356.80,488.27 357.05,495.52 357.30,503.09 357.55,510.81 357.80,519.10 358.05,528.09 358.30,536.44 358.55,542.79 358.80,547.42 359.05,551.16 359.30,554.40 359.55,557.18 359.80,559.03 360.05,560.46 360.30,561.56 360.55,562.07 360.56,562.08 360.80,561.64 361.05,560.41 361.30,558.63 361.55,554.80 361.80,547.93 362.05,529.25 362.30,463.32 362.55,452.55 362.80,447.82 363.05,445.46 363.30,443.82 363.55,442.75 363.80,442.21 364.05,441.84 364.30,441.61 364.48,441.55 364.55,441.56 364.80,441.73 365.05,442.06 365.30,442.51 365.55,443.36 365.80,444.78 366.05,446.58 366.30,449.32 366.55,452.62 366.80,455.84 367.05,459.33 367.30,463.45 367.55,468.61 367.80,474.61 368.05,481.01 368.30,487.71 368.55,494.92 368.80,502.48 369.05,510.19 369.30,518.39 369.55,527.38 369.80,535.82 370.05,542.37 370.30,547.09 370.55,550.89 370.80,554.15 371.05,556.99 371.30,558.91 371.55,560.36 371.80,561.49 372.05,562.06 372.08,562.08 372.30,561.71 372.55,560.53 372.80,558.81 373.05,555.21 373.30,548.67 373.55,532.16 373.80,466.69 374.05,453.10 374.30,448.08 374.55,445.62 374.80,443.93 375.05,442.82 375.30,442.25 375.55,441.87 375.80,441.62 376.00,441.55 376.05,441.55 376.30,441.71 376.55,442.03 376.80,442.47 377.05,443.27 377.30,444.65 377.55,446.42 377.80,449.07 378.05,452.36 378.30,455.57 378.55,459.03 378.80,463.08 379.05,468.17 379.30,474.11 379.55,480.49 379.80,487.15 380.05,494.33 380.30,501.87 380.55,509.57 380.80,517.69 381.05,526.66 381.30,535.20 381.55,541.94 381.80,546.75 382.05,550.61 382.30,553.90 382.55,556.79 382.80,558.79 383.05,560.25 383.30,561.41 383.55,562.04 383.60,562.08 383.80,561.77 384.05,560.65 384.30,558.98 384.55,555.60 384.80,549.35 385.05,534.22 385.30,471.00 385.55,453.69 385.80,448.35 386.05,445.78 386.30,444.05 386.55,442.89 386.80,442.28 387.05,441.89 387.30,441.63 387.52,441.55 387.55,441.55 387.80,441.69 388.05,442.00 388.30,442.43 388.55,443.18 388.80,444.52 389.05,446.27 389.30,448.82 389.55,452.10 389.80,455.31 390.05,458.73 390.30,462.73 390.55,467.72 390.80,473.61 391.05,479.97 391.30,486.60 391.55,493.74 391.80,501.26 392.05,508.95 392.30,516.99 392.55,525.94 392.80,534.56 393.05,541.50 393.30,546.40 393.55,550.33 393.80,553.64 394.05,556.58 394.30,558.66 394.55,560.14 394.80,561.34 395.05,562.01 395.12,562.08 395.30,561.83 395.55,560.77 395.80,559.13 396.05,555.98 396.30,549.97 396.55,536.13 396.80,475.94 397.05,454.31 397.30,448.64 397.55,445.94 397.80,444.17 398.05,442.96 398.30,442.32 398.55,441.92 398.80,441.65"/>
<polyline stroke="#00ff00" points="90.80,513.87 91.05,518.58 91.30,522.71 91.55,526.33 91.80,529.50 92.05,532.29 92.30,534.73 92.55,536.87 92.80,538.74 93.05,540.39 93.30,541.83 93.55,543.09 93.80,544.20 94.05,545.17 94.30,546.02 94.55,546.77 94.80,547.42 95.05,548.00 95.30,548.50 95.55,548.94 95.80,549.33 96.05,549.67 96.30,549.96 96.55,550.22 96.80,550.45 97.05,550.65 97.30,550.83 97.55,550.98 97.80,551.12 98.05,551.24 98.30,551.34 98.55,551.43 98.80,551.51 99.05,551.58 99.30,551.64 99.55,551.69 99.80,551.74 100.05,551.78 100.30,551.82 100.55,551.85 100.80,551.88 101.05,551.90 101.30,551.92 101.55,551.94 101.80,551.96 102.05,551.97 102.30,551.99 102.55,552.00 102.80,552.01 103.05,552.02 103.30,552.02 103.55,552.03 103.80,552.04 104.05,552.04 104.30,552.05 104.55,552.05 104.80,552.05 105.05,552.06 105.30,552.06 105.55,552.06 105.80,552.06 106.05,552.06 106.30,552.07 106.55,552.07 106.80,552.07 107.05,552.07 107.30,552.07 107.55,552.07 107.80,552.07 108.05,552.07 108.30,552.07 108.55,552.07 108.80,552.07 109.05,552.07 109.30,552.07 109.55,552.07 109.80,552.08 110.05,552.08 110.30,552.08 110.55,552.08 110.80,552.08 111.05,552.08 111.30,552.08 111.55,552.08 111.80,552.08 112.05,552.08 112.30,552.08 112.55,552.08 112.80,552.08 113.05,552.08 113.30,552.08 113.55,552.08 113.80,552.08 114.05,552.08 114.30,552.08 114.55,552.08 114.80,552.08 115.05,552.08 115.30,552.08 115.55,552.08 115.80,552.08 116.05,552.08 116.30,552.08 116.55,552.08 116.80,552.08 117.05,552.08 117.30,552.08 117.55,552.08 117.80,552.08 118.05,552.08 118.30,552.08 118.55,552.08 118.80,552.08 119.05,552.08 119.30,552.08 119.55,552.08 119.80,552.08 120.05,552.08 120.30,552.08 120.55,552.08 120.80,552.08 121.05,552.08 121.30,552.08 121.55,552.08 121.80,552.08 122.05,552.08 122.30,552.08 122.55,552.08 122.80,552.08 123.05,552.08 123.30,552.08 123.55,552.08 123.80,552.08 124.05,552.08 124.30,552.08 124.55,552.08 124.80,552.08 125.05,552.08 125.30,552.08 125.55,552.08 125.80,552.08 126.05,552.08 126.30,552.08 126.55,552.08 126.80,552.08 127.05,552.08 127.30,552.08 127.55,552.08 127.80,552.08 128.05,552.08 128.30,552.08 128.55,552.08 128.80,552.08 129.05,552.08 129.30,552.08 129.55,552.08 129.80,552.08 130.05,552.08 130.30,552.08 130.55,552.08 130.80,552.08 131.05,552.08 131.30,552.08 131.55,552.08 131.80,552.08 132.05,552.08 132.30,552.08 132.55,552.08 132.80,552.08 133.05,552.08 133.30,552.08 133.55,552.08 133.80,552.08 134.05,552.08 134.30,552.08 134.55,552.08 134.80,552.08 135.05,552.08 135.30,552.08 135.55,552.08 135.80,552.08 136.05,552.08 136.30,552.08 136.55,552.08 136.80,552.08 137.05,552.08 137.30,552.08 137.55,552.08 137.80,552.08 138.05,552.08 138.30,552.08 138.55,552.08 138.80,552.08 139.05,552.08 139.30,552.08 139.55,552.08 139.80,552.08 140.05,552.08 140.30,552.08 140.55,552.08 140.80,552.08 141.05,552.08 141.30,552.08 141.55,552.08 141.80,552.08 142.05,552.08 142.30,552.08 142.55,552.08 142.80,552.08 143.05,552.08 143.30,552.08 143.55,552.08 143.80,552.08 144.05,552.08 144.30,552.08 144.55,552.08 144.80,552.08 145.05,552.08 145.30,552.08 145.55,552.08 145.80,552.08 146.05,552.08 146.30,552.08 146.55,552.08 146.80,552.08 147.05,552.08 147.30,552.08 147.55,552.08 147.80,552.08 148.05,552.08 148.30,552.08 148.55,552.08 148.80,552.08 149.05,552.08 149.30,552.08 149.55,552.08 149.80,552.08 150.05,552.08 150.30,552.08 150.55,552.08 150.80,552.08 151.05,552.08 151.30,552.08 151.55,552.08 151.80,552.08 152.05,552.08 152.30,552.08 152.55,552.08 152.80,552.08 153.05,552.08 153.30,552.08 153.55,552.08 153.80,552.08 154.05,552.08 154.30,552.08 154.55,552.08 154.80,552.08 155.05,552.08 155.30,552.08 155.55,552.08 155.80,552.08 156.05,552.08 156.30,552.08 156.55,552.08 156.80,552.08 157.05,552.08 157.30,552.08 157.55,552.08 157.80,552.08 158.05,552.08 158.30,552.08 158.55,552.08 158.80,552.08 159.05,552.08 159.30,552.08 159.55,552.08 159.80,552.08 160.05,552.08 160.30,552.08 160.55,552.08 160.80,552.08 161.05,552.08 161.30,552.08 161.55,552.08 161.80,552.08 162.05,552.08 162.30,552.08 162.55,552.08 162.80,552.08 163.05,552.08 163.30,552.08 163.55,552.08 163.80,552.08 164.05,552.08 164.30,552.08 164.55,552.08 164.80,552.08 165.05,552.08 165.30,552.08 165.55,552.08 165.80,552.08 166.05,552.08 166.30,552.08 166.55,552.08 166.80,552.08 167.05,552.08 167.30,552.08 167.55,552.08 167.80,552.08 168.05,552.08 168.30,552.08 168.55,552.08 168.80,552.08 169.05,552.08 169.30,552.08 169.55,552.08 169.80,552.08 170.05,552.08 170.30,552.08 170.55,552.08 170.80,552.08 171.05,552.08 171.30,552.08 171.55,552.08 171.80,552.08 172.05,552.08 172.30,552.08 172.55,552.08 172.80,552.08 173.05,552.08 173.30,552.08 173.55,552.08 173.80,552.08 174.05,552.08 174.30,552.08 174.55,552.08 174.80,552.08 175.05,552.08 175.30,552.08 175.55,552.08 175.80,552.08 176.05,552.08 176.30,552.08 176.55,552.08 176.80,552.08 177.05,552.08 177.30,552.08 177.55,552.08 177.80,552.08 178.05,552.08 178.30,552.08 178.55,552.08 178.80,552.08 179.05,552.08 179.30,552.08 179.55,552.08 179.80,552.08 180.05,552.08 180.30,552.08 180.55,552.08 180.80,552.08 181.05,552.08 181.30,552.08 181.55,552.08 181.80,552.08 182.05,552.08 182.30,552.08 182.55,552.08 182.80,552.08 183.05,552.08 183.30,552.08 183.55,552.08 183.80,552.08 184.05,552.08 184.30,552.08 184.55,552.08 184.80,552.08 185.05,552.08 185.30,552.08 185.55,552.08 185.60,552.08 185.80,551.96 186.05,551.48 186.30,550.63 186.55,549.42 186.80,547.88 187.05,546.01 187.30,543.84 187.55,541.38 187.80,538.68 188.05,535.75 188.30,532.64 188.55,529.37 188.80,525.99 189.05,522.52 189.30,519.02 189.55,515.52 189.80,512.06 190.05,508.67 190.30,505.41 190.55,502.29 190.80,499.37 191.05,496.66 191.30,494.21 191.55,492.03 191.80,490.16 192.05,488.62 192.30,487.41 192.55,486.57 192.80,486.08 193.00,485.97 193.05,485.98 193.30,486.45 193.55,487.57 193.80,489.33 194.05,491.68 194.30,494.57 194.55,497.92 194.80,501.66 195.05,505.69 195.30,509.93 195.55,514.28 195.80,518.62 196.05,522.86 196.30,526.90 196.55,530.63 196.80,533.99 197.05,536.87 197.30,539.22 197.55,540.98 197.80,542.11 198.05,542.58 198.10,542.59 198.30,539.87 198.55,536.64 198.80,533.65 199.05,530.87 199.30,528.19 199.55,525.66 199.80,523.36 200.05,521.33 200.30,519.50 200.55,517.75 200.80,516.13 201.05,514.68 201.30,513.47 201.55,512.52 201.80,511.72 202.05,510.97 202.30,510.31 202.55,509.78 202.80,509.41 203.00,509.25 203.05,509.53 203.30,510.96 203.55,512.48 203.80,514.08 204.05,515.76 204.30,517.52 204.55,519.41 204.80,521.47 205.05,523.66 205.30,525.90 205.55,528.16 205.80,530.37 206.05,532.49 206.30,534.46 206.55,536.39 206.80,538.37 207.05,540.34 207.30,542.23 207.55,543.98 207.80,545.55 208.05,546.86 208.30,547.87 208.55,548.74 208.80,549.52 209.05,550.19 209.30,550.71 209.55,551.04 209.57,551.05 209.80,547.13 210.05,543.15 210.30,539.48 210.55,536.04 210.80,532.73 211.05,529.62 211.30,526.77 211.55,524.28 211.80,522.01 212.05,519.85 212.30,517.84 212.55,516.05 212.80,514.54 213.05,513.37 213.30,512.37 213.55,511.44 213.80,510.62 214.05,509.95 214.30,509.48 214.52,509.25 214.55,509.42 214.80,510.85 215.05,512.36 215.30,513.95 215.55,515.62 215.80,517.37 216.05,519.25 216.30,521.30 216.55,523.48 216.80,525.72 217.05,527.98 217.30,530.20 217.55,532.33 217.80,534.31 218.05,536.24 218.30,538.21 218.55,540.18 218.80,542.08 219.05,543.85 219.30,545.43 219.55,546.77 219.80,547.80 220.05,548.67 220.30,549.46 220.55,550.14 220.80,550.67 221.05,551.02 221.09,551.05 221.30,547.46 221.55,543.46 221.80,539.76 222.05,536.32 222.30,532.99 222.55,529.86 222.80,526.99 223.05,524.46 223.30,522.19 223.55,520.01 223.80,517.99 224.05,516.19 224.30,514.65 224.55,513.45 224.80,512.45 225.05,511.51 225.30,510.68 225.55,510.00 225.80,509.51 226.04,509.25 226.05,509.31 226.30,510.73 226.55,512.23 226.80,513.82 227.05,515.48 227.30,517.23 227.55,519.09 227.80,521.13 228.05,523.30 228.30,525.54 228.55,527.80 228.80,530.03 229.05,532.16 229.30,534.16 229.55,536.08 229.80,538.05 230.05,540.03 230.30,541.93 230.55,543.71 230.80,545.31 231.05,546.67 231.30,547.73 231.55,548.60 231.80,549.40 232.05,550.09 232.30,550.63 232.55,551.00 232.61,551.05 232.80,547.79 233.05,543.77 233.30,540.04 233.55,536.59 233.80,533.25 234.05,530.10 234.30,527.21 234.55,524.65 234.80,522.37 235.05,520.18 235.30,518.15 235.55,516.32 235.80,514.76 236.05,513.53 236.30,512.53 236.55,511.58 236.80,510.74 237.05,510.05 237.30,509.54 237.55,509.26 237.56,509.25 237.80,510.61 238.05,512.11 238.30,513.69 238.55,515.35 238.80,517.09 239.05,518.94 239.30,520.97 239.55,523.12 239.80,525.36 240.05,527.62 240.30,529.85 240.55,532.00 240.80,534.00 241.05,535.92 241.30,537.90 241.55,539.87 241.80,541.78 242.05,543.58 242.30,545.19 242.55,546.57 242.80,547.66 243.05,548.54 243.30,549.34 243.55,550.04 243.80,550.60 244.05,550.98 244.13,551.05 244.30,548.12 244.55,544.08 244.80,540.33 245.05,536.86 245.30,533.51 245.55,530.34 245.80,527.43 246.05,524.84 246.30,522.55 246.55,520.35 246.80,518.30 247.05,516.46 247.30,514.88 247.55,513.62 247.80,512.60 248.05,511.66 248.30,510.81 248.55,510.10 248.80,509.57 249.05,509.27 249.08,509.25 249.30,510.50 249.55,511.99 249.80,513.56 250.05,515.21 250.30,516.94 250.55,518.78 250.80,520.80 251.05,522.95 251.30,525.18 251.55,527.44 251.80,529.67 252.05,531.83 252.30,533.85 252.55,535.77 252.80,537.74 253.05,539.71 253.30,541.63 253.55,543.44 253.80,545.07 254.05,546.47 254.30,547.58 254.55,548.47 254.80,549.28 255.05,549.99 255.30,550.56 255.55,550.95 255.65,551.05 255.80,548.45 256.05,544.39 256.30,540.61 256.55,537.13 256.80,533.77 257.05,530.59 257.30,527.65 257.55,525.04 257.80,522.73 258.05,520.52 258.30,518.46 258.55,516.60 258.80,514.99 259.05,513.70 259.30,512.68 259.55,511.73 259.80,510.87 260.05,510.15 260.30,509.60 260.55,509.28 260.60,509.25 260.80,510.38 261.05,511.87 261.30,513.43 261.55,515.08 261.80,516.80 262.05,518.63 262.30,520.63 262.55,522.77 262.80,525.00 263.05,527.26 263.30,529.50 263.55,531.66 263.80,533.69 264.05,535.61 264.30,537.58 264.55,539.56 264.80,541.48 265.05,543.30 265.30,544.95 265.55,546.37 265.80,547.51 266.05,548.40 266.30,549.22 266.55,549.94 266.80,550.52 267.05,550.93 267.17,551.05 267.30,548.79 267.55,544.71 267.80,540.90 268.05,537.41 268.30,534.04 268.55,530.84 268.80,527.87 269.05,525.23 269.30,522.91 269.55,520.70 269.80,518.62 270.05,516.74 270.30,515.11 270.55,513.79 270.80,512.76 271.05,511.80 271.30,510.93 271.55,510.20 271.80,509.64 272.05,509.30 272.12,509.25 272.30,510.26 272.55,511.74 272.80,513.30 273.05,514.94 273.30,516.66 273.55,518.48 273.80,520.46 274.05,522.60 274.30,524.82 274.55,527.08 274.80,529.32 275.05,531.49 275.30,533.54 275.55,535.45 275.80,537.42 276.05,539.40 276.30,541.33 276.55,543.16 276.80,544.83 277.05,546.27 277.30,547.43 277.55,548.33 277.80,549.16 278.05,549.88 278.30,550.48 278.55,550.90 278.69,551.05 278.80,549.12 279.05,545.02 279.30,541.19 279.55,537.68 279.80,534.30 280.05,531.08 280.30,528.10 280.55,525.43 280.80,523.09 281.05,520.87 281.30,518.78 281.55,516.88 281.80,515.23 282.05,513.89 282.30,512.84 282.55,511.88 282.80,511.00 283.05,510.25 283.30,509.68 283.55,509.32 283.64,509.25 283.80,510.15 284.05,511.62 284.30,513.17 284.55,514.81 284.80,516.52 285.05,518.32 285.30,520.30 285.55,522.42 285.80,524.64 286.05,526.90 286.30,529.14 286.55,531.32 286.80,533.38 287.05,535.30 287.30,537.26 287.55,539.24 287.80,541.18 288.05,543.02 288.30,544.70 288.55,546.16 288.80,547.35 289.05,548.26 289.30,549.09 289.55,549.83 289.80,550.44 290.05,550.88 290.21,551.05 290.30,549.46 290.55,545.34 290.80,541.49 291.05,537.96 291.30,534.57 291.55,531.33 291.80,528.33 292.05,525.63 292.30,523.27 292.55,521.04 292.80,518.94 293.05,517.02 293.30,515.35 293.55,513.98 293.80,512.92 294.05,511.95 294.30,511.06 294.55,510.30 294.80,509.72 295.05,509.34 295.16,509.25 295.30,510.04 295.55,511.50 295.80,513.05 296.05,514.67 296.30,516.38 296.55,518.17 296.80,520.14 297.05,522.25 297.30,524.46 297.55,526.72 297.80,528.97 298.05,531.15 298.30,533.22 298.55,535.15 298.80,537.10 299.05,539.08 299.30,541.03 299.55,542.88 299.80,544.57 300.05,546.05 300.30,547.26 300.55,548.19 300.80,549.03 301.05,549.78 301.30,550.39 301.55,550.85 301.73,551.05 301.80,549.80 302.05,545.66 302.30,541.79 302.55,538.23 302.80,534.83 303.05,531.58 303.30,528.56 303.55,525.83 303.80,523.45 304.05,521.22 304.30,519.10 304.55,517.17 304.80,515.48 305.05,514.08 305.30,513.00 305.55,512.03 305.80,511.13 306.05,510.36 306.30,509.76 306.55,509.36 306.68,509.25 306.80,509.92 307.05,511.38 307.30,512.92 307.55,514.54 307.80,516.24 308.05,518.03 308.30,519.97 308.55,522.08 308.80,524.28 309.05,526.54 309.30,528.79 309.55,530.98 309.80,533.06 310.05,534.99 310.30,536.95 310.55,538.93 310.80,540.88 311.05,542.73 311.30,544.44 311.55,545.95 311.80,547.18 312.05,548.12 312.30,548.97 312.55,549.72 312.80,550.35 313.05,550.82 313.25,551.05 313.30,550.14 313.55,545.99 313.80,542.08 314.05,538.51 314.30,535.10 314.55,531.84 314.80,528.79 315.05,526.04 315.30,523.64 315.55,521.39 315.80,519.27 316.05,517.32 316.30,515.60 316.55,514.18 316.80,513.08 317.05,512.10 317.30,511.20 317.55,510.42 317.80,509.80 318.05,509.38 318.20,509.25 318.30,509.81 318.55,511.26 318.80,512.79 319.05,514.41 319.30,516.10 319.55,517.88 319.80,519.81 320.05,521.90 320.30,524.10 320.55,526.36 320.80,528.61 321.05,530.81 321.30,532.90 321.55,534.84 321.80,536.79 322.05,538.77 322.30,540.72 322.55,542.59 322.80,544.31 323.05,545.83 323.30,547.09 323.55,548.05 323.80,548.90 324.05,549.66 324.30,550.30 324.55,550.79 324.77,551.05 324.80,550.48 325.05,546.31 325.30,542.39 325.55,538.79 325.80,535.37 326.05,532.09 326.30,529.02 326.55,526.25 326.80,523.82 327.05,521.57 327.30,519.43 327.55,517.46 327.80,515.73 328.05,514.28 328.30,513.16 328.55,512.18 328.80,511.27 329.05,510.47 329.30,509.84 329.55,509.41 329.72,509.25 329.80,509.70 330.05,511.14 330.30,512.67 330.55,514.28 330.80,515.96 331.05,517.73 331.30,519.65 331.55,521.73 331.80,523.92 332.05,526.17 332.30,528.43 332.55,530.63 332.80,532.74 333.05,534.69 333.30,536.63 333.55,538.61 333.80,540.57 334.05,542.45 334.30,544.18 334.55,545.72 334.80,547.00 335.05,547.98 335.30,548.84 335.55,549.61 335.80,550.26 336.05,550.76 336.29,551.05 336.30,550.82 336.55,546.64 336.80,542.69 337.05,539.06 337.30,535.64 337.55,532.35 337.80,529.26 338.05,526.46 338.30,524.00 338.55,521.74 338.80,519.60 339.05,517.61 339.30,515.86 339.55,514.38 339.80,513.24 340.05,512.25 340.30,511.34 340.55,510.53 340.80,509.88 341.05,509.43 341.24,509.25 341.30,509.58 341.55,511.02 341.80,512.54 342.05,514.15 342.30,515.83 342.55,517.59 342.80,519.49 343.05,521.56 343.30,523.75 343.55,525.99 343.80,528.25 344.05,530.46 344.30,532.57 344.55,534.53 344.80,536.47 345.05,538.45 345.30,540.41 345.55,542.30 345.80,544.05 346.05,545.61 346.30,546.91 346.55,547.91 346.80,548.77 347.05,549.55 347.30,550.21 347.55,550.72 347.80,551.05 347.81,551.05 348.05,546.96 348.30,542.99 348.55,539.34 348.80,535.91 349.05,532.60 349.30,529.50 349.55,526.67 349.80,524.19 350.05,521.92 350.30,519.76 350.55,517.76 350.80,515.99 351.05,514.49 351.30,513.32 351.55,512.33 351.80,511.41 352.05,510.59 352.30,509.93 352.55,509.46 352.76,509.25 352.80,509.47 353.05,510.91 353.30,512.42 353.55,514.01 353.80,515.69 354.05,517.44 354.30,519.33 354.55,521.39 354.80,523.57 355.05,525.81 355.30,528.07 355.55,530.29 355.80,532.41 356.05,534.38 356.30,536.31 356.55,538.29 356.80,540.26 357.05,542.15 357.30,543.92 357.55,545.49 357.80,546.82 358.05,547.84 358.30,548.70 358.55,549.49 358.80,550.16 359.05,550.69 359.30,551.03 359.33,551.05 359.55,547.29 359.80,543.30 360.05,539.62 360.30,536.18 360.55,532.86 360.80,529.74 361.05,526.88 361.30,524.37 361.55,522.10 361.80,519.93 362.05,517.92 362.30,516.12 362.55,514.60 362.80,513.41 363.05,512.41 363.30,511.48 363.55,510.65 363.80,509.97 364.05,509.49 364.28,509.25 364.30,509.36 364.55,510.79 364.80,512.30 365.05,513.88 365.30,515.55 365.55,517.30 365.80,519.17 366.05,521.22 366.30,523.39 366.55,525.63 366.80,527.89 367.05,530.11 367.30,532.24 367.55,534.23 367.80,536.16 368.05,538.13 368.30,540.10 368.55,542.01 368.80,543.78 369.05,545.37 369.30,546.72 369.55,547.77 369.80,548.64 370.05,549.43 370.30,550.12 370.55,550.65 370.80,551.01 370.85,551.05 371.05,547.62 371.30,543.61 371.55,539.90 371.80,536.45 372.05,533.12 372.30,529.98 372.55,527.10 372.80,524.56 373.05,522.28 373.30,520.10 373.55,518.07 373.80,516.25 374.05,514.71 374.30,513.49 374.55,512.49 374.80,511.55 375.05,510.71 375.30,510.02 375.55,509.52 375.80,509.25 375.80,509.25 376.05,510.67 376.30,512.17 376.55,513.75 376.80,515.42 377.05,517.16 377.30,519.01 377.55,521.05 377.80,523.21 378.05,525.45 378.30,527.71 378.55,529.94 378.80,532.08 379.05,534.08 379.30,536.00 379.55,537.98 379.80,539.95 380.05,541.86 380.30,543.65 380.55,545.25 380.80,546.62 381.05,547.70 381.30,548.57 381.55,549.37 381.80,550.07 382.05,550.62 382.30,550.99 382.37,551.05 382.55,547.95 382.80,543.92 383.05,540.18 383.30,536.72 383.55,533.38 383.80,530.22 384.05,527.32 384.30,524.75 384.55,522.46 384.80,520.27 385.05,518.23 385.30,516.39 385.55,514.82 385.80,513.57 386.05,512.57 386.30,511.62 386.55,510.77 386.80,510.07 387.05,509.55 387.30,509.26 387.32,509.25 387.55,510.55 387.80,512.05 388.05,513.62 388.30,515.28 388.55,517.01 388.80,518.86 389.05,520.88 389.30,523.04 389.55,525.27 389.80,527.53 390.05,529.76 390.30,531.91 390.55,533.93 390.80,535.84 391.05,537.82 391.30,539.79 391.55,541.71 391.80,543.51 392.05,545.13 392.30,546.52 392.55,547.62 392.80,548.50 393.05,549.31 393.30,550.01 393.55,550.58 393.80,550.96 393.89,551.05 394.05,548.29 394.30,544.23 394.55,540.47 394.80,537.00 395.05,533.64 395.30,530.47 395.55,527.54 395.80,524.94 396.05,522.64 396.30,520.44 396.55,518.38 396.80,516.53 397.05,514.93 397.30,513.66 397.55,512.64 397.80,511.69 398.05,510.84 398.30,510.12 398.55,509.59 398.80,509.28 398.84,509.25"/>
<polyline stroke="#0000ff" points="90.80,519.00 91.05,523.07 91.30,526.65 91.55,529.78 91.80,532.53 92.05,534.94 92.30,537.06 92.55,538.91 92.80,540.53 93.05,541.95 93.30,543.20 93.55,544.30 93.80,545.26 94.05,546.10 94.30,546.83 94.55,547.48 94.80,548.05 95.05,548.54 95.30,548.98 95.55,549.36 95.80,549.70 96.05,549.99 96.30,550.25 96.55,550.47 96.80,550.67 97.05,550.84 97.30,551.00 97.55,551.13 97.80,551.25 98.05,551.35 98.30,551.44 98.55,551.52 98.80,551.59 99.05,551.65 99.30,551.70 99.55,551.75 99.80,551.79 100.05,551.82 100.30,551.85 100.55,551.88 100.80,551.91 101.05,551.93 101.30,551.95 101.55,551.96 101.80,551.98 102.05,551.99 102.30,552.00 102.55,552.01 102.80,552.02 103.05,552.02 103.30,552.03 103.55,552.04 103.80,552.04 104.05,552.05 104.30,552.05 104.55,552.05 104.80,552.06 105.05,552.06 105.30,552.06 105.55,552.06 105.80,552.06 106.05,552.07 106.30,552.07 106.55,552.07 106.80,552.07 107.05,552.07 107.30,552.07 107.55,552.07 107.80,552.07 108.05,552.07 108.30,552.07 108.55,552.07 108.80,552.07 109.05,552.07 109.30,552.07 109.55,552.08 109.80,552.08 110.05,552.08 110.30,552.08 110.55,552.08 110.80,552.08 111.05,552.08 111.30,552.08 111.55,552.08 111.80,552.08 112.05,552.08 112.30,552.08 112.55,552.08 112.80,552.08 113.05,552.08 113.30,552.08 113.55,552.08 113.80,552.08 114.05,552.08 114.30,552.08 114.55,552.08 114.80,552.08 115.05,552.08 115.30,552.08 115.55,552.08 115.80,552.08 116.05,552.08 116.30,552.08 116.55,552.08 116.80,552.08 117.05,552.08 117.30,552.08 117.55,552.08 117.80,552.08 118.05,552.08 118.30,552.08 118.55,552.08 118.80,552.08 119.05,552.08 119.30,552.08 119.55,552.08 119.80,552.08 120.05,552.08 120.30,552.08 120.55,552.08 120.80,552.08 121.05,552.08 121.30,552.08 121.55,552.08 121.80,552.08 122.05,552.08 122.30,552.08 122.55,552.08 122.80,552.08 123.05,552.08 123.30,552.08 123.55,552.08 123.80,552.08 124.05,552.08 124.30,552.08 124.55,552.08 124.80,552.08 125.05,552.08 125.30,552.08 125.55,552.08 125.80,552.08 126.05,552.08 126.30,552.08 126.55,552.08 126.80,552.08 127.05,552.08 127.30,552.08 127.55,552.08 127.80,552.08 128.05,552.08 128.30,552.08 128.55,552.08 128.80,552.08 129.05,552.08 129.30,552.08 129.55,552.08 129.80,552.08 130.05,552.08 130.30,552.08 130.55,552.08 130.80,552.08 131.05,552.08 131.30,552.08 131.55,552.08 131.80,552.08 132.05,552.08 132.30,552.08 132.55,552.08 132.80,552.08 133.05,552.08 133.30,552.08 133.55,552.08 133.80,552.08 134.05,552.08 134.30,552.08 134.55,552.08 134.80,552.08 135.05,552.08 135.30,552.08 135.55,552.08 135.80,552.08 136.05,552.08 136.30,552.08 136.55,552.08 136.80,552.08 137.05,552.08 137.30,552.08 137.55,552.08 137.80,552.08 138.05,552.08 138.30,552.08 138.55,552.08 138.80,552.08 139.05,552.08 139.30,552.08 139.55,552.08 139.80,552.08 140.05,552.08 140.30,552.08 140.55,552.08 140.80,552.08 141.05,552.08 141.30,552.08 141.55,552.08 141.80,552.08 142.05,552.08 142.30,552.08 142.55,552.08 142.80,552.08 143.05,552.08 143.30,552.08 143.55,552.08 143.80,552.08 144.05,552.08 144.30,552.08 144.55,552.08 144.80,552.08 145.05,552.08 145.30,552.08 145.55,552.08 145.80,552.08 146.05,552.08 146.30,552.08 146.55,552.08 146.80,552.08 147.05,552.08 147.30,552.08 147.55,552.08 147.80,552.08 148.05,552.08 148.30,552.08 148.55,552.08 148.80,552.08 149.05,552.08 149.30,552.08 149.55,552.08 149.80,552.08 150.05,552.08 150.30,552.08 150.55,552.08 150.80,552.08 151.05,552.08 151.30,552.08 151.55,552.08 151.80,552.08 152.05,552.08 152.30,552.08 152.55,552.08 152.80,552.08 153.05,552.08 153.30,552.08 153.55,552.08 153.80,552.08 154.05,552.08 154.30,552.08 154.55,552.08 154.80,552.08 155.05,552.08 155.30,552.08 155.55,552.08 155.80,552.08 156.05,552.08 156.30,552.08 156.55,552.08 156.80,552.08 157.05,552.08 157.30,552.08 157.55,552.08 157.80,552.08 158.05,552.08 158.30,552.08 158.55,552.08 158.80,552.08 159.05,552.08 159.30,552.08 159.55,552.08 159.80,552.08 160.05,552.08 160.30,552.08 160.55,552.08 160.80,552.08 161.05,552.08 161.30,552.08 161.55,552.08 161.80,552.08 162.05,552.08 162.30,552.08 162.55,552.08 162.80,552.08 163.05,552.08 163.30,552.08 163.55,552.08 163.80,552.08 164.05,552.08 164.30,552.08 164.55,552.08 164.80,552.08 165.05,552.08 165.30,552.08 165.55,552.08 165.80,552.08 166.05,552.08 166.30,552.08 166.55,552.08 166.80,552.08 167.05,552.08 167.30,552.08 167.55,552.08 167.80,552.08 168.05,552.08 168.30,552.08 168.55,552.08 168.80,552.08 169.05,552.08 169.30,552.08 169.55,552.08 169.80,552.08 170.05,552.08 170.30,552.08 170.55,552.08 170.80,552.08 171.05,552.08 171.30,552.08 171.55,552.08 171.80,552.08 172.05,552.08 172.30,552.08 172.55,552.08 172.80,552.08 173.05,552.08 173.30,552.08 173.55,552.08 173.80,552.08 174.05,552.08 174.30,552.08 174.55,552.08 174.80,552.08 175.05,552.08 175.30,552.08 175.55,552.08 175.80,552.08 176.05,552.08 176.30,552.08 176.55,552.08 176.80,552.08 177.05,552.08 177.30,552.08 177.55,552.08 177.80,552.08 178.05,552.08 178.30,552.08 178.55,552.08 178.80,552.08 179.05,552.08 179.30,552.08 179.55,552.08 179.80,552.08 180.05,552.08 180.30,552.08 180.55,552.08 180.80,552.08 181.05,552.08 181.30,552.08 181.55,552.08 181.80,552.08 182.05,552.08 182.30,552.08 182.55,552.08 182.80,552.08 183.05,552.08 183.30,552.08 183.55,552.08 183.80,552.08 184.05,552.08 184.30,552.08 184.55,552.08 184.80,552.08 185.05,552.08 185.30,552.08 185.55,552.08 185.80,552.08 186.05,552.08 186.30,552.08 186.55,552.08 186.80,552.08 187.05,552.08 187.30,552.08 187.55,552.08 187.80,552.08 188.05,552.08 188.30,552.08 188.55,552.08 188.80,552.08 189.00,552.08 189.05,552.07 189.30,551.82 189.55,551.23 189.80,550.30 190.05,549.04 190.30,547.47 190.55,545.61 190.80,543.49 191.05,541.12 191.30,538.55 191.55,535.80 191.80,532.91 192.05,529.92 192.30,526.87 192.55,523.79 192.80,520.73 193.05,517.72 193.30,514.81 193.55,512.03 193.80,509.42 194.05,507.01 194.30,504.83 194.55,502.92 194.80,501.29 195.05,499.97 195.30,498.97 195.55,498.31 195.80,498.00 195.90,497.97 196.05,498.08 196.30,498.77 196.55,500.06 196.80,501.93 197.05,504.33 197.30,507.19 197.55,510.44 197.80,514.00 198.05,517.78 198.30,521.67 198.55,525.59 198.80,529.43 199.05,533.08 199.30,536.47 199.55,539.50 199.80,542.08 200.05,544.17 200.30,545.70 200.55,546.63 200.80,546.95 200.80,546.95 201.05,542.97 201.30,539.22 201.55,535.80 201.80,532.56 202.05,529.46 202.30,526.59 202.55,524.01 202.80,521.78 203.05,519.67 203.30,517.69 203.55,515.91 203.80,514.39 204.05,513.18 204.30,512.22 204.55,511.33 204.80,510.53 205.05,509.89 205.30,509.44 205.50,509.25 205.55,509.53 205.80,510.96 206.05,512.48 206.30,514.08 206.55,515.76 206.80,517.52 207.05,519.41 207.30,521.47 207.55,523.66 207.80,525.90 208.05,528.16 208.30,530.37 208.55,532.49 208.80,534.46 209.05,536.39 209.30,538.37 209.55,540.34 209.80,542.23 210.05,543.98 210.30,545.55 210.55,546.86 210.80,547.87 211.05,548.74 211.30,549.52 211.55,550.19 211.80,550.71 212.05,551.04 212.07,551.05 212.30,547.13 212.55,543.15 212.80,539.48 213.05,536.04 213.30,532.73 213.55,529.62 213.80,526.77 214.05,524.28 214.30,522.01 214.55,519.85 214.80,517.84 215.05,516.05 215.30,514.54 215.55,513.37 215.80,512.37 216.05,511.44 216.30,510.62 216.55,509.95 216.80,509.48 217.02,509.25 217.05,509.42 217.30,510.85 217.55,512.36 217.80,513.95 218.05,515.62 218.30,517.37 218.55,519.25 218.80,521.30 219.05,523.48 219.30,525.72 219.55,527.98 219.80,530.20 220.05,532.33 220.30,534.31 220.55,536.24 220.80,538.21 221.05,540.18 221.30,542.08 221.55,543.85 221.80,545.43 222.05,546.77 222.30,547.80 222.55,548.67 222.80,549.46 223.05,550.14 223.30,550.67 223.55,551.02 223.59,551.05 223.80,547.46 224.05,543.46 224.30,539.76 224.55,536.32 224.80,532.99 225.05,529.86 225.30,526.99 225.55,524.46 225.80,522.19 226.05,520.01 226.30,517.99 226.55,516.19 226.80,514.65 227.05,513.45 227.30,512.45 227.55,511.51 227.80,510.68 228.05,510.00 228.30,509.51 228.54,509.25 228.55,509.31 228.80,510.73 229.05,512.23 229.30,513.82 229.55,515.48 229.80,517.23 230.05,519.09 230.30,521.13 230.55,523.30 230.80,525.54 231.05,527.80 231.30,530.03 231.55,532.16 231.80,534.16 232.05,536.08 232.30,538.05 232.55,540.03 232.80,541.93 233.05,543.71 233.30,545.31 233.55,546.67 233.80,547.73 234.05,548.60 234.30,549.40 234.55,550.09 234.80,550.63 235.05,551.00 235.11,551.05 235.30,547.79 235.55,543.77 235.80,540.04 236.05,536.59 236.30,533.25 236.55,530.10 236.80,527.21 237.05,524.65 237.30,522.37 237.55,520.18 237.80,518.15 238.05,516.32 238.30,514.76 238.55,513.53 238.80,512.53 239.05,511.58 239.30,510.74 239.55,510.05 239.80,509.54 240.05,509.26 240.06,509.25 240.30,510.61 240.55,512.11 240.80,513.69 241.05,515.35 241.30,517.09 241.55,518.94 241.80,520.97 242.05,523.12 242.30,525.36 242.55,527.62 242.80,529.85 243.05,532.00 243.30,534.00 243.55,535.92 243.80,537.90 244.05,539.87 244.30,541.78 244.55,543.58 244.80,545.19 245.05,546.57 245.30,547.66 245.55,548.54 245.80,549.34 246.05,550.04 246.30,550.60 246.55,550.98 246.63,551.05 246.80,548.12 247.05,544.08 247.30,540.33 247.55,536.86 247.80,533.51 248.05,530.34 248.30,527.43 248.55,524.84 248.80,522.55 249.05,520.35 249.30,518.30 249.55,516.46 249.80,514.88 250.05,513.62 250.30,512.60 250.55,511.66 250.80,510.81 251.05,510.10 251.30,509.57 251.55,509.27 251.58,509.25 251.80,510.50 252.05,511.99 252.30,513.56 252.55,515.21 252.80,516.94 253.05,518.78 253.30,520.80 253.55,522.95 253.80,525.18 254.05,527.44 254.30,529.67 254.55,531.83 254.80,533.85 255.05,535.77 255.30,537.74 255.55,539.71 255.80,541.63 256.05,543.44 256.30,545.07 256.55,546.47 256.80,547.58 257.05,548.47 257.30,549.28 257.55,549.99 257.80,550.56 258.05,550.95 258.15,551.05 258.30,548.45 258.55,544.39 258.80,540.61 259.05,537.13 259.30,533.77 259.55,530.59 259.80,527.65 260.05,525.04 260.30,522.73 260.55,520.52 260.80,518.46 261.05,516.60 261.30,514.99 261.55,513.70 261.80,512.68 262.05,511.73 262.30,510.87 262.55,510.15 262.80,509.60 263.05,509.28 263.10,509.25 263.30,510.38 263.55,511.87 263.80,513.43 264.05,515.08 264.30,516.80 264.55,518.63 264.80,520.63 265.05,522.77 265.30,525.00 265.55,527.26 265.80,529.50 266.05,531.66 266.30,533.69 266.55,535.61 266.80,537.58 267.05,539.56 267.30,541.48 267.55,543.30 267.80,544.95 268.05,546.37 268.30,547.51 268.55,548.40 268.80,549.22 269.05,549.94 269.30,550.52 269.55,550.93 269.67,551.05 269.80,548.79 270.05,544.71 270.30,540.90 270.55,537.41 270.80,534.04 271.05,530.84 271.30,527.87 271.55,525.23 271.80,522.91 272.05,520.70 272.30,518.62 272.55,516.74 272.80,515.11 273.05,513.79 273.30,512.76 273.55,511.80 273.80,510.93 274.05,510.20 274.30,509.64 274.55,509.30 274.62,509.25 274.80,510.26 275.05,511.74 275.30,513.30 275.55,514.94 275.80,516.66 276.05,518.48 276.30,520.46 276.55,522.60 276.80,524.82 277.05,527.08 277.30,529.32 277.55,531.49 277.80,533.54 278.05,535.45 278.30,537.42 278.55,539.40 278.80,541.33 279.05,543.16 279.30,544.83 279.55,546.27 279.80,547.43 280.05,548.33 280.30,549.16 280.55,549.88 280.80,550.48 281.05,550.90 281.19,551.05 281.30,549.12 281.55,545.02 281.80,541.19 282.05,537.68 282.30,534.30 282.55,531.08 282.80,528.10 283.05,525.43 283.30,523.09 283.55,520.87 283.80,518.78 284.05,516.88 284.30,515.23 284.55,513.89 284.80,512.84 285.05,511.88 285.30,511.00 285.55,510.25 285.80,509.68 286.05,509.32 286.14,509.25 286.30,510.15 286.55,511.62 286.80,513.17 287.05,514.81 287.30,516.52 287.55,518.32 287.80,520.30 288.05,522.42 288.30,524.64 288.55,526.90 288.80,529.14 289.05,531.32 289.30,533.38 289.55,535.30 289.80,537.26 290.05,539.24 290.30,541.18 290.55,543.02 290.80,544.70 291.05,546.16 291.30,547.35 291.55,548.26 291.80,549.09 292.05,549.83 292.30,550.44 292.55,550.88 292.71,551.05 292.80,549.46 293.05,545.34 293.30,541.49 293.55,537.96 293.80,534.57 294.05,531.33 294.30,528.33 294.55,525.63 294.80,523.27 295.05,521.04 295.30,518.94 295.55,517.02 295.80,515.35 296.05,513.98 296.30,512.92 296.55,511.95 296.80,511.06 297.05,510.30 297.30,509.72 297.55,509.34 297.66,509.25 297.80,510.04 298.05,511.50 298.30,513.05 298.55,514.67 298.80,516.38 299.05,518.17 299.30,520.14 299.55,522.25 299.80,524.46 300.05,526.72 300.30,528.97 300.55,531.15 300.80,533.22 301.05,535.15 301.30,537.10 301.55,539.08 301.80,541.03 302.05,542.88 302.30,544.57 302.55,546.05 302.80,547.26 303.05,548.19 303.30,549.03 303.55,549.78 303.80,550.39 304.05,550.85 304.23,551.05 304.30,549.80 304.55,545.66 304.80,541.79 305.05,538.23 305.30,534.83 305.55,531.58 305.80,528.56 306.05,525.83 306.30,523.45 306.55,521.22 306.80,519.10 307.05,517.17 307.30,515.48 307.55,514.08 307.80,513.00 308.05,512.03 308.30,511.13 308.55,510.36 308.80,509.76 309.05,509.36 309.18,509.25 309.30,509.92 309.55,511.38 309.80,512.92 310.05,514.54 310.30,516.24 310.55,518.03 310.80,519.97 311.05,522.08 311.30,524.28 311.55,526.54 311.80,528.79 312.05,530.98 312.30,533.06 312.55,534.99 312.80,536.95 313.05,538.93 313.30,540.88 313.55,542.73 313.80,544.44 314.05,545.95 314.30,547.18 314.55,548.12 314.80,548.97 315.05,549.72 315.30,550.35 315.55,550.82 315.75,551.05 315.80,550.14 316.05,545.99 316.30,542.08 316.55,538.51 316.80,535.10 317.05,531.84 317.30,528.79 317.55,526.04 317.80,523.64 318.05,521.39 318.30,519.27 318.55,517.32 318.80,515.60 319.05,514.18 319.30,513.08 319.55,512.10 319.80,511.20 320.05,510.42 320.30,509.80 320.55,509.38 320.70,509.25 320.80,509.81 321.05,511.26 321.30,512.79 321.55,514.41 321.80,516.10 322.05,517.88 322.30,519.81 322.55,521.90 322.80,524.10 323.05,526.36 323.30,528.61 323.55,530.81 323.80,532.90 324.05,534.84 324.30,536.79 324.55,538.77 324.80,540.72 325.05,542.59 325.30,544.31 325.55,545.83 325.80,547.09 326.05,548.05 326.30,548.90 326.55,549.66 326.80,550.30 327.05,550.79 327.27,551.05 327.30,550.48 327.55,546.31 327.80,542.39 328.05,538.79 328.30,535.37 328.55,532.09 328.80,529.02 329.05,526.25 329.30,523.82 329.55,521.57 329.80,519.43 330.05,517.46 330.30,515.73 330.55,514.28 330.80,513.16 331.05,512.18 331.30,511.27 331.55,510.47 331.80,509.84 332.05,509.41 332.22,509.25 332.30,509.70 332.55,511.14 332.80,512.67 333.05,514.28 333.30,515.96 333.55,517.73 333.80,519.65 334.05,521.73 334.30,523.92 334.55,526.17 334.80,528.43 335.05,530.63 335.30,532.74 335.55,534.69 335.80,536.63 336.05,538.61 336.30,540.57 336.55,542.45 336.80,544.18 337.05,545.72 337.30,547.00 337.55,547.98 337.80,548.84 338.05,549.61 338.30,550.26 338.55,550.76 338.79,551.05 338.80,550.82 339.05,546.64 339.30,542.69 339.55,539.06 339.80,535.64 340.05,532.35 340.30,529.26 340.55,526.46 340.80,524.00 341.05,521.74 341.30,519.60 341.55,517.61 341.80,515.86 342.05,514.38 342.30,513.24 342.55,512.25 342.80,511.34 343.05,510.53 343.30,509.88 343.55,509.43 343.74,509.25 343.80,509.58 344.05,511.02 344.30,512.54 344.55,514.15 344.80,515.83 345.05,517.59 345.30,519.49 345.55,521.56 345.80,523.75 346.05,525.99 346.30,528.25 346.55,530.46 346.80,532.57 347.05,534.53 347.30,536.47 347.55,538.45 347.80,540.41 348.05,542.30 348.30,544.05 348.55,545.61 348.80,546.91 349.05,547.91 349.30,548.77 349.55,549.55 349.80,550.21 350.05,550.72 350.30,551.05 350.31,551.05 350.55,546.96 350.80,542.99 351.05,539.34 351.30,535.91 351.55,532.60 351.80,529.50 352.05,526.67 352.30,524.19 352.55,521.92 352.80,519.76 353.05,517.76 353.30,515.99 353.55,514.49 353.80,513.32 354.05,512.33 354.30,511.41 354.55,510.59 354.80,509.93 355.05,509.46 355.26,509.25 355.30,509.47 355.55,510.91 355.80,512.42 356.05,514.01 356.30,515.69 356.55,517.44 356.80,519.33 357.05,521.39 357.30,523.57 357.55,525.81 357.80,528.07 358.05,530.29 358.30,532.41 358.55,534.38 358.80,536.31 359.05,538.29 359.30,540.26 359.55,542.15 359.80,543.92 360.05,545.49 360.30,546.82 360.55,547.84 360.80,548.70 361.05,549.49 361.30,550.16 361.55,550.69 361.80,551.03 361.83,551.05 362.05,547.29 362.30,543.30 362.55,539.62 362.80,536.18 363.05,532.86 363.30,529.74 363.55,526.88 363.80,524.37 364.05,522.10 364.30,519.93 364.55,517.92 364.80,516.12 365.05,514.60 365.30,513.41 365.55,512.41 365.80,511.48 366.05,510.65 366.30,509.97 366.55,509.49 366.78,509.25 366.80,509.36 367.05,510.79 367.30,512.30 367.55,513.88 367.80,515.55 368.05,517.30 368.30,519.17 368.55,521.22 368.80,523.39 369.05,525.63 369.30,527.89 369.55,530.11 369.80,532.24 370.05,534.23 370.30,536.16 370.55,538.13 370.80,540.10 371.05,542.01 371.30,543.78 371.55,545.37 371.80,546.72 372.05,547.77 372.30,548.64 372.55,549.43 372.80,550.12 373.05,550.65 373.30,551.01 373.35,551.05 373.55,547.62 373.80,543.61 374.05,539.90 374.30,536.45 374.55,533.12 374.80,529.98 375.05,527.10 375.30,524.56 375.55,522.28 375.80,520.10 376.05,518.07 376.30,516.25 376.55,514.71 376.80,513.49 377.05,512.49 377.30,511.55 377.55,510.71 377.80,510.02 378.05,509.52 378.30,509.25 378.30,509.25 378.55,510.67 378.80,512.17 379.05,513.75 379.30,515.42 379.55,517.16 379.80,519.01 380.05,521.05 380.30,523.21 380.55,525.45 380.80,527.71 381.05,529.94 381.30,532.08 381.55,534.08 381.80,536.00 382.05,537.98 382.30,539.95 382.55,541.86 382.80,543.65 383.05,545.25 383.30,546.62 383.55,547.70 383.80,548.57 384.05,549.37 384.30,550.07 384.55,550.62 384.80,550.99 384.87,551.05 385.05,547.95 385.30,543.92 385.55,540.18 385.80,536.72 386.05,533.38 386.30,530.22 386.55,527.32 386.80,524.75 387.05,522.46 387.30,520.27 387.55,518.23 387.80,516.39 388.05,514.82 388.30,513.57 388.55,512.57 388.80,511.62 389.05,510.77 389.30,510.07 389.55,509.55 389.80,509.26 389.82,509.25 390.05,510.55 390.30,512.05 390.55,513.62 390.80,515.28 391.05,517.01 391.30,518.86 391.55,520.88 391.80,523.04 392.05,525.27 392.30,527.53 392.55,529.76 392.80,531.91 393.05,533.93 393.30,535.84 393.55,537.82 393.80,539.79 394.05,541.71 394.30,543.51 394.55,545.13 394.80,546.52 395.05,547.62 395.30,548.50 395.55,549.31 395.80,550.01 396.05,550.58 396.30,550.96 396.39,551.05 396.55,548.29 396.80,544.23 397.05,540.47 397.30,537.00 397.55,533.64 397.80,530.47 398.05,527.54 398.30,524.94 398.55,522.64 398.80,520.44"/>
</g>
<text x="84.80" y="364" text-anchor="end">2</text>
<text x="84.80" y="389" text-anchor="end">1.5</text>
<text x="84.80" y="415" text-anchor="end">1</text>
<text x="84.80" y="441" text-anchor="end">0.5</text>
<text x="84.80" y="466" text-anchor="end">0</text>
<text x="84.80" y="492" text-anchor="end">-0.5</text>
<text x="84.80" y="518" text-anchor="end">-1</text>
<text x="84.80" y="543" text-anchor="end">-1.5</text>
<text x="84.80" y="569" text-anchor="end">-2</text>
<text x="84.80" y="595" text-anchor="end">-2.5</text>
<text x="90.80" y="604.10" text-anchor="middle">0</text>
<text x="152.44" y="604.10" text-anchor="middle">20</text>
<text x="214.08" y="604.10" text-anchor="middle">40</text>
<text x="275.72" y="604.10" text-anchor="middle">60</text>
<text x="337.36" y="604.10" text-anchor="middle">80</text>
<text x="399.00" y="604.10" text-anchor="middle">100</text>
<text x="244.90" y="614.10" text-anchor="middle">t</text>
<text x="48.80" y="348.00" font-size="13.7">xEj,xIj</text>
<line x1="468.3" y1="462.58" x2="776.2" y2="462.58" stroke="#444" stroke-width="1" stroke-dasharray="1.6,1.2"/>
<path d="M468.3,360.00h3.2M776.2,360.00h-3.2M468.3,385.64h3.2M776.2,385.64h-3.2M468.3,411.29h3.2M776.2,411.29h-3.2M468.3,436.93h3.2M776.2,436.93h-3.2M468.3,462.58h3.2M776.2,462.58h-3.2M468.3,488.22h3.2M776.2,488.22h-3.2M468.3,513.87h3.2M776.2,513.87h-3.2M468.3,539.51h3.2M776.2,539.51h-3.2M468.3,565.16h3.2M776.2,565.16h-3.2M468.3,590.80h3.2M776.2,590.80h-3.2M468.30,360.0v3.2M468.30,590.8v-3.2M529.88,360.0v3.2M529.88,590.8v-3.2M591.46,360.0v3.2M591.46,590.8v-3.2M653.04,360.0v3.2M653.04,590.8v-3.2M714.62,360.0v3.2M714.62,590.8v-3.2M776.20,360.0v3.2M776.20,590.8v-3.2" stroke="#000" stroke-width="1" fill="none"/>
<rect x="468.3" y="360.0" width="307.90" height="230.80" fill="none" stroke="#222" stroke-width="1.4"/>
<clipPath id="clipd"><rect x="467.3" y="359.5" width="308.90000000000003" height="231.79999999999995"/></clipPath>
<g clip-path="url(#clipd)" fill="none" stroke-width="1.15" stroke-linejoin="round">
<polyline stroke="#000000" points="468.30,521.56 468.55,525.27 468.80,528.53 469.05,531.38 469.30,533.88 469.55,536.07 469.80,538.00 470.05,539.68 470.30,541.16 470.55,542.45 470.80,543.59 471.05,544.59 471.30,545.46 471.55,546.22 471.80,546.90 472.05,547.48 472.30,548.00 472.55,548.45 472.80,548.85 473.05,549.20 473.30,549.50 473.55,549.77 473.80,550.00 474.05,550.21 474.30,550.39 474.55,550.54 474.80,550.68 475.05,550.80 475.30,550.91 475.55,551.00 475.80,551.09 476.05,551.16 476.30,551.22 476.55,551.27 476.80,551.32 477.05,551.37 477.30,551.40 477.55,551.44 477.80,551.46 478.05,551.49 478.30,551.51 478.55,551.53 478.80,551.55 479.05,551.56 479.30,551.57 479.55,551.59 479.80,551.60 480.05,551.60 480.30,551.61 480.55,551.62 480.80,551.62 481.05,551.63 481.30,551.63 481.55,551.64 481.80,551.64 482.05,551.64 482.30,551.65 482.55,551.65 482.80,551.65 483.05,551.65 483.30,551.66 483.55,551.66 483.80,551.66 484.05,551.66 484.30,551.66 484.55,551.66 484.80,551.66 485.05,551.66 485.30,551.66 485.55,551.66 485.80,551.66 486.05,551.66 486.30,551.66 486.55,551.66 486.80,551.66 487.05,551.67 487.30,551.67 487.55,551.67 487.80,551.67 488.05,551.67 488.30,551.67 488.55,551.67 488.80,551.67 489.05,551.67 489.30,551.67 489.55,551.67 489.80,551.67 490.05,551.67 490.30,551.67 490.55,551.67 490.80,551.67 491.05,551.67 491.30,551.67 491.55,551.67 491.80,551.67 492.05,551.67 492.30,551.67 492.55,551.67 492.80,551.67 493.05,551.67 493.30,551.67 493.55,551.67 493.80,551.67 494.05,551.67 494.30,551.67 494.55,551.67 494.80,551.67 495.05,551.67 495.30,551.67 495.55,551.67 495.80,551.67 496.05,551.67 496.30,551.67 496.55,551.67 496.80,551.67 497.05,551.67 497.30,551.67 497.55,551.67 497.80,551.67 498.05,551.67 498.30,551.67 498.55,551.67 498.80,551.67 499.05,551.67 499.30,551.67 499.55,551.67 499.80,551.67 500.05,551.67 500.30,551.67 500.55,551.67 500.80,551.67 501.05,551.67 501.30,551.67 501.55,551.67 501.80,551.67 502.05,551.67 502.30,551.67 502.55,551.67 502.80,551.67 503.05,551.67 503.30,551.67 503.55,551.67 503.80,551.67 504.05,551.67 504.30,551.67 504.55,551.67 504.80,551.67 505.05,551.67 505.30,551.67 505.55,551.67 505.80,551.67 506.05,551.67 506.30,551.67 506.55,551.67 506.80,551.67 507.05,551.67 507.30,551.67 507.55,551.67 507.80,551.67 508.05,551.67 508.30,551.67 508.55,551.67 508.80,551.67 509.05,551.67 509.30,551.67 509.55,551.67 509.80,551.67 510.05,551.67 510.30,551.67 510.55,551.67 510.80,551.67 511.05,551.67 511.30,551.67 511.55,551.67 511.80,551.67 512.05,551.67 512.30,551.67 512.55,551.67 512.80,551.67 513.05,551.67 513.30,551.67 513.55,551.67 513.80,551.67 514.05,551.67 514.30,551.67 514.55,551.67 514.80,551.67 515.05,551.67 515.30,551.67 515.55,551.67 515.80,551.67 516.05,551.67 516.30,551.67 516.55,551.67 516.80,551.67 517.05,551.67 517.30,551.67 517.55,551.67 517.80,551.67 518.05,551.67 518.30,551.67 518.55,551.67 518.80,551.67 519.05,551.67 519.30,551.67 519.55,551.67 519.80,551.67 520.05,551.67 520.30,551.67 520.55,551.67 520.80,551.67 521.05,551.67 521.30,551.67 521.55,551.67 521.80,551.67 522.05,551.67 522.30,551.67 522.55,551.67 522.80,551.67 523.05,551.67 523.30,551.67 523.55,551.67 523.80,551.67 524.05,551.67 524.30,551.67 524.55,551.67 524.80,551.67 525.05,551.67 525.30,551.67 525.55,551.67 525.80,551.67 526.05,551.67 526.30,551.67 526.55,551.67 526.80,551.67 527.05,551.67 527.30,551.67 527.55,551.67 527.80,551.67 528.05,551.67 528.30,551.67 528.55,551.67 528.80,551.67 529.05,551.67 529.30,551.67 529.55,551.67 529.80,551.67 530.05,551.67 530.30,551.67 530.55,551.67 530.80,551.67 531.05,551.67 531.30,551.67 531.55,551.67 531.80,551.67 532.05,551.67 532.30,551.67 532.55,551.67 532.80,551.67 533.05,551.67 533.30,551.67 533.55,551.67 533.80,551.67 534.05,551.67 534.30,551.67 534.55,551.67 534.80,551.67 535.05,551.67 535.30,551.67 535.55,551.67 535.80,551.67 536.05,551.67 536.30,551.67 536.55,551.67 536.80,551.67 537.05,551.67 537.30,551.67 537.55,551.67 537.80,551.67 538.05,551.67 538.30,551.67 538.55,551.67 538.80,551.67 539.05,551.67 539.30,551.67 539.55,551.67 539.80,551.67 540.05,551.67 540.30,551.67 540.55,551.67 540.80,551.67 541.05,551.67 541.30,551.67 541.55,551.67 541.80,551.67 542.05,551.67 542.30,551.67 542.55,551.67 542.80,551.67 543.05,551.67 543.30,551.67 543.55,551.67 543.80,551.67 544.05,551.67 544.30,551.67 544.55,551.67 544.80,551.67 545.05,551.67 545.30,551.67 545.55,551.67 545.80,551.67 546.05,551.67 546.30,551.67 546.55,551.67 546.80,551.67 547.05,551.67 547.30,551.67 547.55,551.67 547.80,551.67 548.05,551.67 548.30,551.67 548.55,551.67 548.80,551.67 549.05,551.67 549.30,551.67 549.55,551.67 549.80,551.67 550.05,551.67 550.30,551.67 550.55,551.67 550.80,551.67 551.05,551.67 551.30,551.67 551.55,551.67 551.80,551.67 552.05,551.67 552.30,551.67 552.55,551.67 552.80,551.67 553.05,551.67 553.30,551.67 553.55,551.67 553.80,551.67 554.05,551.67 554.30,551.67 554.55,551.67 554.80,551.67 555.05,551.67 555.30,551.67 555.55,551.67 555.80,551.67 556.05,551.67 556.30,551.67 556.55,551.67 556.80,551.67 557.05,551.67 557.30,551.67 557.55,551.67 557.80,551.67 558.05,551.67 558.30,551.67 558.55,551.67 558.80,551.67 559.05,551.67 559.30,551.67 559.55,551.67 559.80,551.67 560.05,551.67 560.30,551.67 560.55,551.67 560.70,551.67 560.80,548.83 561.05,541.84 561.30,535.00 561.55,528.31 561.80,521.79 562.05,515.43 562.30,509.23 562.55,503.20 562.80,497.34 563.05,491.65 563.30,486.14 563.55,480.80 563.80,475.66 564.05,470.70 564.30,465.94 564.55,461.38 564.80,457.02 565.05,452.88 565.30,448.95 565.55,445.26 565.80,441.80 566.05,438.60 566.30,435.65 566.55,432.99 566.80,430.63 567.05,428.61 567.30,426.95 567.55,425.74 567.80,425.14 567.80,425.14 568.05,425.44 568.30,426.18 568.55,427.31 568.80,428.78 569.05,430.59 569.30,432.71 569.55,435.13 569.80,437.84 570.05,440.84 570.30,444.12 570.55,447.67 570.80,451.49 571.05,455.58 571.30,459.92 571.55,464.52 571.80,469.37 572.05,474.47 572.30,479.82 572.55,485.41 572.80,491.24 573.05,497.30 573.30,503.61 573.55,510.14 573.80,516.91 574.05,523.91 574.30,531.13 574.55,538.58 574.80,546.26 575.05,554.16 575.20,559.00 575.30,558.93 575.55,558.25 575.80,557.00 576.05,555.23 576.30,551.54 576.55,545.37 576.80,530.60 577.05,472.36 577.30,453.65 577.55,448.21 577.80,445.48 578.05,443.75 578.30,442.48 578.55,441.68 578.80,441.26 579.05,440.94 579.30,440.73 579.50,440.68 579.55,440.68 579.80,440.81 580.05,441.09 580.30,441.49 580.55,442.07 580.80,443.17 581.05,444.68 581.30,446.59 581.55,449.42 581.80,452.45 582.05,455.45 582.30,458.72 582.55,462.54 582.80,467.27 583.05,472.74 583.30,478.62 583.55,484.69 583.80,491.22 584.05,498.09 584.30,505.18 584.55,512.35 584.80,520.29 585.05,528.61 585.30,536.23 585.55,542.08 585.80,546.43 586.05,549.99 586.30,553.05 586.55,555.80 586.80,557.87 587.05,559.27 587.30,560.48 587.55,561.31 587.74,561.57 587.80,561.53 588.05,560.75 588.30,559.20 588.55,556.59 588.80,550.96 589.05,538.85 589.30,481.67 589.55,453.80 589.80,447.73 590.05,444.93 590.30,443.10 590.55,441.92 590.80,441.34 591.05,440.95 591.30,440.72 591.44,440.68 591.55,440.70 591.80,440.87 592.05,441.18 592.30,441.59 592.55,442.29 592.80,443.51 593.05,445.08 593.30,447.20 593.55,450.16 593.80,453.16 594.05,456.20 594.30,459.57 594.55,463.59 594.80,468.53 595.05,474.13 595.30,480.05 595.55,486.22 595.80,492.84 596.05,499.78 596.30,506.89 596.55,514.16 596.80,522.29 597.05,530.54 597.30,537.83 597.55,543.21 597.80,547.35 598.05,550.75 598.30,553.75 598.55,556.38 598.80,558.22 599.05,559.58 599.30,560.72 599.55,561.43 599.68,561.57 599.80,561.43 600.05,560.43 600.30,558.75 600.55,555.53 600.80,549.12 601.05,533.19 601.30,466.10 601.55,451.89 601.80,446.86 602.05,444.43 602.30,442.76 602.55,441.74 602.80,441.23 603.05,440.88 603.30,440.69 603.38,440.68 603.55,440.72 603.80,440.93 604.05,441.27 604.30,441.70 604.55,442.54 604.80,443.86 605.05,445.50 605.30,447.87 605.55,450.90 605.80,453.87 606.05,456.97 606.30,460.47 606.55,464.70 606.80,469.83 607.05,475.53 607.30,481.49 607.55,487.77 607.80,494.48 608.05,501.48 608.30,508.61 608.55,516.04 608.80,524.30 609.05,532.42 609.30,539.32 609.55,544.28 609.80,548.22 610.05,551.49 610.30,554.43 610.55,556.90 610.80,558.56 611.05,559.88 611.30,560.93 611.55,561.51 611.62,561.57 611.80,561.27 612.05,560.08 612.30,558.25 612.55,554.29 612.80,546.83 613.05,522.01 613.30,459.23 613.55,450.29 613.80,446.15 614.05,443.97 614.30,442.46 614.55,441.58 614.80,441.14 615.05,440.81 615.30,440.68 615.32,440.68 615.55,440.76 615.80,441.00 616.05,441.37 616.30,441.85 616.55,442.82 616.80,444.23 617.05,445.95 617.30,448.57 617.55,451.62 617.80,454.59 618.05,457.76 618.30,461.40 618.55,465.86 618.80,471.15 619.05,476.95 619.30,482.95 619.55,489.35 619.80,496.14 620.05,503.18 620.30,510.32 620.55,517.98 620.80,526.31 621.05,534.23 621.30,540.67 621.55,545.30 621.80,549.06 622.05,552.21 622.30,555.08 622.55,557.38 622.80,558.89 623.05,560.17 623.30,561.12 623.55,561.56 623.56,561.57 623.80,561.06 624.05,559.69 624.30,557.59 624.55,552.86 624.80,543.77 625.05,501.81 625.30,456.49 625.55,448.97 625.80,445.55 626.05,443.55 626.30,442.19 626.55,441.47 626.80,441.05 627.05,440.76 627.26,440.68 627.30,440.68 627.55,440.80 627.80,441.08 628.05,441.47 628.30,442.03 628.55,443.12 628.80,444.62 629.05,446.49 629.30,449.30 629.55,452.33 629.80,455.33 630.05,458.58 630.30,462.38 630.55,467.07 630.80,472.51 631.05,478.38 631.30,484.44 631.55,490.95 631.80,497.81 632.05,504.89 632.30,512.05 632.55,519.96 632.80,528.28 633.05,535.95 633.30,541.89 633.55,546.27 633.80,549.86 634.05,552.93 634.30,555.70 634.55,557.80 634.80,559.22 635.05,560.43 635.30,561.28 635.50,561.57 635.55,561.54 635.80,560.80 636.05,559.27 636.30,556.75 636.55,551.25 636.80,539.65 637.05,484.49 637.30,454.15 637.55,447.89 637.80,445.01 638.05,443.17 638.30,441.96 638.55,441.36 638.80,440.96 639.05,440.72 639.20,440.68 639.30,440.69 639.55,440.86 639.80,441.17 640.05,441.57 640.30,442.25 640.55,443.45 640.80,445.02 641.05,447.10 641.30,450.04 641.55,453.04 641.80,456.07 642.05,459.43 642.30,463.41 642.55,468.32 642.80,473.90 643.05,479.81 643.30,485.96 643.55,492.57 643.80,499.50 644.05,506.61 644.30,513.85 644.55,521.96 644.80,530.22 645.05,537.57 645.30,543.03 645.55,547.20 645.80,550.63 646.05,553.63 646.30,556.28 646.55,558.16 646.80,559.53 647.05,560.68 647.30,561.41 647.44,561.57 647.55,561.45 647.80,560.49 648.05,558.82 648.30,555.72 648.55,549.45 648.80,534.23 649.05,468.31 649.30,452.18 649.55,447.00 649.80,444.51 650.05,442.82 650.30,441.76 650.55,441.25 650.80,440.89 651.05,440.69 651.14,440.68 651.30,440.72 651.55,440.92 651.80,441.26 652.05,441.68 652.30,442.49 652.55,443.80 652.80,445.43 653.05,447.75 653.30,450.78 653.55,453.76 653.80,456.84 654.05,460.32 654.30,464.51 654.55,469.61 654.80,475.30 655.05,481.25 655.30,487.51 655.55,494.21 655.80,501.19 656.05,508.32 656.30,515.73 656.55,523.97 656.80,532.11 657.05,539.08 657.30,544.11 657.55,548.08 657.80,551.37 658.05,554.32 658.30,556.82 658.55,558.50 658.80,559.84 659.05,560.90 659.30,561.50 659.38,561.57 659.55,561.30 659.80,560.14 660.05,558.34 660.30,554.51 660.55,547.26 660.80,524.81 661.05,459.73 661.30,450.54 661.55,446.26 661.80,444.05 662.05,442.51 662.30,441.61 662.55,441.15 662.80,440.82 663.05,440.68 663.08,440.68 663.30,440.75 663.55,440.99 663.80,441.35 664.05,441.82 664.30,442.77 664.55,444.17 664.80,445.87 665.05,448.45 665.30,451.50 665.55,454.47 665.80,457.63 666.05,461.24 666.30,465.66 666.55,470.93 666.80,476.71 667.05,482.70 667.30,489.09 667.55,495.86 667.80,502.90 668.05,510.04 668.30,517.65 668.55,525.97 668.80,533.93 669.05,540.46 669.30,545.14 669.55,548.92 669.80,552.09 670.05,554.97 670.30,557.31 670.55,558.83 670.80,560.12 671.05,561.09 671.30,561.56 671.32,561.57 671.55,561.10 671.80,559.76 672.05,557.71 672.30,553.11 672.55,544.34 672.80,505.25 673.05,456.92 673.30,449.17 673.55,445.64 673.80,443.62 674.05,442.23 674.30,441.49 674.55,441.06 674.80,440.77 675.02,440.68 675.05,440.68 675.30,440.80 675.55,441.07 675.80,441.45 676.05,442.00 676.30,443.07 676.55,444.55 676.80,446.40 677.05,449.18 677.30,452.22 677.55,455.20 677.80,458.44 678.05,462.21 678.30,466.86 678.55,472.28 678.80,478.14 679.05,484.19 679.30,490.68 679.55,497.53 679.80,504.61 680.05,511.76 680.30,519.63 680.55,527.96 680.80,535.67 681.05,541.69 681.30,546.11 681.55,549.73 681.80,552.81 682.05,555.60 682.30,557.74 682.55,559.16 682.80,560.39 683.05,561.26 683.26,561.57 683.30,561.55 683.55,560.84 683.80,559.34 684.05,556.90 684.30,551.53 684.55,540.42 684.80,487.25 685.05,454.52 685.30,448.05 685.55,445.10 685.80,443.23 686.05,441.99 686.30,441.37 686.55,440.98 686.80,440.73 686.96,440.68 687.05,440.69 687.30,440.85 687.55,441.15 687.80,441.56 688.05,442.21 688.30,443.39 688.55,444.95 688.80,446.99 689.05,449.92 689.30,452.92 689.55,455.95 689.80,459.29 690.05,463.24 690.30,468.11 690.55,473.66 690.80,479.57 691.05,485.71 691.30,492.30 691.55,499.22 691.80,506.32 692.05,513.55 692.30,521.62 692.55,529.90 692.80,537.31 693.05,542.84 693.30,547.05 693.55,550.50 693.80,553.52 694.05,556.19 694.30,558.10 694.55,559.48 694.80,560.64 695.05,561.39 695.20,561.57 695.30,561.47 695.55,560.54 695.80,558.90 696.05,555.91 696.30,549.76 696.55,535.24 696.80,470.74 697.05,452.49 697.30,447.13 697.55,444.59 697.80,442.87 698.05,441.79 698.30,441.27 698.55,440.90 698.80,440.70 698.90,440.68 699.05,440.71 699.30,440.91 699.55,441.24 699.80,441.66 700.05,442.45 700.30,443.74 700.55,445.36 700.80,447.64 701.05,450.66 701.30,453.64 701.55,456.71 701.80,460.17 702.05,464.32 702.30,469.39 702.55,475.06 702.80,481.01 703.05,487.25 703.30,493.93 703.55,500.91 703.80,508.04 704.05,515.41 704.30,523.63 704.55,531.80 704.80,538.84 705.05,543.93 705.30,547.93 705.55,551.25 705.80,554.20 706.05,556.73 706.30,558.44 706.55,559.79 706.80,560.86 707.05,561.49 707.14,561.57 707.30,561.33 707.55,560.20 707.80,558.43 708.05,554.73 708.30,547.67 708.55,527.28 708.80,460.28 709.05,450.79 709.30,446.38 709.55,444.12 709.80,442.56 710.05,441.63 710.30,441.17 710.55,440.83 710.80,440.68 710.84,440.68 711.05,440.75 711.30,440.98 711.55,441.34 711.80,441.80 712.05,442.72 712.30,444.10 712.55,445.79 712.80,448.33 713.05,451.39 713.30,454.35 713.55,457.49 713.80,461.08 714.05,465.47 714.30,470.71 714.55,476.48 714.80,482.46 715.05,488.82 715.30,495.59 715.55,502.61 715.80,509.75 716.05,517.33 716.30,525.64 716.55,533.63 716.80,540.24 717.05,544.97 717.30,548.78 717.55,551.97 717.80,554.87 718.05,557.23 718.30,558.78 718.55,560.08 718.80,561.06 719.05,561.55 719.08,561.57 719.30,561.14 719.55,559.82 719.80,557.83 720.05,553.36 720.30,544.89 720.55,508.75 720.80,457.35 721.05,449.38 721.30,445.74 721.55,443.69 721.80,442.28 722.05,441.50 722.30,441.08 722.55,440.78 722.78,440.68 722.80,440.68 723.05,440.79 723.30,441.05 723.55,441.43 723.80,441.97 724.05,443.02 724.30,444.48 724.55,446.30 724.80,449.05 725.05,452.10 725.30,455.08 725.55,458.30 725.80,462.04 726.05,466.66 726.30,472.06 726.55,477.90 726.80,483.94 727.05,490.41 727.30,497.25 727.55,504.32 727.80,511.47 728.05,519.30 728.30,527.63 728.55,535.39 728.80,541.49 729.05,545.96 729.30,549.60 729.55,552.69 729.80,555.50 730.05,557.67 730.30,559.11 730.55,560.35 730.80,561.23 731.02,561.57 731.05,561.56 731.30,560.89 731.55,559.41 731.80,557.05 732.05,551.81 732.30,541.16 732.55,489.92 732.80,454.89 733.05,448.22 733.30,445.19 733.55,443.29 733.80,442.03 734.05,441.39 734.30,440.99 734.55,440.73 734.72,440.68 734.80,440.69 735.05,440.84 735.30,441.14 735.55,441.54 735.80,442.17 736.05,443.34 736.30,444.88 736.55,446.89 736.80,449.79 737.05,452.81 737.30,455.82 737.55,459.14 737.80,463.06 738.05,467.90 738.30,473.43 738.55,479.34 738.80,485.45 739.05,492.03 739.30,498.93 739.55,506.03 739.80,513.24 740.05,521.29 740.30,529.58 740.55,537.04 740.80,542.65 741.05,546.89 741.30,550.38 741.55,553.40 741.80,556.09 742.05,558.05 742.30,559.43 742.55,560.60 742.80,561.37 742.96,561.57 743.05,561.49 743.30,560.60 743.55,558.97 743.80,556.08 744.05,550.07 744.30,536.20 744.55,473.33 744.80,452.80 745.05,447.27 745.30,444.67 745.55,442.93 745.80,441.83 746.05,441.29 746.30,440.91 746.55,440.70 746.66,440.68 746.80,440.71 747.05,440.90 747.30,441.23 747.55,441.64 747.80,442.41 748.05,443.68 748.30,445.29 748.55,447.53 748.80,450.53 749.05,453.52 749.30,456.58 749.55,460.02 749.80,464.14 750.05,469.17 750.30,474.83 750.55,480.77 750.80,486.99 751.05,493.66 751.30,500.63 751.55,507.75 751.80,515.09 752.05,523.30 752.30,531.49 752.55,538.59 752.80,543.75 753.05,547.79 753.30,551.13 753.55,554.09 753.80,556.65 754.05,558.39 754.30,559.74 754.55,560.83 754.80,561.48 754.90,561.57 755.05,561.36 755.30,560.26 755.55,558.51 755.80,554.93 756.05,548.06 756.30,529.34 756.55,461.19 756.80,451.05 757.05,446.49 757.30,444.20 757.55,442.61 757.80,441.66 758.05,441.18 758.30,440.84 758.55,440.68 758.60,440.68 758.80,440.74 759.05,440.97 759.30,441.32 759.55,441.77 759.80,442.67 760.05,444.04 760.30,445.71 760.55,448.21 760.80,451.27 761.05,454.23 761.30,457.36 761.55,460.93 761.80,465.27 762.05,470.49 762.30,476.24 762.55,482.22 762.80,488.56 763.05,495.31 763.30,502.33 763.55,509.47 763.80,517.01 764.05,525.31 764.30,533.33 764.55,540.01 764.80,544.80 765.05,548.64 765.30,551.85 765.55,554.76 765.80,557.15 766.05,558.72 766.30,560.03 766.55,561.03 766.80,561.54 766.84,561.57 767.05,561.17 767.30,559.89 767.55,557.94 767.80,553.60 768.05,545.41 768.30,512.24 768.55,457.80 768.80,449.60 769.05,445.84 769.30,443.76 769.55,442.32 769.80,441.52 770.05,441.09 770.30,440.79 770.54,440.68 770.55,440.68 770.80,440.78 771.05,441.04 771.30,441.42 771.55,441.94 771.80,442.97 772.05,444.42 772.30,446.21 772.55,448.93 772.80,451.98 773.05,454.96 773.30,458.17 773.55,461.88 773.80,466.46 774.05,471.83 774.30,477.66 774.55,483.69 774.80,490.15 775.05,496.98 775.30,504.03 775.55,511.18 775.80,518.97 776.05,527.30"/>
<polyline stroke="#ff0000" points="468.30,524.12 468.55,527.52 468.80,530.50 469.05,533.11 469.30,535.40 469.55,537.40 469.80,539.16 470.05,540.70 470.30,542.05 470.55,543.24 470.80,544.28 471.05,545.19 471.30,545.99 471.55,546.69 471.80,547.30 472.05,547.84 472.30,548.31 472.55,548.73 472.80,549.09 473.05,549.41 473.30,549.68 473.55,549.93 473.80,550.14 474.05,550.33 474.30,550.50 474.55,550.64 474.80,550.77 475.05,550.88 475.30,550.97 475.55,551.06 475.80,551.13 476.05,551.20 476.30,551.26 476.55,551.31 476.80,551.35 477.05,551.39 477.30,551.43 477.55,551.45 477.80,551.48 478.05,551.50 478.30,551.52 478.55,551.54 478.80,551.56 479.05,551.57 479.30,551.58 479.55,551.59 479.80,551.60 480.05,551.61 480.30,551.62 480.55,551.62 480.80,551.63 481.05,551.63 481.30,551.64 481.55,551.64 481.80,551.64 482.05,551.65 482.30,551.65 482.55,551.65 482.80,551.65 483.05,551.65 483.30,551.66 483.55,551.66 483.80,551.66 484.05,551.66 484.30,551.66 484.55,551.66 484.80,551.66 485.05,551.66 485.30,551.66 485.55,551.66 485.80,551.66 486.05,551.66 486.30,551.66 486.55,551.66 486.80,551.66 487.05,551.67 487.30,551.67 487.55,551.67 487.80,551.67 488.05,551.67 488.30,551.67 488.55,551.67 488.80,551.67 489.05,551.67 489.30,551.67 489.55,551.67 489.80,551.67 490.05,551.67 490.30,551.67 490.55,551.67 490.80,551.67 491.05,551.67 491.30,551.67 491.55,551.67 491.80,551.67 492.05,551.67 492.30,551.67 492.55,551.67 492.80,551.67 493.05,551.67 493.30,551.67 493.55,551.67 493.80,551.67 494.05,551.67 494.30,551.67 494.55,551.67 494.80,551.67 495.05,551.67 495.30,551.67 495.55,551.67 495.80,551.67 496.05,551.67 496.30,551.67 496.55,551.67 496.80,551.67 497.05,551.67 497.30,551.67 497.55,551.67 497.80,551.67 498.05,551.67 498.30,551.67 498.55,551.67 498.80,551.67 499.05,551.67 499.30,551.67 499.55,551.67 499.80,551.67 500.05,551.67 500.30,551.67 500.55,551.67 500.80,551.67 501.05,551.67 501.30,551.67 501.55,551.67 501.80,551.67 502.05,551.67 502.30,551.67 502.55,551.67 502.80,551.67 503.05,551.67 503.30,551.67 503.55,551.67 503.80,551.67 504.05,551.67 504.30,551.67 504.55,551.67 504.80,551.67 505.05,551.67 505.30,551.67 505.55,551.67 505.80,551.67 506.05,551.67 506.30,551.67 506.55,551.67 506.80,551.67 507.05,551.67 507.30,551.67 507.55,551.67 507.80,551.67 508.05,551.67 508.30,551.67 508.55,551.67 508.80,551.67 509.05,551.67 509.30,551.67 509.55,551.67 509.80,551.67 510.05,551.67 510.30,551.67 510.55,551.67 510.80,551.67 511.05,551.67 511.30,551.67 511.55,551.67 511.80,551.67 512.05,551.67 512.30,551.67 512.55,551.67 512.80,551.67 513.05,551.67 513.30,551.67 513.55,551.67 513.80,551.67 514.05,551.67 514.30,551.67 514.55,551.67 514.80,551.67 515.05,551.67 515.30,551.67 515.55,551.67 515.80,551.67 516.05,551.67 516.30,551.67 516.55,551.67 516.80,551.67 517.05,551.67 517.30,551.67 517.55,551.67 517.80,551.67 518.05,551.67 518.30,551.67 518.55,551.67 518.80,551.67 519.05,551.67 519.30,551.67 519.55,551.67 519.80,551.67 520.05,551.67 520.30,551.67 520.55,551.67 520.80,551.67 521.05,551.67 521.30,551.67 521.55,551.67 521.80,551.67 522.05,551.67 522.30,551.67 522.55,551.67 522.80,551.67 523.05,551.67 523.30,551.67 523.55,551.67 523.80,551.67 524.05,551.67 524.30,551.67 524.55,551.67 524.80,551.67 525.05,551.67 525.30,551.67 525.55,551.67 525.80,551.67 526.05,551.67 526.30,551.67 526.55,551.67 526.80,551.67 527.05,551.67 527.30,551.67 527.55,551.67 527.80,551.67 528.05,551.67 528.30,551.67 528.55,551.67 528.80,551.67 529.05,551.67 529.30,551.67 529.55,551.67 529.80,551.67 530.05,551.67 530.30,551.67 530.55,551.67 530.80,551.67 531.05,551.67 531.30,551.67 531.55,551.67 531.80,551.67 532.05,551.67 532.30,551.67 532.55,551.67 532.80,551.67 533.05,551.67 533.30,551.67 533.55,551.67 533.80,551.67 534.05,551.67 534.30,551.67 534.55,551.67 534.80,551.67 535.05,551.67 535.30,551.67 535.55,551.67 535.80,551.67 536.05,551.67 536.30,551.67 536.55,551.67 536.80,551.67 537.05,551.67 537.30,551.67 537.55,551.67 537.80,551.67 538.05,551.67 538.30,551.67 538.55,551.67 538.80,551.67 539.05,551.67 539.30,551.67 539.55,551.67 539.80,551.67 540.05,551.67 540.30,551.67 540.55,551.67 540.80,551.67 541.05,551.67 541.30,551.67 541.55,551.67 541.80,551.67 542.05,551.67 542.30,551.67 542.55,551.67 542.80,551.67 543.05,551.67 543.30,551.67 543.55,551.67 543.80,551.67 544.05,551.67 544.30,551.67 544.55,551.67 544.80,551.67 545.05,551.67 545.30,551.67 545.55,551.67 545.80,551.67 546.05,551.67 546.30,551.67 546.55,551.67 546.80,551.67 547.05,551.67 547.30,551.67 547.55,551.67 547.80,551.67 548.05,551.67 548.30,551.67 548.55,551.67 548.80,551.67 549.05,551.67 549.30,551.67 549.55,551.67 549.80,551.67 550.05,551.67 550.30,551.67 550.55,551.67 550.80,551.67 551.05,551.67 551.30,551.67 551.55,551.67 551.80,551.67 552.05,551.67 552.30,551.67 552.55,551.67 552.80,551.67 553.05,551.67 553.30,551.67 553.55,551.67 553.80,551.67 554.05,551.67 554.30,551.67 554.55,551.67 554.80,551.67 555.05,551.67 555.30,551.67 555.55,551.67 555.80,551.67 556.05,551.67 556.30,551.67 556.55,551.67 556.80,551.67 557.05,551.67 557.30,551.67 557.55,551.67 557.80,551.67 558.05,551.67 558.30,551.67 558.55,551.67 558.80,551.67 559.05,551.67 559.30,551.67 559.55,551.67 559.60,551.67 559.80,545.28 560.05,537.48 560.30,529.87 560.55,522.47 560.80,515.27 561.05,508.27 561.30,501.49 561.55,494.93 561.80,488.59 562.05,482.48 562.30,476.61 562.55,470.97 562.80,465.58 563.05,460.44 563.30,455.57 563.55,450.97 563.80,446.66 564.05,442.64 564.30,438.94 564.55,435.57 564.80,432.55 565.05,429.92 565.30,427.73 565.55,426.02 565.80,424.95 565.90,424.78 566.05,424.88 566.30,425.40 566.55,426.27 566.80,427.47 567.05,428.96 567.30,430.73 567.55,432.78 567.80,435.10 568.05,437.67 568.30,440.49 568.55,443.56 568.80,446.87 569.05,450.42 569.30,454.20 569.55,458.21 569.80,462.44 570.05,466.90 570.30,471.57 570.55,476.47 570.80,481.58 571.05,486.90 571.30,492.43 571.55,498.17 571.80,504.12 572.05,510.28 572.30,516.63 572.55,523.19 572.80,529.95 573.05,536.91 573.30,544.07 573.55,551.42 573.70,555.92 573.80,555.84 574.05,555.00 574.30,553.50 574.55,550.92 574.80,545.53 575.05,533.98 575.30,480.54 575.55,453.50 575.80,447.64 576.05,444.91 576.30,443.16 576.55,441.99 576.80,441.38 577.05,441.00 577.30,440.75 577.50,440.68 577.55,440.68 577.80,440.81 578.05,441.09 578.30,441.49 578.55,442.07 578.80,443.17 579.05,444.68 579.30,446.59 579.55,449.42 579.80,452.45 580.05,455.45 580.30,458.72 580.55,462.54 580.80,467.27 581.05,472.74 581.30,478.62 581.55,484.69 581.80,491.22 582.05,498.09 582.30,505.18 582.55,512.35 582.80,520.29 583.05,528.61 583.30,536.23 583.55,542.08 583.80,546.43 584.05,549.99 584.30,553.05 584.55,555.80 584.80,557.87 585.05,559.27 585.30,560.48 585.55,561.31 585.74,561.57 585.80,561.53 586.05,560.75 586.30,559.20 586.55,556.59 586.80,550.96 587.05,538.85 587.30,481.67 587.55,453.80 587.80,447.73 588.05,444.93 588.30,443.10 588.55,441.92 588.80,441.34 589.05,440.95 589.30,440.72 589.44,440.68 589.55,440.70 589.80,440.87 590.05,441.18 590.30,441.59 590.55,442.29 590.80,443.51 591.05,445.08 591.30,447.20 591.55,450.16 591.80,453.16 592.05,456.20 592.30,459.57 592.55,463.59 592.80,468.53 593.05,474.13 593.30,480.05 593.55,486.22 593.80,492.84 594.05,499.78 594.30,506.89 594.55,514.16 594.80,522.29 595.05,530.54 595.30,537.83 595.55,543.21 595.80,547.35 596.05,550.75 596.30,553.75 596.55,556.38 596.80,558.22 597.05,559.58 597.30,560.72 597.55,561.43 597.68,561.57 597.80,561.43 598.05,560.43 598.30,558.75 598.55,555.53 598.80,549.12 599.05,533.19 599.30,466.10 599.55,451.89 599.80,446.86 600.05,444.43 600.30,442.76 600.55,441.74 600.80,441.23 601.05,440.88 601.30,440.69 601.38,440.68 601.55,440.72 601.80,440.93 602.05,441.27 602.30,441.70 602.55,442.54 602.80,443.86 603.05,445.50 603.30,447.87 603.55,450.90 603.80,453.87 604.05,456.97 604.30,460.47 604.55,464.70 604.80,469.83 605.05,475.53 605.30,481.49 605.55,487.77 605.80,494.48 606.05,501.48 606.30,508.61 606.55,516.04 606.80,524.30 607.05,532.42 607.30,539.32 607.55,544.28 607.80,548.22 608.05,551.49 608.30,554.43 608.55,556.90 608.80,558.56 609.05,559.88 609.30,560.93 609.55,561.51 609.62,561.57 609.80,561.27 610.05,560.08 610.30,558.25 610.55,554.29 610.80,546.83 611.05,522.01 611.30,459.23 611.55,450.29 611.80,446.15 612.05,443.97 612.30,442.46 612.55,441.58 612.80,441.14 613.05,440.81 613.30,440.68 613.32,440.68 613.55,440.76 613.80,441.00 614.05,441.37 614.30,441.85 614.55,442.82 614.80,444.23 615.05,445.95 615.30,448.57 615.55,451.62 615.80,454.59 616.05,457.76 616.30,461.40 616.55,465.86 616.80,471.15 617.05,476.95 617.30,482.95 617.55,489.35 617.80,496.14 618.05,503.18 618.30,510.32 618.55,517.98 618.80,526.31 619.05,534.23 619.30,540.67 619.55,545.30 619.80,549.06 620.05,552.21 620.30,555.08 620.55,557.38 620.80,558.89 621.05,560.17 621.30,561.12 621.55,561.56 621.56,561.57 621.80,561.06 622.05,559.69 622.30,557.59 622.55,552.86 622.80,543.77 623.05,501.81 623.30,456.49 623.55,448.97 623.80,445.55 624.05,443.55 624.30,442.19 624.55,441.47 624.80,441.05 625.05,440.76 625.26,440.68 625.30,440.68 625.55,440.80 625.80,441.08 626.05,441.47 626.30,442.03 626.55,443.12 626.80,444.62 627.05,446.49 627.30,449.30 627.55,452.33 627.80,455.33 628.05,458.58 628.30,462.38 628.55,467.07 628.80,472.51 629.05,478.38 629.30,484.44 629.55,490.95 629.80,497.81 630.05,504.89 630.30,512.05 630.55,519.96 630.80,528.28 631.05,535.95 631.30,541.89 631.55,546.27 631.80,549.86 632.05,552.93 632.30,555.70 632.55,557.80 632.80,559.22 633.05,560.43 633.30,561.28 633.50,561.57 633.55,561.54 633.80,560.80 634.05,559.27 634.30,556.75 634.55,551.25 634.80,539.65 635.05,484.49 635.30,454.15 635.55,447.89 635.80,445.01 636.05,443.17 636.30,441.96 636.55,441.36 636.80,440.96 637.05,440.72 637.20,440.68 637.30,440.69 637.55,440.86 637.80,441.17 638.05,441.57 638.30,442.25 638.55,443.45 638.80,445.02 639.05,447.10 639.30,450.04 639.55,453.04 639.80,456.07 640.05,459.43 640.30,463.41 640.55,468.32 640.80,473.90 641.05,479.81 641.30,485.96 641.55,492.57 641.80,499.50 642.05,506.61 642.30,513.85 642.55,521.96 642.80,530.22 643.05,537.57 643.30,543.03 643.55,547.20 643.80,550.63 644.05,553.63 644.30,556.28 644.55,558.16 644.80,559.53 645.05,560.68 645.30,561.41 645.44,561.57 645.55,561.45 645.80,560.49 646.05,558.82 646.30,555.72 646.55,549.45 646.80,534.23 647.05,468.31 647.30,452.18 647.55,447.00 647.80,444.51 648.05,442.82 648.30,441.76 648.55,441.25 648.80,440.89 649.05,440.69 649.14,440.68 649.30,440.72 649.55,440.92 649.80,441.26 650.05,441.68 650.30,442.49 650.55,443.80 650.80,445.43 651.05,447.75 651.30,450.78 651.55,453.76 651.80,456.84 652.05,460.32 652.30,464.51 652.55,469.61 652.80,475.30 653.05,481.25 653.30,487.51 653.55,494.21 653.80,501.19 654.05,508.32 654.30,515.73 654.55,523.97 654.80,532.11 655.05,539.08 655.30,544.11 655.55,548.08 655.80,551.37 656.05,554.32 656.30,556.82 656.55,558.50 656.80,559.84 657.05,560.90 657.30,561.50 657.38,561.57 657.55,561.30 657.80,560.14 658.05,558.34 658.30,554.51 658.55,547.26 658.80,524.81 659.05,459.73 659.30,450.54 659.55,446.26 659.80,444.05 660.05,442.51 660.30,441.61 660.55,441.15 660.80,440.82 661.05,440.68 661.08,440.68 661.30,440.75 661.55,440.99 661.80,441.35 662.05,441.82 662.30,442.77 662.55,444.17 662.80,445.87 663.05,448.45 663.30,451.50 663.55,454.47 663.80,457.63 664.05,461.24 664.30,465.66 664.55,470.93 664.80,476.71 665.05,482.70 665.30,489.09 665.55,495.86 665.80,502.90 666.05,510.04 666.30,517.65 666.55,525.97 666.80,533.93 667.05,540.46 667.30,545.14 667.55,548.92 667.80,552.09 668.05,554.97 668.30,557.31 668.55,558.83 668.80,560.12 669.05,561.09 669.30,561.56 669.32,561.57 669.55,561.10 669.80,559.76 670.05,557.71 670.30,553.11 670.55,544.34 670.80,505.25 671.05,456.92 671.30,449.17 671.55,445.64 671.80,443.62 672.05,442.23 672.30,441.49 672.55,441.06 672.80,440.77 673.02,440.68 673.05,440.68 673.30,440.80 673.55,441.07 673.80,441.45 674.05,442.00 674.30,443.07 674.55,444.55 674.80,446.40 675.05,449.18 675.30,452.22 675.55,455.20 675.80,458.44 676.05,462.21 676.30,466.86 676.55,472.28 676.80,478.14 677.05,484.19 677.30,490.68 677.55,497.53 677.80,504.61 678.05,511.76 678.30,519.63 678.55,527.96 678.80,535.67 679.05,541.69 679.30,546.11 679.55,549.73 679.80,552.81 680.05,555.60 680.30,557.74 680.55,559.16 680.80,560.39 681.05,561.26 681.26,561.57 681.30,561.55 681.55,560.84 681.80,559.34 682.05,556.90 682.30,551.53 682.55,540.42 682.80,487.25 683.05,454.52 683.30,448.05 683.55,445.10 683.80,443.23 684.05,441.99 684.30,441.37 684.55,440.98 684.80,440.73 684.96,440.68 685.05,440.69 685.30,440.85 685.55,441.15 685.80,441.56 686.05,442.21 686.30,443.39 686.55,444.95 686.80,446.99 687.05,449.92 687.30,452.92 687.55,455.95 687.80,459.29 688.05,463.24 688.30,468.11 688.55,473.66 688.80,479.57 689.05,485.71 689.30,492.30 689.55,499.22 689.80,506.32 690.05,513.55 690.30,521.62 690.55,529.90 690.80,537.31 691.05,542.84 691.30,547.05 691.55,550.50 691.80,553.52 692.05,556.19 692.30,558.10 692.55,559.48 692.80,560.64 693.05,561.39 693.20,561.57 693.30,561.47 693.55,560.54 693.80,558.90 694.05,555.91 694.30,549.76 694.55,535.24 694.80,470.74 695.05,452.49 695.30,447.13 695.55,444.59 695.80,442.87 696.05,441.79 696.30,441.27 696.55,440.90 696.80,440.70 696.90,440.68 697.05,440.71 697.30,440.91 697.55,441.24 697.80,441.66 698.05,442.45 698.30,443.74 698.55,445.36 698.80,447.64 699.05,450.66 699.30,453.64 699.55,456.71 699.80,460.17 700.05,464.32 700.30,469.39 700.55,475.06 700.80,481.01 701.05,487.25 701.30,493.93 701.55,500.91 701.80,508.04 702.05,515.41 702.30,523.63 702.55,531.80 702.80,538.84 703.05,543.93 703.30,547.93 703.55,551.25 703.80,554.20 704.05,556.73 704.30,558.44 704.55,559.79 704.80,560.86 705.05,561.49 705.14,561.57 705.30,561.33 705.55,560.20 705.80,558.43 706.05,554.73 706.30,547.67 706.55,527.28 706.80,460.28 707.05,450.79 707.30,446.38 707.55,444.12 707.80,442.56 708.05,441.63 708.30,441.17 708.55,440.83 708.80,440.68 708.84,440.68 709.05,440.75 709.30,440.98 709.55,441.34 709.80,441.80 710.05,442.72 710.30,444.10 710.55,445.79 710.80,448.33 711.05,451.39 711.30,454.35 711.55,457.49 711.80,461.08 712.05,465.47 712.30,470.71 712.55,476.48 712.80,482.46 713.05,488.82 713.30,495.59 713.55,502.61 713.80,509.75 714.05,517.33 714.30,525.64 714.55,533.63 714.80,540.24 715.05,544.97 715.30,548.78 715.55,551.97 715.80,554.87 716.05,557.23 716.30,558.78 716.55,560.08 716.80,561.06 717.05,561.55 717.08,561.57 717.30,561.14 717.55,559.82 717.80,557.83 718.05,553.36 718.30,544.89 718.55,508.75 718.80,457.35 719.05,449.38 719.30,445.74 719.55,443.69 719.80,442.28 720.05,441.50 720.30,441.08 720.55,440.78 720.78,440.68 720.80,440.68 721.05,440.79 721.30,441.05 721.55,441.43 721.80,441.97 722.05,443.02 722.30,444.48 722.55,446.30 722.80,449.05 723.05,452.10 723.30,455.08 723.55,458.30 723.80,462.04 724.05,466.66 724.30,472.06 724.55,477.90 724.80,483.94 725.05,490.41 725.30,497.25 725.55,504.32 725.80,511.47 726.05,519.30 726.30,527.63 726.55,535.39 726.80,541.49 727.05,545.96 727.30,549.60 727.55,552.69 727.80,555.50 728.05,557.67 728.30,559.11 728.55,560.35 728.80,561.23 729.02,561.57 729.05,561.56 729.30,560.89 729.55,559.41 729.80,557.05 730.05,551.81 730.30,541.16 730.55,489.92 730.80,454.89 731.05,448.22 731.30,445.19 731.55,443.29 731.80,442.03 732.05,441.39 732.30,440.99 732.55,440.73 732.72,440.68 732.80,440.69 733.05,440.84 733.30,441.14 733.55,441.54 733.80,442.17 734.05,443.34 734.30,444.88 734.55,446.89 734.80,449.79 735.05,452.81 735.30,455.82 735.55,459.14 735.80,463.06 736.05,467.90 736.30,473.43 736.55,479.34 736.80,485.45 737.05,492.03 737.30,498.93 737.55,506.03 737.80,513.24 738.05,521.29 738.30,529.58 738.55,537.04 738.80,542.65 739.05,546.89 739.30,550.38 739.55,553.40 739.80,556.09 740.05,558.05 740.30,559.43 740.55,560.60 740.80,561.37 740.96,561.57 741.05,561.49 741.30,560.60 741.55,558.97 741.80,556.08 742.05,550.07 742.30,536.20 742.55,473.33 742.80,452.80 743.05,447.27 743.30,444.67 743.55,442.93 743.80,441.83 744.05,441.29 744.30,440.91 744.55,440.70 744.66,440.68 744.80,440.71 745.05,440.90 745.30,441.23 745.55,441.64 745.80,442.41 746.05,443.68 746.30,445.29 746.55,447.53 746.80,450.53 747.05,453.52 747.30,456.58 747.55,460.02 747.80,464.14 748.05,469.17 748.30,474.83 748.55,480.77 748.80,486.99 749.05,493.66 749.30,500.63 749.55,507.75 749.80,515.09 750.05,523.30 750.30,531.49 750.55,538.59 750.80,543.75 751.05,547.79 751.30,551.13 751.55,554.09 751.80,556.65 752.05,558.39 752.30,559.74 752.55,560.83 752.80,561.48 752.90,561.57 753.05,561.36 753.30,560.26 753.55,558.51 753.80,554.93 754.05,548.06 754.30,529.34 754.55,461.19 754.80,451.05 755.05,446.49 755.30,444.20 755.55,442.61 755.80,441.66 756.05,441.18 756.30,440.84 756.55,440.68 756.60,440.68 756.80,440.74 757.05,440.97 757.30,441.32 757.55,441.77 757.80,442.67 758.05,444.04 758.30,445.71 758.55,448.21 758.80,451.27 759.05,454.23 759.30,457.36 759.55,460.93 759.80,465.27 760.05,470.49 760.30,476.24 760.55,482.22 760.80,488.56 761.05,495.31 761.30,502.33 761.55,509.47 761.80,517.01 762.05,525.31 762.30,533.33 762.55,540.01 762.80,544.80 763.05,548.64 763.30,551.85 763.55,554.76 763.80,557.15 764.05,558.72 764.30,560.03 764.55,561.03 764.80,561.54 764.84,561.57 765.05,561.17 765.30,559.89 765.55,557.94 765.80,553.60 766.05,545.41 766.30,512.24 766.55,457.80 766.80,449.60 767.05,445.84 767.30,443.76 767.55,442.32 767.80,441.52 768.05,441.09 768.30,440.79 768.54,440.68 768.55,440.68 768.80,440.78 769.05,441.04 769.30,441.42 769.55,441.94 769.80,442.97 770.05,444.42 770.30,446.21 770.55,448.93 770.80,451.98 771.05,454.96 771.30,458.17 771.55,461.88 771.80,466.46 772.05,471.83 772.30,477.66 772.55,483.69 772.80,490.15 773.05,496.98 773.30,504.03 773.55,511.18 773.80,518.97 774.05,527.30 774.30,535.10 774.55,541.29 774.80,545.79 775.05,549.46 775.30,552.57 775.55,555.39 775.80,557.60 776.05,559.05"/>
<polyline stroke="#00ff00" points="468.30,513.87 468.55,518.58 468.80,522.71 469.05,526.33 469.30,529.50 469.55,532.29 469.80,534.73 470.05,536.87 470.30,538.74 470.55,540.39 470.80,541.83 471.05,543.09 471.30,544.20 471.55,545.17 471.80,546.02 472.05,546.77 472.30,547.42 472.55,548.00 472.80,548.50 473.05,548.94 473.30,549.33 473.55,549.67 473.80,549.96 474.05,550.22 474.30,550.45 474.55,550.65 474.80,550.83 475.05,550.98 475.30,551.12 475.55,551.24 475.80,551.34 476.05,551.43 476.30,551.51 476.55,551.58 476.80,551.64 477.05,551.69 477.30,551.74 477.55,551.78 477.80,551.82 478.05,551.85 478.30,551.88 478.55,551.90 478.80,551.92 479.05,551.94 479.30,551.96 479.55,551.97 479.80,551.99 480.05,552.00 480.30,552.01 480.55,552.02 480.80,552.02 481.05,552.03 481.30,552.04 481.55,552.04 481.80,552.05 482.05,552.05 482.30,552.05 482.55,552.06 482.80,552.06 483.05,552.06 483.30,552.06 483.55,552.06 483.80,552.07 484.05,552.07 484.30,552.07 484.55,552.07 484.80,552.07 485.05,552.07 485.30,552.07 485.55,552.07 485.80,552.07 486.05,552.07 486.30,552.07 486.55,552.07 486.80,552.07 487.05,552.07 487.30,552.08 487.55,552.08 487.80,552.08 488.05,552.08 488.30,552.08 488.55,552.08 488.80,552.08 489.05,552.08 489.30,552.08 489.55,552.08 489.80,552.08 490.05,552.08 490.30,552.08 490.55,552.08 490.80,552.08 491.05,552.08 491.30,552.08 491.55,552.08 491.80,552.08 492.05,552.08 492.30,552.08 492.55,552.08 492.80,552.08 493.05,552.08 493.30,552.08 493.55,552.08 493.80,552.08 494.05,552.08 494.30,552.08 494.55,552.08 494.80,552.08 495.05,552.08 495.30,552.08 495.55,552.08 495.80,552.08 496.05,552.08 496.30,552.08 496.55,552.08 496.80,552.08 497.05,552.08 497.30,552.08 497.55,552.08 497.80,552.08 498.05,552.08 498.30,552.08 498.55,552.08 498.80,552.08 499.05,552.08 499.30,552.08 499.55,552.08 499.80,552.08 500.05,552.08 500.30,552.08 500.55,552.08 500.80,552.08 501.05,552.08 501.30,552.08 501.55,552.08 501.80,552.08 502.05,552.08 502.30,552.08 502.55,552.08 502.80,552.08 503.05,552.08 503.30,552.08 503.55,552.08 503.80,552.08 504.05,552.08 504.30,552.08 504.55,552.08 504.80,552.08 505.05,552.08 505.30,552.08 505.55,552.08 505.80,552.08 506.05,552.08 506.30,552.08 506.55,552.08 506.80,552.08 507.05,552.08 507.30,552.08 507.55,552.08 507.80,552.08 508.05,552.08 508.30,552.08 508.55,552.08 508.80,552.08 509.05,552.08 509.30,552.08 509.55,552.08 509.80,552.08 510.05,552.08 510.30,552.08 510.55,552.08 510.80,552.08 511.05,552.08 511.30,552.08 511.55,552.08 511.80,552.08 512.05,552.08 512.30,552.08 512.55,552.08 512.80,552.08 513.05,552.08 513.30,552.08 513.55,552.08 513.80,552.08 514.05,552.08 514.30,552.08 514.55,552.08 514.80,552.08 515.05,552.08 515.30,552.08 515.55,552.08 515.80,552.08 516.05,552.08 516.30,552.08 516.55,552.08 516.80,552.08 517.05,552.08 517.30,552.08 517.55,552.08 517.80,552.08 518.05,552.08 518.30,552.08 518.55,552.08 518.80,552.08 519.05,552.08 519.30,552.08 519.55,552.08 519.80,552.08 520.05,552.08 520.30,552.08 520.55,552.08 520.80,552.08 521.05,552.08 521.30,552.08 521.55,552.08 521.80,552.08 522.05,552.08 522.30,552.08 522.55,552.08 522.80,552.08 523.05,552.08 523.30,552.08 523.55,552.08 523.80,552.08 524.05,552.08 524.30,552.08 524.55,552.08 524.80,552.08 525.05,552.08 525.30,552.08 525.55,552.08 525.80,552.08 526.05,552.08 526.30,552.08 526.55,552.08 526.80,552.08 527.05,552.08 527.30,552.08 527.55,552.08 527.80,552.08 528.05,552.08 528.30,552.08 528.55,552.08 528.80,552.08 529.05,552.08 529.30,552.08 529.55,552.08 529.80,552.08 530.05,552.08 530.30,552.08 530.55,552.08 530.80,552.08 531.05,552.08 531.30,552.08 531.55,552.08 531.80,552.08 532.05,552.08 532.30,552.08 532.55,552.08 532.80,552.08 533.05,552.08 533.30,552.08 533.55,552.08 533.80,552.08 534.05,552.08 534.30,552.08 534.55,552.08 534.80,552.08 535.05,552.08 535.30,552.08 535.55,552.08 535.80,552.08 536.05,552.08 536.30,552.08 536.55,552.08 536.80,552.08 537.05,552.08 537.30,552.08 537.55,552.08 537.80,552.08 538.05,552.08 538.30,552.08 538.55,552.08 538.80,552.08 539.05,552.08 539.30,552.08 539.55,552.08 539.80,552.08 540.05,552.08 540.30,552.08 540.55,552.08 540.80,552.08 541.05,552.08 541.30,552.08 541.55,552.08 541.80,552.08 542.05,552.08 542.30,552.08 542.55,552.08 542.80,552.08 543.05,552.08 543.30,552.08 543.55,552.08 543.80,552.08 544.05,552.08 544.30,552.08 544.55,552.08 544.80,552.08 545.05,552.08 545.30,552.08 545.55,552.08 545.80,552.08 546.05,552.08 546.30,552.08 546.55,552.08 546.80,552.08 547.05,552.08 547.30,552.08 547.55,552.08 547.80,552.08 548.05,552.08 548.30,552.08 548.55,552.08 548.80,552.08 549.05,552.08 549.30,552.08 549.55,552.08 549.80,552.08 550.05,552.08 550.30,552.08 550.55,552.08 550.80,552.08 551.05,552.08 551.30,552.08 551.55,552.08 551.80,552.08 552.05,552.08 552.30,552.08 552.55,552.08 552.80,552.08 553.05,552.08 553.30,552.08 553.55,552.08 553.80,552.08 554.05,552.08 554.30,552.08 554.55,552.08 554.80,552.08 555.05,552.08 555.30,552.08 555.55,552.08 555.80,552.08 556.05,552.08 556.30,552.08 556.55,552.08 556.80,552.08 557.05,552.08 557.30,552.08 557.55,552.08 557.80,552.08 558.05,552.08 558.30,552.08 558.55,552.08 558.80,552.08 559.05,552.08 559.30,552.08 559.55,552.08 559.80,552.08 560.05,552.08 560.30,552.08 560.55,552.08 560.80,552.08 561.05,552.08 561.30,552.08 561.55,552.08 561.80,552.08 562.05,552.08 562.30,552.08 562.55,552.08 562.80,552.08 563.05,552.08 563.30,552.08 563.55,552.08 563.80,552.08 564.00,552.08 564.05,552.07 564.30,551.82 564.55,551.23 564.80,550.30 565.05,549.05 565.30,547.48 565.55,545.63 565.80,543.52 566.05,541.17 566.30,538.62 566.55,535.91 566.80,533.07 567.05,530.14 567.30,527.16 567.55,524.17 567.80,521.22 568.05,518.34 568.30,515.57 568.55,512.95 568.80,510.52 569.05,508.31 569.30,506.35 569.55,504.67 569.80,503.28 570.05,502.22 570.30,501.49 570.55,501.11 570.70,501.04 570.80,501.07 571.05,501.38 571.30,502.02 571.55,502.99 571.80,504.28 572.05,505.86 572.30,507.72 572.55,509.83 572.80,512.16 573.05,514.68 573.30,517.35 573.55,520.14 573.80,523.01 574.05,525.92 574.30,528.83 574.55,531.70 574.80,534.49 575.05,537.16 575.30,539.68 575.55,542.01 575.80,544.12 576.05,545.98 576.30,547.56 576.55,548.84 576.80,549.82 577.05,550.46 577.30,550.77 577.40,550.79 577.55,547.83 577.80,543.12 578.05,538.84 578.30,534.84 578.55,531.04 578.80,527.56 579.05,524.53 579.30,521.87 579.55,519.35 579.80,517.07 580.05,515.12 580.30,513.60 580.55,512.42 580.80,511.34 581.05,510.41 581.30,509.70 581.55,509.29 581.60,509.25 581.80,510.44 582.05,512.01 582.30,513.67 582.55,515.43 582.80,517.27 583.05,519.27 583.30,521.45 583.55,523.76 583.80,526.13 584.05,528.50 584.30,530.79 584.55,532.95 584.80,534.97 585.05,537.04 585.30,539.12 585.55,541.12 585.80,542.99 586.05,544.65 586.30,546.02 586.55,547.06 586.80,547.95 587.05,548.75 587.30,549.40 587.55,549.86 587.69,550.03 587.80,548.47 588.05,545.06 588.30,541.82 588.55,538.80 588.80,535.96 589.05,533.19 589.30,530.55 589.55,528.07 589.80,525.79 590.05,523.77 590.30,521.90 590.55,520.09 590.80,518.39 591.05,516.82 591.30,515.42 591.55,514.23 591.80,513.28 592.05,512.45 592.30,511.67 592.55,510.95 592.80,510.32 593.05,509.81 593.30,509.45 593.54,509.25 593.55,509.31 593.80,510.81 594.05,512.40 594.30,514.09 594.55,515.86 594.80,517.73 595.05,519.77 595.30,522.00 595.55,524.33 595.80,526.70 596.05,529.06 596.30,531.32 596.55,533.44 596.80,535.46 597.05,537.54 597.30,539.61 597.55,541.59 597.80,543.41 598.05,545.01 598.30,546.30 598.55,547.28 598.80,548.15 599.05,548.92 599.30,549.53 599.55,549.94 599.63,550.03 599.80,547.64 600.05,544.26 600.30,541.07 600.55,538.12 600.80,535.29 601.05,532.55 601.30,529.93 601.55,527.50 601.80,525.28 602.05,523.32 602.30,521.46 602.55,519.67 602.80,518.00 603.05,516.47 603.30,515.12 603.55,513.98 603.80,513.08 604.05,512.26 604.30,511.49 604.55,510.79 604.80,510.19 605.05,509.71 605.30,509.38 605.48,509.25 605.55,509.66 605.80,511.18 606.05,512.80 606.30,514.50 606.55,516.30 606.80,518.20 607.05,520.29 607.30,522.55 607.55,524.90 607.80,527.27 608.05,529.61 608.30,531.85 608.55,533.92 608.80,535.96 609.05,538.04 609.30,540.09 609.55,542.04 609.80,543.82 610.05,545.35 610.30,546.56 610.55,547.50 610.80,548.35 611.05,549.08 611.30,549.65 611.55,550.01 611.57,550.03 611.80,546.82 612.05,543.48 612.30,540.34 612.55,537.43 612.80,534.62 613.05,531.91 613.30,529.33 613.55,526.95 613.80,524.79 614.05,522.87 614.30,521.02 614.55,519.26 614.80,517.62 615.05,516.13 615.30,514.82 615.55,513.74 615.80,512.88 616.05,512.07 616.30,511.31 616.55,510.64 616.80,510.06 617.05,509.62 617.30,509.33 617.42,509.25 617.55,510.02 617.80,511.56 618.05,513.20 618.30,514.93 618.55,516.74 618.80,518.68 619.05,520.82 619.30,523.11 619.55,525.47 619.80,527.84 620.05,530.16 620.30,532.36 620.55,534.40 620.80,536.46 621.05,538.54 621.30,540.57 621.55,542.49 621.80,544.21 622.05,545.67 622.30,546.80 622.55,547.71 622.80,548.54 623.05,549.23 623.30,549.75 623.51,550.03 623.55,549.45 623.80,546.00 624.05,542.70 624.30,539.62 624.55,536.75 624.80,533.96 625.05,531.27 625.30,528.74 625.55,526.41 625.80,524.31 626.05,522.42 626.30,520.59 626.55,518.85 626.80,517.24 627.05,515.80 627.30,514.54 627.55,513.52 627.80,512.68 628.05,511.88 628.30,511.14 628.55,510.49 628.80,509.94 629.05,509.53 629.30,509.28 629.36,509.25 629.55,510.38 629.80,511.95 630.05,513.61 630.30,515.35 630.55,517.19 630.80,519.18 631.05,521.36 631.30,523.67 631.55,526.04 631.80,528.40 632.05,530.70 632.30,532.87 632.55,534.89 632.80,536.96 633.05,539.03 633.30,541.05 633.55,542.92 633.80,544.59 634.05,545.97 634.30,547.02 634.55,547.92 634.80,548.72 635.05,549.37 635.30,549.85 635.45,550.03 635.55,548.61 635.80,545.19 636.05,541.94 636.30,538.92 636.55,536.07 636.80,533.30 637.05,530.65 637.30,528.16 637.55,525.88 637.80,523.85 638.05,521.97 638.30,520.16 638.55,518.46 638.80,516.88 639.05,515.48 639.30,514.27 639.55,513.31 639.80,512.48 640.05,511.70 640.30,510.98 640.55,510.35 640.80,509.83 641.05,509.46 641.30,509.25 641.30,509.25 641.55,510.75 641.80,512.34 642.05,514.02 642.30,515.79 642.55,517.65 642.80,519.69 643.05,521.91 643.30,524.23 643.55,526.61 643.80,528.96 644.05,531.24 644.30,533.36 644.55,535.38 644.80,537.46 645.05,539.53 645.30,541.51 645.55,543.34 645.80,544.95 646.05,546.26 646.30,547.24 646.55,548.12 646.80,548.89 647.05,549.51 647.30,549.93 647.39,550.03 647.55,547.78 647.80,544.40 648.05,541.20 648.30,538.23 648.55,535.40 648.80,532.65 649.05,530.04 649.30,527.59 649.55,525.37 649.80,523.40 650.05,521.53 650.30,519.74 650.55,518.06 650.80,516.53 651.05,515.17 651.30,514.02 651.55,513.11 651.80,512.29 652.05,511.52 652.30,510.82 652.55,510.21 652.80,509.73 653.05,509.39 653.24,509.25 653.30,509.60 653.55,511.12 653.80,512.73 654.05,514.43 654.30,516.23 654.55,518.12 654.80,520.21 655.05,522.46 655.30,524.80 655.55,527.18 655.80,529.52 656.05,531.76 656.30,533.84 656.55,535.87 656.80,537.96 657.05,540.01 657.30,541.97 657.55,543.75 657.80,545.29 658.05,546.52 658.30,547.46 658.55,548.32 658.80,549.05 659.05,549.63 659.30,550.00 659.33,550.03 659.55,546.95 659.80,543.61 660.05,540.46 660.30,537.55 660.55,534.73 660.80,532.01 661.05,529.43 661.30,527.04 661.55,524.87 661.80,522.94 662.05,521.10 662.30,519.33 662.55,517.68 662.80,516.18 663.05,514.87 663.30,513.78 663.55,512.91 663.80,512.10 664.05,511.34 664.30,510.66 664.55,510.08 664.80,509.63 665.05,509.34 665.18,509.25 665.30,509.96 665.55,511.50 665.80,513.13 666.05,514.86 666.30,516.67 666.55,518.60 666.80,520.73 667.05,523.01 667.30,525.37 667.55,527.75 667.80,530.07 668.05,532.28 668.30,534.32 668.55,536.37 668.80,538.46 669.05,540.49 669.30,542.42 669.55,544.15 669.80,545.62 670.05,546.76 670.30,547.67 670.55,548.51 670.80,549.21 671.05,549.74 671.27,550.03 671.30,549.59 671.55,546.14 671.80,542.83 672.05,539.74 672.30,536.86 672.55,534.07 672.80,531.38 673.05,528.84 673.30,526.49 673.55,524.39 673.80,522.49 674.05,520.66 674.30,518.92 674.55,517.31 674.80,515.85 675.05,514.59 675.30,513.55 675.55,512.71 675.80,511.91 676.05,511.17 676.30,510.51 676.55,509.96 676.80,509.55 677.05,509.29 677.12,509.25 677.30,510.32 677.55,511.88 677.80,513.54 678.05,515.28 678.30,517.12 678.55,519.10 678.80,521.27 679.05,523.57 679.30,525.94 679.55,528.31 679.80,530.61 680.05,532.78 680.30,534.81 680.55,536.87 680.80,538.95 681.05,540.97 681.30,542.85 681.55,544.53 681.80,545.93 682.05,546.98 682.30,547.88 682.55,548.69 682.80,549.35 683.05,549.83 683.21,550.03 683.30,548.75 683.55,545.33 683.80,542.07 684.05,539.04 684.30,536.19 684.55,533.41 684.80,530.75 685.05,528.26 685.30,525.97 685.55,523.93 685.80,522.05 686.05,520.24 686.30,518.52 686.55,516.94 686.80,515.53 687.05,514.32 687.30,513.34 687.55,512.52 687.80,511.73 688.05,511.00 688.30,510.37 688.55,509.85 688.80,509.47 689.05,509.26 689.06,509.25 689.30,510.69 689.55,512.27 689.80,513.95 690.05,515.72 690.30,517.57 690.55,519.60 690.80,521.81 691.05,524.14 691.30,526.51 691.55,528.87 691.80,531.15 692.05,533.28 692.30,535.30 692.55,537.37 692.80,539.44 693.05,541.44 693.30,543.27 693.55,544.89 693.80,546.21 694.05,547.21 694.30,548.09 694.55,548.86 694.80,549.49 695.05,549.92 695.15,550.03 695.30,547.92 695.55,544.53 695.80,541.32 696.05,538.35 696.30,535.51 696.55,532.76 696.80,530.14 697.05,527.69 697.30,525.45 697.55,523.47 697.80,521.61 698.05,519.81 698.30,518.13 698.55,516.59 698.80,515.22 699.05,514.06 699.30,513.14 699.55,512.32 699.80,511.55 700.05,510.84 700.30,510.23 700.55,509.75 700.80,509.40 701.00,509.25 701.05,509.54 701.30,511.06 701.55,512.67 701.80,514.36 702.05,516.15 702.30,518.04 702.55,520.12 702.80,522.36 703.05,524.71 703.30,527.08 703.55,529.43 703.80,531.67 704.05,533.76 704.30,535.79 704.55,537.87 704.80,539.93 705.05,541.89 705.30,543.69 705.55,545.24 705.80,546.48 706.05,547.42 706.30,548.28 706.55,549.03 706.80,549.61 707.05,549.99 707.09,550.03 707.30,547.09 707.55,543.74 707.80,540.58 708.05,537.66 708.30,534.84 708.55,532.12 708.80,529.53 709.05,527.13 709.30,524.95 709.55,523.02 709.80,521.17 710.05,519.40 710.30,517.74 710.55,516.24 710.80,514.92 711.05,513.82 711.30,512.94 711.55,512.13 711.80,511.37 712.05,510.69 712.30,510.10 712.55,509.65 712.80,509.34 712.94,509.25 713.05,509.90 713.30,511.44 713.55,513.06 713.80,514.79 714.05,516.60 714.30,518.52 714.55,520.65 714.80,522.92 715.05,525.28 715.30,527.65 715.55,529.98 715.80,532.19 716.05,534.24 716.30,536.29 716.55,538.37 716.80,540.41 717.05,542.34 717.30,544.08 717.55,545.57 717.80,546.72 718.05,547.64 718.30,548.47 718.55,549.18 718.80,549.72 719.03,550.03 719.05,549.73 719.30,546.27 719.55,542.96 719.80,539.86 720.05,536.98 720.30,534.18 720.55,531.48 720.80,528.94 721.05,526.58 721.30,524.47 721.55,522.57 721.80,520.73 722.05,518.99 722.30,517.37 722.55,515.90 722.80,514.63 723.05,513.59 723.30,512.75 723.55,511.94 723.80,511.20 724.05,510.54 724.30,509.98 724.55,509.56 724.80,509.30 724.88,509.25 725.05,510.26 725.30,511.82 725.55,513.47 725.80,515.21 726.05,517.04 726.30,519.01 726.55,521.18 726.80,523.48 727.05,525.85 727.30,528.22 727.55,530.52 727.80,532.70 728.05,534.72 728.30,536.79 728.55,538.87 728.80,540.89 729.05,542.78 729.30,544.47 729.55,545.88 729.80,546.95 730.05,547.85 730.30,548.66 730.55,549.33 730.80,549.82 730.97,550.03 731.05,548.89 731.30,545.46 731.55,542.20 731.80,539.15 732.05,536.30 732.30,533.52 732.55,530.86 732.80,528.35 733.05,526.05 733.30,524.00 733.55,522.12 733.80,520.31 734.05,518.59 734.30,517.00 734.55,515.58 734.80,514.36 735.05,513.38 735.30,512.55 735.55,511.76 735.80,511.03 736.05,510.39 736.30,509.87 736.55,509.48 736.80,509.26 736.82,509.25 737.05,510.62 737.30,512.21 737.55,513.88 737.80,515.64 738.05,517.50 738.30,519.52 738.55,521.72 738.80,524.04 739.05,526.42 739.30,528.78 739.55,531.06 739.80,533.19 740.05,535.21 740.30,537.29 740.55,539.36 740.80,541.36 741.05,543.21 741.30,544.83 741.55,546.17 741.80,547.17 742.05,548.05 742.30,548.83 742.55,549.46 742.80,549.90 742.91,550.03 743.05,548.06 743.30,544.66 743.55,541.44 743.80,538.46 744.05,535.62 744.30,532.87 744.55,530.24 744.80,527.78 745.05,525.54 745.30,523.55 745.55,521.68 745.80,519.88 746.05,518.19 746.30,516.64 746.55,515.27 746.80,514.10 747.05,513.18 747.30,512.35 747.55,511.58 747.80,510.87 748.05,510.26 748.30,509.76 748.55,509.41 748.76,509.25 748.80,509.48 749.05,511.00 749.30,512.60 749.55,514.29 749.80,516.08 750.05,517.96 750.30,520.03 750.55,522.27 750.80,524.61 751.05,526.99 751.30,529.34 751.55,531.59 751.80,533.68 752.05,535.71 752.30,537.79 752.55,539.85 752.80,541.82 753.05,543.62 753.30,545.18 753.55,546.43 753.80,547.39 754.05,548.25 754.30,549.00 754.55,549.59 754.80,549.98 754.85,550.03 755.05,547.23 755.30,543.87 755.55,540.70 755.80,537.77 756.05,534.95 756.30,532.22 756.55,529.63 756.80,527.22 757.05,525.04 757.30,523.09 757.55,521.24 757.80,519.47 758.05,517.81 758.30,516.30 758.55,514.97 758.80,513.86 759.05,512.98 759.30,512.16 759.55,511.40 759.80,510.71 760.05,510.13 760.30,509.66 760.55,509.35 760.70,509.25 760.80,509.84 761.05,511.37 761.30,513.00 761.55,514.71 761.80,516.52 762.05,518.44 762.30,520.56 762.55,522.83 762.80,525.18 763.05,527.56 763.30,529.89 763.55,532.11 763.80,534.16 764.05,536.21 764.30,538.29 764.55,540.33 764.80,542.27 765.05,544.02 765.30,545.51 765.55,546.68 765.80,547.60 766.05,548.44 766.30,549.16 766.55,549.70 766.79,550.03 766.80,549.88 767.05,546.41 767.30,543.09 767.55,539.98 767.80,537.09 768.05,534.29 768.30,531.59 768.55,529.04 768.80,526.67 769.05,524.55 769.30,522.64 769.55,520.81 769.80,519.06 770.05,517.43 770.30,515.96 770.55,514.68 770.80,513.63 771.05,512.78 771.30,511.97 771.55,511.23 771.80,510.56 772.05,510.00 772.30,509.57 772.55,509.30 772.64,509.25 772.80,510.20 773.05,511.75 773.30,513.40 773.55,515.14 773.80,516.97 774.05,518.93 774.30,521.09 774.55,523.39 774.80,525.75 775.05,528.12 775.30,530.43 775.55,532.62 775.80,534.64 776.05,536.71"/>
<polyline stroke="#0000ff" points="468.30,519.00 468.55,523.07 468.80,526.65 469.05,529.78 469.30,532.53 469.55,534.94 469.80,537.06 470.05,538.91 470.30,540.53 470.55,541.95 470.80,543.20 471.05,544.30 471.30,545.26 471.55,546.10 471.80,546.83 472.05,547.48 472.30,548.05 472.55,548.54 472.80,548.98 473.05,549.36 473.30,549.70 473.55,549.99 473.80,550.25 474.05,550.47 474.30,550.67 474.55,550.84 474.80,551.00 475.05,551.13 475.30,551.25 475.55,551.35 475.80,551.44 476.05,551.52 476.30,551.59 476.55,551.65 476.80,551.70 477.05,551.75 477.30,551.79 477.55,551.82 477.80,551.85 478.05,551.88 478.30,551.91 478.55,551.93 478.80,551.95 479.05,551.96 479.30,551.98 479.55,551.99 479.80,552.00 480.05,552.01 480.30,552.02 480.55,552.02 480.80,552.03 481.05,552.04 481.30,552.04 481.55,552.05 481.80,552.05 482.05,552.05 482.30,552.06 482.55,552.06 482.80,552.06 483.05,552.06 483.30,552.06 483.55,552.07 483.80,552.07 484.05,552.07 484.30,552.07 484.55,552.07 484.80,552.07 485.05,552.07 485.30,552.07 485.55,552.07 485.80,552.07 486.05,552.07 486.30,552.07 486.55,552.07 486.80,552.07 487.05,552.08 487.30,552.08 487.55,552.08 487.80,552.08 488.05,552.08 488.30,552.08 488.55,552.08 488.80,552.08 489.05,552.08 489.30,552.08 489.55,552.08 489.80,552.08 490.05,552.08 490.30,552.08 490.55,552.08 490.80,552.08 491.05,552.08 491.30,552.08 491.55,552.08 491.80,552.08 492.05,552.08 492.30,552.08 492.55,552.08 492.80,552.08 493.05,552.08 493.30,552.08 493.55,552.08 493.80,552.08 494.05,552.08 494.30,552.08 494.55,552.08 494.80,552.08 495.05,552.08 495.30,552.08 495.55,552.08 495.80,552.08 496.05,552.08 496.30,552.08 496.55,552.08 496.80,552.08 497.05,552.08 497.30,552.08 497.55,552.08 497.80,552.08 498.05,552.08 498.30,552.08 498.55,552.08 498.80,552.08 499.05,552.08 499.30,552.08 499.55,552.08 499.80,552.08 500.05,552.08 500.30,552.08 500.55,552.08 500.80,552.08 501.05,552.08 501.30,552.08 501.55,552.08 501.80,552.08 502.05,552.08 502.30,552.08 502.55,552.08 502.80,552.08 503.05,552.08 503.30,552.08 503.55,552.08 503.80,552.08 504.05,552.08 504.30,552.08 504.55,552.08 504.80,552.08 505.05,552.08 505.30,552.08 505.55,552.08 505.80,552.08 506.05,552.08 506.30,552.08 506.55,552.08 506.80,552.08 507.05,552.08 507.30,552.08 507.55,552.08 507.80,552.08 508.05,552.08 508.30,552.08 508.55,552.08 508.80,552.08 509.05,552.08 509.30,552.08 509.55,552.08 509.80,552.08 510.05,552.08 510.30,552.08 510.55,552.08 510.80,552.08 511.05,552.08 511.30,552.08 511.55,552.08 511.80,552.08 512.05,552.08 512.30,552.08 512.55,552.08 512.80,552.08 513.05,552.08 513.30,552.08 513.55,552.08 513.80,552.08 514.05,552.08 514.30,552.08 514.55,552.08 514.80,552.08 515.05,552.08 515.30,552.08 515.55,552.08 515.80,552.08 516.05,552.08 516.30,552.08 516.55,552.08 516.80,552.08 517.05,552.08 517.30,552.08 517.55,552.08 517.80,552.08 518.05,552.08 518.30,552.08 518.55,552.08 518.80,552.08 519.05,552.08 519.30,552.08 519.55,552.08 519.80,552.08 520.05,552.08 520.30,552.08 520.55,552.08 520.80,552.08 521.05,552.08 521.30,552.08 521.55,552.08 521.80,552.08 522.05,552.08 522.30,552.08 522.55,552.08 522.80,552.08 523.05,552.08 523.30,552.08 523.55,552.08 523.80,552.08 524.05,552.08 524.30,552.08 524.55,552.08 524.80,552.08 525.05,552.08 525.30,552.08 525.55,552.08 525.80,552.08 526.05,552.08 526.30,552.08 526.55,552.08 526.80,552.08 527.05,552.08 527.30,552.08 527.55,552.08 527.80,552.08 528.05,552.08 528.30,552.08 528.55,552.08 528.80,552.08 529.05,552.08 529.30,552.08 529.55,552.08 529.80,552.08 530.05,552.08 530.30,552.08 530.55,552.08 530.80,552.08 531.05,552.08 531.30,552.08 531.55,552.08 531.80,552.08 532.05,552.08 532.30,552.08 532.55,552.08 532.80,552.08 533.05,552.08 533.30,552.08 533.55,552.08 533.80,552.08 534.05,552.08 534.30,552.08 534.55,552.08 534.80,552.08 535.05,552.08 535.30,552.08 535.55,552.08 535.80,552.08 536.05,552.08 536.30,552.08 536.55,552.08 536.80,552.08 537.05,552.08 537.30,552.08 537.55,552.08 537.80,552.08 538.05,552.08 538.30,552.08 538.55,552.08 538.80,552.08 539.05,552.08 539.30,552.08 539.55,552.08 539.80,552.08 540.05,552.08 540.30,552.08 540.55,552.08 540.80,552.08 541.05,552.08 541.30,552.08 541.55,552.08 541.80,552.08 542.05,552.08 542.30,552.08 542.55,552.08 542.80,552.08 543.05,552.08 543.30,552.08 543.55,552.08 543.80,552.08 544.05,552.08 544.30,552.08 544.55,552.08 544.80,552.08 545.05,552.08 545.30,552.08 545.55,552.08 545.80,552.08 546.05,552.08 546.30,552.08 546.55,552.08 546.80,552.08 547.05,552.08 547.30,552.08 547.55,552.08 547.80,552.08 548.05,552.08 548.30,552.08 548.55,552.08 548.80,552.08 549.05,552.08 549.30,552.08 549.55,552.08 549.80,552.08 550.05,552.08 550.30,552.08 550.55,552.08 550.80,552.08 551.05,552.08 551.30,552.08 551.55,552.08 551.80,552.08 552.05,552.08 552.30,552.08 552.55,552.08 552.80,552.08 553.05,552.08 553.30,552.08 553.55,552.08 553.80,552.08 554.05,552.08 554.30,552.08 554.55,552.08 554.80,552.08 555.05,552.08 555.30,552.08 555.55,552.08 555.80,552.08 556.05,552.08 556.30,552.08 556.55,552.08 556.80,552.08 557.05,552.08 557.30,552.08 557.55,552.08 557.80,552.08 558.05,552.08 558.30,552.08 558.55,552.08 558.80,552.08 559.05,552.08 559.30,552.08 559.55,552.08 559.80,552.08 560.05,552.08 560.30,552.08 560.55,552.08 560.80,552.08 561.05,552.08 561.30,552.08 561.55,552.08 561.80,552.08 562.05,552.08 562.30,552.08 562.55,552.08 562.60,552.08 562.80,551.93 563.05,551.34 563.30,550.30 563.55,548.84 563.80,546.98 564.05,544.75 564.30,542.19 564.55,539.35 564.80,536.28 565.05,533.03 565.30,529.66 565.55,526.23 565.80,522.80 566.05,519.43 566.30,516.18 566.55,513.10 566.80,510.26 567.05,507.71 567.30,505.48 567.55,503.62 567.80,502.15 568.05,501.12 568.30,500.52 568.50,500.38 568.55,500.38 568.80,500.58 569.05,501.06 569.30,501.82 569.55,502.84 569.80,504.12 570.05,505.64 570.30,507.39 570.55,509.34 570.80,511.47 571.05,513.76 571.30,516.19 571.55,518.72 571.80,521.33 572.05,523.98 572.30,526.66 572.55,529.32 572.80,531.94 573.05,534.49 573.30,536.94 573.55,539.26 573.80,541.42 574.05,543.41 574.30,545.20 574.55,546.77 574.80,548.10 575.05,549.17 575.30,549.98 575.55,550.52 575.80,550.77 575.90,550.79 576.05,547.52 576.30,542.37 576.55,537.73 576.80,533.37 577.05,529.31 577.30,525.72 577.55,522.67 577.80,519.84 578.05,517.27 578.30,515.10 578.55,513.46 578.80,512.17 579.05,511.01 579.30,510.07 579.55,509.44 579.70,509.25 579.80,509.84 580.05,511.37 580.30,513.00 580.55,514.71 580.80,516.52 581.05,518.44 581.30,520.56 581.55,522.83 581.80,525.18 582.05,527.56 582.30,529.89 582.55,532.11 582.80,534.16 583.05,536.21 583.30,538.29 583.55,540.33 583.80,542.27 584.05,544.02 584.30,545.51 584.55,546.68 584.80,547.60 585.05,548.44 585.30,549.16 585.55,549.70 585.79,550.03 585.80,549.88 586.05,546.41 586.30,543.09 586.55,539.98 586.80,537.09 587.05,534.29 587.30,531.59 587.55,529.04 587.80,526.67 588.05,524.55 588.30,522.64 588.55,520.81 588.80,519.06 589.05,517.43 589.30,515.96 589.55,514.68 589.80,513.63 590.05,512.78 590.30,511.97 590.55,511.23 590.80,510.56 591.05,510.00 591.30,509.57 591.55,509.30 591.64,509.25 591.80,510.20 592.05,511.75 592.30,513.40 592.55,515.14 592.80,516.97 593.05,518.93 593.30,521.09 593.55,523.39 593.80,525.75 594.05,528.12 594.30,530.43 594.55,532.62 594.80,534.64 595.05,536.71 595.30,538.79 595.55,540.81 595.80,542.71 596.05,544.40 596.30,545.83 596.55,546.91 596.80,547.81 597.05,548.63 597.30,549.30 597.55,549.80 597.73,550.03 597.80,549.03 598.05,545.59 598.30,542.32 598.55,539.27 598.80,536.41 599.05,533.63 599.30,530.96 599.55,528.45 599.80,526.14 600.05,524.08 600.30,522.20 600.55,520.38 600.80,518.65 601.05,517.06 601.30,515.63 601.55,514.41 601.80,513.41 602.05,512.58 602.30,511.79 602.55,511.06 602.80,510.42 603.05,509.89 603.30,509.49 603.55,509.27 603.58,509.25 603.80,510.56 604.05,512.14 604.30,513.81 604.55,515.57 604.80,517.42 605.05,519.43 605.30,521.63 605.55,523.95 605.80,526.32 606.05,528.69 606.30,530.97 606.55,533.11 606.80,535.13 607.05,537.21 607.30,539.28 607.55,541.28 607.80,543.13 608.05,544.77 608.30,546.12 608.55,547.13 608.80,548.02 609.05,548.80 609.30,549.44 609.55,549.89 609.67,550.03 609.80,548.20 610.05,544.79 610.30,541.57 610.55,538.57 610.80,535.74 611.05,532.98 611.30,530.34 611.55,527.88 611.80,525.62 612.05,523.62 612.30,521.75 612.55,519.95 612.80,518.26 613.05,516.70 613.30,515.32 613.55,514.15 613.80,513.21 614.05,512.39 614.30,511.61 614.55,510.90 614.80,510.28 615.05,509.78 615.30,509.42 615.52,509.25 615.55,509.43 615.80,510.93 616.05,512.53 616.30,514.22 616.55,516.01 616.80,517.88 617.05,519.95 617.30,522.18 617.55,524.52 617.80,526.89 618.05,529.24 618.30,531.50 618.55,533.60 618.80,535.63 619.05,537.71 619.30,539.77 619.55,541.74 619.80,543.55 620.05,545.12 620.30,546.39 620.55,547.35 620.80,548.22 621.05,548.97 621.30,549.57 621.55,549.97 621.61,550.03 621.80,547.37 622.05,544.00 622.30,540.83 622.55,537.89 622.80,535.06 623.05,532.33 623.30,529.73 623.55,527.31 623.80,525.12 624.05,523.17 624.30,521.31 624.55,519.54 624.80,517.87 625.05,516.35 625.30,515.02 625.55,513.90 625.80,513.01 626.05,512.19 626.30,511.43 626.55,510.74 626.80,510.15 627.05,509.68 627.30,509.36 627.46,509.25 627.55,509.78 627.80,511.31 628.05,512.93 628.30,514.64 628.55,516.45 628.80,518.36 629.05,520.47 629.30,522.73 629.55,525.09 629.80,527.46 630.05,529.80 630.30,532.02 630.55,534.08 630.80,536.12 631.05,538.21 631.30,540.25 631.55,542.19 631.80,543.95 632.05,545.46 632.30,546.64 632.55,547.57 632.80,548.41 633.05,549.13 633.30,549.68 633.55,550.03 633.55,550.02 633.80,546.54 634.05,543.22 634.30,540.10 634.55,537.20 634.80,534.40 635.05,531.69 635.30,529.13 635.55,526.76 635.80,524.63 636.05,522.72 636.30,520.88 636.55,519.12 636.80,517.49 637.05,516.02 637.30,514.73 637.55,513.67 637.80,512.81 638.05,512.01 638.30,511.26 638.55,510.59 638.80,510.02 639.05,509.59 639.30,509.31 639.40,509.25 639.55,510.14 639.80,511.69 640.05,513.33 640.30,515.07 640.55,516.89 640.80,518.85 641.05,521.00 641.30,523.29 641.55,525.66 641.80,528.03 642.05,530.34 642.30,532.53 642.55,534.56 642.80,536.62 643.05,538.70 643.30,540.73 643.55,542.63 643.80,544.34 644.05,545.77 644.30,546.87 644.55,547.78 644.80,548.60 645.05,549.28 645.30,549.79 645.49,550.03 645.55,549.17 645.80,545.73 646.05,542.45 646.30,539.39 646.55,536.52 646.80,533.74 647.05,531.06 647.30,528.55 647.55,526.23 647.80,524.16 648.05,522.27 648.30,520.45 648.55,518.72 648.80,517.12 649.05,515.69 649.30,514.45 649.55,513.45 649.80,512.61 650.05,511.82 650.30,511.09 650.55,510.44 650.80,509.91 651.05,509.51 651.30,509.27 651.34,509.25 651.55,510.50 651.80,512.08 652.05,513.74 652.30,515.50 652.55,517.35 652.80,519.35 653.05,521.54 653.30,523.86 653.55,526.23 653.80,528.59 654.05,530.88 654.30,533.03 654.55,535.05 654.80,537.12 655.05,539.20 655.30,541.20 655.55,543.06 655.80,544.71 656.05,546.07 656.30,547.09 656.55,547.99 656.80,548.78 657.05,549.42 657.30,549.88 657.43,550.03 657.55,548.33 657.80,544.93 658.05,541.69 658.30,538.69 658.55,535.85 658.80,533.08 659.05,530.44 659.30,527.97 659.55,525.71 659.80,523.70 660.05,521.83 660.30,520.02 660.55,518.32 660.80,516.76 661.05,515.37 661.30,514.19 661.55,513.24 661.80,512.42 662.05,511.64 662.30,510.92 662.55,510.30 662.80,509.80 663.05,509.44 663.28,509.25 663.30,509.37 663.55,510.87 663.80,512.47 664.05,514.16 664.30,515.93 664.55,517.81 664.80,519.86 665.05,522.09 665.30,524.42 665.55,526.80 665.80,529.15 666.05,531.41 666.30,533.52 666.55,535.54 666.80,537.62 667.05,539.69 667.30,541.67 667.55,543.48 667.80,545.07 668.05,546.35 668.30,547.32 668.55,548.19 668.80,548.94 669.05,549.55 669.30,549.95 669.37,550.03 669.55,547.50 669.80,544.13 670.05,540.95 670.30,538.00 670.55,535.18 670.80,532.44 671.05,529.83 671.30,527.41 671.55,525.20 671.80,523.25 672.05,521.39 672.30,519.60 672.55,517.93 672.80,516.41 673.05,515.07 673.30,513.94 673.55,513.04 673.80,512.23 674.05,511.46 674.30,510.76 674.55,510.17 674.80,509.70 675.05,509.37 675.22,509.25 675.30,509.72 675.55,511.25 675.80,512.86 676.05,514.57 676.30,516.37 676.55,518.28 676.80,520.38 677.05,522.64 677.30,524.99 677.55,527.37 677.80,529.70 678.05,531.93 678.30,534.00 678.55,536.04 678.80,538.12 679.05,540.17 679.30,542.12 679.55,543.89 679.80,545.40 680.05,546.60 680.30,547.53 680.55,548.38 680.80,549.11 681.05,549.67 681.30,550.02 681.31,550.03 681.55,546.68 681.80,543.35 682.05,540.22 682.30,537.32 682.55,534.51 682.80,531.80 683.05,529.23 683.30,526.85 683.55,524.71 683.80,522.79 684.05,520.95 684.30,519.19 684.55,517.55 684.80,516.07 685.05,514.78 685.30,513.70 685.55,512.84 685.80,512.04 686.05,511.28 686.30,510.61 686.55,510.04 686.80,509.60 687.05,509.32 687.16,509.25 687.30,510.08 687.55,511.63 687.80,513.27 688.05,515.00 688.30,516.82 688.55,518.77 688.80,520.91 689.05,523.20 689.30,525.56 689.55,527.93 689.80,530.25 690.05,532.45 690.30,534.48 690.55,536.54 690.80,538.62 691.05,540.65 691.30,542.56 691.55,544.28 691.80,545.72 692.05,546.83 692.30,547.74 692.55,548.57 692.80,549.26 693.05,549.77 693.25,550.03 693.30,549.31 693.55,545.86 693.80,542.58 694.05,539.50 694.30,536.64 694.55,533.85 694.80,531.17 695.05,528.64 695.30,526.32 695.55,524.23 695.80,522.35 696.05,520.52 696.30,518.79 696.55,517.18 696.80,515.74 697.05,514.50 697.30,513.48 697.55,512.65 697.80,511.85 698.05,511.11 698.30,510.46 698.55,509.92 698.80,509.52 699.05,509.28 699.10,509.25 699.30,510.44 699.55,512.01 699.80,513.67 700.05,515.43 700.30,517.27 700.55,519.27 700.80,521.45 701.05,523.76 701.30,526.13 701.55,528.50 701.80,530.79 702.05,532.95 702.30,534.97 702.55,537.04 702.80,539.12 703.05,541.12 703.30,542.99 703.55,544.65 703.80,546.02 704.05,547.06 704.30,547.95 704.55,548.75 704.80,549.40 705.05,549.86 705.19,550.03 705.30,548.47 705.55,545.06 705.80,541.82 706.05,538.80 706.30,535.96 706.55,533.19 706.80,530.55 707.05,528.07 707.30,525.79 707.55,523.77 707.80,521.90 708.05,520.09 708.30,518.39 708.55,516.82 708.80,515.42 709.05,514.23 709.30,513.28 709.55,512.45 709.80,511.67 710.05,510.95 710.30,510.32 710.55,509.81 710.80,509.45 711.04,509.25 711.05,509.31 711.30,510.81 711.55,512.40 711.80,514.09 712.05,515.86 712.30,517.73 712.55,519.77 712.80,522.00 713.05,524.33 713.30,526.70 713.55,529.06 713.80,531.32 714.05,533.44 714.30,535.46 714.55,537.54 714.80,539.61 715.05,541.59 715.30,543.41 715.55,545.01 715.80,546.30 716.05,547.28 716.30,548.15 716.55,548.92 716.80,549.53 717.05,549.94 717.13,550.03 717.30,547.64 717.55,544.26 717.80,541.07 718.05,538.12 718.30,535.29 718.55,532.55 718.80,529.93 719.05,527.50 719.30,525.28 719.55,523.32 719.80,521.46 720.05,519.67 720.30,518.00 720.55,516.47 720.80,515.12 721.05,513.98 721.30,513.08 721.55,512.26 721.80,511.49 722.05,510.79 722.30,510.19 722.55,509.71 722.80,509.38 722.98,509.25 723.05,509.66 723.30,511.18 723.55,512.80 723.80,514.50 724.05,516.30 724.30,518.20 724.55,520.29 724.80,522.55 725.05,524.90 725.30,527.27 725.55,529.61 725.80,531.85 726.05,533.92 726.30,535.96 726.55,538.04 726.80,540.09 727.05,542.04 727.30,543.82 727.55,545.35 727.80,546.56 728.05,547.50 728.30,548.35 728.55,549.08 728.80,549.65 729.05,550.01 729.07,550.03 729.30,546.82 729.55,543.48 729.80,540.34 730.05,537.43 730.30,534.62 730.55,531.91 730.80,529.33 731.05,526.95 731.30,524.79 731.55,522.87 731.80,521.02 732.05,519.26 732.30,517.62 732.55,516.13 732.80,514.82 733.05,513.74 733.30,512.88 733.55,512.07 733.80,511.31 734.05,510.64 734.30,510.06 734.55,509.62 734.80,509.33 734.92,509.25 735.05,510.02 735.30,511.56 735.55,513.20 735.80,514.93 736.05,516.74 736.30,518.68 736.55,520.82 736.80,523.11 737.05,525.47 737.30,527.84 737.55,530.16 737.80,532.36 738.05,534.40 738.30,536.46 738.55,538.54 738.80,540.57 739.05,542.49 739.30,544.21 739.55,545.67 739.80,546.80 740.05,547.71 740.30,548.54 740.55,549.23 740.80,549.75 741.01,550.03 741.05,549.45 741.30,546.00 741.55,542.70 741.80,539.62 742.05,536.75 742.30,533.96 742.55,531.27 742.80,528.74 743.05,526.41 743.30,524.31 743.55,522.42 743.80,520.59 744.05,518.85 744.30,517.24 744.55,515.80 744.80,514.54 745.05,513.52 745.30,512.68 745.55,511.88 745.80,511.14 746.05,510.49 746.30,509.94 746.55,509.53 746.80,509.28 746.86,509.25 747.05,510.38 747.30,511.95 747.55,513.61 747.80,515.35 748.05,517.19 748.30,519.18 748.55,521.36 748.80,523.67 749.05,526.04 749.30,528.40 749.55,530.70 749.80,532.87 750.05,534.89 750.30,536.96 750.55,539.03 750.80,541.05 751.05,542.92 751.30,544.59 751.55,545.97 751.80,547.02 752.05,547.92 752.30,548.72 752.55,549.37 752.80,549.85 752.95,550.03 753.05,548.61 753.30,545.19 753.55,541.94 753.80,538.92 754.05,536.07 754.30,533.30 754.55,530.65 754.80,528.16 755.05,525.88 755.30,523.85 755.55,521.97 755.80,520.16 756.05,518.46 756.30,516.88 756.55,515.48 756.80,514.27 757.05,513.31 757.30,512.48 757.55,511.70 757.80,510.98 758.05,510.35 758.30,509.83 758.55,509.46 758.80,509.25 758.80,509.25 759.05,510.75 759.30,512.34 759.55,514.02 759.80,515.79 760.05,517.65 760.30,519.69 760.55,521.91 760.80,524.23 761.05,526.61 761.30,528.96 761.55,531.24 761.80,533.36 762.05,535.38 762.30,537.46 762.55,539.53 762.80,541.51 763.05,543.34 763.30,544.95 763.55,546.26 763.80,547.24 764.05,548.12 764.30,548.89 764.55,549.51 764.80,549.93 764.89,550.03 765.05,547.78 765.30,544.40 765.55,541.20 765.80,538.23 766.05,535.40 766.30,532.65 766.55,530.04 766.80,527.59 767.05,525.37 767.30,523.40 767.55,521.53 767.80,519.74 768.05,518.06 768.30,516.53 768.55,515.17 768.80,514.02 769.05,513.11 769.30,512.29 769.55,511.52 769.80,510.82 770.05,510.21 770.30,509.73 770.55,509.39 770.74,509.25 770.80,509.60 771.05,511.12 771.30,512.73 771.55,514.43 771.80,516.23 772.05,518.12 772.30,520.21 772.55,522.46 772.80,524.80 773.05,527.18 773.30,529.52 773.55,531.76 773.80,533.84 774.05,535.87 774.30,537.96 774.55,540.01 774.80,541.97 775.05,543.75 775.30,545.29 775.55,546.52 775.80,547.46 776.05,548.32"/>
</g>
<text x="462.30" y="364" text-anchor="end">2</text>
<text x="462.30" y="389" text-anchor="end">1.5</text>
<text x="462.30" y="415" text-anchor="end">1</text>
<text x="462.30" y="441" text-anchor="end">0.5</text>
<text x="462.30" y="466" text-anchor="end">0</text>
<text x="462.30" y="492" text-anchor="end">-0.5</text>
<text x="462.30" y="518" text-anchor="end">-1</text>
<text x="462.30" y="543" text-anchor="end">-1.5</text>
<text x="462.30" y="569" text-anchor="end">-2</text>
<text x="462.30" y="595" text-anchor="end">-2.5</text>
<text x="468.30" y="604.10" text-anchor="middle">0</text>
<text x="529.88" y="604.10" text-anchor="middle">20</text>
<text x="591.46" y="604.10" text-anchor="middle">40</text>
<text x="653.04" y="604.10" text-anchor="middle">60</text>
<text x="714.62" y="604.10" text-anchor="middle">80</text>
<text x="776.20" y="604.10" text-anchor="middle">100</text>
<text x="622.25" y="614.10" text-anchor="middle">t</text>
<text x="426.30" y="348.00" font-size="13.7">xEj,xIj</text>
<g class="cp"><text x="99.60" y="309" font-weight="bold" font-size="15">(a)</text>
<text transform="translate(121.60,309) scale(0.969,1)" font-size="15">Antiphase</text>
<text transform="translate(185.60,309) scale(0.978,1)" font-size="15">periodic</text>
<text x="237.90" y="309" font-size="15">orbit,</text>
<text transform="translate(274.00,309) scale(1.267,1)" font-style="italic" style="stroke-width:0.05px" font-size="15">τ</text>
<text transform="translate(280.57,312) scale(1.033,1)" font-size="10">1</text>
<text transform="translate(291.07,310) scale(1.029,1)" font-size="15">=</text>
<text transform="translate(305.00,309) scale(1.183,1)" font-style="italic" style="stroke-width:0.05px" font-size="15">τ</text>
<text transform="translate(312.10,312) scale(0.740,1)" font-size="10">2</text>
<text transform="translate(321.56,310) scale(1.043,1)" font-size="15">=</text>
<text transform="translate(335.37,309) scale(0.928,1)" font-size="15">1.5</text>
<text transform="translate(482.00,309) scale(0.944,1)" font-weight="bold" font-size="15">(b)</text>
<text transform="translate(502.72,309) scale(1.082,1)" font-size="15">In</text>
<text transform="translate(520.40,309) scale(0.982,1)" font-size="15">phase</text>
<text transform="translate(558.20,309) scale(0.978,1)" font-size="15">periodic</text>
<text x="611.10" y="309" font-size="15">orbit,</text>
<text transform="translate(646.30,309) scale(1.250,1)" font-style="italic" style="stroke-width:0.05px" font-size="15">τ</text>
<text transform="translate(652.70,312) scale(1.100,1)" font-size="10">1</text>
<text transform="translate(663.56,310) scale(1.043,1)" font-size="15">=</text>
<text transform="translate(677.30,309) scale(1.283,1)" font-style="italic" style="stroke-width:0.05px" font-size="15">τ</text>
<text transform="translate(685.20,312) scale(0.740,1)" font-size="10">2</text>
<text transform="translate(694.47,310) scale(1.029,1)" font-size="15">=</text>
<text transform="translate(707.63,309) scale(0.972,1)" font-size="15">3.5</text>
<text transform="translate(80.40,636) scale(0.950,1)" font-weight="bold" font-size="15">(c)</text>
<text transform="translate(99.60,636) scale(1.018,1)" font-size="15">Out</text>
<text transform="translate(126.20,636) scale(0.846,1)" font-size="15">of</text>
<text transform="translate(142.70,636) scale(0.968,1)" font-size="15">phase</text>
<text transform="translate(180.20,636) scale(0.971,1)" font-size="15">periodic</text>
<text transform="translate(232.70,636) scale(0.977,1)" font-size="15">orbit,</text>
<text transform="translate(268.00,636) scale(1.233,1)" font-style="italic" style="stroke-width:0.05px" font-size="15">τ</text>
<text transform="translate(274.47,639) scale(1.033,1)" font-size="10">1</text>
<text transform="translate(285.77,637) scale(1.029,1)" font-size="15">=</text>
<text transform="translate(299.40,636) scale(0.918,1)" font-size="15">0.5,</text>
<text transform="translate(324.60,636) scale(1.233,1)" font-style="italic" style="stroke-width:0.05px" font-size="15">τ</text>
<text transform="translate(332.20,639) scale(0.720,1)" font-size="10">2</text>
<text transform="translate(341.47,637) scale(1.029,1)" font-size="15">=</text>
<text transform="translate(355.60,636) scale(0.926,1)" font-size="15">2.5</text>
<text transform="translate(457.00,636) scale(0.956,1)" font-weight="bold" font-size="15">(d)</text>
<text transform="translate(478.40,636) scale(1.023,1)" font-size="15">Out</text>
<text transform="translate(504.90,636) scale(0.846,1)" font-size="15">of</text>
<text transform="translate(521.40,636) scale(0.968,1)" font-size="15">phase</text>
<text transform="translate(559.00,636) scale(0.935,1)" font-size="15">periodic</text>
<text transform="translate(610.70,636) scale(0.977,1)" font-size="15">orbit,</text>
<text transform="translate(648.40,636) scale(1.100,1)" font-style="italic" style="stroke-width:0.05px" font-size="15">τ</text>
<text transform="translate(653.63,639) scale(0.967,1)" font-size="10">1</text>
<text transform="translate(664.27,637) scale(1.029,1)" font-size="15">=</text>
<text transform="translate(677.60,636) scale(0.945,1)" font-size="15">2.9,</text>
<text transform="translate(704.00,636) scale(1.100,1)" font-style="italic" style="stroke-width:0.05px" font-size="15">τ</text>
<text transform="translate(710.60,639) scale(0.720,1)" font-size="10">2</text>
<text transform="translate(720.67,637) scale(1.029,1)" font-size="15">=</text>
<text transform="translate(734.20,636) scale(0.894,1)" font-size="15">4.1</text></g>
</svg>
</body></html>
